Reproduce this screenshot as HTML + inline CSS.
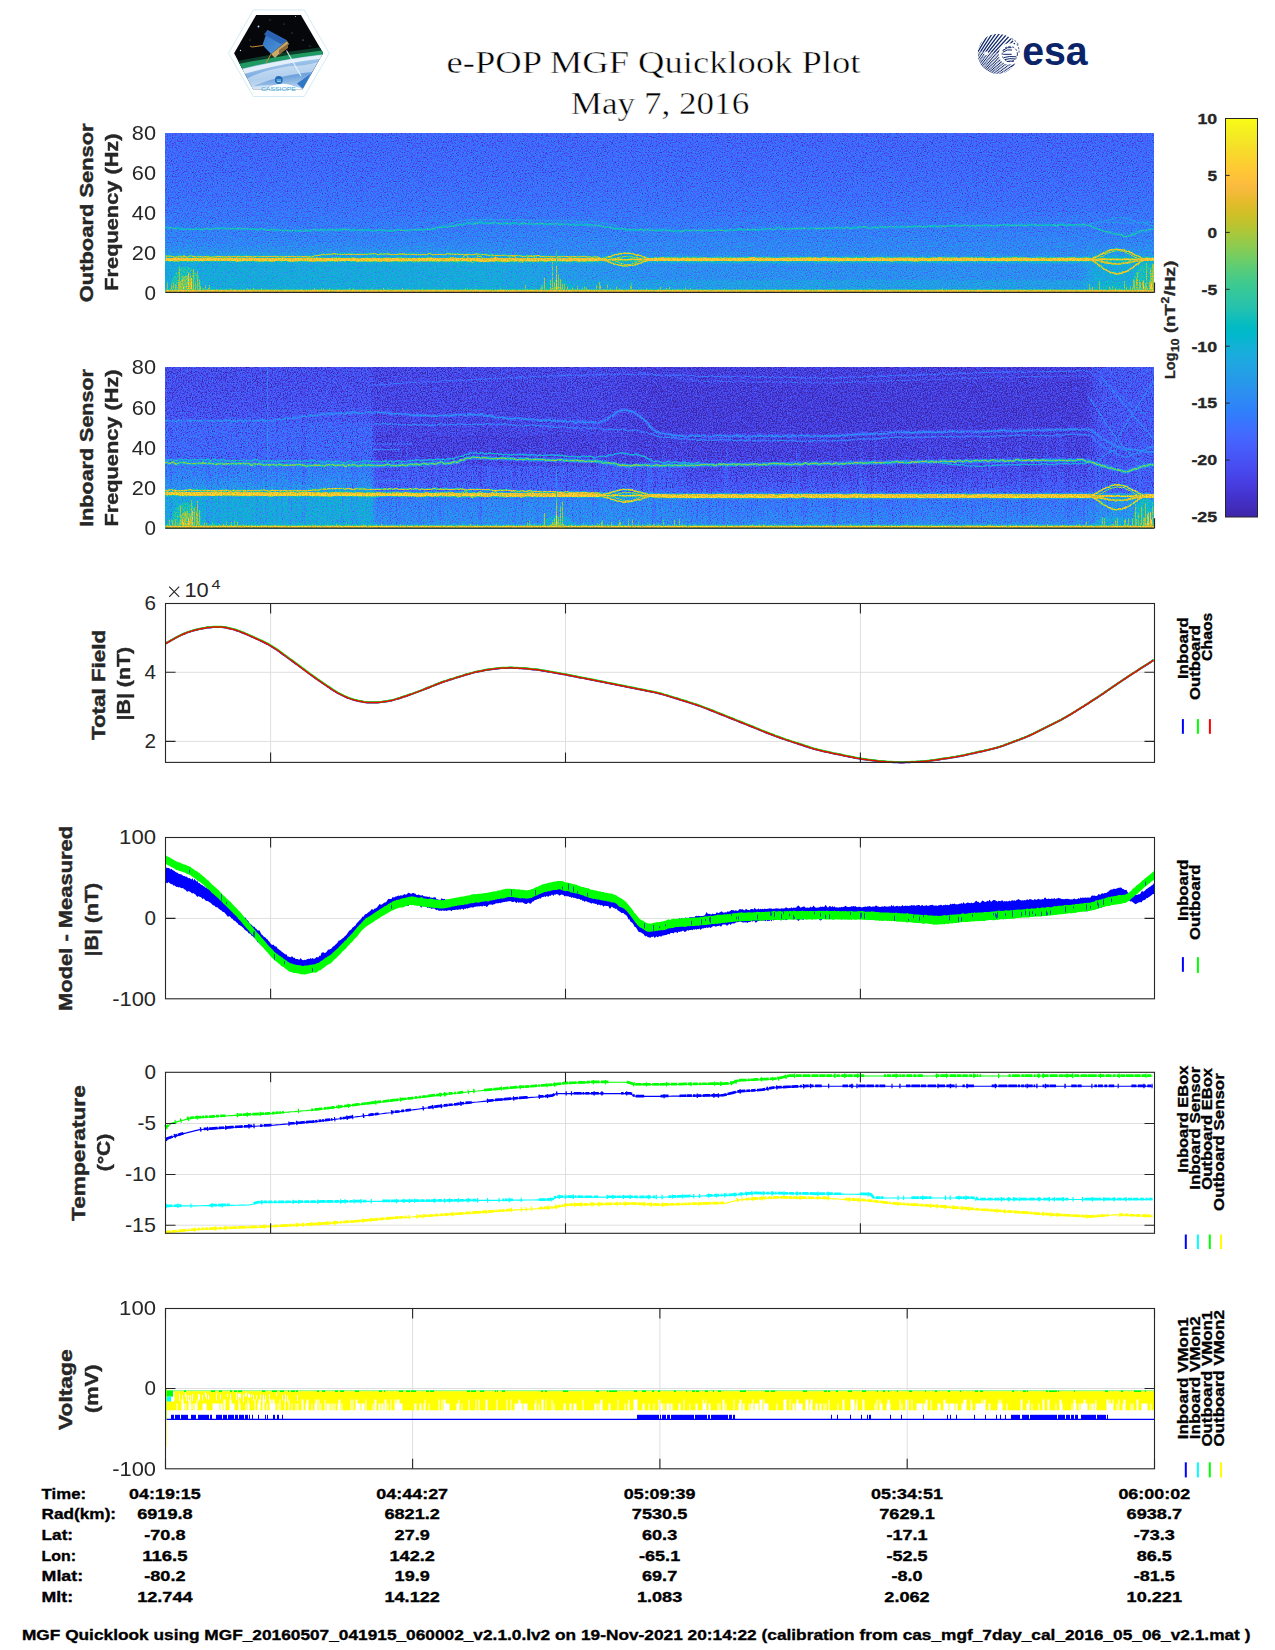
<!DOCTYPE html>
<html><head><meta charset="utf-8"><title>e-POP MGF Quicklook Plot</title>
<style>html,body{margin:0;padding:0;background:#fff;overflow:hidden}svg{display:block}text{font-family:"Liberation Sans",sans-serif}</style></head>
<body>
<svg width="1275" height="1650" viewBox="0 0 1275 1650" font-family="Liberation Sans, sans-serif">
<rect width="1275" height="1650" fill="#fff"/>
<defs>
<clipPath id="hexc"><polygon points="234.1,53.3 256.2,14.9 300.9,14.9 323.1,53 302.6,89.2 253,89.2"/></clipPath>
<linearGradient id="earthg" x1="0" y1="0" x2="0.25" y2="1"><stop offset="0" stop-color="#e2effb"/><stop offset="0.3" stop-color="#a4c8ec"/><stop offset="0.65" stop-color="#6fa3dc"/><stop offset="1" stop-color="#c4dcf3"/></linearGradient>
<linearGradient id="satg" x1="0" y1="0" x2="1" y2="1"><stop offset="0" stop-color="#2f6fc0"/><stop offset="1" stop-color="#4f97dc"/></linearGradient>
<clipPath id="esac"><circle cx="997.8" cy="53.7" r="20.0"/></clipPath>
<linearGradient id="cbg" x1="0" y1="0" x2="0" y2="1"><stop offset="0.0000" stop-color="#f9fb15"/><stop offset="0.0159" stop-color="#f7f51b"/><stop offset="0.0317" stop-color="#f6ef20"/><stop offset="0.0476" stop-color="#f5e924"/><stop offset="0.0635" stop-color="#f5e327"/><stop offset="0.0794" stop-color="#f7dc2a"/><stop offset="0.0952" stop-color="#fad62d"/><stop offset="0.1111" stop-color="#fccf30"/><stop offset="0.1270" stop-color="#fec934"/><stop offset="0.1429" stop-color="#fec338"/><stop offset="0.1587" stop-color="#febe3c"/><stop offset="0.1746" stop-color="#f8ba3d"/><stop offset="0.1905" stop-color="#f0ba36"/><stop offset="0.2063" stop-color="#e6bb2d"/><stop offset="0.2222" stop-color="#dcbd29"/><stop offset="0.2381" stop-color="#d1bf27"/><stop offset="0.2540" stop-color="#c5c22a"/><stop offset="0.2698" stop-color="#b9c431"/><stop offset="0.2857" stop-color="#abc739"/><stop offset="0.3016" stop-color="#9dc943"/><stop offset="0.3175" stop-color="#8fcb4e"/><stop offset="0.3333" stop-color="#81cc59"/><stop offset="0.3492" stop-color="#72cd64"/><stop offset="0.3651" stop-color="#64cd6f"/><stop offset="0.3810" stop-color="#57cc7a"/><stop offset="0.3968" stop-color="#4acb84"/><stop offset="0.4127" stop-color="#3fca8e"/><stop offset="0.4286" stop-color="#37c897"/><stop offset="0.4444" stop-color="#31c69f"/><stop offset="0.4603" stop-color="#2cc4a7"/><stop offset="0.4762" stop-color="#24c1ae"/><stop offset="0.4921" stop-color="#19bfb6"/><stop offset="0.5079" stop-color="#0bbdbd"/><stop offset="0.5238" stop-color="#02bac3"/><stop offset="0.5397" stop-color="#01b8ca"/><stop offset="0.5556" stop-color="#08b5d0"/><stop offset="0.5714" stop-color="#12b1d6"/><stop offset="0.5873" stop-color="#18addb"/><stop offset="0.6032" stop-color="#1ca9df"/><stop offset="0.6190" stop-color="#20a5e3"/><stop offset="0.6349" stop-color="#23a0e5"/><stop offset="0.6508" stop-color="#259be8"/><stop offset="0.6667" stop-color="#2797eb"/><stop offset="0.6825" stop-color="#2b91ef"/><stop offset="0.6984" stop-color="#2d8cf3"/><stop offset="0.7143" stop-color="#2e87f7"/><stop offset="0.7302" stop-color="#2f81fa"/><stop offset="0.7460" stop-color="#327cfc"/><stop offset="0.7619" stop-color="#3875fe"/><stop offset="0.7778" stop-color="#3e6fff"/><stop offset="0.7937" stop-color="#4269fe"/><stop offset="0.8095" stop-color="#4563fd"/><stop offset="0.8254" stop-color="#465efb"/><stop offset="0.8413" stop-color="#4758f8"/><stop offset="0.8571" stop-color="#4852f4"/><stop offset="0.8730" stop-color="#484df0"/><stop offset="0.8889" stop-color="#4747eb"/><stop offset="0.9048" stop-color="#4741e5"/><stop offset="0.9206" stop-color="#463cde"/><stop offset="0.9365" stop-color="#4537d5"/><stop offset="0.9524" stop-color="#4332cb"/><stop offset="0.9683" stop-color="#422ec0"/><stop offset="0.9841" stop-color="#402ab4"/><stop offset="1.0000" stop-color="#3e26a8"/></linearGradient>
<filter id="par1" filterUnits="userSpaceOnUse" x="165.0" y="133.0" width="988.8" height="159.4" color-interpolation-filters="sRGB">
<feTurbulence type="fractalNoise" baseFrequency="0.8" numOctaves="2" seed="7" result="n"/>
<feColorMatrix in="n" type="matrix" values="1 0 0 0 0  1 0 0 0 0  1 0 0 0 0  0 0 0 0 1" result="ng"/>
<feComponentTransfer in="ng" result="ns"><feFuncR type="table" tableValues="0 0.22 0.5 0.66 0.8"/><feFuncG type="table" tableValues="0 0.22 0.5 0.66 0.8"/><feFuncB type="table" tableValues="0 0.22 0.5 0.66 0.8"/></feComponentTransfer>
<feComposite in="SourceGraphic" in2="ns" operator="arithmetic" k1="0" k2="1" k3="0.56" k4="-0.2716" result="v"/>
<feComponentTransfer in="v"><feFuncR type="table" tableValues="0.242 0.250 0.258 0.265 0.271 0.275 0.278 0.280 0.281 0.281 0.280 0.276 0.270 0.260 0.244 0.221 0.196 0.183 0.179 0.176 0.169 0.154 0.146 0.138 0.125 0.111 0.095 0.069 0.030 0.004 0.007 0.043 0.096 0.141 0.172 0.194 0.216 0.247 0.291 0.341 0.391 0.446 0.504 0.562 0.617 0.672 0.724 0.774 0.820 0.863 0.903 0.939 0.973 0.996 0.997 0.995 0.989 0.979 0.968 0.961 0.960 0.963 0.969 0.977"/><feFuncG type="table" tableValues="0.150 0.165 0.182 0.198 0.215 0.234 0.256 0.278 0.301 0.323 0.345 0.367 0.389 0.412 0.436 0.460 0.485 0.507 0.529 0.550 0.570 0.590 0.609 0.628 0.646 0.663 0.680 0.695 0.708 0.720 0.731 0.741 0.750 0.758 0.767 0.776 0.784 0.792 0.797 0.801 0.803 0.802 0.799 0.794 0.788 0.779 0.770 0.760 0.750 0.741 0.733 0.729 0.730 0.743 0.766 0.789 0.814 0.839 0.864 0.889 0.913 0.937 0.961 0.984"/><feFuncB type="table" tableValues="0.660 0.708 0.751 0.795 0.836 0.871 0.899 0.922 0.941 0.958 0.972 0.983 0.991 0.995 0.999 0.997 0.989 0.980 0.968 0.952 0.936 0.922 0.908 0.897 0.888 0.876 0.860 0.839 0.816 0.792 0.766 0.739 0.712 0.684 0.655 0.625 0.592 0.557 0.519 0.479 0.435 0.391 0.348 0.304 0.261 0.223 0.191 0.165 0.153 0.160 0.177 0.210 0.239 0.237 0.220 0.203 0.189 0.177 0.164 0.154 0.142 0.127 0.106 0.081"/></feComponentTransfer>
</filter>
<linearGradient id="s1g" x1="0" y1="0" x2="0" y2="1"><stop offset="0.0000" stop-color="#323232"/><stop offset="0.2500" stop-color="#353535"/><stop offset="0.4375" stop-color="#3a3a3a"/><stop offset="0.5500" stop-color="#3f3f3f"/><stop offset="0.6250" stop-color="#444444"/><stop offset="0.6875" stop-color="#494949"/><stop offset="0.7375" stop-color="#525252"/><stop offset="0.7688" stop-color="#5d5d5d"/><stop offset="0.7875" stop-color="#636363"/><stop offset="0.8187" stop-color="#666666"/><stop offset="0.9500" stop-color="#676767"/><stop offset="0.9812" stop-color="#717171"/><stop offset="1.0000" stop-color="#7c7c7c"/></linearGradient>
<linearGradient id="s1h" gradientUnits="userSpaceOnUse" x1="165.5" y1="0" x2="1154.5" y2="0"><stop offset="0.0000" stop-color="#4c4c4c" stop-opacity="0"/><stop offset="0.3180" stop-color="#4c4c4c" stop-opacity="0.0"/><stop offset="0.3989" stop-color="#4c4c4c" stop-opacity="0.45"/><stop offset="0.4798" stop-color="#4c4c4c" stop-opacity="0.85"/><stop offset="0.9247" stop-color="#4c4c4c" stop-opacity="0.9"/><stop offset="0.9408" stop-color="#4c4c4c" stop-opacity="0"/><stop offset="1.0000" stop-color="#4c4c4c" stop-opacity="0"/></linearGradient>
<linearGradient id="s1h3" gradientUnits="userSpaceOnUse" x1="165.5" y1="0" x2="1154.5" y2="0"><stop offset="0.0000" stop-color="#595959" stop-opacity="0"/><stop offset="0.3180" stop-color="#595959" stop-opacity="0.0"/><stop offset="0.3989" stop-color="#595959" stop-opacity="0.4"/><stop offset="0.4798" stop-color="#595959" stop-opacity="0.8"/><stop offset="0.9247" stop-color="#595959" stop-opacity="0.85"/><stop offset="0.9408" stop-color="#595959" stop-opacity="0"/><stop offset="1.0000" stop-color="#595959" stop-opacity="0"/></linearGradient>
<linearGradient id="s1h2" gradientUnits="userSpaceOnUse" x1="165.5" y1="0" x2="1154.5" y2="0"><stop offset="0.0000" stop-color="#444444" stop-opacity="0"/><stop offset="0.2978" stop-color="#444444" stop-opacity="0.0"/><stop offset="0.3787" stop-color="#444444" stop-opacity="0.5"/><stop offset="0.9247" stop-color="#444444" stop-opacity="0.55"/><stop offset="0.9408" stop-color="#444444" stop-opacity="0"/><stop offset="1.0000" stop-color="#444444" stop-opacity="0"/></linearGradient>
<linearGradient id="s1h4" gradientUnits="userSpaceOnUse" x1="165.5" y1="0" x2="1154.5" y2="0"><stop offset="0.0000" stop-color="#2a2a2a" stop-opacity="0"/><stop offset="0.4393" stop-color="#2a2a2a" stop-opacity="0.0"/><stop offset="0.6416" stop-color="#2a2a2a" stop-opacity="0.08"/><stop offset="0.9449" stop-color="#2a2a2a" stop-opacity="0.1"/><stop offset="1.0000" stop-color="#2a2a2a" stop-opacity="0.0"/></linearGradient>
<filter id="par2" filterUnits="userSpaceOnUse" x="165.0" y="367.2" width="988.8" height="161.0" color-interpolation-filters="sRGB">
<feTurbulence type="fractalNoise" baseFrequency="0.8" numOctaves="2" seed="19" result="n"/>
<feColorMatrix in="n" type="matrix" values="1 0 0 0 0  1 0 0 0 0  1 0 0 0 0  0 0 0 0 1" result="ng"/>
<feComponentTransfer in="ng" result="ns"><feFuncR type="table" tableValues="0 0.22 0.5 0.66 0.8"/><feFuncG type="table" tableValues="0 0.22 0.5 0.66 0.8"/><feFuncB type="table" tableValues="0 0.22 0.5 0.66 0.8"/></feComponentTransfer>
<feComposite in="SourceGraphic" in2="ns" operator="arithmetic" k1="0" k2="1" k3="0.64" k4="-0.3104" result="v"/>
<feComponentTransfer in="v"><feFuncR type="table" tableValues="0.242 0.250 0.258 0.265 0.271 0.275 0.278 0.280 0.281 0.281 0.280 0.276 0.270 0.260 0.244 0.221 0.196 0.183 0.179 0.176 0.169 0.154 0.146 0.138 0.125 0.111 0.095 0.069 0.030 0.004 0.007 0.043 0.096 0.141 0.172 0.194 0.216 0.247 0.291 0.341 0.391 0.446 0.504 0.562 0.617 0.672 0.724 0.774 0.820 0.863 0.903 0.939 0.973 0.996 0.997 0.995 0.989 0.979 0.968 0.961 0.960 0.963 0.969 0.977"/><feFuncG type="table" tableValues="0.150 0.165 0.182 0.198 0.215 0.234 0.256 0.278 0.301 0.323 0.345 0.367 0.389 0.412 0.436 0.460 0.485 0.507 0.529 0.550 0.570 0.590 0.609 0.628 0.646 0.663 0.680 0.695 0.708 0.720 0.731 0.741 0.750 0.758 0.767 0.776 0.784 0.792 0.797 0.801 0.803 0.802 0.799 0.794 0.788 0.779 0.770 0.760 0.750 0.741 0.733 0.729 0.730 0.743 0.766 0.789 0.814 0.839 0.864 0.889 0.913 0.937 0.961 0.984"/><feFuncB type="table" tableValues="0.660 0.708 0.751 0.795 0.836 0.871 0.899 0.922 0.941 0.958 0.972 0.983 0.991 0.995 0.999 0.997 0.989 0.980 0.968 0.952 0.936 0.922 0.908 0.897 0.888 0.876 0.860 0.839 0.816 0.792 0.766 0.739 0.712 0.684 0.655 0.625 0.592 0.557 0.519 0.479 0.435 0.391 0.348 0.304 0.261 0.223 0.191 0.165 0.153 0.160 0.177 0.210 0.239 0.237 0.220 0.203 0.189 0.177 0.164 0.154 0.142 0.127 0.106 0.081"/></feComponentTransfer>
</filter>
<linearGradient id="s2r" x1="0" y1="0" x2="0" y2="1"><stop offset="0.0000" stop-color="#161616"/><stop offset="0.2500" stop-color="#131313"/><stop offset="0.4125" stop-color="#141414"/><stop offset="0.4500" stop-color="#171717"/><stop offset="0.5500" stop-color="#171717"/><stop offset="0.6000" stop-color="#1c1c1c"/><stop offset="0.6875" stop-color="#212121"/><stop offset="0.7500" stop-color="#292929"/><stop offset="0.7812" stop-color="#343434"/><stop offset="0.8125" stop-color="#393939"/><stop offset="0.9000" stop-color="#404040"/><stop offset="0.9625" stop-color="#4a4a4a"/><stop offset="0.9812" stop-color="#5f5f5f"/><stop offset="1.0000" stop-color="#757575"/></linearGradient>
<linearGradient id="s2l" x1="0" y1="0" x2="0" y2="1"><stop offset="0.0000" stop-color="#202020"/><stop offset="0.2250" stop-color="#232323"/><stop offset="0.3312" stop-color="#272727"/><stop offset="0.3500" stop-color="#313131"/><stop offset="0.5000" stop-color="#333333"/><stop offset="0.5750" stop-color="#323232"/><stop offset="0.6125" stop-color="#3f3f3f"/><stop offset="0.6875" stop-color="#494949"/><stop offset="0.7375" stop-color="#535353"/><stop offset="0.7750" stop-color="#5f5f5f"/><stop offset="0.8125" stop-color="#666666"/><stop offset="0.9500" stop-color="#676767"/><stop offset="0.9812" stop-color="#717171"/><stop offset="1.0000" stop-color="#7c7c7c"/></linearGradient>
<linearGradient id="s2m" x1="0" y1="0" x2="1" y2="0"><stop offset="0" stop-color="#fff"/><stop offset="0.975" stop-color="#fff"/><stop offset="1" stop-color="#000"/></linearGradient><mask id="s2mask"><rect x="163.5" y="365.2" width="213.0" height="165.0" fill="url(#s2m)"/></mask>
<linearGradient id="s2h1" gradientUnits="userSpaceOnUse" x1="165.5" y1="0" x2="1154.5" y2="0"><stop offset="0.0000" stop-color="#202020" stop-opacity="0"/><stop offset="0.2103" stop-color="#202020" stop-opacity="0"/><stop offset="0.2144" stop-color="#202020" stop-opacity="0.6"/><stop offset="0.4393" stop-color="#202020" stop-opacity="0.55"/><stop offset="0.4899" stop-color="#202020" stop-opacity="0"/><stop offset="1.0000" stop-color="#202020" stop-opacity="0"/></linearGradient>
<linearGradient id="s2h2" gradientUnits="userSpaceOnUse" x1="165.5" y1="0" x2="1154.5" y2="0"><stop offset="0.0000" stop-color="#2d2d2d" stop-opacity="0"/><stop offset="0.9297" stop-color="#2d2d2d" stop-opacity="0"/><stop offset="0.9449" stop-color="#2d2d2d" stop-opacity="0.7"/><stop offset="1.0000" stop-color="#2d2d2d" stop-opacity="0.85"/></linearGradient>
<linearGradient id="s2h3" gradientUnits="userSpaceOnUse" x1="165.5" y1="0" x2="1154.5" y2="0"><stop offset="0.0000" stop-color="#626262" stop-opacity="0"/><stop offset="0.9297" stop-color="#626262" stop-opacity="0"/><stop offset="0.9499" stop-color="#626262" stop-opacity="0.5"/><stop offset="1.0000" stop-color="#626262" stop-opacity="0.8"/></linearGradient>
<linearGradient id="s2h4" gradientUnits="userSpaceOnUse" x1="165.5" y1="0" x2="1154.5" y2="0"><stop offset="0.0000" stop-color="#575757" stop-opacity="0"/><stop offset="0.2103" stop-color="#575757" stop-opacity="0"/><stop offset="0.2133" stop-color="#575757" stop-opacity="0.3"/><stop offset="0.3079" stop-color="#575757" stop-opacity="0.4"/><stop offset="0.3787" stop-color="#575757" stop-opacity="0.6"/><stop offset="0.4899" stop-color="#575757" stop-opacity="0.5"/><stop offset="0.5607" stop-color="#575757" stop-opacity="0.1"/><stop offset="1.0000" stop-color="#575757" stop-opacity="0.05"/></linearGradient>
<linearGradient id="s2h5" gradientUnits="userSpaceOnUse" x1="165.5" y1="0" x2="1154.5" y2="0"><stop offset="0.0000" stop-color="#373737" stop-opacity="0"/><stop offset="0.2103" stop-color="#373737" stop-opacity="0"/><stop offset="0.2133" stop-color="#373737" stop-opacity="0.3"/><stop offset="0.3989" stop-color="#373737" stop-opacity="0.5"/><stop offset="0.4798" stop-color="#373737" stop-opacity="0.4"/><stop offset="0.5404" stop-color="#373737" stop-opacity="0.05"/><stop offset="1.0000" stop-color="#373737" stop-opacity="0.0"/></linearGradient>
<path id="q1" d="M165.5,1139.5l3-1.1 3-1.1 3-1 3-.9 3-.9 3-.9 3-.7 3-.8 3-.7 3-.8 3-.7 3-.4 3-.2 3-.2 3-.2 3-.2 3-.2 3-.2 3-.2 3-.2 3-.2 3-.2 3-.2 3-.2 3-.2 3-.2 3-.1 3-.2 3-.1 3-.1 3-.2 3-.1 3-.2 3-.1 3-.2 3-.2 3-.3 3-.2 3-.3 3-.3 3-.2 3-.3 3-.2 3-.3 3-.2 3-.3 3-.2 3-.3 3-.2 3-.3 3-.3 3-.4 3-.3 3-.4 3-.3 3-.4 3-.4 3-.3 3-.4 3-.3 3-.4 3-.4 3-.3 3-.4 3-.3 3-.4 3-.4 3-.3 3-.4 3-.3 3-.4 3-.3 3-.4 3-.4 3-.3 3-.4 3-.4 3-.3 3-.4 3-.4 3-.4 3-.4 3-.4 3-.4 3-.4 3-.4 3-.4 3-.3 3-.4 3-.4 3-.4 3-.3 3-.4 3-.4 3-.3 3-.4 3-.3 3-.4 3-.4 3-.3 3-.4 3-.3 3-.4 3-.2 3-.3 3-.3 3-.3 3-.2 3-.3 3-.3 3-.3 3-.2 3-.3 3-.3 3-.3 3-.2 3-.2 3-.3 3-.2 3-.2 3-.2 3-.2 3-.2 3-.2 3-.2 3-.2 3-.2 3-.2 3-.5 3-1.8 3-.3 3 0 3 0 3 0 3 0 3 0 3 0 3 0 3 0 3 0 3 0 3 0 3 0 3 0 3 0 3 0 3 0 3 0 3 0 3 0 3 0 3 0 3 0 3 0 3 0 3 2.1 3 .7 3 0 3 0 3 0 3 0 3 0 3 0 3 0 3 0 3 0 3-.1 3 0 3-.1 3 0 3 0 3-.1 3 0 3-.1 3 0 3 0 3-.1 3 0 3 0 3-.1 3 0 3-.1 3 0 3 0 3-.1 3-.2 3-.7 3-.8 3-.7 3-.8 3-.7 3-.2 3-.2 3-.2 3-.2 3-.2 3-.2 3-.2 3-.3 3-.6 3-.6 3-.6 3-.4 3-.2 3-.1 3-.1 3-.2 3-.1 3-.2 3-.1 3-.1 3-.2 3-.1 3-.1 3-.1 3 0 3 0 3 0 3 0 3 0 3 0 3 0 3 0 3 0 3 0 3 0 3 0 3 0 3 0 3 0 3 0 3 0 3 0 3 0 3 0 3 0 3 0 3 0 3 0 3 0 3 0 3 0 3 0 3 0 3 0 3 0 3 0 3 0 3 0 3 0 3 0 3 0 3 0 3 0 3 0 3 0 3 0 3 0 3 0 3 0 3 0 3 0 3 0 3 0 3 0 3 0 3 0 3 0 3 0 3 0 3 0 3 0 3 0 3 0 3 0 3 0 3 0 3 0 3 0 3 0 3 0 3 0 3 0 3 0 3 0 3 0 3 0 3 0 3 0 3 0 3 0 3 0 3 0 3 0 3 0 3 0 3 0 3 0 3 0 3 0 3 0 3 0 3 0 3 0 3 0 3 0 3 0 3 0 3 0 3 0 3 0 3 0 3 0 3 0 3 0 3 0 3 0 3 0 3 0 3 0 3 0 3 0 3 0 3 0 3 0 3 0 3 0 3 0 3 0"/>
<path id="q2" d="M165.5,1206.2l3 0 3-.1 3 0 3-.1 3 0 3-.1 3 0 3 0 3-.1 3 0 3-.1 3 0 3-.1 3 0 3 0 3-.1 3 0 3-.1 3 0 3-.1 3 0 3 0 3-.1 3 0 3-.1 3 0 3-.1 3 0 3-.8 3-1 3-.8 3 0 3-.1 3 0 3 0 3 0 3-.1 3 0 3 0 3 0 3-.1 3 0 3 0 3 0 3-.1 3 0 3 0 3-.1 3 0 3 0 3 0 3-.1 3 0 3 0 3 0 3-.1 3 0 3 0 3 0 3-.1 3 0 3 0 3-.1 3 0 3 0 3 0 3-.1 3 0 3 0 3 0 3-.1 3 0 3 0 3 0 3-.1 3 0 3 0 3-.1 3 0 3 0 3 0 3-.1 3 0 3 0 3 0 3-.1 3 0 3 0 3 0 3-.1 3 0 3 0 3 0 3-.1 3 0 3 0 3-.1 3 0 3 0 3 0 3-.1 3 0 3 0 3 0 3-.1 3 0 3 0 3 0 3-.1 3 0 3 0 3-.1 3 0 3 0 3 0 3-.1 3 0 3 0 3 0 3-.1 3 0 3 0 3 0 3-.1 3 0 3 0 3-.1 3 0 3-.4 3-2 3-.4 3 0 3 0 3 0 3 0 3 0 3 0 3 0 3 .1 3 0 3 0 3 0 3 0 3 0 3 0 3 0 3 0 3 0 3 0 3 0 3 0 3 0 3 0 3 0 3 0 3 0 3 .1 3 0 3 0 3 0 3 0 3 0 3 0 3 0 3 0 3-.1 3-.1 3-.1 3-.1 3 0 3-.1 3-.1 3-.1 3-.1 3-.1 3 0 3-.1 3-.1 3-.1 3-.1 3-.1 3-.1 3 0 3-.1 3-.1 3-.1 3-.1 3-.1 3-.2 3-.2 3-.2 3-.3 3-.2 3-.3 3-.2 3-.3 3 0 3 .1 3 0 3 0 3 0 3 .1 3 0 3 0 3 0 3 .1 3 0 3 0 3 .1 3 0 3 0 3 0 3 .1 3 0 3 0 3 .1 3 0 3 0 3 0 3 .1 3 0 3 0 3 .1 3 0 3 0 3 0 3 .1 3 0 3 0 3 0 3 .1 3 0 3 0 3 .1 3 0 3 3.2 3 .4 3 0 3 0 3 0 3 0 3 0 3 0 3 0 3 0 3 0 3 0 3 0 3 0 3 0 3 0 3 0 3 0 3 0 3 0 3 0 3 0 3 0 3 0 3 0 3 0 3 0 3 0 3 0 3 0 3 0 3 0 3 0 3 0 3 .7 3 .8 3 0 3 0 3 0 3 0 3 0 3 0 3 0 3 0 3 0 3 0 3 0 3 0 3 0 3 0 3 0 3 0 3 0 3 0 3 0 3 0 3 0 3 0 3 0 3 0 3 0 3 0 3 0 3 0 3 0 3 0 3 0 3 0 3 0 3 0 3 0 3 0 3 0 3 0 3 0 3 0 3 0 3 0 3 0 3 0 3 0 3 0 3 0 3 0 3 0 3 0 3 0 3 0 3 0 3 0 3 0 3 0 3 0 3 0"/>
<path id="q3" d="M165.5,1127.8l3-2.2 3-2.3 3-.9 3-.8 3-.8 3-.7 3-.8 3-.8 3-.6 3-.1 3-.2 3-.2 3-.2 3-.2 3-.1 3-.2 3-.2 3-.2 3-.2 3-.1 3-.2 3-.2 3-.2 3-.1 3-.2 3-.2 3-.1 3-.2 3-.1 3-.1 3-.2 3-.1 3-.2 3-.1 3-.2 3-.2 3-.3 3-.2 3-.3 3-.3 3-.2 3-.3 3-.2 3-.3 3-.2 3-.3 3-.2 3-.3 3-.2 3-.3 3-.3 3-.4 3-.3 3-.4 3-.3 3-.4 3-.4 3-.3 3-.4 3-.3 3-.4 3-.4 3-.3 3-.4 3-.3 3-.4 3-.4 3-.3 3-.4 3-.3 3-.4 3-.3 3-.4 3-.4 3-.3 3-.4 3-.3 3-.4 3-.4 3-.3 3-.4 3-.3 3-.4 3-.4 3-.3 3-.4 3-.3 3-.4 3-.4 3-.3 3-.3 3-.4 3-.3 3-.3 3-.4 3-.3 3-.3 3-.3 3-.4 3-.3 3-.3 3-.4 3-.3 3-.2 3-.3 3-.3 3-.2 3-.3 3-.3 3-.2 3-.3 3-.3 3-.2 3-.3 3-.3 3-.2 3-.3 3-.2 3-.2 3-.2 3-.2 3-.2 3-.2 3-.3 3-.2 3-.2 3-.2 3-.2 3-.3 3-.3 3-.4 3-.3 3-.4 3-.2 3-.1 3-.1 3-.2 3-.1 3-.1 3-.1 3-.2 3-.1 3 0 3 0 3 0 3 0 3 0 3 0 3 0 3 0 3 0 3 0 3 0 3 .2 3 .9 3 .9 3 .3 3 0 3 0 3 0 3 0 3 0 3 0 3 0 3 0 3 0 3-.1 3 0 3 0 3-.1 3 0 3 0 3-.1 3 0 3 0 3-.1 3 0 3 0 3-.1 3 0 3 0 3-.1 3 0 3-.1 3 0 3 0 3-.1 3 0 3-.8 3-1.1 3-1.2 3-.2 3-.1 3-.1 3-.2 3-.1 3-.2 3-.1 3-.2 3-.1 3-.2 3-.1 3-.1 3-.2 3-.7 3-.7 3-.7 3-.7 3 0 3 0 3 0 3 0 3 0 3 0 3 0 3 0 3 0 3 0 3 0 3 0 3 0 3 0 3 0 3 0 3 0 3 0 3 0 3 0 3 0 3 0 3 0 3 0 3 0 3 0 3 0 3 0 3 0 3 0 3 0 3 0 3 0 3 0 3 0 3 0 3 0 3 0 3 0 3 0 3 0 3 0 3 0 3 0 3 0 3 0 3 0 3 0 3 0 3 0 3 0 3 0 3 0 3 0 3 0 3 0 3 0 3 0 3 0 3 0 3 0 3 0 3 0 3 0 3 0 3 0 3 0 3 0 3 0 3 0 3 0 3 0 3 0 3 0 3 0 3 0 3 0 3 0 3 0 3 0 3 0 3 0 3 0 3 0 3 0 3 0 3 0 3 0 3 0 3 0 3 0 3 0 3 0 3 0 3 0 3 0 3 0 3 0 3 0 3 0 3 0 3 0 3 0 3 0 3 0 3 0 3 0 3 0 3 0 3 0 3 0 3 0 3 0 3 0 3 0 3 0 3 0 3 0 3 0 3 0 3 0"/>
<path id="q4" d="M165.5,1232.5l3-.3 3-.3 3-.3 3-.2 3-.3 3-.3 3-.3 3-.3 3-.3 3-.2 3-.3 3-.2 3-.1 3-.1 3-.1 3-.1 3-.2 3-.1 3-.1 3-.1 3-.1 3-.1 3-.1 3-.1 3-.2 3-.1 3-.1 3-.1 3-.1 3-.1 3-.1 3-.2 3-.1 3-.1 3-.1 3-.2 3-.1 3-.2 3-.1 3-.2 3-.1 3-.2 3-.1 3-.2 3-.1 3-.2 3-.2 3-.1 3-.2 3-.1 3-.2 3-.2 3-.2 3-.2 3-.2 3-.2 3-.3 3-.2 3-.2 3-.2 3-.2 3-.2 3-.2 3-.2 3-.3 3-.3 3-.2 3-.3 3-.3 3-.2 3-.3 3-.3 3-.2 3-.3 3-.3 3-.2 3-.3 3-.2 3-.1 3-.2 3-.2 3-.2 3-.2 3-.2 3-.1 3-.2 3-.2 3-.2 3-.2 3-.2 3-.2 3-.2 3-.2 3-.2 3-.2 3-.2 3-.2 3-.2 3-.2 3-.2 3-.2 3-.2 3-.3 3-.2 3-.2 3-.2 3-.2 3-.2 3-.2 3-.3 3-.2 3-.2 3-.2 3-.2 3-.2 3-.2 3-.2 3-.2 3-.2 3-.1 3-.2 3-.2 3-.2 3-.1 3-.2 3-.2 3-.2 3-.2 3-.2 3-.5 3-.6 3-.5 3-.5 3-.5 3-.2 3 0 3-.1 3 0 3-.1 3 0 3-.1 3-.1 3 0 3-.1 3 0 3-.1 3 0 3-.1 3-.1 3 0 3-.1 3 0 3-.1 3 0 3-.1 3 .1 3 .1 3 .2 3 .1 3 .1 3 .1 3 .2 3 .1 3 .1 3 .1 3-.1 3-.1 3-.1 3-.1 3 0 3-.1 3-.1 3-.1 3-.1 3-.1 3-.1 3 0 3-.1 3-.1 3-.1 3-.1 3-.1 3-.1 3 0 3-.1 3-.1 3-.1 3-.8 3-.8 3-.8 3-.8 3-.2 3-.2 3-.1 3-.2 3-.2 3-.2 3-.1 3-.2 3-.2 3-.2 3-.1 3-.2 3-.2 3 0 3 .1 3 0 3 .1 3 0 3 .1 3 0 3 .1 3 0 3 0 3 .1 3 0 3 .1 3 0 3 .1 3 0 3 .2 3 .2 3 .1 3 .2 3 .2 3 .1 3 .2 3 .2 3 .1 3 .2 3 .2 3 .1 3 .2 3 .2 3 .3 3 .3 3 .4 3 .3 3 .4 3 .3 3 .3 3 .4 3 .3 3 .2 3 .2 3 .2 3 .2 3 .2 3 .2 3 .1 3 .2 3 .2 3 .2 3 .2 3 .2 3 .1 3 .3 3 .2 3 .2 3 .3 3 .2 3 .2 3 .3 3 .2 3 .3 3 .2 3 .2 3 .3 3 .2 3 .2 3 .2 3 .3 3 .2 3 .2 3 .2 3 .2 3 .2 3 .2 3 .3 3 .2 3 .2 3 .2 3 .2 3 .2 3 .2 3 .2 3 .2 3 .2 3 .2 3 .3 3 .2 3 .2 3 .2 3 .2 3 .2 3 .2 3 .1 3 .2 3 .1 3 .2 3 .1 3 .2 3 .1 3 .2 3 .1 3 .2 3 .2 3 .1 3 0 3-.2 3-.3 3-.3 3-.2 3-.3 3-.2 3-.3 3 0 3 .1 3 .1 3 .1 3 .1 3 .2 3 .1 3 .1 3 .1 3 .2 3 .1 3 .1 3 .1"/>
</defs>
<text font-size="30.5" text-anchor="middle" fill="#000" style="font-family:'Liberation Serif',serif" textLength="414.0" lengthAdjust="spacingAndGlyphs" x="653.5" y="73.3" stroke="#fff" stroke-width="0.45">e-POP MGF Quicklook Plot</text>
<text font-size="30.5" text-anchor="middle" fill="#000" style="font-family:'Liberation Serif',serif" textLength="178.5" lengthAdjust="spacingAndGlyphs" x="660.0" y="113.6" stroke="#fff" stroke-width="0.45">May 7, 2016</text>
<polygon points="228.5,53.2 253.4,9.9 304.2,9.9 329.2,53.2 304.2,96.5 253.4,96.5" fill="#fff" stroke="#bfe3f2" stroke-width="0.7"/>
<g clip-path="url(#hexc)">
<rect x="230" y="10" width="100" height="85" fill="#05070b"/>
<path d="M230,62.5 Q278,52.5 326,46.5 L326,56 Q278,62 232,74 Z" fill="#0c3b2a"/>
<path d="M232,65.5 Q278,55.5 326,50 L326,56 Q278,61.5 234,72 Z" fill="#1f9a63"/>
<path d="M234,70.5 Q278,59.5 326,54 L326,95 L236,95 Z" fill="url(#earthg)"/>
<path d="M236,70.8 Q278,60 326,54.5 L326,58 Q278,63.5 239,75.5 Z" fill="#eaf4fc" opacity="0.9"/>
<path d="M244,80 Q262,70 290,66 Q305,66 318,62 L312,72 Q290,74 270,80 Q258,84 250,88 Z" fill="#e8f2fb" opacity="0.55"/>
<path d="M262,95 Q270,82.5 286,84 Q296,86 303,89.5 L303,95 Z" fill="#fff"/>
<path d="M247,88 Q260,84 282,86 L300,92 L247,92 Z" fill="#fff" opacity="0.55"/>
<circle cx="258.5" cy="26.5" r="0.9" fill="#cfd6ff"/>
<circle cx="240.5" cy="50.5" r="0.7" fill="#cfd6ff"/>
<circle cx="295.5" cy="16.5" r="0.5" fill="#cfd6ff"/>
<circle cx="303" cy="40" r="0.5" fill="#cfd6ff"/>
<circle cx="284" cy="24" r="0.4" fill="#cfd6ff"/>
<circle cx="270" cy="20" r="0.4" fill="#cfd6ff"/>
<circle cx="310" cy="46" r="0.4" fill="#cfd6ff"/>
<circle cx="250" cy="40" r="0.4" fill="#cfd6ff"/>
<circle cx="292" cy="33" r="0.4" fill="#cfd6ff"/>
<polygon points="267.5,30 287,40.5 271,54 262.5,45" fill="url(#satg)"/>
<polygon points="267.5,30 287,40.5 281,44 264,34.5" fill="#2a62b4"/>
<polygon points="287,41 289,44 275,58 271,54" fill="#c9a86a"/>
<polygon points="279,50 288,43.5 288,48 279,55" fill="#8c6a3a"/>
<path d="M263,45.5 L252,47 M271,54 L266,63 M252,47 l-2,-1" stroke="#c98b2e" stroke-width="1" fill="none"/>
<path d="M286.5,50.5 L301,76" stroke="#eef6ff" stroke-width="1.1" opacity="0.9"/>
<polygon points="297,83.5 310.5,74 303,89" fill="#2f77c6"/>
<circle cx="278.8" cy="80" r="3.9" fill="#1f6cb8"/><path d="M276.5,80 h4.5 M277,81.6 h4" stroke="#dff" stroke-width="0.7"/>
</g>
<text x="278.4" y="90.5" font-size="5.2" text-anchor="middle" fill="#3aa9d9" textLength="35" lengthAdjust="spacingAndGlyphs">CASSIOPE</text>
<g clip-path="url(#esac)">
<path d="M947.0,113.0Q997.0,87.4 1050.8,71.0M947.0,113.0Q996.2,85.8 1049.5,67.8M947.0,113.0Q995.4,84.3 1048.0,64.7M947.0,113.0Q994.4,82.8 1046.5,61.6M947.0,113.0Q993.5,81.4 1044.8,58.5M947.0,113.0Q992.5,80.0 1043.1,55.5M947.0,113.0Q991.4,78.6 1041.3,52.5M947.0,113.0Q990.3,77.2 1039.3,49.6M947.0,113.0Q989.2,75.9 1037.3,46.8M947.0,113.0Q988.0,74.6 1035.2,44.0M947.0,113.0Q986.8,73.3 1033.0,41.3M947.0,113.0Q985.6,72.1 1030.8,38.7M947.0,113.0Q984.3,70.9 1028.4,36.1M947.0,113.0Q983.0,69.8 1026.0,33.6M947.0,113.0Q981.6,68.7 1023.5,31.2M947.0,113.0Q980.2,67.6 1020.9,28.9M947.0,113.0Q978.8,66.6 1018.3,26.6M947.0,113.0Q977.3,65.7 1015.6,24.4M947.0,113.0Q975.8,64.7 1012.8,22.3M947.0,113.0Q974.3,63.9 1009.9,20.3M947.0,113.0Q972.8,63.0 1007.0,18.4M947.0,113.0Q971.2,62.3 1004.0,16.6M947.0,113.0Q969.6,61.5 1001.0,14.9M947.0,113.0Q968.0,60.9 998.0,13.3M947.0,113.0Q966.4,60.2 994.8,11.7M947.0,113.0Q964.7,59.7 991.7,10.3M947.0,113.0Q963.1,59.1 988.4,9.0" stroke="#0b2469" stroke-width="1.25" fill="none"/>
<path d="M968.0,50.0L994.0,80.0M970.3,50.2L996.3,80.2M972.6,50.5L998.6,80.5M974.9,50.7L1000.9,80.7M977.2,50.9L1003.2,80.9M979.5,51.1L1005.5,81.2M981.8,51.4L1007.8,81.4M984.1,51.6L1010.1,81.6M986.4,51.8L1012.4,81.8M988.7,52.1L1014.7,82.1M991.0,52.3L1017.0,82.3M993.3,52.5L1019.3,82.5M995.6,52.8L1021.6,82.8M997.9,53.0L1023.9,83.0" stroke="#fff" stroke-width="0.9" fill="none" opacity="0.7"/>
</g>
<circle cx="1009.4" cy="53.9" r="10.7" fill="#fff"/>
<circle cx="1009.8" cy="54.0" r="7.6" fill="none" stroke="#0b2469" stroke-width="0.9" stroke-dasharray="2.2 1.6"/>
<path d="M1003.5,50.2q3.5,-3.6 8,-2.6M1003,52.2q4,-3.4 9,-2.2M1003.2,54.3h8.5M1003.8,57.6q5,-1.8 12.5,-0.8M1004.8,59.6q5,-1.6 10.5,-0.6M1006.8,61.6q3.5,-1 7,-0.3" stroke="#0b2469" stroke-width="1.0" fill="none"/>
<path d="M1011.5,38.5q5,2.5 7.5,7M1017,44q2.5,4.5 2,10" stroke="#0b2469" stroke-width="0.8" fill="none" stroke-dasharray="2 1.5"/>
<circle cx="986.2" cy="53.3" r="1.9" fill="#fff"/>
<text x="1022.2" y="65.0" font-size="40" font-weight="bold" fill="#0b2469" textLength="65.5" lengthAdjust="spacingAndGlyphs">esa</text>
<rect x="1225.5" y="118.5" width="32.0" height="398.5" fill="url(#cbg)" stroke="#262626" stroke-width="1"/>
<text font-size="14.6" text-anchor="end" fill="#262626" font-weight="bold" stroke="#262626" stroke-width="0.32" textLength="19.7" lengthAdjust="spacingAndGlyphs" x="1217.2" y="123.8" >10</text>
<path d="M1225.5,175.4 h4.2" stroke="#262626" stroke-width="1"/>
<text font-size="14.6" text-anchor="end" fill="#262626" font-weight="bold" stroke="#262626" stroke-width="0.32" textLength="9.6" lengthAdjust="spacingAndGlyphs" x="1217.2" y="180.7" >5</text>
<path d="M1225.5,232.4 h4.2" stroke="#262626" stroke-width="1"/>
<text font-size="14.6" text-anchor="end" fill="#262626" font-weight="bold" stroke="#262626" stroke-width="0.32" textLength="9.6" lengthAdjust="spacingAndGlyphs" x="1217.2" y="237.6" >0</text>
<path d="M1225.5,289.3 h4.2" stroke="#262626" stroke-width="1"/>
<text font-size="14.6" text-anchor="end" fill="#262626" font-weight="bold" stroke="#262626" stroke-width="0.32" textLength="15.6" lengthAdjust="spacingAndGlyphs" x="1217.2" y="294.5" >-5</text>
<path d="M1225.5,346.2 h4.2" stroke="#262626" stroke-width="1"/>
<text font-size="14.6" text-anchor="end" fill="#262626" font-weight="bold" stroke="#262626" stroke-width="0.32" textLength="25.8" lengthAdjust="spacingAndGlyphs" x="1217.2" y="351.5" >-10</text>
<path d="M1225.5,403.1 h4.2" stroke="#262626" stroke-width="1"/>
<text font-size="14.6" text-anchor="end" fill="#262626" font-weight="bold" stroke="#262626" stroke-width="0.32" textLength="25.8" lengthAdjust="spacingAndGlyphs" x="1217.2" y="408.4" >-15</text>
<path d="M1225.5,460.1 h4.2" stroke="#262626" stroke-width="1"/>
<text font-size="14.6" text-anchor="end" fill="#262626" font-weight="bold" stroke="#262626" stroke-width="0.32" textLength="25.8" lengthAdjust="spacingAndGlyphs" x="1217.2" y="465.3" >-20</text>
<text font-size="14.6" text-anchor="end" fill="#262626" font-weight="bold" stroke="#262626" stroke-width="0.32" textLength="25.8" lengthAdjust="spacingAndGlyphs" x="1217.2" y="522.2" >-25</text>
<g transform="translate(1175.3,319.5) rotate(-90)" font-weight="bold" fill="#262626" stroke="#262626" stroke-width="0.3" font-size="14.6"><text x="-59.5" y="0" textLength="26.5" lengthAdjust="spacingAndGlyphs">Log</text><text x="-32.5" y="3.6" font-size="10.6" textLength="13.5" lengthAdjust="spacingAndGlyphs">10</text><text x="-13.5" y="0" textLength="29" lengthAdjust="spacingAndGlyphs">(nT</text><text x="16" y="-6.2" font-size="10.6" textLength="6.8" lengthAdjust="spacingAndGlyphs">2</text><text x="23.5" y="0" textLength="35.5" lengthAdjust="spacingAndGlyphs">/Hz)</text></g>
<g filter="url(#par1)">
<rect x="163.5" y="131.0" width="993.0" height="163.4" fill="url(#s1g)"/>
<rect x="165.5" y="263.3" width="989.0" height="17.1" fill="url(#s1h)"/>
<rect x="165.5" y="280.4" width="989.0" height="9.6" fill="url(#s1h3)"/>
<rect x="165.5" y="246.6" width="989.0" height="11.4" fill="url(#s1h2)"/>
<rect x="165.5" y="133.0" width="989.0" height="79.7" fill="url(#s1h4)"/>
<path d="M165,227.4l1 0 1 0 1 .3 1 .4 1 .2 1-.2 1 0 1 .3 1 .2 1-.3 1-.1 1 0 1 .5 1 .2 1-.3 1-.2 1 .3 1 .3 1 .1 1-.2 1 .7 1 0 1-.2 1-.5 1 .2 1 .2 1 0 1 .2 1-.3 1-.1 1-.6 1-.2 1-.1 1 .5 1 .1 1 .2 1-.3 1 .2 1-.4 1 .2 1-.4 1 .3 1-.2 1 .3 1 .2 1 .1 1 0 1 .1 1 .1 1 0 1-.2 1 .1 1 .2 1-.2 1-.4 1-.2 1 .2 1 .2 1 .1 1-.1 1 .1 1-.1 1 .2 1-.2 1-.1 1-.6 1 .1 1-.2 1 .1 1 .3 1 .3 1 .3 1 0 1-.2 1-.2 1-.3 1 0 1 .2 1 .2 1-.1 1 .2 1 .1 1 .3 1 .3 1-.3 1 .1 1-.3 1 .3 1-.1 1 .5 1-.2 1 .4 1-.4 1 .2 1-.3 1-.1 1 0 1 .1 1-.1 1-.2 1 0 1 .2 1 0 1 0 1 .4 1 .3 1-.1 1 .1 1-.2 1 .2 1 0 1-.2 1-.2 1-.2 1 .4 1 .1 1 .2 1-.2 1-.3 1-.3 1 .4 1 .5 1 .2 1-.1 1-.1 1 0 1 0 1 0 1-.1 1-.2 1 .2 1 .4 1 .4 1-.2 1 0 1-.1 1-.2 1-.1 1-.1 1 .3 1-.1 1 .1 1-.2 1-.2 1 .1 1-.1 1 .2 1 .1 1-.1 1 0 1-.2 1-.1 1-.1 1-.2 1 .2 1 .1 1 .4 1 .1 1-.3 1-.2 1-.3 1 .4 1-.1 1 .5 1-.4 1 .4 1 0 1 .2 1 .1 1-.4 1 0 1-.5 1-.1 1-.3 1 0 1 .1 1 .1 1 .1 1 0 1-.1 1-.1 1 .4 1 .3 1 .3 1-.4 1-.3 1-.3 1 .2 1 0 1-.1 1 .2 1 .2 1 .3 1 0 1-.2 1-.3 1 0 1 .3 1 .4 1-.3 1 0 1-.2 1-.1 1-.2 1-.3 1 .2 1 0 1 .4 1 .3 1 .2 1 0 1 0 1-.1 1 .3 1-.3 1 .1 1 0 1 .1 1-.1 1-.2 1-.1 1-.2 1 .1 1 .3 1 .5 1-.1 1-.2 1-.1 1-.2 1-.2 1-.2 1 .4 1 .2 1-.2 1-.4 1 .1 1 .3 1 .2 1-.4 1 0 1 .1 1 0 1 .1 1-.3 1 .1 1-.3 1 .2 1-.2 1 .3 1-.4 1 0 1-.5 1 .2 1-.2 1 0 1-.2 1-.1 1 .1 1-.1 1 .2 1-.1 1 .4 1-.4 1-.2 1-.5 1 .1 1 0 1 0 1-.2 1-.1 1-.6 1-.2 1 0 1 .2 1-.4 1-.2 1-.1 1 0 1 0 1-.2 1 0 1-.3 1 .1 1-.3 1-.4 1-.1 1-.1 1 .3 1-.4 1 0 1-.5 1-.1 1-.2 1-.1 1-.1 1 0 1-.3 1-.3 1-.1 1-.4 1-.4 1-.4 1 .2 1 0 1 .3 1-.5 1-.1 1-.3 1 .5 1 .4 1 0 1 0 1-.1 1-.1 1 0 1-.1 1 .5 1 .2 1 0 1-.2 1 .1 1 0 1-.2 1-.3 1 .3 1-.1 1-.1 1-.3 1 .3 1-.2 1-.1 1 .4 1 .2 1 .1 1-.3 1-.1 1 .2 1 .1 1 .3 1-.2 1-.3 1 .2 1 .1 1 .4 1-.1 1-.1 1-.2 1-.3 1 .1 1-.2 1 .4 1 .1 1 .5 1-.1 1-.1 1-.4 1-.2 1 .3 1 .2 1 .1 1 0 1-.2 1-.1 1 .1 1-.1 1-.1 1 0 1 .3 1-.3 1-.3 1 .3 1 .5 1 .2 1-.3 1-.2 1 0 1-.1 1 .5 1 .1 1 .2 1-.5 1-.3 1 .5 1 .2 1 .5 1-.7 1-.1 1-.2 1 .3 1 .9 1-.2 1 .2 1-.7 1 .1 1-.2 1 .3 1-.1 1 .3 1-.1 1 .1 1 .1 1-.2 1 .2 1 .1 1 .1 1-.2 1-.2 1-.1 1 .5 1 .3 1-.1 1-.7 1-.3 1 0 1 0 1 .3 1-.1 1 .2 1-.2 1 .2 1 .1 1 .2 1 .2 1 .2 1 .2 1 .1 1-.4 1-.5 1 0 1 .3 1 .3 1 .1 1 0 1-.1 1 .1 1 .3 1 .9 1 .5 1 0 1 .1 1-.2 1 .4 1-.2 1 0 1 .1 1 .5 1 .1 1 .2 1-.1 1 .5 1 .2 1 .2 1 .1 1 .1 1 0 1 .3 1-.3 1 0 1-.1 1 .1 1 .2 1-.1 1 .2 1 0 1 0 1 .2 1 .1 1 .2 1-.1 1-.1 1-.2 1 .1 1 0 1 .2 1-.2 1 .1 1-.3 1 .4 1 .3 1 .4 1-.2 1-.1 1-.1 1-.2 1-.3 1 0 1 .4 1 .1 1-.1 1 .1 1 0 1 .3 1 .1 1 .1 1 .2 1 0 1 .3 1-.1 1-.2 1-.3 1-.5 1 .3 1 .1 1 .1 1-.1 1 0 1 .5 1-.1 1-.1 1-.3 1 .3 1 .2 1-.1 1-.1 1 0 1 .3 1 0 1-.1 1-.4 1-.5 1 .1 1 .2 1 .7 1-.4 1 .1 1 .1 1 .3 1-.4 1-.2 1-.1 1 0 1 0 1 .1 1 .1 1 .1 1-.1 1-.2 1-.1 1-.2 1 0 1-.1 1 .1 1 .1 1 .1 1 .1 1 0 1 0 1-.2 1 .1 1-.2 1 0 1 .2 1-.1 1 .2 1-.4 1 .5 1-.3 1 .2 1-.3 1 .4 1 .2 1 0 1-.2 1 0 1-.3 1-.1 1-.4 1-.1 1 0 1 0 1 .1 1 0 1 .1 1 .1 1-.2 1-.1 1-.1 1 .1 1 0 1-.1 1 .1 1 .2 1-.1 1-.1 1-.3 1 0 1-.1 1 .1 1 .3 1 .2 1-.2 1-.5 1 0 1 .1 1 .2 1-.1 1 0 1-.2 1 .1 1-.1 1 0 1 0 1-.1 1 .3 1-.1 1 .1 1-.6 1 .1 1-.2 1 .1 1-.2 1 .4 1-.1 1-.1 1-.1 1 0 1 .1 1-.3 1 .1 1 .1 1 0 1 0 1 0 1 .3 1 .2 1 0 1-.4 1-.2 1 0 1 .2 1-.2 1 .2 1-.1 1 .3 1-.1 1 0 1-.2 1-.1 1-.1 1-.3 1 .1 1 0 1 0 1-.3 1 0 1 .4 1-.3 1 .3 1 0 1 0 1-.2 1 .1 1 .1 1 .3 1 0 1-.1 1-.3 1 0 1 .2 1-.1 1-.7 1 0 1 .3 1 .4 1 0 1-.2 1 .2 1-.3 1 .2 1-.2 1 .2 1-.6 1 .1 1 .1 1 .5 1-.1 1-.3 1-.4 1 .1 1 .2 1-.1 1 0 1-.2 1 0 1 .3 1 0 1 .2 1-.3 1 .1 1-.4 1 .2 1-.1 1 .2 1-.3 1-.2 1 0 1 .3 1 0 1 0 1 0 1 0 1 0 1-.1 1 .2 1 0 1-.1 1-.2 1 0 1 .1 1-.1 1 0 1-.2 1 .2 1 0 1 .1 1-.3 1-.2 1-.1 1 .1 1 .6 1-.3 1 .2 1-.4 1-.1 1 .1 1 0 1 .4 1-.4 1-.1 1 0 1 .1 1 0 1-.2 1-.2 1 .3 1-.1 1 .2 1-.5 1 .1 1-.1 1 .1 1 0 1 .4 1 .2 1-.4 1-.4 1-.2 1 .5 1-.1 1 .2 1-.3 1 .3 1 0 1-.1 1 .2 1-.3 1 .1 1-.4 1 0 1-.2 1 .1 1 0 1 .3 1-.1 1 0 1 .3 1-.1 1-.1 1-.8 1 0 1 .5 1 .6 1 .2 1-.5 1-.2 1 .2 1-.1 1 0 1-.2 1 .4 1-.2 1-.1 1 0 1-.1 1-.1 1-.5 1 .1 1 .1 1 .2 1-.1 1-.1 1 .3 1 0 1-.2 1-.2 1-.3 1 .1 1 0 1 .1 1 0 1 .1 1 .1 1 .3 1-.1 1-.3 1-.4 1 0 1 .4 1 .2 1 0 1-.1 1-.4 1 0 1-.1 1 .4 1-.1 1 .1 1-.1 1-.1 1-.1 1 0 1 .2 1 .4 1 0 1-.2 1-.4 1-.1 1 .1 1 0 1-.3 1-.3 1 .3 1 .4 1 .2 1-.1 1-.1 1 .1 1-.3 1 0 1 .2 1 .2 1 .2 1-.2 1-.3 1-.3 1 0 1 .4 1 .1 1 0 1-.3 1-.5 1-.3 1 .2 1 .5 1 .1 1-.2 1-.4 1 .1 1-.1 1 .4 1 .1 1-.1 1 0 1 .1 1-.1 1 .1 1 0 1 0 1-.3 1-.1 1 .3 1-.1 1 .2 1-.2 1 0 1-.1 1-.1 1 0 1-.2 1 .2 1 .5 1-.3 1 0 1-.2 1 .6 1 .2 1-.2 1-.2 1-.2 1-.2 1 .2 1 0 1 .4 1-.2 1-.1 1-.4 1-.3 1-.1 1 .1 1 .4 1 0 1 0 1-.3 1 .4 1 0 1 .1 1-.5 1 .2 1 .2 1 .4 1-.1 1-.1 1-.2 1 0 1 .1 1 .2 1 0 1-.3 1-.3 1-.1 1 .3 1 .2 1 .7 1 .3 1 .5 1 .1 1 .2 1 .2 1 .3 1 .2 1 .6 1 .4 1 .3 1 .2 1 .3 1 .4 1 .7 1 .4 1 .4 1 .1 1 .2 1 .2 1 .5 1 .3 1 .2 1 .1 1 .1 1 .4 1 .1 1 .6 1 .2 1 .6 1-.1 1 .3 1-.2 1 0 1 .1 1 .3 1 .4 1 .1 1 .2 1 .1 1-.2 1-.2 1-.5 1-.1 1-.3 1-.4 1-.6 1-.6 1-.4 1-.3 1-.1 1-.5 1-.8 1-.4 1-.2 1 .3 1 0 1-.3 1-.2 1 .1 1-.1 1 0 1-.7 1 0 1-.6 1 .1 1-.3" stroke="#545454" stroke-width="3.2" fill="none" opacity="0.5"/>
<path d="M165,227.4l1 0 1 .8 1-.4 1 .3 1-.5 1-.1 1 .2 1 .5 1 .1 1 .2 1-.5 1-.1 1-.1 1 .3 1 .7 1 0 1 .5 1 0 1 .4 1-.6 1 0 1 0 1 .2 1-.3 1 0 1 .3 1 .3 1-.2 1-.5 1 .1 1 .1 1 .1 1 .2 1-.5 1 .2 1 .2 1 .3 1-.3 1-.3 1 0 1-.4 1-.1 1 .3 1 .9 1-.2 1-.2 1-.8 1 .3 1-.4 1-.1 1-.2 1 0 1 .4 1 .2 1-.1 1-.4 1-.3 1 .4 1 .2 1 .4 1-.2 1 0 1-.3 1 .3 1-.1 1 .1 1-.1 1 0 1 .3 1 0 1-.1 1 0 1-.7 1 .4 1 0 1 .6 1-.3 1-.3 1-.1 1 .8 1-.1 1-.1 1-.3 1 .2 1 .2 1 .2 1 0 1 .1 1-.4 1 .1 1-.2 1 .7 1-.1 1-.2 1-.5 1 .1 1 0 1 .2 1 .2 1 .3 1 .5 1 .2 1 .3 1-.5 1-.5 1-.2 1 0 1 .2 1 .1 1 .5 1-.3 1-.1 1 0 1 .2 1 .2 1 .1 1 .5 1 .1 1-.1 1-.7 1 .1 1 .1 1 .6 1-.1 1 0 1-.2 1 .1 1-.3 1-.1 1 0 1 .7 1-.1 1 .1 1-.5 1 .3 1-.3 1 .4 1 .2 1 .1 1-.5 1-.5 1-.1 1 .4 1 .3 1 0 1-.4 1-.4 1-.2 1-.1 1-.1 1 .3 1 .2 1 .1 1 0 1-.4 1-.2 1-.1 1 .3 1 0 1 .1 1 .3 1-.1 1-.3 1-.2 1-.1 1 .3 1-.3 1 .6 1-.1 1 .2 1 0 1-.3 1 .3 1-.4 1 0 1-.1 1 .1 1-.5 1 .2 1 0 1 .4 1-.3 1-.3 1 .1 1 .1 1 .9 1-.1 1 0 1-.6 1 .1 1 .5 1 .4 1-.5 1-.2 1-.6 1 .6 1-.4 1 .5 1-.4 1 .2 1-.1 1 .6 1-.4 1 0 1 0 1 .8 1 .3 1-.2 1-.2 1 0 1-.1 1-.2 1-.2 1 0 1 0 1 0 1 .1 1 .1 1-.2 1-.2 1 .2 1 .2 1 .4 1-.1 1 .2 1 0 1 .2 1 .1 1-.7 1 0 1-.2 1-.2 1-.4 1-.1 1 .6 1 .2 1-.1 1 .1 1-.2 1 .5 1-.2 1-.1 1-.3 1 0 1 .2 1-.1 1-.2 1-.1 1-.2 1 0 1 .1 1-.2 1 0 1 0 1 .5 1-.2 1 .1 1-.2 1 .2 1-.3 1-.3 1 0 1-.4 1 .3 1-.2 1 .2 1-.4 1-.2 1 .1 1 0 1-.2 1-.6 1-.5 1-.4 1 .5 1 0 1-.1 1-.5 1 .3 1-.3 1-.2 1 .1 1 .1 1-.1 1-.5 1-.2 1-.3 1 .4 1-.1 1 0 1-.8 1-.2 1-.3 1-.4 1-.5 1 .5 1 .2 1 .2 1-.7 1-.1 1-.4 1-.5 1 0 1-.4 1 .3 1 0 1 1 1 .2 1-.1 1-1.2 1 .3 1 0 1 .2 1-1.2 1-.5 1-.2 1 1.3 1 .3 1 .1 1-.6 1 0 1 .5 1-.1 1 .5 1-.4 1 0 1-.4 1 .2 1-.4 1 0 1 .2 1 .2 1 .3 1-.1 1 .6 1 0 1 0 1-.2 1-.5 1 0 1 .1 1-.2 1 .7 1 0 1 .7 1-1 1-.1 1-.2 1 0 1-.2 1-.1 1 .5 1 .5 1 .4 1 .2 1-.6 1-.4 1-.7 1 .5 1 .4 1 0 1 .1 1-.1 1 .5 1-.3 1 .2 1-.3 1 .1 1-.1 1 .1 1-.2 1-.2 1 .3 1 .4 1 .1 1-.5 1-.1 1-.1 1 .7 1-.1 1 .5 1-.5 1 .1 1-.4 1-.2 1 .3 1 .2 1 .2 1-.3 1-.1 1-.2 1-.2 1 .3 1 .8 1 .2 1-.2 1-.8 1 .1 1 .3 1 .2 1-.4 1-.1 1 .3 1 .7 1 .1 1-.3 1-.6 1 0 1 .8 1 .5 1-.2 1-.4 1 .1 1 .2 1 0 1 0 1-.1 1-.1 1-.2 1 .6 1-.1 1 0 1-.8 1 .4 1-.1 1 .1 1 0 1 .3 1 .2 1 0 1 .1 1 .1 1-.3 1 .4 1 .3 1 .3 1 0 1 .2 1 .4 1 .2 1 0 1 .4 1 0 1 .1 1 .2 1 .3 1-.1 1 .4 1 .3 1 .4 1-.3 1 .2 1-.2 1 .2 1-.1 1 .2 1-.1 1-.3 1 .1 1 .4 1 .8 1 .1 1-.3 1-.4 1 .3 1 0 1 .5 1-.3 1 .3 1-.4 1 .4 1-.1 1 .2 1-.3 1-.4 1-.3 1 .2 1 .7 1 .4 1-.8 1-.3 1-.3 1 .8 1 0 1 .6 1-.6 1 .3 1 0 1 .4 1 .2 1 .3 1-.4 1-.5 1-.4 1 .2 1 .3 1-.3 1 .2 1-.4 1 0 1 .4 1 .5 1-.2 1-.2 1-.5 1 1 1 0 1 .7 1-.4 1 0 1-.5 1 .2 1 0 1 .4 1-.2 1 .3 1 .2 1-.4 1-.4 1-.6 1 .1 1 .1 1 .1 1 .1 1 .2 1-.2 1-.2 1-.3 1 .2 1 .5 1 0 1 0 1-.2 1-.1 1 .1 1-.1 1 .2 1-.3 1 .7 1-.7 1 .1 1-.9 1 .7 1 .4 1 .3 1-.2 1-.3 1 0 1 .3 1-.2 1-.2 1-.2 1 .1 1 0 1 0 1 .1 1-.2 1 .3 1 .2 1 .4 1-.2 1-.6 1-.2 1-.1 1-.2 1 .2 1 .4 1 .5 1-.4 1-.3 1 .1 1-.5 1-.6 1-.5 1 .7 1 .4 1 .2 1-.2 1 .2 1 .1 1-.3 1-.1 1-.2 1 .5 1 .3 1-.3 1-.3 1 0 1 .1 1 .1 1-.3 1 .3 1 0 1 .3 1-.3 1-.3 1-.5 1-.2 1 .1 1 .2 1-.1 1 .2 1-.5 1-.2 1-.3 1 .7 1 .6 1 .5 1-.3 1-.1 1-.6 1-1 1-.5 1 0 1 .7 1 .6 1-.1 1 .4 1-.4 1 .4 1 .2 1 .3 1-.1 1-.5 1-.6 1 .1 1 .2 1 .1 1-.2 1-.3 1 .6 1-.2 1-.3 1-.1 1 .1 1 .5 1-.6 1 .1 1-.3 1 .4 1 0 1 0 1 .3 1 .3 1-.1 1-.4 1-.7 1 .1 1 .1 1 .4 1 0 1 .2 1-.3 1 .1 1-.3 1 .3 1 .1 1 0 1-.4 1-.1 1 .1 1 .4 1 0 1-.3 1-.4 1-.1 1 .3 1-.1 1-.2 1-.6 1 .5 1-.1 1 .7 1-.3 1-.1 1-.1 1-.1 1 .6 1 .2 1-.6 1-.6 1-.3 1 1 1-.1 1 .6 1-.4 1 .2 1-.7 1 .3 1-.1 1 .3 1-.5 1-.2 1-.5 1 .1 1 .1 1 .1 1-.5 1 0 1 0 1 .5 1 .4 1 .7 1 .3 1-.5 1-.1 1-.5 1 .1 1-.4 1 .1 1 .3 1 .3 1-.4 1-.4 1-.4 1 0 1-.3 1 .6 1 .5 1-.1 1-.7 1-.1 1 .3 1 0 1-.3 1-.2 1 .1 1 .1 1 .5 1 .3 1-.4 1 0 1-.2 1 .1 1-.1 1-.3 1 .4 1-.3 1 .5 1 .1 1-.1 1-.1 1-.5 1 .3 1 .1 1-.1 1-.3 1-.3 1-.2 1 .2 1-.2 1 .8 1-.5 1 .1 1-.3 1 .7 1 .3 1-.5 1 .2 1 0 1 .5 1-.4 1-.6 1-.6 1 .1 1 .5 1 0 1-.4 1 .2 1 .1 1 .1 1-.2 1 .6 1-.5 1-.1 1 0 1 .3 1 0 1-.3 1 .2 1 0 1-.2 1-.2 1 .1 1-.2 1 .1 1 0 1-.1 1 .1 1-.3 1-.4 1-.1 1 .5 1 .8 1-.3 1 .2 1-.6 1 0 1-.7 1 .4 1 0 1 .1 1-.1 1 .4 1 .3 1 .1 1-.1 1-.5 1 .4 1 .3 1-.1 1-.5 1-.4 1 .4 1 .4 1-.3 1 .1 1-.2 1-.4 1-.2 1-.1 1 .7 1 .1 1-.5 1 .4 1-.3 1 .6 1-.2 1 .2 1-.4 1 0 1-.1 1 .4 1-.4 1-.3 1-.2 1-.1 1 .2 1-.5 1 .5 1-.3 1 .5 1-.6 1 .6 1 .1 1 .2 1-.3 1-.4 1 .1 1 0 1 .6 1-.1 1-.1 1 0 1-.2 1 .1 1-.1 1 .2 1 .3 1-.2 1 .2 1-.4 1 0 1-.4 1-.1 1 0 1 .1 1 .1 1-.4 1 0 1 .1 1 .7 1 0 1-.3 1-.3 1 .5 1 .3 1-.1 1-.3 1 0 1 .1 1-.2 1-.1 1-.1 1 0 1 .5 1-.1 1-.4 1-.4 1 .7 1 .6 1 .2 1-.8 1 .1 1-.8 1 .3 1-.6 1 .4 1 .2 1 .6 1 0 1-.2 1-.3 1 .1 1-.3 1 .3 1-.1 1 .4 1-.6 1 0 1 0 1 0 1 .3 1-.1 1 .1 1-.2 1-.4 1 .3 1-.2 1 .4 1 .2 1 .4 1-.1 1-.1 1 .3 1 .6 1 .9 1 .5 1 .3 1 0 1 .5 1 .4 1 .6 1 0 1 .4 1 0 1 .6 1 .4 1 .6 1 .3 1 .2 1 0 1-.2 1 .3 1 .3 1 .5 1 .3 1 .4 1 .2 1 .1 1 .1 1 .3 1 .2 1-.1 1 .2 1 .1 1 .5 1 .6 1 .6 1 .3 1 0 1-.5 1 .2 1 .1 1-.3 1-.6 1-1.3 1 .1 1-.5 1 .2 1-.7 1-.2 1-1.1 1-.2 1-.7 1-.3 1-.2 1-.1 1 .6 1-.1 1-.3 1-.5 1-.8 1-.1 1 0 1 .3 1-.2 1-.9 1-.5" stroke="#878787" stroke-width="1.25" fill="none" opacity="1.0"/>
<path d="M440,225.3l1-.1 1 .5 1-.3 1 .3 1-.6 1-.2 1-.7 1 .1 1-.7 1-.1 1-.5 1 .2 1 0 1-.5 1-.4 1-.5 1-.5 1 .1 1-.3 1 .6 1-.5 1-.2 1-.3 1-.1 1-.4 1-.5 1-.3 1 .4 1-.1 1-.1 1 .1 1 .1 1-.1 1-.6 1 0 1 0 1 0 1 .2 1 .4 1 .6 1-.3 1-.2 1-.1 1 0 1 .1 1 0 1 .1 1-.1 1-.2 1 .2 1-.4 1 .1 1-.2 1 .1 1 0 1 .2 1-.1 1-.2 1 0 1 .6 1 .1 1-.1 1-.2 1 .1 1 0 1 0 1 0 1-.2 1-.1 1 .1 1 .1 1 .2 1 .1 1 .3 1-.1 1-.1 1-.3 1 0 1 0 1 .3 1-.2 1-.1 1-.2 1 .4 1 .3 1 .2 1-.3 1 .1 1-.1 1 .4 1-.4 1-.3 1 .1 1 0 1 .1 1 0 1 .1 1 .1 1-.1 1 .3 1-.3 1 .1 1-.1 1 .2 1 0 1 0 1 .4 1 .1 1 0 1-.1 1-.6 1-.1 1-.2 1 .5 1 0 1 .3 1 0 1 0 1-.1 1 .3 1 .1 1 .2 1-.3 1-.3 1 .2 1-.1 1 0 1-.5 1 .4 1 .3 1 .3 1-.1 1-.3 1 0 1-.2 1 .5 1-.1 1 .4 1-.2 1 .2 1-.3 1 0 1 0 1-.1 1 .3 1 0 1 .2 1-.2 1 .1 1-.2 1 .1 1 0 1 .2 1-.2 1 .2 1 .5 1 0 1 0 1-.4 1 .4 1 .5 1 .1 1 .2 1 .1 1 .3 1 .4 1-.1 1 .5 1 .1 1 .2 1 .1 1-.1 1 .6 1 .1 1 .5 1 0 1 .2 1 0" stroke="#626262" stroke-width="1.0" fill="none" opacity="1.0"/>
<path d="M1087,224.4l1 0 1-.1 1-.1 1-.5 1-.1 1-.3 1 .2 1-.2 1 0 1-.6 1-.2 1-.4 1-.1 1-.2 1-.2 1-.2 1-.4 1-.2 1-.3 1-.4 1-.1 1-.3 1-.1 1-.3 1-.2 1 0 1-.2 1-.5 1-.4 1-.2 1-.1 1 0 1-.4 1 .3 1-.2 1 .5 1 0 1 .4 1 0 1 .3 1 .4 1 .7 1 .2 1 .1 1-.1 1 .5 1 .4 1 .7 1 .2 1 .1 1 .2 1 .2 1 .2 1 .2 1 .2 1 .3 1 .1 1 .3 1 .1 1 .4 1 .4 1 .6 1 .2 1 .4 1-.2 1 .3 1 .3" stroke="#5f5f5f" stroke-width="1.0" fill="none" opacity="1.0"/>
<path d="M1087,224.8l1-.1 1 0 1-.3 1-.2 1-.5 1-.3 1-.2 1 0 1 0 1-.4 1-.4 1-.3 1 .2 1 .1 1-.2 1-.2 1-.1 1 .2 1 .2 1 .1 1 .2 1-.1 1 0 1 0 1 0 1 .1 1-.1 1 0 1-.3 1 .3 1 .1 1 .6 1-.4 1 .2 1-.3 1 .4 1 0 1 .1 1-.3 1-.2 1-.2 1 .1 1 .2 1 .1 1 .1 1-.1 1-.2 1 .1 1-.1 1 .2 1-.5 1-.2 1 0 1 .1 1 0 1-.2 1 .1 1 0 1 .1 1 0 1 .1 1-.2 1 .2 1-.3 1-.2 1-.2 1 .1" stroke="#5b5b5b" stroke-width="1.0" fill="none" opacity="1.0"/>
<path d="M165.5,259.3l6 .3 6 0 6-.2 6 .1 6-.1 6 .2 6-.5 6 .3 6 0 6-.1 6 .2 6 .3 6-.5 6 0 6 .3 6 .2 6-.1 6 0 6-.1 6-.2 6 .6 6-.3 6-.3 6 .1 6 .1 6 0 6 0 6 0 6-.1 6 .1 6-.1 6 .4 6-.2 6 .1 6-.2 6 .3 6-.3 6 .1 6 0 6 0 6 .1 6 0 6-.2 6-.1 6 .3 6-.2 6 .2 6 0 6-.1 6 0 6-.1 6 .1 6 .4 6-.2 6-.1 6 0 6 .3 6-.4 6 0 6 0 6 .1 6-.2 6 .1 6-.1 6 .1 6 0 6 0 6-.3 6 .4 6-.1 6-.1 6-.1 6 0 6-.1 6 .1 6 0 6 .1 6-.3 6-.1 6 .1 6 0 6 .2 6-.5 6 .2 6 0 6 .2 6 0 6-.1 6 .1 6-.1 6 .2 6-.1 6 0 6 0 6-.1 6 .1 6-.2 6-.3 6 .5 6-.2 6 .2 6 .1 6-.3 6 .1 6 0 6-.1 6-.2 6 .2 6 .3 6-.4 6 .3 6 .1 6-.1 6-.1 6-.1 6 .1 6 .3 6-.4 6 .2 6-.2 6 .3 6-.2 6 0 6-.1 6 .3 6-.2 6 .2 6-.2 6-.1 6 0 6 0 6 .2 6-.3 6-.1 6 .4 6-.2 6 .3 6-.3 6 .4 6-.3 6-.2 6 .1 6 0 6 .3 6-.1 6 0 6 0 6-.1 6 .1 6 .1 6-.4 6 .3 6 0 6-.1 6 .2 6-.4 6 .1 6 0 6 .1 6-.2 6 .1 6 .3 6-.2 6-.1" stroke="#909090" stroke-width="5.7" fill="none" opacity="0.4"/>
<path d="M165.5,257.4l1 .1 1 .1 1 .1 1 0 1 0 1 .2 1 0 1 0 1-.2 1 .1 1-.1 1 0 1-.2 1 0 1-.1 1 0 1 0 1 .2 1 .2 1 .1 1-.1 1 0 1 0 1 0 1-.1 1 0 1 0 1 0 1 .1 1 0 1-.1 1 0 1-.1 1 .2 1 0 1 0 1 .1 1-.1 1-.1 1 0 1-.2 1 0 1-.1 1-.1 1-.1 1 .3 1 .1 1 .1 1-.2 1 .2 1-.1 1 0 1-.3 1 .3 1 0 1 .1 1-.1 1 .1 1 0 1 0 1 .1 1-.1 1-.1 1-.1 1 0 1 .2 1 .3 1-.1 1 .1 1-.2 1 0 1 0 1 .2 1-.1 1 0 1-.2 1 0 1-.2 1 .1 1 0 1 0 1 0 1 .2 1-.2 1-.1 1 0 1 0 1 .3 1 .1 1 0 1 .1 1 0 1-.1 1 .1 1 0 1 0 1 .1 1 0 1-.1 1-.1 1 0 1 0 1 0 1 .1 1 .1 1 0 1-.1 1-.1 1-.2 1 0 1 0 1 .1 1-.1 1 .2 1-.2 1 .1 1-.1 1 .1 1-.1 1 .1 1 0 1 .1 1 0 1 0 1 .2 1 .2 1-.2 1 0 1-.2 1 0 1-.1 1 .2 1 0 1 .1 1-.1 1-.1 1-.2 1 0 1 0 1-.1 1 0 1 0 1 0 1 0 1 .2 1 .1 1 0 1 0 1-.1 1 0 1-.2 1 .2 1-.1 1 .1 1-.1 1 .1 1 .2 1 .1 1 0 1-.2 1 0 1 .1 1 .1 1-.2 1 .1 1-.1 1-.2 1 0 1 0 1 .2 1-.1 1 .1 1-.1 1-.2 1 .1 1 .2 1 .1 1-.1 1 .1 1 0 1-.3 1 .1 1 .1 1 0 1-.1 1-.1 1-.1 1 0 1 .1 1 .2 1 .2 1 .2 1 0 1 0 1-.1 1-.2 1 0 1 0 1-.2 1-.2 1 .2 1 .1 1 0 1 .2 1 0 1-.1 1-.2 1 0 1-.2 1 .2 1 .1 1 .2 1 0 1 0 1 .1 1 .1 1-.2 1 0 1-.1 1-.2 1 0 1 0 1 0 1 .1 1 .2 1 0 1-.1 1-.1 1 0 1-.1 1-.1 1 .1 1-.1 1 0 1 .1 1 .2 1-.1 1 .1 1 0 1-.1 1-.1 1 .1 1-.1 1 .2 1 0 1 .2 1-.2 1 .1 1 0 1 .1 1-.1 1 .1 1-.2 1-.2 1 .1 1-.1 1 0 1 .1 1-.1 1 0 1-.1 1-.1 1-.1 1 .1 1-.1 1 .1 1 .2 1-.1 1 .2 1 0 1 .2 1 .1 1-.1 1 0 1-.1 1-.1 1 .1 1-.1 1 0 1 0 1 .1 1 .1 1 0 1-.1 1 0 1 .2 1-.1 1 .1 1-.3 1-.1 1 0 1 .1 1 0 1 .2 1 0 1 0 1 0 1-.1 1 0 1 0 1-.1 1-.1 1 .1 1 0 1 .1 1-.1 1 .1 1-.2 1-.1 1 0 1 .3 1 0 1 0 1 0 1 .2 1 .1 1 0 1-.1 1 0 1 0 1-.1 1 .1 1 0 1 0 1 0 1 0 1 .2 1-.1 1-.2 1 0 1-.1 1 0 1-.1 1 .1 1 0 1 0 1 .1 1 0 1 0 1 0 1 .1 1 .2 1-.3 1 0 1-.1 1 0 1 .1 1-.1 1-.2 1 0 1 .1 1 0 1 .1 1 0 1 0 1-.1 1 .2 1 .1 1-.1 1-.1 1 0 1-.1 1 0 1 .1 1 0 1 .1 1 0 1 .1 1-.1 1-.3 1 0 1 0 1 0 1-.1 1-.1 1 0 1 .1 1 .2 1 0 1 .1 1 0 1-.1 1-.1 1 .1 1-.1 1 0 1 .1 1 .2 1 0 1-.1 1 0 1-.3 1 0 1 0 1 .1 1 .2 1 .1 1 0 1 0 1-.1 1-.1 1 0 1-.1 1 0 1-.1 1 .1 1 .1 1-.1 1-.2 1 .2 1 0 1-.1 1 .1 1 0 1 .1 1 .1 1-.1 1 0 1 0 1 .1 1 0 1 .1 1-.1 1 0 1 0 1-.1 1 0 1 0 1-.1 1-.1 1 .2 1-.1 1-.2 1 .2 1 .2 1 .3 1 0 1 .2 1 .1 1 .2 1 .2 1-.1 1-.1 1 0 1 .1 1-.2 1 .1 1 .1 1 0 1-.1 1-.2 1 0 1-.1 1 0 1 0 1 .3 1 0 1 .2 1 .1 1 .1 1-.2 1-.1 1-.2 1-.1 1-.1 1-.1 1 .2 1 0 1 .2 1-.1 1 0 1-.1 1 0 1-.2 1 .2 1-.2 1 0 1 .3 1 .1 1 0 1-.2 1 .1 1-.3 1-.2 1-.2 1-.1 1 0 1-.2 1 0 1-.1 1 .1 1 0 1 0 1-.2 1 0 1-.2 1-.2 1 .1 1 .2 1 0 1 .2 1-.1 1 .1 1-.2 1 .1 1-.1 1 0 1 0 1 .2 1 0 1-.2 1 .1 1 .1 1 .1 1 0 1 0 1-.1 1-.1 1 .1 1-.1 1 .1 1 0 1 0 1-.1 1 .2 1-.2 1 .1 1 0 1 0 1-.1 1 .2 1 0 1-.1 1 0 1 .2 1-.3 1 .1 1-.1 1 0 1 0 1 .1 1 .1 1 .1 1 0 1-.1 1 .1 1-.1 1 0 1-.1 1 .1 1-.2 1 .3 1-.1 1 .1 1-.2 1 .3 1 0 1-.1 1-.2 1 .1 1-.2 1-.1 1 .1 1 0 1 0 1 .1 1 0 1 0 1 .1 1-.1 1 .1 1 0 1-.1 1 .1 1-.1 1 0 1-.1 1-.1 1 0 1 .1 1-.1 1 .1 1-.1 1-.2 1 .1 1-.1 1-.1 1-.1 1 .1 1 .2 1 .2 1 .1 1 .1 1-.1 1 0 1-.1 1 .1 1 .1 1 0 1-.1 1-.1 1 0 1 0 1-.1 1 .1 1 .2 1 .1 1-.1 1 .2 1 .1 1 .1 1-.2 1-.2 1 0 1 .1 1-.3 1-.1 1 0 1 .1 1-.1 1 0 1 .1 1-.1 1 .1 1 0 1 .1 1 0 1 0 1 0 1-.1 1 0 1 .1 1-.1 1 0 1-.1 1 .1 1 0 1 0 1-.1 1 0 1-.2 1 .1 1 0 1 0 1-.2 1 .2 1 .1 1 0 1-.1 1 .2 1 .2 1-.1 1 0 1 .1 1 0 1-.2 1-.2 1-.1 1 .1 1 .1 1 .2 1 0 1 .1 1-.2 1 .1 1 0 1-.1 1 0 1 .1 1-.1 1 0 1 .1 1 0 1 0 1 .2 1 .1 1-.2 1-.2 1 .2 1-.1 1 0 1 0 1 0 1 0 1 .1 1 .1 1-.1 1 0 1-.2 1-.1 1-.1 1 .1 1 .1 1-.1 1 .1 1 .1 1-.2 1 .1 1 0 1 .1 1 .1 1 .3 1-.1 1-.1 1-.1 1 0 1-.1 1 0 1 0 1-.1 1 0 1 0 1 0 1 0 1 .1 1 0 1 0 1 0 1-.1 1-.1 1 .1 1 .1 1 0 1 0 1 .1 1 0 1-.1 1 0 1 0 1 .1 1-.1 1 0 1-.1 1 .1 1-.1 1 .1 1 0 1 0 1 0 1 0 1 0 1 0 1-.2 1-.1 1 .2 1 .1 1 0 1 .1 1 0 1-.1 1 .1 1 .1 1-.1 1-.1 1 0 1-.1 1-.1 1 .1 1-.1 1 .2 1 .1 1 .1 1-.1 1 .2 1-.1 1-.1 1-.2 1 0 1 0 1 .2 1-.1 1-.1 1-.1 1-.1 1-.2 1 .2 1 .1 1 0 1-.1 1 .1 1 .1 1-.2 1 .1 1 .1 1 0 1 0 1-.1 1-.1 1 0 1 0 1 .1 1 .4 1 .2 1-.2 1-.2 1-.1 1 0 1-.3 1 .2 1 .1 1-.2 1 0 1 .1 1-.1 1 .1 1-.1 1 .2 1 .2 1 0 1-.1 1 .1 1 0 1 0 1-.1 1-.1 1 .1 1-.2 1 .1 1 0 1 .2 1 .1 1 .1 1 0 1 0 1-.1 1-.1 1-.1 1-.1 1 .1 1 .1 1 .1 1-.1 1 .1 1 0 1-.1 1-.1 1-.1 1 0 1-.1 1 .1 1 .1 1 .1 1-.2 1 .1 1 0 1-.2 1-.1 1 .1 1-.2 1 0 1 .1 1 .2 1-.1 1 .1 1 0 1 .1 1 0 1 0 1-.2 1 .1 1 0 1 .1 1 .1 1 .1 1 0 1 .1 1 0 1-.2 1 .1 1-.1 1-.1 1 .1 1 .1 1-.1 1 .1 1-.1 1 0 1-.1 1 .1 1-.3 1 .3 1 0 1 .2 1-.2 1-.1 1-.1 1 .1 1 0 1 .1 1-.1 1 .1 1 0 1-.1 1-.1 1 0 1-.1 1 0 1 .2 1 .1 1-.1 1-.1 1 0 1 0 1 0 1 0 1-.1 1-.2 1 0 1 .1 1 .3 1 .1 1 0 1 .1 1 0 1-.1 1 .1 1 0 1-.1 1-.1 1 0 1-.1 1 0 1 .1 1 .2 1 .2 1 0 1 .3 1 0 1 .1 1 .2 1 .3 1-.1 1-.2 1 0 1-.1 1-.3 1 .1 1-.1 1 .1 1 0 1 .3 1-.1 1 .2 1-.1 1 .1 1-.2 1 .1 1-.1 1 .1 1-.1 1 .2 1-.1 1 0 1 .1 1-.1 1 .1 1 0 1-.1 1-.2 1-.1 1 .3 1-.1 1 .1 1 .1 1 .1 1-.2 1 0 1 .1 1 .1 1-.1 1 0 1 0 1-.1 1-.1 1 0 1-.1 1-.1 1-.1 1-.3 1-.2 1-.2 1-.2 1 .2 1 .1 1 .1 1-.1 1 0 1-.1 1-.2 0 3.6-1 0-1 0-1 0-1-.1-1 0-1-.1-1 .1-1 .1-1-.2-1 0-1-.2-1 0-1 0-1-.2-1-.1-1 0-1 0-1-.2-1-.1-1 0-1 .1-1-.2-1 .1-1 .2-1-.1-1-.2-1 .1-1 0-1-.1-1 .2-1 .1-1 0-1-.2-1 .1-1 0-1 .1-1-.1-1 .1-1-.1-1 .1-1-.1-1 0-1 0-1 .1-1-.2-1 .1-1-.1-1 .1-1-.2-1 .1-1 0-1 .2-1-.2-1 .2-1 0-1 0-1 0-1 0-1 .3-1 .2-1 .1-1-.1-1 0-1 .1-1 .1-1 .2-1 .1-1 .2-1-.2-1 0-1 0-1 0-1 0-1-.1-1 .2-1 0-1 0-1-.1-1 0-1 0-1 .1-1-.2-1-.1-1 0-1 .1-1 .1-1 .3-1-.1-1 0-1-.2-1 0-1-.1-1 .1-1 .2-1 0-1-.1-1 0-1-.1-1 0-1 0-1 0-1 .1-1 0-1 .1-1-.2-1 .1-1-.2-1 .2-1-.1-1 .1-1-.2-1 .2-1-.1-1 .1-1-.1-1 .1-1-.1-1 .1-1 0-1-.1-1-.2-1 .2-1 .1-1 0-1-.1-1 .2-1-.2-1 0-1-.2-1 0-1 0-1 0-1-.1-1 .2-1 0-1-.1-1 0-1 .2-1 0-1 0-1 0-1-.2-1-.1-1 .1-1 .1-1 .2-1 .2-1-.1-1-.2-1-.1-1 0-1 0-1 .1-1 .2-1 .1-1-.1-1-.2-1-.1-1-.1-1-.1-1 .1-1 .2-1 0-1 0-1 0-1-.1-1 .1-1 0-1 0-1-.1-1-.2-1 .1-1-.1-1 0-1 0-1 .1-1 .1-1 .1-1 .1-1 0-1 0-1-.1-1-.1-1-.1-1-.3-1 .1-1-.1-1 .1-1 .2-1 .1-1 0-1 .2-1 0-1-.1-1 0-1 0-1-.1-1 0-1-.1-1 0-1-.1-1 .1-1 .1-1-.1-1 .1-1-.1-1 0-1 0-1 .2-1-.2-1 .1-1-.1-1-.1-1 .1-1 .1-1 0-1 .1-1 .1-1-.1-1 0-1 .1-1-.1-1-.1-1 .2-1 .1-1 0-1-.1-1 0-1-.2-1 0-1 0-1-.1-1 .1-1 .2-1 .1-1 0-1 .2-1 0-1-.1-1 .2-1-.2-1-.1-1-.1-1 0-1-.1-1 .1-1 0-1 0-1 0-1-.1-1-.2-1-.1-1 .1-1 .1-1 0-1 0-1 0-1 0-1 0-1 .2-1 .1-1 .1-1 0-1-.1-1-.2-1 0-1-.1-1 0-1 0-1 0-1 0-1 0-1 .1-1 .1-1 .1-1-.1-1 0-1-.2-1-.1-1 .1-1-.2-1 .1-1 .2-1 .2-1-.1-1 0-1-.1-1-.1-1 0-1 .1-1-.2-1 .1-1 .1-1 .1-1 0-1-.1-1 0-1-.1-1 .1-1 .1-1 .1-1-.1-1 0-1-.1-1-.1-1 .1-1 0-1 0-1 .1-1 .1-1-.1-1 0-1 0-1 .1-1 .1-1 0-1 0-1-.3-1-.1-1 .1-1-.1-1 0-1 .2-1 0-1 0-1-.1-1 0-1-.1-1-.1-1 0-1 0-1 .1-1 0-1 .1-1 .1-1 .1-1 0-1 0-1-.1-1-.1-1-.1-1 0-1-.2-1 .1-1 0-1 0-1-.1-1 .2-1 .1-1-.1-1-.1-1 0-1 0-1 0-1 .1-1 .1-1 0-1 0-1 0-1-.1-1 .1-1-.2-1 .2-1 .1-1-.1-1 .1-1 0-1-.1-1 0-1 0-1 0-1-.1-1 0-1 .1-1 0-1 0-1 0-1 .1-1 0-1 .1-1-.1-1-.1-1 0-1-.1-1 0-1 .1-1-.1-1-.1-1-.1-1 .1-1 0-1 .1-1 .2-1 0-1 0-1 0-1-.1-1-.1-1 0-1 0-1-.2-1-.1-1 0-1 .1-1 0-1 .1-1 0-1 0-1 .2-1 0-1-.1-1 .2-1 0-1 .1-1 0-1 0-1 0-1-.1-1-.2-1-.1-1 0-1 .1-1 .1-1 .1-1 0-1-.1-1-.3-1 .1-1 .1-1-.1-1 0-1-.1-1 .2-1-.1-1 .2-1-.1-1 .1-1 0-1 0-1 .1-1 0-1 .2-1-.1-1-.1-1-.2-1 .1-1-.2-1 .2-1 0-1 0-1-.2-1 .1-1 .1-1 .2-1-.2-1 .1-1-.1-1 .1-1-.3-1 .2-1 0-1-.2-1 0-1 .1-1 .2-1 0-1 0-1-.2-1-.1-1 0-1-.1-1 .2-1 .1-1 0-1-.1-1 .2-1-.1-1 0-1-.2-1 .1-1-.2-1 0-1 .1-1 0-1 .1-1-.1-1 .1-1-.1-1 0-1 0-1-.1-1-.2-1 .2-1 0-1 .1-1 .2-1 .2-1-.1-1-.1-1-.2-1-.1-1 0-1-.1-1 .1-1-.2-1 0-1-.2-1-.1-1-.4-1 .2-1 0-1 .2-1 0-1-.2-1-.2-1 .2-1 0-1 .1-1-.1-1 .1-1-.2-1-.1-1-.1-1 .2-1 .1-1 .1-1 .1-1 .1-1-.2-1 0-1-.1-1 .1-1 0-1 0-1-.1-1 .1-1-.1-1 0-1 .1-1 .1-1-.1-1 0-1-.1-1-.1-1 0-1 .1-1 .2-1 .2-1-.1-1 .1-1 0-1-.1-1 0-1 .4-1 .2-1 .2-1 .1-1-.1-1 0-1 .1-1 .2-1-.3-1 .1-1 .1-1 .1-1-.1-1 0-1 0-1 0-1 .1-1-.1-1 0-1 0-1 .1-1 .2-1 0-1-.2-1-.2-1 0-1-.2-1 0-1 .1-1 0-1 .3-1 .1-1-.1-1 0-1 0-1-.1-1 0-1 0-1 .1-1-.2-1-.1-1 .1-1 0-1 0-1 .1-1 .1-1-.1-1 0-1-.1-1-.1-1 .1-1 0-1 0-1 .2-1 .1-1 .1-1-.2-1 0-1-.2-1 0-1-.1-1-.1-1 0-1 .3-1 .1-1 .1-1 0-1-.1-1-.1-1 .1-1 0-1-.1-1 0-1 0-1 0-1 0-1-.1-1 .2-1 0-1 .1-1-.2-1 0-1-.2-1 .1-1 .2-1 .2-1-.3-1 0-1-.3-1 .2-1 .2-1 .1-1 0-1 .2-1 .1-1-.2-1-.1-1 0-1-.2-1 .1-1 0-1 .1-1-.2-1-.1-1 0-1 .2-1 0-1 .2-1-.1-1-.1-1 0-1 .1-1 0-1 .2-1 .1-1 .1-1 0-1 0-1-.2-1 .1-1 0-1 .1-1-.4-1-.1-1-.1-1-.1-1-.1-1 .1-1 0-1 0-1 0-1 .2-1-.1-1 0-1-.1-1 0-1 0-1 0-1 .1-1 0-1 0-1 0-1-.1-1 .1-1 .1-1 0-1-.1-1 0-1-.1-1 .1-1-.1-1 .2-1-.1-1 .1-1-.1-1 .1-1-.2-1-.1-1 0-1 .1-1 .2-1 .1-1 0-1 .1-1-.1-1 0-1-.2-1 .1-1-.1-1 .1-1 0-1-.1-1-.1-1-.1-1 .2-1-.1-1 .1-1-.1-1-.1-1 .1-1 .1-1 .1-1 0-1 0-1-.2-1 .1-1 0-1 0-1 0-1 0-1-.1-1-.1-1 .1-1 .2-1-.1-1 .1-1 0-1 .1-1-.2-1 .3-1-.1-1 .1-1-.2-1-.1-1-.2-1 0-1 .2-1 0-1 .1-1 0-1 .2-1-.1-1 0-1-.2-1 0-1-.1-1 .1-1-.1-1 .1-1 .2-1-.1-1 0-1 0-1 .1-1-.2-1 0-1 0-1 .2-1-.2-1 0-1 .2-1 0-1-.2-1 .1-1 0-1-.1-1-.1-1 .1-1 0-1 .1-1 .1-1 0-1 .1-1-.1-1 0-1-.3-1-.1-1 0-1 0-1 .1-1-.1-1 .1-1-.1-1-.1-1-.1-1 .2-1 .2-1-.3-1 .2-1 .1-1-.1-1 0-1 .1-1 0-1 0-1 0-1 .1-1-.1-1 0-1 .1-1-.2-1-.1-1 0-1 .1-1 .1-1 .1-1 .1-1-.2-1 0-1 0-1 0-1-.2-1 0-1 .1-1 .1-1 0-1 0-1 .2-1-.1-1 0-1-.1-1 0-1 0-1 0-1-.1-1-.1-1 0-1-.1-1 0-1 .1-1 .1-1 .1-1-.1-1 .2-1-.1-1 .1-1 0-1 .1-1 .1-1 0-1 0-1-.1-1-.1-1-.2-1-.2-1 0-1 0-1 .1-1 .2-1 0-1-.1-1 0-1-.2-1-.1-1 0-1 .3-1 .1-1 .2-1-.1-1 0-1 .2-1-.1-1-.1-1-.1-1 .1-1-.2-1 0-1 .1-1 .2-1 0-1 0-1-.1-1-.1-1 0-1-.1-1 .1-1-.3-1-.1-1-.2-1 .3-1-.2-1 .1-1 .2-1 .1-1 0-1-.1-1 0-1 0-1 .1-1-.1-1 .2-1 .1-1 .2-1 0-1 0-1-.1-1-.3-1-.2-1 0-1 .1-1 0-1 0-1-.1-1-.2-1-.1-1 0-1 .2-1 0-1 0-1-.1-1 .1-1 .1-1-.1-1 .1-1 .1-1-.1-1 0-1 0-1-.1-1-.2-1 .2-1-.1-1-.1-1 0-1 .2-1 .1-1 0-1 .2-1 .1-1 0-1-.1-1 0-1-.1-1 0-1-.1-1-.1-1 0-1 .1-1 .1-1 0-1 0-1 0-1 .1-1 0-1 0-1-.1-1-.1-1 .1-1 0-1-.1-1 .1-1 .1-1 .1-1 .1-1 0-1-.1-1 0-1-.1-1-.1-1 0-1 0-1 0-1-.3-1 0-1 .1-1 .2z" fill="#d2d2d2"/>
<path d="M165.5,260l1 0 1-.1 1 .1 1 .1 1 .1 1 .1 1-.1 1 .1 1 0 1 0 1 0 1 0 1 0 1-.1 1-.2 1 0 1 0 1 .1 1 0 1 .1 1 .1 1-.1 1 .1 1-.1 1-.1 1 .1 1 0 1-.1 1-.1 1 0 1 .1 1 0 1 0 1 .2 1-.1 1 .1 1 0 1-.1 1-.1 1 0 1-.1 1-.2 1 0 1 0 1 0 1 0 1 .2 1 .1 1-.1 1 .1 1 0 1 0 1-.2 1 .2 1-.1 1-.1 1 .1 1 0 1 0 1-.1 1 0 1 0 1 .1 1 .1 1 0 1 .1 1 0 1-.1 1 .2 1 .2 1 .1 1-.1 1 0 1-.1 1 0 1-.2 1 0 1-.2 1 .1 1 0 1 .1 1 0 1 0 1-.2 1-.1 1 .1 1-.2 1 .3 1 .1 1 .1 1 0 1 .1 1-.1 1 .2 1 0 1 0 1 .1 1-.2 1-.1 1 0 1 .1 1 0 1 0 1 .1 1 .1 1-.1 1-.1 1 .1 1-.2 1-.1 1-.2 1 0 1 .1 1 .2 1-.1 1 .1 1 0 1-.1 1-.1 1 0 1 0 1 .2 1 .1 1 .1 1 .2 1-.1 1 0 1-.1 1-.1 1 0 1 0 1 0 1-.1 1 .1 1-.1 1-.1 1-.1 1 0 1 0 1 0 1 .1 1 .1 1 0 1 0 1 0 1 .1 1 0 1 .1 1-.1 1-.1 1 0 1 0 1-.1 1 0 1 .1 1 0 1 0 1 .1 1 .1 1-.1 1 0 1-.1 1 0 1-.1 1 .1 1 .1 1-.1 1 0 1 0 1 .1 1-.1 1 0 1 0 1-.1 1 0 1 .1 1 0 1-.2 1 .3 1-.1 1-.3 1 .1 1 .1 1 .1 1-.1 1 0 1-.1 1 0 1 0 1 .2 1 .2 1 .1 1 .1 1-.1 1 0 1-.2 1 0 1-.1 1 0 1 0 1 .1 1 0 1 0 1 .1 1 0 1-.1 1-.1 1 .2 1-.2 1 0 1 0 1 .2 1 0 1 0 1 0 1 .1 1-.2 1-.1 1 .1 1-.2 1 .1 1 0 1 .2 1 0 1 .1 1-.2 1 0 1 0 1-.1 1-.1 1-.1 1 .2 1 .1 1 .1 1 0 1 .1 1-.2 1 .1 1-.1 1 0 1-.1 1 .1 1-.2 1 .1 1 0 1 .2 1-.1 1 0 1 0 1 0 1 0 1 .1 1 0 1-.1 1-.1 1 0 1-.1 1 .1 1 0 1-.1 1 .1 1-.2 1 .1 1 .1 1 0 1 0 1 0 1 .1 1 0 1 .1 1 .1 1 0 1-.1 1 0 1-.1 1-.1 1-.1 1 0 1 .1 1 .1 1 0 1 .1 1-.1 1 .1 1-.2 1 .1 1-.1 1 .2 1-.1 1 0 1 0 1 0 1-.1 1 .1 1 0 1 0 1 0 1 0 1-.1 1 0 1 0 1 0 1 .1 1 0 1-.1 1 0 1 0 1 0 1-.2 1 .1 1 .2 1 0 1 .1 1 .3 1 0 1 0 1-.1 1 .2 1 0 1 0 1-.1 1-.1 1-.1 1 0 1-.1 1 0 1 .1 1 .1 1-.2 1 0 1-.2 1 0 1 .1 1 .1 1 0 1 0 1-.1 1 .1 1 .1 1 0 1 .2 1-.1 1-.1 1-.1 1-.1 1-.1 1-.1 1 .2 1-.1 1 .2 1-.1 1-.1 1-.1 1 .2 1 0 1 .1 1 0 1 0 1-.2 1 .1 1 0 1 0 1-.1 1 .1 1 0 1 .1 1-.1 1 .1 1 .1 1-.2 1 0 1 0 1-.3 1 0 1 0 1 .1 1 0 1 .2 1 .1 1 .1 1-.1 1-.1 1-.1 1-.1 1 0 1 0 1 .1 1 .1 1 0 1 0 1 0 1-.1 1-.1 1 0 1 0 1 .1 1 .2 1-.1 1 0 1 0 1 .1 1-.1 1 0 1 0 1 0 1-.2 1 0 1-.1 1-.1 1 .2 1 .1 1 0 1 .2 1 .1 1-.2 1 0 1 0 1 0 1 0 1 0 1 0 1 0 1 0 1 0 1 0 1-.1 1-.1 1 .2 1-.2 1 0 1 0 1 0 1-.1 1-.1 1-.1 1-.1 1 0 1 .1 1 0 1 .1 1 0 1-.1 1-.2 1-.1 1 .1 1 0 1 .1 1 0 1 .1 1-.1 1-.1 1 0 1 0 1-.1 1 .1 1 .1 1 0 1 0 1 .1 1 0 1 .1 1-.1 1-.2 1-.1 1-.1 1-.1 1 .1 1 .1 1 .2 1-.1 1 0 1-.1 1 0 1-.1 1 .2 1 0 1 0 1 0 1 0 1-.2 1 .3 1 .1 1 .1 1-.1 1 .1 1-.2 1 .1 1 0 1 0 1 .1 1 .1 1 .1 1-.1 1-.2 1-.1 1-.1 1-.1 1 .1 1 .1 1 .1 1 0 1 .1 1-.1 1 0 1 0 1 0 1-.1 1 0 1 .2 1-.1 1 .1 1 0 1 .1 1-.1 1 .1 1-.1 1 0 1-.1 1 0 1 0 1 .1 1 .1 1 .1 1-.1 1-.1 1-.1 1 .1 1 0 1 .1 1-.2 1 .2 1 0 1 0 1 0 1 .1 1-.2 1-.1 1 0 1 .1 1 0 1 0 1 0 1 .1 1 0 1 .1 1 0 1 .1 1-.1 1-.1 1 0 1 0 1 0 1-.1 1 .1 1-.2 1 .2 1-.1 1 0 1-.1 1 .1 1-.1 1-.1 1 .2 1 .1 1 0 1 0 1-.1 1-.1 1 0 1 .1 1 .1 1 .1 1 0 1 0 1 0 1-.1 1 0 1-.1 1 0 1 0 1-.1 1 0 1 0 1-.2 1 0 1 0 1-.1 1 .1 1 .1 1 .1 1 .1 1 0 1 .2 1-.1 1 0 1 0 1-.1 1-.1 1 0 1 0 1 0 1 0 1 .1 1 0 1-.1 1 .2 1 0 1 0 1 .2 1-.1 1 .1 1-.1 1-.1 1 0 1 0 1-.2 1 0 1 .1 1 0 1 0 1 0 1 .1 1 0 1-.1 1 .1 1 0 1-.2 1 .2 1-.1 1 0 1 0 1 0 1 0 1-.1 1 0 1 0 1 0 1 0 1 0 1 .1 1-.2 1-.1 1 .1 1 0 1 0 1-.1 1 .2 1 0 1 0 1 .2 1 .1 1 0 1 0 1 0 1-.1 1-.2 1 0 1-.1 1 0 1 0 1 .2 1 .1 1 0 1 0 1 .1 1-.1 1-.1 1-.1 1 .1 1 0 1 0 1 .2 1 .1 1-.1 1 .1 1-.1 1 0 1-.1 1 .1 1-.1 1 0 1-.1 1 .1 1-.1 1 .1 1 .1 1-.1 1 .1 1-.1 1-.1 1-.1 1 .1 1 0 1 .1 1 0 1-.1 1-.1 1 0 1 .1 1 0 1 0 1 .2 1 0 1 0 1 0 1-.1 1-.2 1 0 1 .1 1-.1 1 .1 1 .1 1 0 1 0 1 0 1 0 1-.1 1 0 1 0 1-.1 1 .1 1 0 1 0 1 .1 1 .1 1 .1 1 0 1-.1 1-.1 1-.1 1-.1 1 0 1 0 1 .1 1 0 1-.1 1-.1 1 .1 1 .2 1 0 1 0 1 0 1-.1 1 0 1 .1 1 0 1 .1 1 .1 1 .1 1-.1 1 .1 1 0 1-.1 1-.1 1-.1 1-.1 1-.1 1 .1 1-.1 1 .1 1 .1 1 .1 1 0 1 .1 1-.2 1-.1 1 0 1 .1 1-.1 1 .1 1 0 1-.1 1-.1 1 0 1-.1 1-.1 1 .2 1 0 1-.1 1 .2 1-.1 1-.1 1 0 1 .1 1 0 1 .1 1-.2 1 0 1 0 1 0 1 .1 1 .1 1 .1 1 0 1-.1 1 .1 1 0 1-.2 1 0 1 0 1-.2 1-.1 1 .1 1-.1 1 .2 1 .1 1 .1 1 .1 1 0 1 0 1 0 1-.1 1 0 1-.1 1-.1 1 .1 1 0 1-.1 1 .2 1 .1 1 0 1 0 1 0 1 .1 1-.1 1 0 1-.1 1-.1 1-.1 1 .1 1 .2 1 0 1 .1 1 .1 1-.1 1-.2 1-.1 1 .1 1 0 1 0 1 .2 1 .1 1-.2 1-.1 1-.1 1-.1 1 0 1 .2 1 0 1-.1 1 .1 1-.1 1 0 1 0 1 .1 1-.2 1 .1 1 0 1 0 1 0 1 .1 1 0 1 .2 1-.1 1 .1 1 0 1-.1 1-.1 1 .1 1 0 1 0 1 0 1 0 1 0 1 .1 1-.1 1 0 1-.1 1 .1 1-.1 1 .2 1-.2 1 .2 1-.1 1 .1 1-.1 1 0 1-.1 1 .1 1-.1 1 .1 1 .1 1-.1 1 0 1 .1 1-.2 1-.1 1 .1 1 .1 1 .1 1 0 1 .1 1-.3 1 0 1-.1 1-.1 1 .1 1 .1 1 0 1 .1 1 0 1 0 1 .1 1 0 1-.2 1 .1 1 0 1 0 1 0 1 0 1 0 1-.1 1 0 1-.1 1 0 1-.1 1 .1 1 .1 1 0 1-.1 1-.1 1-.1 1 0 1 0 1-.1 1-.2 1 .1 1-.1 1 0 1-.1 1 .3 1-.1 1 .1 1-.1 1 .2 1-.2 1 .1 1-.1 1 .1 1 0 1 .1 1-.1 1 0 1 0 1 0 1-.1 1 .2 1-.1 1-.1 1-.1 1 .1 1 0 1-.1 1 .3 1 0 1-.2 1 0 1 .1 1 0 1 0 1 0 1 .2 1-.1 1 0 1 .1 1 .1 1-.1 1 0 1 0 1 0 1 0 1 0 1-.1 1 .1 1 .1 1 0 1 0 1 0 1-.1" stroke="#dddddd" stroke-width="1.4" fill="none" opacity="0.9"/>
<path d="M165,256.2l1-.1 1 .3 1-.5 1 .2 1-.2 1 .3 1 .1 1 .5 1-.1 1 .2 1-.1 1 .1 1-.2 1-.5 1 0 1 .2 1 .1 1-.2 1-.5 1 .3 1 .5 1 .6 1-.1 1-.6 1-.7 1 .1 1 .2 1 .3 1 .2 1 .3 1-.1 1-.1 1-.4 1 .1 1 0 1 .3 1 .2 1 0 1 0 1-.2 1 0 1-.3 1 .3 1 .2 1 .4 1-.2 1 0 1-.3 1 .1 1 0 1 0 1-.1 1-.3 1 .1 1-.1 1 .3 1 .1 1 0 1 0 1-.2 1 0 1-.1 1-.1 1 0 1 .1 1 .2 1-.2 1-.1 1-.2 1 .2 1 0 1 .2 1-.3 1 .3 1-.3 1 .2 1-.3 1 0 1 .1 1 0 1 0 1-.1 1-.2 1 .2 1 .1 1 .5 1-.1 1 .1 1-.2 1-.2 1 0 1 0 1 .1 1-.1 1 .2 1 0 1 .1 1-.4 1 .1 1 0 1 .1 1 .3 1-.3 1 0 1-.4 1 .5 1 0 1 0 1-.3 1 0 1 .1 1-.2 1 .2 1 .1 1 .1 1-.1 1 .2 1 0 1 0 1-.1 1-.1 1-.1 1 0 1 .2 1 .2 1-.6 1 0 1-.1 1 .5 1-.1 1 .1 1 0 1 0 1-.1 1 0 1 0 1-.1 1 .1 1 .1 1-.1 1-.1 1-.2 1 .3 1-.1 1 .3 1 0 1 .3 1-.4 1-.5 1-.3 1-.2 1 0 1-.3 1 0 1-.4 1-.1 1-.4 1 0 1-.2 1 .4 1 .1 1-.1 1-.5 1 0 1 .1 1 .1 1-.3 1-.3 1-.1 1 .1 1 .2 1 .1 1 0 1 0 1 0 1 .2 1 .3 1-.3 1-.1 1-.1 1 .5 1-.3 1 .1 1-.3 1 .2 1-.2 1 .2 1-.1 1 .2 1-.2 1 .1 1 .1 1 0 1 0 1-.2 1 .3 1 0 1-.1 1-.2 1 0 1 .1 1 0 1-.4 1 .3 1-.2 1 .2 1-.3 1-.1 1-.1 1 0 1 .3 1 .4 1 .3 1-.2 1-.3 1-.2 1 .1 1 .1 1-.1 1-.3 1 .1 1 .2 1 .1 1-.2 1 .3 1 .3 1 .2 1-.2 1 0 1 0 1 0 1 0 1-.3 1-.2 1-.2 1 .3 1-.2 1 0 1 0 1 .2 1 .4 1-.1 1-.1 1-.3 1 0 1 .2 1 0 1-.1 1 .1 1 0 1 .4 1 0 1 .1 1-.1 1 .2 1 0 1-.5 1-.1 1 .1 1 .3 1 .1 1-.2 1-.4 1-.5 1-.1 1 .5 1 .6 1 .2 1-.2 1-.1 1 0 1-.1 1-.2 1 0 1 0 1 .1 1 .2 1 .1 1 .1 1-.2 1-.1 1-.6 1-.3 1 .2 1 .2 1 .2 1 .1 1-.3 1 .3 1-.1 1 .2 1-.2 1-.2 1 .4 1 .1 1 .2 1 0 1-.1 1 .2 1-.1 1 .2 1-.4 1 0 1-.3 1 .4 1 0 1 .2 1-.2 1-.1 1-.2 1-.3 1-.1 1 .1 1 .3 1 .5 1 .1 1-.4 1-.2 1 .2 1 .3 1 0 1-.2 1 .5 1 .5 1-.1 1-.5 1-.3 1 .5 1 .2 1 .1 1-.2 1-.1 1 .1 1 .2 1 .1 1 .2 1-.3 1-.2 1-.2 1 .1 1 .2 1 .1 1 .5 1-.1 1-.1 1-.4 1 .2 1 .3 1-.1 1-.3 1-.1 1 .3 1 .2 1 0 1-.2 1 .3 1 .1 1 .4 1-.1 1 0 1-.2 1 0 1-.2 1 .2 1-.2 1 .5 1-.3 1 .1 1-.3 1 0 1 0 1-.4 1 .1 1-.1 1 .5 1 .2 1 .1 1 0 1-.1 1 .2 1-.1 1 .1 1 .2 1-.1 1-.1 1-.2 1 .5 1 .1 1-.3 1-.2 1 0 1 .2 1 .2 1-.2 1 .1 1-.4 1 0 1 .1 1 .1 1 .1 1 0 1-.1 1 .3 1-.2 1 .4 1-.1 1 .1 1-.5 1-.1 1 .2 1 0 1 .3 1-.3 1 .1 1-.3 1 .3 1-.1 1-.1 1-.4 1 .3 1 .3 1 .4 1-.3 1 0 1 .1 1 .5 1-.1 1-.2 1-.2 1 0 1-.1 1 .1 1 0 1 .4 1 0" stroke="#c8c8c8" stroke-width="1.3" fill="none" opacity="1.0"/>
<path d="M440,258.9l1 0 1 1.1 1-.3 1-.1 1-.5 1 .6 1-.9 1-.5 1 .1 1-1 1-.1 1-.3 1 .8 1 .3 1 2.4 1 .4 1 1.1 1-.3 1-.7 1-.6 1-.5 1-.9 1-2.1 1-.6 1-.9 1 .1 1 .1 1 2.6 1 0 1 2.9 1 1.3 1-.7 1 1 1-1.2 1-.9 1-1.5 1-1.2 1-2.5 1 1.2 1-.4 1 .3 1 .9 1 1.5 1 .5 1 .3 1 .9 1 .9 1-.9 1-.9 1-1.5 1 1.1 1-1 1 .4 1-.7 1-1.1 1 1.5 1-.4 1 .6 1 1.1 1-.8 1 .8 1 .1 1-.6 1-.4 1-.2 1 .4 1-.2 1-.3 1 .7 1-.2 1-.8 1 1.4 1-.2 1-.3 1-.8 1 .3 1 .1 1 .2 1-.2 1-.3 1 .7 1-.4 1-.5 1 .5 1-.7 1 1.6 1-.9 1 1 1-1.4 1 .8 1-.6 1-.2 1 1.4 1 .2 1-.8 1 .1 1-.3 1-.4 1 .7 1-.7 1-.3 1 .7 1 .4 1-.7 1 .8 1 .5 1-.2 1-.2 1-.2 1 .3 1-1.1 1-.2 1 1.2 1-1 1 .8 1-1.2 1 .8 1 .4 1-.7 1 .5 1-.3 1 .4 1 .2 1-.9 1 .6 1 0 1-.3 1 0 1 .4" stroke="#c8c8c8" stroke-width="1" fill="none"/>
<path d="M490,258.5l1-.1 1-1.8 1-.8 1-.4 1 .9 1 .2 1 1 1 .8 1 .4 1 1.7 1 .9 1 .4 1 0 1 .1 1 0 1-.4 1-1.8 1-.2 1-1.8 1-.5 1 0 1-.3 1-.9 1-.2 1 .3 1 2 1 .3 1 1.4 1 1.9 1 .2 1-.3 1 .8 1 0 1-1.4 1-1.7 1-.3 1-.3 1-1.6 1 .1 1-.4 1-.7 1-.2 1 1 1 .2 1 .7 1 1.2 1 .4 1 2.4 1-.1" stroke="#c5c5c5" stroke-width="1" fill="none" opacity="0.9"/>
<path d="M600,259.1l1-.2 1 0 1 .2 1-.9 1 .2 1-.5 1-.7 1-.4 1 .1 1-.2 1 0 1-1 1-.3 1 0 1-.8 1 0 1 0 1-.2 1-.6 1-.4 1 .7 1-.6 1 0 1-.2 1-.4 1 .4 1 .3 1-.5 1 .2 1-.2 1 .7 1-.1 1 0 1 .4 1 .6 1 .2 1 .4 1-.8 1 1 1 0 1 .2 1 .7 1 .4 1 0 1 .7 1 .7 1 0 1 .1 1 1 1 0 1-.2 1 .4" stroke="#d0d0d0" stroke-width="1.6" fill="none"/>
<path d="M600,258.4l1 .9 1 .5 1 .2 1 .2 1 0 1 .8 1-.1 1 .3 1 .8 1 .4 1 .6 1 .4 1 0 1 .7 1 0 1 .4 1 0 1 .3 1 .4 1 0 1-.2 1 .8 1-.2 1 .3 1-.2 1-.1 1 .6 1-.2 1-.4 1-.7 1 .3 1 0 1 .2 1-.4 1-.1 1-.8 1 .4 1-.9 1-.2 1-.2 1-.2 1-.8 1-.3 1-.6 1-.2 1-.1 1-.3 1-.5 1-.1 1-.7 1 .7 1-1.1" stroke="#d0d0d0" stroke-width="1.6" fill="none"/>
<path d="M610,259.1l1 .5 1-1.3 1 .6 1-.1 1-.4 1 .2 1-1 1 .1 1-.2 1-.6 1-.1 1 .4 1-.6 1-.4 1 .9 1-.8 1-.2 1 .8 1-1 1 .3 1 .6 1-.2 1 .9 1-.1 1-.4 1 .5 1 0 1 .5 1 .4 1-.2 1 .3 1 .9 1-.3 1 .5 1-.3" stroke="#c8c8c8" stroke-width="1.0" fill="none"/>
<path d="M610,259.2l1 .4 1 .3 1 .4 1 .1 1 .5 1 1 1-.5 1 .8 1 .4 1 .6 1 0 1 .5 1 .3 1 .1 1 .7 1 0 1-.7 1 .7 1-.4 1-.2 1 .3 1-1.2 1 .1 1-.1 1-.2 1-.9 1 .3 1-1 1 0 1-.5 1-.7 1-.4 1-.7 1 .3 1-.3" stroke="#c8c8c8" stroke-width="1.0" fill="none"/>
<path d="M1090,259.5l1-.1 1-.6 1 0 1-1.4 1-.1 1-.4 1-.7 1 .1 1-.9 1-.5 1-.8 1 .2 1-1 1-.5 1 .4 1-1.1 1-.1 1-1.2 1 .2 1-1.2 1 .1 1-.3 1 .3 1-.4 1 .1 1-.4 1 0 1 .2 1 .1 1 .3 1-.2 1 .7 1-.1 1-.5 1 1.1 1 .3 1 .2 1 0 1 0 1 1.1 1 .4 1-.3 1 1.5 1 .5 1 .6 1 .3 1 .4 1 .2 1 .6 1 .4 1 1.1 1 .4 1 .4 1 .3 1 .2" stroke="#d0d0d0" stroke-width="1.7" fill="none"/>
<path d="M1090,260l1-.3 1 .5 1 .6 1 .8 1 .5 1 1 1 .5 1 1.1 1 .3 1 1.1 1 .1 1 .8 1 1.2 1 1 1 .2 1 .2 1 .9 1 .6 1 .4 1 .8 1 .4 1 .1 1-.3 1 .9 1-.3 1 .8 1 .4 1-.5 1-.2 1-.5 1-.1 1 .3 1-1.4 1 .3 1-.3 1-.2 1-.9 1 .4 1-1.6 1-.3 1-.7 1-.5 1-.6 1-1 1-.8 1-1 1-.6 1 .3 1-1.7 1-1.1 1-.1 1-.7 1-.1 1-1 1 .1" stroke="#d0d0d0" stroke-width="1.7" fill="none"/>
<path d="M1090,259.4l1-.2 1 .7 1-.1 1 .8 1-.2 1 .4 1-.1 1-.2 1 .2 1 .2 1 .5 1 .9 1-.5 1 .1 1 1 1-.5 1 .5 1 .2 1 .1 1 .2 1-.2 1 .5 1 .5 1-.9 1 .1 1 .7 1-.3 1 .2 1-.4 1 .3 1-.4 1 .1 1-.8 1 .2 1 0 1-.1 1 .4 1-.7 1 0 1 .3 1-.8 1-.1 1-.3 1-.1 1-.4 1-.3 1 .1 1-.6 1-.2 1-.1 1 0 1-.2 1-.6 1 0 1 .6" stroke="#d0d0d0" stroke-width="1.7" fill="none"/>
<path d="M1096,259.7l1 0 1-1.3 1 .1 1-1 1-.9 1 .2 1-.4 1-.9 1-.8 1-.8 1 .3 1-.7 1-.8 1-.4 1-.1 1-.2 1-.8 1 .1 1 .1 1-.4 1 0 1-.5 1 .2 1 .6 1 0 1-.9 1 .8 1 .5 1 .5 1 .4 1 .3 1 .6 1 .6 1 0 1 .6 1 1.3 1 .2 1 .2 1 .7 1 .5 1 .7 1 .4 1 .7 1-.5" stroke="#c8c8c8" stroke-width="1.0" fill="none"/>
<path d="M1096,259l1 .5 1 .1 1 0 1 1.1 1-.3 1 .3 1 .5 1 .8 1-.4 1 .4 1 0 1 .1 1 .3 1 .7 1-.3 1 .2 1 .9 1 .3 1-.3 1-.5 1 .7 1-.4 1-.2 1 .1 1 .1 1-.5 1 .6 1-.4 1-.6 1-.5 1 .3 1-.4 1-.1 1-.3 1 0 1-.3 1-.2 1-.4 1-.5 1 .1 1-.3 1-.3 1 0 1-.7" stroke="#c8c8c8" stroke-width="1.0" fill="none"/>
<ellipse cx="186" cy="292.4" rx="16" ry="26" fill="#999999" opacity="0.55"/>
<ellipse cx="186" cy="292.4" rx="7" ry="17" fill="#cccccc" opacity="0.5"/>
<ellipse cx="558" cy="292.4" rx="17" ry="13" fill="#8a8a8a" opacity="0.4"/>
<ellipse cx="557" cy="292.4" rx="9" ry="6" fill="#c5c5c5" opacity="0.6"/>
<ellipse cx="1146" cy="292.4" rx="14" ry="30" fill="#929292" opacity="0.55"/>
<ellipse cx="1112" cy="292.4" rx="20" ry="12" fill="#838383" opacity="0.4"/>
<path d="M167.5,291.8v-9.4M168.5,291.8v-1.0M169.5,291.8v-1.0M171.5,291.8v-6.7M173.5,291.8v-9.2M174.5,291.8v-1.5M175.5,291.8v-7.7M176.5,291.8v-6.7M178.5,291.8v-11.7M179.5,291.8v-25.6M180.5,291.8v-10.8M182.5,291.8v-15.9M183.5,291.8v-4.6M184.5,291.8v-3.1M186.5,291.8v-10.6M187.5,291.8v-2.2M188.5,291.8v-1.0M189.5,291.8v-6.1M190.5,291.8v-17.3M191.5,291.8v-9.7M193.5,291.8v-22.8M195.5,291.8v-8.7M196.5,291.8v-1.0M197.5,291.8v-20.5M199.5,291.8v-12.1M200.5,291.8v-5.7M203.5,291.8v-3.6M204.5,291.8v-1.0M205.5,291.8v-6.5M206.5,291.8v-1.8M207.5,291.8v-1.6M208.5,291.8v-4.2M209.5,291.8v-6.9M212.5,291.8v-1.2M216.5,291.8v-2.7M222.5,291.8v-2.3M223.5,291.8v-2.0M225.5,291.8v-1.7M226.5,291.8v-2.2M229.5,291.8v-1.6M230.5,291.8v-3.5M236.5,291.8v-1.4M243.5,291.8v-1.4M247.5,291.8v-3.3M249.5,291.8v-2.2M250.5,291.8v-2.4M253.5,291.8v-3.8M261.5,291.8v-3.5M263.5,291.8v-2.2M266.5,291.8v-2.4M267.5,291.8v-2.0M276.5,291.8v-3.4M280.5,291.8v-1.0M287.5,291.8v-3.3M291.5,291.8v-2.2M293.5,291.8v-2.9M299.5,291.8v-2.4M305.5,291.8v-1.1M311.5,291.8v-1.0M313.5,291.8v-1.0M314.5,291.8v-3.7M321.5,291.8v-3.3M323.5,291.8v-3.5M328.5,291.8v-2.5M329.5,291.8v-3.6M330.5,291.8v-2.1M333.5,291.8v-2.2M334.5,291.8v-1.1M339.5,291.8v-1.8M349.5,291.8v-3.9M352.5,291.8v-1.8M353.5,291.8v-3.6M355.5,291.8v-1.2M357.5,291.8v-1.6M367.5,291.8v-1.0M368.5,291.8v-1.0M370.5,291.8v-1.3M371.5,291.8v-3.5M374.5,291.8v-2.5M380.5,291.8v-1.1M383.5,291.8v-3.9M384.5,291.8v-1.2M388.5,291.8v-3.1M394.5,291.8v-1.0M395.5,291.8v-1.0M402.5,291.8v-3.8M406.5,291.8v-2.5M409.5,291.8v-1.2M422.5,291.8v-3.7M426.5,291.8v-1.2M429.5,291.8v-1.8M432.5,291.8v-3.2M433.5,291.8v-2.4M436.5,291.8v-1.4M439.5,291.8v-1.2M444.5,291.8v-3.2M448.5,291.8v-1.9M450.5,291.8v-1.3M455.5,291.8v-1.0M461.5,291.8v-1.3M465.5,291.8v-3.5M467.5,291.8v-3.4M471.5,291.8v-2.9M472.5,291.8v-1.2M475.5,291.8v-1.0M476.5,291.8v-2.9M481.5,291.8v-1.8M493.5,291.8v-1.0M495.5,291.8v-1.0M500.5,291.8v-3.8M503.5,291.8v-3.1M505.5,291.8v-1.1M512.5,291.8v-1.5M521.5,291.8v-1.9M523.5,291.8v-1.6M525.5,291.8v-7.0M528.5,291.8v-1.1M530.5,291.8v-3.2M535.5,291.8v-2.3M540.5,291.8v-3.0M541.5,291.8v-6.3M542.5,291.8v-7.1M543.5,291.8v-1.0M550.5,291.8v-11.8M551.5,291.8v-1.1M552.5,291.8v-29.2M558.5,291.8v-17.3M559.5,291.8v-2.3M560.5,291.8v-1.0M562.5,291.8v-8.1M564.5,291.8v-7.7M567.5,291.8v-5.2M568.5,291.8v-1.3M570.5,291.8v-1.4M571.5,291.8v-2.1M572.5,291.8v-4.6M575.5,291.8v-1.2M577.5,291.8v-6.0M580.5,291.8v-1.1M582.5,291.8v-4.7M584.5,291.8v-5.9M586.5,291.8v-5.0M587.5,291.8v-2.0M588.5,291.8v-2.4M596.5,291.8v-6.7M599.5,291.8v-9.9M600.5,291.8v-6.5M601.5,291.8v-1.4M602.5,291.8v-2.4M603.5,291.8v-2.6M607.5,291.8v-8.0M610.5,291.8v-3.7M611.5,291.8v-1.3M616.5,291.8v-5.4M618.5,291.8v-2.1M619.5,291.8v-3.5M625.5,291.8v-1.0M630.5,291.8v-5.8M631.5,291.8v-9.7M632.5,291.8v-2.1M633.5,291.8v-1.1M635.5,291.8v-1.3M640.5,291.8v-2.3M642.5,291.8v-1.9M646.5,291.8v-3.5M651.5,291.8v-2.2M656.5,291.8v-1.2M660.5,291.8v-4.8M664.5,291.8v-1.0M665.5,291.8v-1.7M666.5,291.8v-4.4M667.5,291.8v-1.0M669.5,291.8v-4.9M672.5,291.8v-1.3M674.5,291.8v-1.5M676.5,291.8v-1.0M677.5,291.8v-3.1M678.5,291.8v-2.4M679.5,291.8v-2.0M681.5,291.8v-1.5M683.5,291.8v-3.2M685.5,291.8v-4.9M686.5,291.8v-1.1M690.5,291.8v-4.0M695.5,291.8v-1.3M698.5,291.8v-1.2M706.5,291.8v-2.1M709.5,291.8v-2.3M710.5,291.8v-1.4M718.5,291.8v-2.0M724.5,291.8v-3.4M731.5,291.8v-1.5M733.5,291.8v-1.0M736.5,291.8v-2.9M739.5,291.8v-1.4M741.5,291.8v-3.0M745.5,291.8v-2.7M746.5,291.8v-1.7M750.5,291.8v-1.0M757.5,291.8v-1.1M759.5,291.8v-1.1M763.5,291.8v-1.0M764.5,291.8v-2.1M768.5,291.8v-2.1M775.5,291.8v-2.9M779.5,291.8v-1.7M785.5,291.8v-2.5M788.5,291.8v-2.8M794.5,291.8v-1.8M795.5,291.8v-1.0M796.5,291.8v-1.9M802.5,291.8v-1.1M805.5,291.8v-1.1M808.5,291.8v-2.7M812.5,291.8v-1.7M813.5,291.8v-2.1M818.5,291.8v-2.6M820.5,291.8v-2.4M822.5,291.8v-1.0M832.5,291.8v-2.5M833.5,291.8v-1.3M837.5,291.8v-1.2M840.5,291.8v-1.4M843.5,291.8v-1.8M844.5,291.8v-1.2M850.5,291.8v-1.3M851.5,291.8v-1.2M852.5,291.8v-1.5M869.5,291.8v-3.3M874.5,291.8v-3.0M880.5,291.8v-1.3M892.5,291.8v-1.9M894.5,291.8v-1.2M897.5,291.8v-1.0M905.5,291.8v-2.0M908.5,291.8v-1.9M910.5,291.8v-1.1M915.5,291.8v-1.0M920.5,291.8v-1.0M921.5,291.8v-1.5M928.5,291.8v-1.0M935.5,291.8v-1.9M938.5,291.8v-3.0M939.5,291.8v-1.8M940.5,291.8v-2.3M942.5,291.8v-3.4M944.5,291.8v-1.2M946.5,291.8v-2.3M950.5,291.8v-1.0M955.5,291.8v-2.3M966.5,291.8v-1.1M971.5,291.8v-1.1M972.5,291.8v-1.0M973.5,291.8v-1.1M978.5,291.8v-1.1M979.5,291.8v-2.2M988.5,291.8v-1.4M998.5,291.8v-1.7M1000.5,291.8v-1.9M1001.5,291.8v-1.0M1014.5,291.8v-1.5M1015.5,291.8v-1.0M1018.5,291.8v-2.3M1023.5,291.8v-2.7M1024.5,291.8v-1.9M1025.5,291.8v-1.1M1034.5,291.8v-3.3M1035.5,291.8v-1.0M1037.5,291.8v-1.5M1040.5,291.8v-1.2M1043.5,291.8v-1.3M1048.5,291.8v-2.5M1050.5,291.8v-3.4M1051.5,291.8v-2.2M1062.5,291.8v-2.2M1070.5,291.8v-1.9M1074.5,291.8v-1.5M1077.5,291.8v-1.0M1078.5,291.8v-1.0M1079.5,291.8v-1.0M1087.5,291.8v-1.1M1088.5,291.8v-1.0M1089.5,291.8v-8.0M1090.5,291.8v-4.2M1092.5,291.8v-5.6M1094.5,291.8v-1.3M1099.5,291.8v-10.6M1108.5,291.8v-1.8M1109.5,291.8v-5.9M1110.5,291.8v-1.1M1112.5,291.8v-6.4M1115.5,291.8v-3.8M1119.5,291.8v-3.1M1122.5,291.8v-1.4M1124.5,291.8v-10.8M1126.5,291.8v-5.0M1128.5,291.8v-1.7M1129.5,291.8v-2.1M1130.5,291.8v-6.3M1132.5,291.8v-3.9M1133.5,291.8v-12.5M1134.5,291.8v-11.2M1136.5,291.8v-14.1M1137.5,291.8v-20.1M1139.5,291.8v-12.0M1140.5,291.8v-9.8M1141.5,291.8v-1.1M1142.5,291.8v-9.8M1144.5,291.8v-4.5M1145.5,291.8v-9.0M1146.5,291.8v-28.7M1147.5,291.8v-4.6M1149.5,291.8v-10.7M1150.5,291.8v-23.4M1151.5,291.8v-21.0M1152.5,291.8v-28.1M1153.5,291.8v-28.1" stroke="#bdbdbd" stroke-width="1.0" opacity="0.8" fill="none"/>
<path d="M180.5,291.8v-2.1M181.5,291.8v-2.0M183.5,291.8v-4.7M185.5,291.8v-1.0M188.5,291.8v-19.0M189.5,291.8v-1.4M190.5,291.8v-1.7M191.5,291.8v-13.9M1143.5,291.8v-11.1M1144.5,291.8v-1.5M1145.5,291.8v-3.4M1146.5,291.8v-1.0M1147.5,291.8v-1.0M1148.5,291.8v-1.1M1149.5,291.8v-1.0M1150.5,291.8v-6.9M1151.5,291.8v-8.6M1152.5,291.8v-4.7M1153.5,291.8v-1.3" stroke="#e2e2e2" stroke-width="1.0" opacity="0.9" fill="none"/>
<path d="M556.5,291.4v-12" stroke="#e9e9e9" stroke-width="1.2"/><path d="M556.5,279.4v-14" stroke="#bdbdbd" stroke-width="1.1"/><path d="M556.5,265.4v-15" stroke="#8a8a8a" stroke-width="1"/><path d="M554.5,291.4v-9M558.5,291.4v-10M560.5,291.4v-12M544.5,291.4v-14" stroke="#b6b6b6" stroke-width="1" fill="none"/>
<rect x="165.5" y="289.0" width="989.0" height="1.6" fill="#a0a0a0" opacity="0.7"/>
<rect x="165.5" y="290.1" width="989.0" height="2.4" fill="#d5d5d5"/>
</g>
<path d="M165.5,292.4 H1154.5 M1154.5,292.4 v-10" stroke="#262626" stroke-width="1.2" fill="none"/>
<g filter="url(#par2)">
<rect x="163.5" y="365.2" width="993.0" height="165.0" fill="url(#s2r)"/>
<rect x="163.5" y="365.2" width="213.0" height="165.0" fill="url(#s2l)" mask="url(#s2mask)"/>
<rect x="165.5" y="367.2" width="989.0" height="68.4" fill="url(#s2h1)"/>
<rect x="165.5" y="367.2" width="989.0" height="125.8" fill="url(#s2h2)"/>
<rect x="165.5" y="498.8" width="989.0" height="26.4" fill="url(#s2h3)"/>
<rect x="165.5" y="498.8" width="989.0" height="26.4" fill="url(#s2h4)"/>
<rect x="165.5" y="465.8" width="989.0" height="27.2" fill="url(#s2h5)"/>
<path d="M376.0,526.2 V490.1 M377.0,526.2 V477.6 M382.0,526.2 V496.1 M386.0,526.2 V515.1 M387.0,526.2 V507.3 M395.0,526.2 V470.7 M398.0,526.2 V436.7 M399.0,526.2 V512.4 M401.0,526.2 V436.9 M402.0,526.2 V487.9 M404.0,526.2 V472.1 M407.0,526.2 V436.5 M415.0,526.2 V515.0 M416.0,526.2 V443.4 M417.0,526.2 V454.1 M424.0,526.2 V505.7 M425.0,526.2 V459.5 M429.0,526.2 V515.3 M436.0,526.2 V449.9 M438.0,526.2 V511.7 M445.0,526.2 V470.0 M447.0,526.2 V457.9 M448.0,526.2 V515.4 M449.0,526.2 V482.0 M462.0,526.2 V483.7 M464.0,526.2 V462.6 M472.0,526.2 V472.8 M474.0,526.2 V515.7 M476.0,526.2 V497.4 M484.0,526.2 V504.4 M487.0,526.2 V469.8 M489.0,526.2 V512.9 M490.0,526.2 V448.4 M492.0,526.2 V501.8 M493.0,526.2 V492.1 M494.0,526.2 V513.0 M504.0,526.2 V515.4 M506.0,526.2 V456.8 M507.0,526.2 V481.0 M508.0,526.2 V503.8 M511.0,526.2 V458.6 M519.0,526.2 V466.9 M528.0,526.2 V512.4 M529.0,526.2 V499.0 M530.0,526.2 V443.2 M539.0,526.2 V462.6 M542.0,526.2 V514.7 M545.0,526.2 V442.8 M556.0,526.2 V470.4 M557.0,526.2 V483.9 M560.0,526.2 V514.4 M563.0,526.2 V464.8 M566.0,526.2 V485.4 M572.0,526.2 V513.7 M574.0,526.2 V473.0 M576.0,526.2 V491.7 M577.0,526.2 V505.2 M586.0,526.2 V516.0 M594.0,526.2 V515.6 M595.0,526.2 V515.0 M600.0,526.2 V489.8 M601.0,526.2 V443.3 M602.0,526.2 V486.9 M603.0,526.2 V465.5 M606.0,526.2 V435.2 M615.0,526.2 V457.6 M618.0,526.2 V513.2 M621.0,526.2 V506.3 M622.0,526.2 V432.0 M626.0,526.2 V436.4 M632.0,526.2 V465.6 M636.0,526.2 V487.0 M638.0,526.2 V454.9 M643.0,526.2 V501.8 M648.0,526.2 V463.7 M649.0,526.2 V452.3 M651.0,526.2 V451.7 M652.0,526.2 V469.4 M657.0,526.2 V479.1 M658.0,526.2 V494.5 M659.0,526.2 V465.4 M661.0,526.2 V460.5 M662.0,526.2 V510.0 M664.0,526.2 V445.4 M667.0,526.2 V503.2 M669.0,526.2 V459.0 M671.0,526.2 V513.6 M672.0,526.2 V458.4 M676.0,526.2 V447.6 M681.0,526.2 V507.2 M682.0,526.2 V433.1 M684.0,526.2 V515.4 M688.0,526.2 V507.8 M691.0,526.2 V501.5 M694.0,526.2 V478.7 M705.0,526.2 V481.8 M707.0,526.2 V508.1 M708.0,526.2 V515.3 M711.0,526.2 V496.7 M714.0,526.2 V508.8 M720.0,526.2 V516.1 M725.0,526.2 V467.5 M726.0,526.2 V459.2 M727.0,526.2 V449.5 M731.0,526.2 V514.4 M740.0,526.2 V497.8 M745.0,526.2 V495.1 M753.0,526.2 V476.5 M759.0,526.2 V514.5 M765.0,526.2 V474.2 M767.0,526.2 V498.8 M771.0,526.2 V474.6 M773.0,526.2 V482.8 M784.0,526.2 V500.1 M790.0,526.2 V499.7 M793.0,526.2 V458.4 M794.0,526.2 V483.4 M797.0,526.2 V450.9 M798.0,526.2 V500.2 M799.0,526.2 V448.5 M800.0,526.2 V515.9 M810.0,526.2 V488.3 M811.0,526.2 V477.4 M814.0,526.2 V473.0 M815.0,526.2 V493.2 M818.0,526.2 V508.5 M825.0,526.2 V505.7 M841.0,526.2 V443.6 M843.0,526.2 V483.8 M846.0,526.2 V481.5 M848.0,526.2 V481.7 M849.0,526.2 V492.3 M853.0,526.2 V516.1 M858.0,526.2 V500.1 M860.0,526.2 V469.6 M861.0,526.2 V440.3 M862.0,526.2 V452.4 M863.0,526.2 V514.4 M865.0,526.2 V470.4 M868.0,526.2 V515.2 M875.0,526.2 V434.7 M887.0,526.2 V513.5 M906.0,526.2 V456.1 M907.0,526.2 V513.0 M920.0,526.2 V491.2 M929.0,526.2 V440.1 M934.0,526.2 V504.6 M937.0,526.2 V476.6 M940.0,526.2 V488.8 M943.0,526.2 V448.7 M946.0,526.2 V471.9 M950.0,526.2 V478.7 M957.0,526.2 V480.4 M965.0,526.2 V478.1 M969.0,526.2 V482.9 M971.0,526.2 V459.5 M973.0,526.2 V492.7 M976.0,526.2 V516.1 M983.0,526.2 V468.0 M989.0,526.2 V437.5 M990.0,526.2 V516.1 M991.0,526.2 V511.6 M992.0,526.2 V470.4 M995.0,526.2 V478.1 M997.0,526.2 V513.8 M998.0,526.2 V442.7 M1003.0,526.2 V500.6 M1008.0,526.2 V452.1 M1013.0,526.2 V483.2 M1015.0,526.2 V514.5 M1019.0,526.2 V475.7 M1020.0,526.2 V435.9 M1027.0,526.2 V477.0 M1038.0,526.2 V478.6 M1044.0,526.2 V441.4 M1047.0,526.2 V433.6 M1050.0,526.2 V457.9 M1057.0,526.2 V434.7 M1060.0,526.2 V435.4 M1063.0,526.2 V438.1 M1071.0,526.2 V477.5 M1074.0,526.2 V440.5 M1082.0,526.2 V465.7 M1086.0,526.2 V481.9 M1089.0,526.2 V456.0 M1090.0,526.2 V489.8 M1096.0,526.2 V455.6 M1098.0,526.2 V488.5 M1100.0,526.2 V447.4 M1106.0,526.2 V464.1 M1109.0,526.2 V481.3 M1113.0,526.2 V494.7 M1119.0,526.2 V509.3 M1132.0,526.2 V515.5 M1136.0,526.2 V462.6 M1137.0,526.2 V514.6 M1139.0,526.2 V512.6 M1140.0,526.2 V453.5 M1150.0,526.2 V495.7 M1152.0,526.2 V485.5" stroke="#575757" stroke-width="1" opacity="0.3" fill="none"/>
<path d="M390.0,526.2 V500.3 M396.0,526.2 V394.5 M400.0,526.2 V371.4 M419.0,526.2 V503.2 M432.0,526.2 V424.3 M440.0,526.2 V450.3 M480.0,526.2 V449.6 M481.0,526.2 V423.0 M515.0,526.2 V379.7 M522.0,526.2 V464.2 M538.0,526.2 V433.8 M567.0,526.2 V439.1 M573.0,526.2 V460.2 M580.0,526.2 V477.4 M593.0,526.2 V447.9 M598.0,526.2 V447.3 M634.0,526.2 V411.7 M642.0,526.2 V443.3 M653.0,526.2 V484.5 M655.0,526.2 V416.6 M660.0,526.2 V425.0 M692.0,526.2 V417.9 M697.0,526.2 V464.0 M709.0,526.2 V500.0 M710.0,526.2 V434.1 M724.0,526.2 V500.1 M738.0,526.2 V460.4 M752.0,526.2 V399.8 M787.0,526.2 V505.3 M803.0,526.2 V379.3 M805.0,526.2 V443.6 M834.0,526.2 V478.4 M835.0,526.2 V496.6 M871.0,526.2 V376.5 M872.0,526.2 V445.9 M889.0,526.2 V440.4 M893.0,526.2 V474.7 M901.0,526.2 V450.8 M956.0,526.2 V438.2 M972.0,526.2 V431.3 M1005.0,526.2 V396.4 M1022.0,526.2 V484.2 M1026.0,526.2 V458.3 M1069.0,526.2 V432.9 M1072.0,526.2 V500.1 M1084.0,526.2 V446.4 M1094.0,526.2 V486.1 M1108.0,526.2 V405.0 M1124.0,526.2 V431.7 M1134.0,526.2 V427.0 M1151.0,526.2 V494.3" stroke="#000000" stroke-width="1" opacity="0.25" fill="none"/>
<path d="M267.5,367.2 V526.2 M291.5,488.0 V526.2 M556.5,467.8 V526.2" stroke="#575757" stroke-width="1" opacity="0.6"/>
<path d="M170.0,526.2 V453.6 M171.0,526.2 V415.4 M182.0,526.2 V476.5 M207.0,526.2 V427.0 M209.0,526.2 V463.9 M212.0,526.2 V470.4 M219.0,526.2 V400.6 M228.0,526.2 V452.1 M257.0,526.2 V374.7 M261.0,526.2 V433.1 M266.0,526.2 V375.9 M277.0,526.2 V394.8 M282.0,526.2 V482.6 M289.0,526.2 V379.2 M291.0,526.2 V450.8 M296.0,526.2 V464.6 M302.0,526.2 V380.9 M304.0,526.2 V393.1 M305.0,526.2 V402.0 M343.0,526.2 V396.0 M352.0,526.2 V415.6 M354.0,526.2 V450.1 M357.0,526.2 V375.8" stroke="#070707" stroke-width="1" opacity="0.22" fill="none"/>
<path d="M165,420.8l1-.1 1 .1 1-.3 1 .1 1 0 1 .1 1 .1 1 0 1 .2 1 0 1 .2 1-.4 1-.1 1-.7 1 .5 1-.2 1 .4 1-.3 1 .6 1-.1 1 0 1-.4 1-.3 1-.2 1 .4 1 .4 1 .3 1-.2 1-.3 1 .1 1-.1 1 .1 1-.3 1 .1 1 .3 1 .3 1-.1 1 0 1-.2 1 0 1 .4 1 0 1-.3 1-.1 1 .1 1 0 1-.4 1-.5 1 0 1-.3 1 .7 1 .4 1 .5 1-.4 1-.3 1-.2 1 0 1 .2 1 .4 1 .2 1-.1 1-.2 1 0 1 .3 1-.1 1 0 1-.3 1 .2 1-.4 1-.1 1-.2 1 0 1 .3 1 .2 1 .2 1 0 1-.1 1 .1 1 .2 1-.2 1-.1 1-.3 1-.2 1 .4 1 0 1 .2 1 0 1-.2 1 .2 1-.2 1 .2 1 .1 1 0 1-.2 1-.5 1-.2 1-.2 1 .2 1 .4 1 .1 1 0 1-.5 1 .3 1-.3 1 0 1 0 1 .2 1 0 1-.8 1-.2 1 .2 1 .1 1 .3 1-.4 1-.1 1-.6 1 0 1 .1 1 0 1-.2 1 0 1-.2 1 0 1-.3 1 .2 1-.3 1-.5 1-.3 1 .2 1 .2 1-.2 1-.2 1-.1 1-.2 1-.2 1 .1 1-.1 1-.4 1-.4 1-.1 1 .3 1-.1 1-.3 1 0 1 .1 1-.1 1-.7 1-.4 1 .2 1-.1 1 .1 1-.2 1 .5 1-.3 1-.3 1-.5 1 .5 1 0 1 0 1-.4 1 0 1 .2 1-.1 1 .2 1-.4 1-.4 1-.4 1-.2 1 .5 1 .1 1 .3 1-.2 1-.1 1 .2 1 0 1-.1 1-.3 1 0 1 .2 1-.2 1-.1 1-.3 1 .1 1 .2 1-.2 1 0 1-.3 1 0 1-.4 1 .3 1 0 1 .1 1-.4 1 .2 1 0 1 0 1-.1 1 .2 1 0 1-.1 1-.3 1 0 1-.1 1-.1 1 0 1 .2 1 .1 1 0 1-.3 1-.1 1-.2 1-.2 1-.1 1 .3 1 .1 1 .1 1 .3 1 .3 1 .1 1-.3 1 .2 1 0 1 .3 1-.1 1 .3 1 0 1 .3 1 .2 1-.1 1 .2 1 .1 1 .5 1-.2 1-.1 1 0 1 .2 1 .3 1-.3 1 .1 1 0 1 .2 1-.1 1-.2 1 0 1 .1 1 .2 1 0 1 .3 1 .1 1 0 1-.1 1-.1 1 .2 1-.2 1 .2 1 .1 1 .1 1-.2 1 .4 1 .1 1 .3 1 .1 1 .1 1 .2 1-.3 1-.2 1-.4 1 .1 1 0 1 .2 1 .1 1-.3 1-.3 1 .3 1 .1 1 .1 1-.5 1 .3 1 0 1 .1 1-.1 1-.2 1-.1 1-.1 1 .4 1-.1 1-.2 1-.5 1 .3 1 0 1 0 1-.1 1 0 1 .2 1 .1 1 0 1-.1 1-.3 1 .2 1 .1 1 .2 1 .2 1 0 1 .1 1-.2 1-.2 1-.1 1-.6 1 .1 1-.3 1 .4 1-.1 1 .2 1-.2 1-.4 1 .2 1 .3 1 .3 1 0 1 .2 1 .4 1 .2 1 .2 1 0 1-.2 1 .2 1 .1 1 .7 1-.1 1 .5 1 .1 1 .3 1 0 1 .2 1-.3 1 .1 1 0 1 .5 1-.1 1-.1 1 .1 1 .1 1 .2 1-.2 1 .1 1 0 1 .6 1 .2 1 .2 1-.5 1 0 1 0 1 .1 1-.3 1 0 1 .4 1 .1 1 0 1 0 1 .4 1 .1 1 .1 1-.2 1-.1 1 .1 1 0 1 .3 1-.1 1 .1 1-.6 1 .1 1 .1 1 .6 1 .3 1 0 1-.1 1-.1 1 .2 1 .2 1-.1 1-.2 1-.1 1 0 1 .4 1 0 1 .2 1-.1 1 .3 1 .3 1-.4 1-.1 1 0 1 .3 1 0 1-.2 1 0 1 0 1 .2 1 .1 1 .2 1 .2 1 .3 1 .1 1-.2 1-.3 1-.3 1 0 1-.1 1 .2 1 .4 1 .2 1-.1 1-.2 1 .2 1 0 1 .6 1 .1 1 .5 1-.4 1-.1 1-.1 1 .3 1 .3 1-.6 1-.1 1-.4 1 .4 1 .2 1 .6 1-.1 1-.1 1-.1 1-.1 1 .1 1-.4 1-.4 1-.5 1-.2 1-.5 1-.5 1-.6 1-.4 1-.5 1-.6 1-.7 1-.6 1-.6 1-.5 1-.8 1-.5 1-.8 1-.3 1-.9 1-.4 1-.5 1-.3 1-.6 1-.5 1-.2 1 .5 1 .2 1 .4 1 .2 1 .5 1 .4 1 .4 1 .1 1-.1 1 .2 1 .1 1 1.1 1 .1 1 .9 1 .5 1 .8 1 .7 1 .8 1 1 1 1.2 1 .8 1 1.1 1 1 1 1.4 1 1.3 1 1.3 1 1.2 1 .6 1 .8 1 .7 1 1 1 .6 1 .5 1 .3 1 .3 1 .3 1 .3 1 0 1 .4 1 .2 1 .4 1-.2 1 0 1 0 1 .4 1 .1 1 .2 1 .2 1 .4 1-.1 1 .2 1 .3 1 .2 1-.2 1-.1 1-.1 1 .1 1-.2 1 .3 1-.1 1 .4 1 .3 1-.1 1-.1 1-.2 1-.1 1 0 1-.2 1 .4 1-.5 1 0 1-.2 1 .3 1 .1 1 .1 1 .6 1 0 1 0 1-.5 1-.1 1-.2 1 .1 1 .2 1 .4 1 .1 1 .1 1-.4 1-.2 1-.1 1 .2 1 .1 1 0 1 0 1 0 1-.1 1 .2 1 .1 1-.1 1-.1 1 0 1-.1 1-.1 1-.2 1 .2 1 .1 1 .1 1-.4 1-.2 1 0 1 .1 1-.2 1 .3 1 0 1 0 1 .2 1 0 1 .1 1-.4 1 .2 1 .1 1 .2 1-.2 1 .2 1 .1 1 .2 1 0 1-.2 1 .1 1-.1 1 0 1 0 1 0 1-.1 1-.4 1-.4 1 0 1 0 1 .1 1 0 1 .5 1 .3 1 .1 1-.2 1-.2 1-.1 1-.1 1 0 1 .1 1-.1 1 .1 1 .1 1-.3 1 .1 1 0 1 .1 1-.1 1-.4 1 .1 1 0 1 .1 1 .2 1-.1 1 .1 1 0 1 .4 1 0 1 .2 1-.4 1-.1 1-.1 1-.2 1 .1 1 0 1 .2 1 0 1-.2 1-.1 1-.1 1 .6 1-.2 1 .2 1-.5 1 .5 1-.3 1 .1 1 .1 1 0 1 .5 1-.1 1 .2 1-.6 1 .1 1 .1 1 .1 1-.1 1-.1 1 .2 1 .1 1-.1 1 0 1 .1 1 .2 1-.2 1-.4 1-.3 1 .3 1 0 1-.1 1-.3 1 .2 1-.2 1 0 1-.1 1 .1 1 0 1 .1 1-.2 1 .1 1-.2 1 .2 1-.2 1-.3 1 .1 1-.3 1 .3 1 0 1 .3 1-.1 1-.3 1-.1 1 0 1 0 1 0 1-.3 1-.4 1-.5 1-.1 1 .1 1 .1 1 .2 1 0 1-.1 1 .1 1-.2 1 .2 1-.3 1 .3 1-.2 1 .3 1-.4 1 .1 1-.7 1 .3 1-.2 1 .5 1-.4 1-.2 1-.3 1 .3 1 .1 1-.1 1-.4 1 .1 1 0 1-.3 1-.1 1 0 1 .2 1 0 1 0 1 0 1-.3 1-.2 1-.2 1 .4 1 .4 1 .2 1-.2 1-.2 1-.2 1 .1 1 0 1 .1 1 0 1-.6 1-.2 1-.1 1 .6 1 .2 1 .1 1-.1 1-.3 1-.3 1-.1 1 .2 1 0 1 0 1-.3 1 .4 1 .1 1-.3 1-.3 1-.2 1 .6 1 .3 1 .4 1-.1 1-.3 1-.1 1-.2 1 .4 1 0 1 .2 1-.4 1-.1 1-.6 1 .2 1 0 1 .5 1-.1 1-.1 1-.3 1-.3 1-.2 1-.3 1 .2 1 .4 1 .4 1 0 1-.4 1 .2 1 0 1 .3 1-.1 1-.4 1-.2 1-.4 1 .4 1-.2 1 .4 1 .1 1 .3 1-.2 1-.1 1 .1 1-.2 1 .2 1-.1 1 .1 1 0 1-.1 1-.1 1-.2 1 .1 1-.1 1-.1 1-.1 1 .1 1 .5 1-.1 1-.1 1-.5 1-.4 1 .5 1-.3 1 .6 1-.1 1 .6 1-.4 1-.2 1-.3 1 .1 1 .2 1-.5 1 0 1-.3 1 .4 1-.1 1 .2 1-.3 1 .1 1-.2 1-.1 1 0 1 .1 1-.1 1 .2 1 .1 1 .3 1-.1 1-.1 1 0 1-.1 1 .2 1-.3 1-.2 1-.5 1 .1 1 .2 1 .6 1-.4 1-.1 1-.4 1 .3 1-.2 1 .3 1-.4 1 .3 1-.4 1 .3 1 0 1 .2 1 .1 1-.3 1-.4 1-.1 1 .3 1 .1 1-.2 1-.4 1 .3 1 .1 1 .2 1-.4 1-.1 1-.5 1 .3 1 .3 1 .6 1-.1 1 0 1 .1 1 .2 1-.6 1-.3 1-.3 1 .3 1-.2 1 0 1-.2 1 .4 1 .2 1 0 1-.4 1-.2 1 0 1-.1 1 .2 1 .1 1 .3 1-.1 1 0 1-.3 1-.2 1-.1 1-.1 1 .4 1 .1 1-.1 1-.3 1-.1 1-.1 1 0 1 .4 1-.1 1 .4 1 .3 1 .8 1 .7 1 .6 1 1 1 .3 1 .7 1 .9 1 .9 1 .8 1 .8 1 .9 1 .9 1 .3 1 .5 1 .1 1 .5 1 .8 1 .8 1 .5 1 .2 1 .6 1 .9 1 .3 1 .6 1 .6 1 .5 1 .2 1 0 1 .9 1 .4 1 .8 1 .1 1 .1 1-.2 1 .2 1 .2 1 .1 1-.1 1 0 1-.1 1 .5 1 .2 1 .2 1-.3 1 .2 1 .4 1 0 1-.2 1 0 1 .5 1 .2 1 .2 1 0 1 .4 1-.1 1 .3 1-.2 1 .1 1-.2 1 .1 1 .3 1 .3 1 .2" stroke="#343434" stroke-width="4" fill="none" opacity="0.5"/>
<path d="M165,420.7l1 .1 1 .2 1-.2 1 .1 1 .2 1 .4 1-.2 1-.1 1-.5 1 .4 1 .5 1-.2 1-.7 1-.6 1 0 1 .9 1 0 1 .6 1-.7 1-.1 1-.8 1 .2 1 .2 1 .4 1 .2 1-.4 1-.1 1 .2 1 .2 1 .1 1-.3 1 .2 1-.5 1 .5 1-.1 1 .3 1-.4 1-.4 1 .2 1 .4 1 .3 1-.1 1-.2 1 .1 1 0 1-.4 1 .6 1-.4 1 .3 1-.5 1-.2 1 .2 1-.4 1 .7 1 .2 1 .5 1-.4 1-.1 1-.4 1-.6 1-.1 1-.1 1 .8 1-.4 1 .7 1 .1 1 .6 1-.5 1-.5 1 .3 1 .1 1 .3 1-.7 1-.2 1-.5 1 .4 1 .1 1 .8 1-.3 1 .3 1-.3 1-.1 1-.4 1-.4 1-.1 1 .7 1 .2 1 .2 1-.4 1 .4 1-.2 1 .1 1-.4 1 .4 1-.6 1-.2 1-.4 1 .3 1 .5 1 .3 1 .4 1-.3 1-.2 1-.4 1 .2 1 .4 1 0 1-.2 1-.7 1-.3 1-.3 1 .3 1-.4 1-.1 1-.1 1 .7 1-.1 1-.2 1-.5 1-.7 1-.3 1 .2 1 .5 1-.4 1-.1 1-.2 1 .5 1-.5 1 .2 1-.5 1 .3 1-.1 1 0 1-.2 1-.3 1-.5 1-.6 1-.2 1 0 1 0 1 .2 1-.2 1-.1 1-.5 1-.3 1 0 1 .3 1 .1 1 .2 1-.3 1 .3 1-.5 1-.1 1-.5 1-.2 1-.2 1-.1 1-.1 1-.1 1-.2 1 .1 1-.3 1 .2 1-.4 1 .3 1-.3 1 .7 1-.1 1 .1 1-.7 1-.4 1 0 1 .4 1-.2 1-.3 1 0 1 .1 1 .5 1 .2 1 .6 1-.8 1-.2 1-.5 1 .5 1-.2 1 0 1-.4 1-.6 1-.3 1 .1 1 .5 1 .1 1 .5 1-.1 1 .3 1-.4 1 .2 1-.1 1-.3 1-.3 1-.6 1-.2 1 0 1 .1 1 .2 1 .4 1 .5 1 0 1-.4 1-.4 1 0 1 .2 1 .1 1 .3 1 0 1-.1 1 0 1 0 1 .6 1-.4 1 .1 1 0 1 .1 1 .4 1 .2 1 .7 1-.3 1 .1 1-.5 1 0 1-.3 1 .5 1 0 1 .2 1 .1 1 0 1 .1 1 0 1-.2 1-.2 1 .1 1 .4 1 .4 1 .2 1 .2 1 .3 1 0 1-.1 1 .2 1 0 1 .1 1-.4 1-.1 1 .5 1-.1 1-.2 1 0 1 .3 1 0 1-.3 1 .3 1 .2 1-.1 1-.2 1 .3 1 .6 1 0 1-.5 1-.3 1 .5 1 .2 1 .1 1-.7 1 .1 1 .1 1 .1 1-.2 1 .1 1-.3 1 0 1-.6 1 .6 1 .1 1-.1 1 .2 1-.2 1 .4 1-1.1 1 0 1-.2 1 .1 1 .1 1 .1 1 0 1-.2 1-.3 1-.2 1 .1 1 .6 1 .8 1 .1 1-.4 1-.5 1-.6 1 0 1-.3 1 .7 1 .2 1 .2 1-.5 1 .1 1 .2 1 0 1 0 1-.8 1-.1 1 .1 1 1.1 1 .9 1 .1 1-.4 1 .1 1-.1 1 0 1-.1 1-.4 1 .9 1-.6 1 1.3 1-.2 1 .7 1-.2 1 .2 1 .4 1-.4 1 0 1-.2 1 .5 1 .1 1 .2 1 .3 1 .4 1-.1 1-.1 1-.4 1 .6 1-.2 1 .2 1-.4 1 .1 1 .1 1-.2 1-.2 1 .1 1 .4 1 .3 1 .2 1 .1 1 0 1 .1 1-.5 1 .2 1-.1 1 .4 1 .1 1-.6 1 .1 1 0 1 1 1 .4 1-.2 1-.4 1 .2 1 .8 1 .3 1-.5 1-.2 1-.6 1 .5 1 0 1 .4 1-.3 1-.2 1-.5 1 .5 1 .4 1 .8 1-.4 1-.3 1-.3 1 .4 1 .3 1 .3 1-.1 1 .2 1 0 1-.1 1-.2 1-.2 1 .1 1 .5 1 .3 1 .4 1-.8 1-.1 1-.2 1 .1 1 .4 1 .5 1 .9 1 .2 1-.4 1-.8 1 0 1-.2 1-.1 1-.2 1 .4 1 .7 1-.2 1 .1 1-.1 1 0 1-.4 1-.3 1 .2 1 .2 1 0 1 .1 1 .2 1 .3 1 .4 1 0 1-.6 1-.6 1-.4 1 .1 1-.9 1 0 1-.5 1-.1 1-.9 1-.6 1-1 1-.6 1-.7 1-.3 1-.6 1-.7 1-1.4 1-1 1-.6 1-.2 1-.1 1-.6 1-.1 1-.5 1 .4 1-.2 1-.2 1-.3 1 .2 1 .4 1 .3 1 .4 1-.1 1 0 1 .5 1 1.1 1 .7 1 .2 1 .8 1 .7 1 .9 1 .2 1 1 1 .6 1 .9 1 .6 1 1.2 1 .8 1 1.2 1 1.2 1 1.4 1 1.5 1 .9 1 1.3 1 .4 1 1 1 1 1 .5 1 .1 1 0 1 .3 1 .7 1 .3 1 .2 1 .3 1 .1 1 .3 1 .1 1-.1 1 .3 1-.3 1 0 1 .6 1 .7 1 .7 1-.5 1-.2 1 .2 1 .3 1-.1 1-.3 1-.1 1 .3 1 .1 1 .7 1-.2 1 .4 1-.2 1 .3 1-.3 1-.2 1-.2 1-.2 1-.5 1 .1 1 .4 1 .6 1-.4 1 0 1-.1 1 .5 1-.4 1-.2 1-.4 1 0 1 .3 1 .3 1 .1 1-.1 1-.1 1 .6 1 .1 1 .2 1 0 1-.4 1-.4 1-.4 1-.4 1 .1 1-.1 1 .1 1 .2 1 0 1 .5 1-.3 1 .2 1-.3 1 .6 1 0 1 .5 1-.4 1 .2 1-.4 1 .5 1-.4 1-.3 1-.3 1-.3 1 .2 1-.4 1 .5 1 .4 1 .4 1-.5 1 0 1 .3 1 .5 1 .1 1-.3 1-.2 1-.4 1-.1 1 .4 1-.1 1-.2 1 0 1 .1 1 .3 1-.3 1 0 1-.5 1 .1 1 .1 1 .5 1 .2 1 0 1 .1 1 0 1 0 1-.6 1-.2 1-.2 1 .3 1-.3 1 .7 1 0 1 .2 1-.6 1-.3 1 .2 1 .4 1 .4 1 0 1 .2 1-.4 1-.2 1-.4 1-.3 1 .5 1 .3 1 .8 1-.5 1-.1 1-.4 1-.2 1-.2 1 .4 1 .2 1 .1 1-.4 1 0 1-.1 1-.1 1-.6 1 .4 1 .2 1 0 1-.1 1-.3 1 .4 1 0 1 .3 1 .2 1 .3 1-.1 1-.5 1-.2 1 .4 1 .3 1-.4 1-.1 1-.2 1 .6 1-.3 1 .2 1-.3 1-.2 1 .1 1 .1 1 .3 1-.4 1-.1 1-.1 1 .1 1 .3 1-.2 1 .1 1-.4 1 .7 1-.5 1 .3 1-.6 1 .4 1-.7 1 0 1-.5 1 1.1 1-.2 1 0 1-1 1 0 1 .1 1 0 1 0 1 0 1 .1 1 .1 1-.2 1-.3 1-.2 1-.2 1 .5 1-.3 1 .4 1-.9 1 .5 1-.2 1 .7 1-.2 1-.3 1 .3 1-.4 1 0 1-.2 1 0 1 .6 1-.3 1-.5 1-.4 1 .2 1 .8 1-.2 1-.4 1-.1 1-.1 1 .3 1-.4 1 .6 1-.3 1 .2 1-.9 1 .1 1-.4 1 .4 1-.3 1 0 1-.5 1-.3 1 0 1 0 1 .4 1-.1 1 0 1 0 1 .1 1 .2 1-.4 1 .2 1-.2 1 .4 1-.1 1 .4 1-.1 1 .1 1-.5 1 .2 1 0 1-.2 1-.2 1-.3 1 .2 1-.2 1 .4 1-.1 1 .3 1-.2 1 0 1-.3 1 .2 1 .1 1-.2 1-.5 1 .1 1 .3 1 .4 1 .1 1-.3 1 0 1-.2 1 .1 1-.2 1 .1 1 .1 1-.1 1 .1 1-.2 1-.1 1 .3 1 .4 1-.1 1-.7 1-.6 1 .1 1 .5 1 0 1-.3 1-.1 1 0 1 .4 1 .3 1 .2 1 0 1-.6 1 .4 1-.2 1 .1 1-.6 1 .2 1 .2 1-.1 1-.2 1 0 1 0 1 .2 1 .2 1-.1 1 .1 1-.1 1 .5 1-.4 1-.1 1 .1 1 .1 1-.3 1-.1 1 .1 1 .2 1-.1 1-.1 1-.4 1 0 1 .1 1 .2 1-.2 1 0 1 .1 1-.1 1 0 1-.2 1 0 1-.1 1-.4 1 .1 1-.3 1 .1 1-.4 1 .1 1 .4 1 .4 1 .3 1-.5 1 .2 1 .2 1 .3 1-.4 1-.3 1 .2 1 .4 1 .4 1-.1 1-.4 1-.3 1-.2 1 .1 1-.3 1-.1 1 0 1 .1 1-.4 1-.1 1 .2 1 .8 1-.2 1-.4 1-.5 1 0 1 .2 1-.2 1-.3 1-.2 1 .3 1 .5 1 .3 1 .2 1-.2 1-.5 1-.2 1-.1 1 .3 1 .3 1 0 1-.3 1-.1 1 .1 1 .3 1-.1 1-.5 1 0 1-.4 1 .4 1-.5 1 .5 1 0 1 .2 1-.1 1 0 1 .2 1-.3 1 0 1-.5 1-.2 1-.2 1 .6 1-.1 1-.1 1-.1 1 .2 1-.3 1-.1 1 .4 1 .5 1 0 1-.3 1-.4 1-.2 1 .2 1 .6 1 .2 1 .1 1-.6 1 0 1 .1 1 .7 1 .9 1 .3 1 .3 1 .6 1 1.3 1 .9 1 .4 1 .6 1 1 1 1.1 1 .8 1 .6 1 .1 1 .7 1 .3 1 1.1 1 .7 1 .5 1 .2 1 .5 1 .5 1 .4 1 .5 1 .8 1 .6 1 .4 1 .4 1 .2 1 .3 1 .3 1 .5 1 .2 1 0 1 .4 1 .4 1 .3 1 .2 1-.3 1 .3 1 .1 1 .2 1-.1 1 0 1 .1 1-.2 1 .1 1 .3 1 .6 1 .1 1 .1 1-.1 1 .3 1 0 1 .3 1 .1 1 .1 1 .4 1-.4 1 .3 1-.1 1-.1 1 .1 1-.2" stroke="#4f4f4f" stroke-width="1.4" fill="none" opacity="1.0"/>
<path d="M373,424l1 0 1-.2 1 .1 1-.2 1 .1 1 .4 1 .2 1-.2 1-.6 1-.2 1-.2 1 .3 1 .2 1 .5 1 .2 1 0 1-.8 1 0 1 .4 1 .4 1-.1 1-.4 1 .1 1 .3 1 .3 1 .2 1-.3 1 .3 1-.1 1 .3 1-.2 1 .1 1 .1 1-.4 1 0 1 .2 1 .4 1 .2 1-.6 1-.2 1-.4 1 .3 1 .1 1 .5 1-.1 1 0 1-.4 1 0 1 .1 1 .2 1 .5 1 0 1-.5 1-.4 1 .2 1 .5 1 .3 1-.3 1-.1 1-.3 1 0 1 .5 1-.3 1 0 1-.4 1-.2 1-.5 1-.6 1 .5 1 .5 1 .7 1-.4 1 .6 1-.2 1 .2 1-.6 1 0 1-.2 1-.2 1 .1 1 .4 1 .3 1-.4 1-.2 1-.9 1 .1 1 .1 1 .1 1 .5 1 .1 1 .6 1-.7 1 .2 1 0 1 .5 1-.5 1-.2 1 0 1 .2 1-.1 1-.1 1-.4 1 .2 1 .2 1 .5 1-.1 1 0 1-.5 1 .4 1-.1 1 .1 1-.6 1 0 1-.2 1-.2 1 0 1 .6 1 .3 1-.4 1-.3 1 .4 1 .8 1 0 1-.4 1-.5 1 0 1 .2 1 .2 1-.1 1 0 1-.8 1 .1 1-.2 1 .8 1 .8 1 .1 1-.2 1-.4 1 .1 1 .2 1 0 1 .8 1 .1 1 .3 1-.6 1-.4 1 0 1 .5 1 .9 1-.2 1-.3 1-.6 1-.1 1 .2 1 0 1 .1 1-.6 1 0 1 0 1 .1 1 .1 1 .4 1 .3 1 0 1-.4 1 .1 1 .1 1 .4 1 0 1-.3 1-.1 1 .2 1 .4 1-.3 1 .1 1 .5 1 .4 1-.6 1-.3 1 .2 1 1 1 .1 1 .2 1-.4 1 0 1-.2 1 .1 1 .1 1-.3 1-.1 1-.2 1 .4 1 .3 1 0 1 .2 1-.2 1 .4 1-.1 1 0 1 .2 1-.2 1 .5 1-.2 1 .5 1-.8 1 .4 1 .1 1 .6 1-.3 1-.6 1-.3 1-.1 1 .4 1 .1 1 .5 1-.1 1 .2 1-.5 1 .2 1-.2 1-.2 1 0 1 .2 1 .2 1-.4 1 0 1 .6 1 .1 1 .3 1 .1 1 .7 1 0 1 .1 1-.1 1 .3 1-.5 1-.3 1-.5 1 .5 1 .3 1 .3 1-.2 1-.1 1 .1 1 .5 1 .2 1-.3 1-.6 1 0 1 .1 1 0 1 .1 1 .7 1 .6 1 0 1 0 1 0 1-.2 1-.4 1-.3 1-.1 1 .5 1-.1 1 .2 1 0 1 .6 1 .3 1 .5 1 .1 1 .2 1-.5 1 .4 1 0 1 .6 1 .6 1 .5 1 .5 1-.6 1 .6 1 0 1 .9 1 .5 1 .2 1 0 1-.1 1 .8 1 .3 1 .2 1-.1 1 .5 1 .2 1-.1 1-.2 1 0 1 .2 1-.4 1 .2 1 .3 1 .5 1-.1 1 0 1-.2 1 .5 1 .3 1 .6 1 0 1-.2 1 0 1-.1 1 0 1 0 1 0 1-.3 1 .3 1 0 1 .6 1-.1 1 .1 1 .2 1-.3 1 .1 1-.2 1 .2 1 .7 1 .3 1 .2 1-.7 1-.1 1 0 1-.2 1-.2 1 .4 1 .4 1 .2 1-.3 1-.2 1-.2 1 .2 1 .3 1 .5 1-.4 1-.5 1 0 1-.1 1 .3 1-.1 1-.3 1-.1 1-.2 1 .1 1 .2 1 .2 1 .3 1-.1 1-.3 1-.1 1 .1 1 .1 1 .2 1 .3 1 .1 1 .2 1 0 1-.2 1 .1 1-.5 1 .3 1-.5 1 .1 1 0 1 .3 1 .5 1 .1 1-.8 1-.5 1-.4 1 .9 1 .3 1 .1 1 0 1 .1 1 .2 1 .3 1-.3 1 .3 1 .1 1-.1 1-.2 1-.9 1 0 1 .1 1 .7 1 .2 1-.5 1-.3 1 .4 1 .4 1 .3 1-.1 1-.3 1-.8 1 0 1 .4 1 .6 1-.2 1-.4 1 0 1 0 1-.1 1 .2 1 0 1 .2 1-.4 1 .4 1 .3 1-.4 1-.2 1-.3 1 0 1 .6 1-.2 1 .6 1-.1 1 .2 1 0 1-.1 1-.5 1 .5 1-.1 1 .4 1-.4 1-.1 1-.1 1 .3 1-.2 1 .7 1-.3 1 .2 1-.7 1-.1 1-.4 1 .2 1 .3 1 .1 1-.4 1 0 1 0 1 .1 1-.5 1 0 1 .1 1 .8 1-.2 1-.1 1-.2 1 .7 1 .4 1-.4 1-.4 1-.3 1-.1 1 .2 1 .3 1-.1 1-.5 1 .1 1 .3 1 0 1-.4 1-.4 1 .3 1-.3 1 .4 1-.1 1 .2 1-.4 1-.2 1-.3 1 0 1 0 1 .3 1 .2 1-.2 1-.5 1-.4 1-.1 1 .4 1-.2 1-.2 1-.1 1 .1 1 .4 1-.2 1-.3 1 0 1 .1 1 .3 1-.2 1 .2 1-.3 1 .3 1 0 1-.3 1-.2 1-.3 1 .5 1-.2 1 0 1-.5 1-.1 1-.6 1 .2 1 .2 1-.1 1 .1 1-.1 1 .2 1-.2 1-.6 1 0 1-.1 1 .4 1-.4 1 .2 1 .1 1-.1 1-.3 1-.1 1 .6 1 .1 1-.2 1-.2 1 .2 1 .1 1 0 1 .1 1-.5 1 .3 1 0 1 .3 1 .1 1-.4 1-.1 1-.5 1 .7 1 .2 1 0 1-.4 1-.4 1 .1 1 .2 1-.1 1-.2 1 0 1 .1 1 .3 1-.3 1-.1 1-.3 1 .2 1 .1 1 0 1 .2 1 .4 1 .1 1-.3 1-.5 1-.3 1-.2 1 .3 1 .2 1 .2 1 0 1 .3 1-.1 1-.5 1-.1 1-.6 1 .5 1 .1 1 .5 1-.3 1 0 1-.2 1 .1 1 .1 1 0 1-.2 1-.1 1-.2 1 .6 1-.2 1 .1 1-.5 1-.2 1 .2 1-.1 1-.1 1-.1 1 .4 1 .1 1 .1 1-.3 1-.3 1 0 1 0 1 .7 1-.1 1 0 1 .2 1 .5 1 .1 1-.8 1-.5 1 .3 1 .5 1-.2 1-.4 1 .3 1 0 1 0 1-.8 1 0 1-.3 1 .3 1 0 1 0 1 .1 1 .1 1-.3 1 .1 1 .5 1-.2 1 0 1-.5 1 .1 1 .1 1-.3 1 .2 1-.3 1 .1 1-.5 1 .1 1-.2 1 .2 1-.2 1 0 1 .3 1-.1 1 0 1-.3 1 .3 1-.2 1 .6 1 .3 1 .7 1-.1 1-.7 1-.4 1-.3 1 .4 1 .2 1 0 1 0 1-.1 1 .3 1-.2 1-.2 1 0 1 .1 1 0 1 .1 1-.1 1 .2 1 0 1-.1 1 .4 1-.4 1 .3 1 0 1 0 1-.7 1-.3 1-.7 1 .2 1 .4 1 .5 1-.1 1-.4 1 .5 1 0 1-.3 1-.4 1 .1 1-.2 1-.1 1 0 1-.3 1 0 1 .1 1-.1 1 .3 1-.1 1 .8 1-.2 1 0 1-.2 1-.1 1 .1 1 .3 1-.5 1 .2 1 0 1 .7 1-.1 1-.4 1 .1 1 .8 1 1.1 1 .6 1 1.4 1 .8 1 1.6 1 .7 1 1.4 1 .5 1 .3 1 .6 1 1 1 1.2 1 .3 1 .1 1 .5 1 .6 1 .7 1 .6 1 .7 1 .6 1 .1 1 .3 1 .3 1 1 1-.1 1 .8 1 .4 1 1 1 1 1 .1 1 .4 1 .1 1 .4 1 .2 1 0 1 .1 1-.3 1-.7 1-.8 1 0 1-.6 1-.2 1-.4 1-.4 1-.4 1-.6 1-.2 1-.4 1-.8 1-.9 1-.4 1 0 1-.3 1-.5 1-.6 1-.4 1-.5 1-.2 1 0 1 0 1-.3 1-.2 1-.3" stroke="#474747" stroke-width="1.2" fill="none" opacity="1.0"/>
<path d="M373,384.8l1-.2 1-.3 1 .6 1-.2 1 .5 1-.6 1 0 1-.6 1 .6 1 .1 1 .3 1-.6 1-.1 1-.3 1 .3 1-.4 1 0 1-.1 1 .2 1-.2 1-.1 1-.1 1-.2 1-.1 1 .2 1 .1 1 0 1 0 1 0 1-.2 1-.3 1-.2 1 .1 1 0 1-.3 1-.1 1-.4 1 .4 1-.4 1-.1 1-.2 1 .5 1 0 1 .3 1-.2 1 .3 1-.7 1 .1 1 .1 1-.1 1 .3 1-.4 1 .3 1-.8 1 .1 1-.1 1 .3 1 0 1-.2 1-.2 1-.3 1 .3 1 .3 1 .4 1-.2 1-.8 1-.4 1-.1 1-.1 1-.2 1-.1 1 .1 1-.1 1 0 1-.1 1 .6 1 0 1 .3 1-.2 1 .1 1-.5 1-.1 1-.2 1 .1 1-.1 1-.3 1 .3 1-.2 1 .2 1-.2 1 .3 1-.3 1-.1 1-.4 1 .2 1 0 1 0 1-.2 1-.4 1 .3 1 .1 1 .1 1-.2 1-.1 1-.1 1-.4 1-.2 1 .3 1 .3 1 .2 1-.1 1 0 1-.1 1-.4 1-.3 1-.4 1 0 1 .4 1 .1 1 0 1-.6 1 .3 1 .2 1 .3 1-.8 1 0 1-.1 1 .5 1 0 1-.3 1 0 1-.1 1-.1 1-.4 1-.4 1 .3 1 .1 1 .1 1 .2 1 .3 1-.2 1-.3 1 .1 1-.2 1 .1 1-.8 1 .7 1-.3 1 0 1-.5 1 .4 1 .6 1 .4 1 0 1-.2 1-.1 1-.2 1-.1 1-.5 1-.3 1-.3 1 .1 1 0 1 .3 1 0 1 .3 1 .1 1 0 1-.2 1-.8 1-.1 1-.3 1 .6 1 .5 1-.4 1-.5 1-.2 1 .2 1 .2 1-.1 1 0 1-.3 1-.1 1 .2 1 .4 1-.3 1-.4 1-.3 1 .1 1 0 1 .1 1-.2 1 0 1-.1 1 .1 1-.1 1-.1 1-.1 1 .2 1-.2 1 .2 1-.1 1 .4 1-.4 1 0 1-.1 1 .5 1 .2 1 .2 1-.5 1-.2 1-.3 1-.1 1 0 1 .1 1 .1 1-.1 1 0 1 .1 1 .1 1-.1 1 0 1-.2 1 .2 1-.2 1 .1 1-.2 1-.2 1-.1 1 0 1 0 1-.2 1 .1 1-.3 1 .1 1 0 1 0 1 .1 1 .2 1 .2 1-.1 1 0 1 0 1-.4 1 0 1 0 1-.2 1-.1 1-.1 1 .3 1 .1 1 .1 1 0 1 .1 1-.1 1 .3 1-.2 1 .1 1-.1 1 .3 1 .2 1 0 1 0 1-.5 1-.2 1-.2 1 .1 1 .2 1 .1 1 .5 1 0 1 .1 1-.3 1 .2 1-.3 1-.3 1-.3 1-.1 1 .1 1 .3 1 .4 1 .4 1 .3 1 .4 1-.4 1 0 1 .1 1 .5 1 0 1-.4 1-.2 1-.3 1 .2 1-.4 1 .6 1-.1 1-.2 1-.2 1-.2 1 .4 1-.3 1 0 1 .1 1 .4 1 .1 1-.4 1 .2 1 0 1 .1 1-.4 1 0 1 0 1-.1 1 .4 1 .6 1 .5 1-.2 1-.3 1-.1 1-.1 1 .3 1 .2 1 .2 1 .1 1-.2 1 .3 1-.3 1 .2 1-.2 1 .1 1 .1 1 0 1 .3 1-.4 1 .1 1-.3 1-.1 1-.3 1-.2 1 .3 1 .3 1 .1 1-.1 1 .2 1 .1 1-.1 1 .1 1 .3 1 .2 1-.2 1-.3 1-.2 1-.3 1 .4 1 .1 1 .5 1 .1 1 .1 1-.4 1-.1 1 .2 1 .1 1-.3 1-.6 1 0 1 .1 1 .7 1 .2 1 .2 1-.2 1-.3 1 .1 1-.3 1 .1 1-.3 1 .3 1 .2 1-.1 1 0 1 .1 1 .2 1-.1 1 0 1 .2 1 .2 1-.1 1-.2 1-.3 1-.3 1 .1 1 .2 1 .5 1 0 1-.1 1-.1 1 .1 1 .4 1-.2 1-.4 1-.3 1 .5 1 .5 1 0 1-.1 1-.2 1-.2 1 .2 1 .2 1 .4 1-.4 1-.8 1-.1 1 .3 1 .8 1-.1 1 .3 1-.2 1 0 1-.7 1 .2 1 .4 1 .4 1-.3 1-.8 1 0 1 .4 1 .6 1 .4 1-.2 1 .1 1-.2 1 .1 1-.2 1-.3 1 .1 1-.5 1 .2 1 .4 1 .3 1-.2 1-.5 1 0 1 .1 1 .2 1 .3 1 .2 1 .2 1-.2 1 .3 1-.1 1-.3 1-.6 1-.3 1 .3 1 .1 1 .4 1-.1 1 .5 1 0 1 .1 1-.3 1-.3 1 .1 1 0 1-.3 1-.2 1 0 1 .3 1-.5 1 .1 1-.2 1 .6 1-.3 1-.2 1-.2 1 .1 1 .2 1 .1 1 .2 1-.1 1-.3 1-.1 1 0 1 0 1 .1 1 0 1 0 1 .1 1-.1 1-.3 1-.6 1-.1 1-.1 1 .6 1 .2 1-.1 1-.5 1-.2 1 .1 1-.1 1 .1 1 .2 1 .4 1 .1 1-.5 1-.5 1-.2 1 .1 1 .4 1 0 1 .3 1-.1 1-.1 1-.2 1-.3 1-.1 1-.3 1 .2 1-.1 1 .3 1-.4 1 0 1 .1 1 .1 1-.5 1-.4 1-.1 1 .3 1 .3 1 .1 1 0 1-.2 1 .1 1 .2 1 .3 1-.2 1-.2 1-.2 1-.3 1 .4 1 .2 1 .4 1-.3 1-.5 1-.1 1-.4 1 0 1-.2 1-.1 1 .6 1-.2 1-.1 1-.6 1 .6 1 0 1 .2 1-.5 1 0 1-.4 1 .5 1 .2 1 .1 1 .1 1-.2 1-.3 1-.6 1-.1 1-.2 1-.1 1-.1 1 .3 1 .4 1 .5 1 .3 1 .1 1-.3 1 0 1-.4 1-.2 1-.3 1 .3 1 .1 1 .2 1-.5 1-.3 1-.3 1 0 1-.3 1 .1 1 .3 1 .1 1 .1 1 .1 1 .1 1 .1 1-.3 1 0 1-.3 1 0 1 0 1 0 1-.1 1-.1 1-.4 1 .3 1-.1 1-.2 1 .2 1-.2 1 .4 1-.7 1 .1 1 0 1 0 1 .1 1 .1 1 .2 1-.1 1-.4 1 .1 1-.2 1 .2 1-.2 1-.2 1-.2 1 .4 1 .1 1-.1 1-.1 1-.3 1 .4 1-.4 1 .2 1 0 1 .2 1 .3 1-.5 1-.3 1-.1 1 0 1 .3 1-.3 1 .3 1-.3 1 0 1-.1 1 .2 1 .2 1 .2 1 .1 1 .2 1-.2 1-.3 1 0 1 .1 1 0 1 0 1-.3 1 .4 1-.5 1 .2 1-.2 1 .4 1-.2 1-.2 1-.1 1 .5 1-.3 1-.2 1-.2 1 .2 1 .1 1-.1 1 .4 1-.2 1-.1 1-.4 1 .3 1 .4 1 .4 1-.2 1-.4 1-.4 1 0 1-.1 1 0 1-.1 1 .4 1-.1 1 .1 1-.1 1 .2 1 .1 1-.4 1 0 1 0 1 .1 1-.3 1 .3 1-.2 1 .6 1-.5 1 0 1-.8 1 .2 1 .2 1 .6 1-.4 1-.2 1-.6 1 .2 1 .4 1 .2 1 .4 1 0 1 .2 1-.2 1 .9 1 1.2 1 1.3 1 .5 1 .7 1 .5 1 1 1 .8 1 1.3 1 1.3 1 1.2 1 .7 1 .9 1 .7 1 .9 1 1 1 .7 1 .6 1 .5 1 1.4 1 1.2 1 1.1 1 .4 1 .8 1 .7 1 .6 1 .6 1 .4 1 .4 1 .6 1 .7 1 1.1 1 .5 1 .6 1 .4 1 .6 1 1 1 1.1 1 .7 1 1.1 1 .3 1 1 1-.2 1 .8 1 .4 1 1 1 .7 1 .8 1 .6 1 .7 1 .8 1 .6 1 .7 1 .7 1 .7 1 .5 1 .7 1 .6 1 .9 1 .8 1 1 1 .5 1 .6 1 .4" stroke="#373737" stroke-width="1.2" fill="none" opacity="1.0"/>
<path d="M640,372.2l1 .2 1 .2 1 .1 1 .3 1-.1 1 .3 1-.3 1 .2 1 0 1 .2 1 .4 1 .3 1 .4 1 0 1 0 1 0 1 .2 1 .1 1 .2 1 .1 1 .4 1 .2 1 .1 1-.3 1 .1 1 .3 1 .7 1-.1 1-.2 1 .4 1 .2 1 .1 1-.2 1 0 1 .2 1 .4 1 0 1 .3 1 .2 1 .4 1-.1 1 0 1 .5 1 .2 1 .2 1 .1 1 .4 1 .2 1-.3 1-.5 1 .2 1 .6 1 .5 1-.2 1 0 1 0 1 .2 1 .4 1 .6 1-.2 1-.1 1-.3 1 .3 1 .1 1 .1 1 .1 1 0 1 .2 1 .1 1-.1 1-.3 1-.2 1 0 1 .2 1-.1 1-.3 1-.1 1-.1 1 .4 1 .5 1 .1 1 .1 1-.3 1-.1 1 0 1-.3 1 .2 1 0 1 .2 1 .2 1 0 1 0 1-.1 1-.1 1 .4 1 .1 1 .2 1-.2 1-.3 1-.1 1-.1 1 0 1-.2 1 .1 1 .7 1 .4 1 .3 1-.2 1-.4 1-.1 1-.3 1 .6 1-.2 1 0 1-.6 1 .1 1 .2 1 .2 1 .4 1 0 1 .2 1-.2 1-.3 1-.4 1-.2 1-.2 1 .3 1 0 1 .4 1 .2 1 .3 1-.2 1 0 1-.2 1 .2 1 .1 1-.2 1-.1 1 .2 1-.1 1-.1 1 0 1 .4 1-.2 1 .2 1-.2 1 .4 1-.2 1 .3 1-.1 1-.4 1-.1 1 .1 1 .4 1 .1 1-.2 1 .3 1-.4 1 .3 1-.1 1 .2 1 0 1-.2 1 .1 1-.3 1 .2 1-.3 1 .2 1-.3 1 .2 1 .6 1 .3 1 .3 1-.9 1-.3 1-.2 1 .4 1 .1 1 .2 1-.1 1 .1 1-.5 1-.3 1-.3 1 .7 1 .3 1 .5 1-.3 1-.1 1-.3 1 .3 1 .2 1 .3 1-.2 1-.4 1-.4 1 .2 1 .2 1-.2 1-.1 1-.4 1 .6 1-.2 1 .4 1-.6 1 0 1 .1 1 0 1 .1 1-.2 1 .1 1-.3 1 .1 1-.1 1 0 1-.5 1 .1 1-.2 1 .1 1 .3 1 .3 1 .3 1-.4 1-.1 1 0 1 0 1 0 1-.6 1-.3 1-.2 1 .5 1-.2 1 .2 1-.1 1 0 1-.2 1 0 1 .3 1 0 1 .1 1-.6 1-.1 1-.2 1 .6 1-.1 1 0 1-.1 1 .2 1 .2 1-.1 1-.5 1-.5 1 .3 1 0 1 .4 1-.3 1 .1 1-.3 1-.3 1-.1 1 .2 1 .2 1 .1 1 .1 1-.4 1 .1 1 .1 1 0 1 .2 1-.5 1-.1 1-.7 1 0 1 .4 1 .1 1 .2 1 .4 1 .2 1 0 1-1 1 0 1-.2 1 .1 1 0 1 .1 1 .3 1 0 1-.1 1-.3 1-.1 1-.3 1 0 1 0 1 .1 1-.2 1 0 1 .2 1 0 1 .1 1-.3 1 .2 1-.2 1-.1 1-.2 1-.6 1-.2 1 .3 1 .3 1 0 1-.5 1 .4 1 .2 1-.1 1-.3 1 .3 1 .1 1-.6 1-.3 1 .2 1 .7 1-.2 1-.2 1 .2 1-.1 1-.3 1-.1 1 .1 1 .4 1-.2 1 0 1 0 1-.5 1-.1 1 .1 1 .2 1 .3 1-.5 1-.2 1 0 1 .4 1-.2 1-.1 1 0 1 0 1-.4 1-.2 1-.1 1 .4 1-.3 1 0 1-.2 1-.1 1 .2 1 .1 1 .1 1 0 1-.4 1-.1 1-.3 1 .5 1 .1 1 .5 1 0 1 .2 1-.4 1-.3 1-.2 1 .3 1 .4 1-.2 1-.4 1-.7 1 .2 1 .4 1 .2 1 .3 1-.4 1 .6 1-.4 1-.2 1-.3 1-.4 1-.2 1 0 1 .8 1 .3 1 0 1-.1 1-.1 1-.3 1-.3 1-.2 1 .2 1 0 1 .3 1 .3 1 0 1 .1 1-.4 1 .4 1-.3 1 0 1-.5 1 .3 1-.3 1-.1 1-.1 1 .2 1 0 1 0 1 .4 1 .6 1-.2 1-.2 1 0 1-.1 1 0 1-.4 1 0 1-.2 1 .1 1 .2 1 .4 1 .1 1-.2 1-.4 1-.1 1 0 1 .3 1-.3 1 .1 1-.2 1 .3 1 0 1-.1 1-.1 1 .1 1-.4 1-.4 1-.5 1 .6 1 .5 1 .1 1 0 1-.4 1-.1 1-.2 1 .3 1 .3 1 .2" stroke="#2f2f2f" stroke-width="1.1" fill="none" opacity="1.0"/>
<path d="M373,444 H412" stroke="#505050" stroke-width="1.2" opacity="0.8"/>
<path d="M373,449.5 H400" stroke="#505050" stroke-width="1.2" opacity="0.8"/>
<path d="M375,481 H405" stroke="#505050" stroke-width="1.2" opacity="0.8"/>
<path d="M375,513 H402" stroke="#505050" stroke-width="1.2" opacity="0.8"/>
<path d="M1088,469.8l1-.7 1-.6 1-.7 1-1 1-1 1-1 1-1 1-1 1-1.1 1-1 1-1 1-.6 1-.6 1-1 1-.9 1-1 1-.4 1-.8 1-.4 1-.7 1-.3 1-.6 1-.4 1-.7 1-.5 1-.4 1-.2 1-.8 1-.9 1-.8 1 0 1-.2 1 .4 1 .1 1 .8 1 .3 1 .9 1 .7 1 .5 1 .4 1 .2 1 .7 1 .5 1 .7 1 .3 1 .3 1-.3 1-.1 1-.4 1 .2 1-.3 1-.3 1-.8 1-.5 1-.9 1-.2 1-.6 1-.4 1-.7 1-1.1 1-.3 1-.7 1-.1 1-.2 1-.6 1-.6" stroke="#494949" stroke-width="1.1" fill="none" opacity="1.0"/>
<path d="M1088,396.5l1 .9 1 1.1 1 1.4 1 1.7 1 1.4 1 1.6 1 1.2 1 1.7 1 1.4 1 1.8 1 1.5 1 1.7 1 1.7 1 1.4 1 1.5 1 1.6 1 1.9 1 1.6 1 1.3 1 1.6 1 1.5 1 1.6 1 1.3 1 1.5 1 1.2 1 1.1 1 1.2 1 1.5 1 1.2 1 .9 1 1.4 1 1.7 1 1.7 1 .7 1 1 1 1.2 1 2 1 1 1 1 1 .6 1 1.2 1 1.2 1 .9 1 .5 1 .8 1 .8 1 1.3 1 .3 1 .7 1 .4 1 .6 1 .3 1 .4 1 1.1 1 .7 1 .9 1 .5 1 .5 1 .4 1 .5 1 .5 1 .8 1 .8 1 .9 1 0 1-.1" stroke="#494949" stroke-width="1.1" fill="none" opacity="1.0"/>
<path d="M1100,375.8l1 .6 1 .8 1 1.1 1 1.4 1 1.3 1 1.5 1 1.2 1 1.4 1 .7 1 1.3 1 1 1 1.4 1 .9 1 1.2 1 1.3 1 1.3 1 1.1 1 1.1 1 1.3 1 1.2 1 1.5 1 1.2 1 1.2 1 1.3 1 1 1 1.2 1 1 1 1.2 1 1.3 1 1.3 1 1.4 1 1.4 1 1.2 1 1.2 1 .8 1 1.5 1 1.1 1 1.4 1 1 1 1.4 1 1.1 1 1 1 1.2 1 1.2 1 1.1 1 .9 1 1.1 1 1.2 1 1.2 1 1.3 1 1.3 1 1.2 1 .9 1 .5" stroke="#494949" stroke-width="1.1" fill="none" opacity="1.0"/>
<path d="M1110,448.8l1-1 1-1 1-1.1 1-1.5 1-1.7 1-2 1-1.6 1-1.7 1-1.7 1-1.5 1-1.8 1-1.4 1-1.9 1-1.1 1-1.9 1-1.3 1-2.1 1-1.4 1-1.6 1-1.7 1-1.6 1-1.7 1-1.1 1-1.7 1-1.5 1-1.8 1-1.6 1-1.8 1-1.5 1-1.3 1-1.2 1-1.4 1-1.6 1-1.9 1-1.7 1-1.5 1-1.7 1-1.4 1-1.6 1-1.6 1-2.1 1-1.3 1-1.1 1-.8" stroke="#494949" stroke-width="1.1" fill="none" opacity="1.0"/>
<path d="M165,462.4l1 0 1 .1 1 .3 1 0 1 .1 1-.6 1 .1 1-.1 1 .7 1 .1 1 .5 1-.5 1-.1 1-.3 1 .2 1 .3 1 .2 1 0 1-.3 1-.4 1-.1 1 .1 1 .2 1 .4 1 .1 1-.2 1-.1 1-.1 1 .5 1-.1 1 0 1-.3 1 .1 1-.2 1 .2 1-.1 1 .3 1-.1 1 0 1-.3 1 .2 1-.3 1 .2 1-.1 1 .4 1 0 1 .2 1-.1 1-.3 1 .3 1 0 1 .1 1-.3 1 0 1-.1 1 .2 1 .2 1 .2 1-.4 1-.3 1 0 1 .6 1 .2 1-.2 1-.2 1 0 1 .3 1 .1 1 .1 1-.5 1 .1 1-.1 1 .5 1 0 1 .4 1-.3 1-.3 1-.2 1 0 1 .3 1 .1 1 .4 1 0 1 .1 1-.2 1 .3 1-.5 1 .1 1 0 1 .4 1-.3 1 0 1 .1 1 .1 1-.4 1-.1 1 .1 1 .3 1 .1 1-.2 1-.1 1 0 1 .3 1 .4 1-.2 1-.1 1-.2 1 .2 1 .3 1 .1 1 0 1-.1 1-.1 1-.2 1 .2 1 0 1 .2 1-.1 1 .2 1 .3 1-.2 1-.4 1-.1 1 0 1 .6 1-.2 1 .3 1-.3 1 0 1-.4 1-.1 1 .1 1 .1 1 0 1 .2 1 .3 1 0 1 .1 1-.3 1 .4 1-.1 1-.1 1-.6 1-.1 1 0 1 .3 1-.1 1 .6 1 .1 1 .1 1-.7 1 0 1 0 1 .4 1 0 1-.1 1-.3 1 0 1 .1 1 .1 1 .1 1 0 1-.1 1-.1 1 0 1 .2 1 .2 1 0 1 0 1-.2 1 .3 1-.1 1-.1 1-.2 1 .1 1-.1 1 .3 1-.1 1 .4 1-.2 1 .3 1 0 1-.1 1-.3 1-.3 1-.2 1 .3 1 .3 1 .1 1 0 1-.5 1 0 1-.1 1 .3 1-.1 1-.1 1-.3 1-.1 1 .1 1 .3 1 .4 1-.2 1 .1 1-.3 1-.1 1 .1 1 .1 1 .2 1-.4 1 .1 1-.1 1 .2 1 0 1 .2 1-.2 1 .1 1-.1 1 .2 1 0 1 .2 1 .2 1 0 1-.3 1 .1 1 .1 1 0 1-.4 1-.1 1-.2 1-.1 1 .1 1 .2 1 0 1 0 1-.5 1 .2 1-.5 1 .1 1 0 1 .4 1 .2 1 0 1-.1 1-.3 1-.2 1 .1 1 .1 1 .1 1-.3 1-.2 1-.1 1 .3 1 0 1 .2 1-.2 1-.3 1-.5 1-.1 1 .5 1 .6 1-.3 1-.4 1-.3 1 .2 1 .4 1 0 1-.3 1-.6 1-.3 1 .2 1 .3 1-.2 1 .2 1-.1 1 .2 1-.4 1-.1 1 0 1-.1 1 0 1-.1 1 .1 1 0 1 .2 1 .2 1-.3 1-.3 1-.3 1-.1 1-.2 1-.1 1 0 1-.1 1-.3 1-.5 1-.5 1-.3 1-.2 1-.7 1-.5 1-.5 1-.1 1-.4 1-.4 1 0 1 0 1 .2 1-.3 1 .1 1 .3 1 .3 1-.3 1-.1 1 0 1 0 1-.1 1-.1 1 .4 1 .3 1 .2 1-.3 1-.2 1-.1 1-.1 1 .1 1 0 1 .5 1 .2 1 .1 1-.4 1-.2 1 .2 1 .2 1 0 1 0 1-.1 1 .1 1-.4 1 .3 1 .4 1 .3 1-.2 1-.6 1 0 1 0 1 .2 1 0 1 .3 1 .1 1-.1 1 .3 1 .1 1 .2 1-.6 1 0 1 .2 1 .2 1 0 1-.1 1 .1 1 .1 1 0 1-.2 1 .1 1 .6 1 .1 1-.1 1-.4 1-.3 1 .2 1-.2 1 .6 1-.2 1 .1 1-.1 1 .1 1 .1 1-.4 1 0 1 .2 1 .5 1 .3 1-.3 1 0 1-.1 1 .4 1-.4 1 0 1-.1 1 .4 1 0 1 0 1-.2 1 .2 1 0 1 .1 1 .1 1 0 1 0 1-.6 1 .2 1-.3 1 .4 1-.3 1 .6 1 .1 1 .1 1-.1 1 0 1 .5 1-.2 1 .4 1-.5 1 .2 1-.2 1 .1 1 0 1-.1 1 0 1 .2 1-.1 1-.1 1 0 1 .4 1 0 1 0 1-.5 1-.1 1 .2 1 .5 1 0 1 .2 1 .2 1 .5 1-.1 1 0 1 .1 1-.1 1 .1 1-.1 1 .7 1 .1 1 .6 1 .1 1-.2 1 0 1-.3 1 .4 1 .3 1 .7 1 .4 1 .1 1 0 1 0 1-.1 1-.1 1 .3 1 .1 1 0 1 0 1 .4 1 .5 1 .1 1 0 1-.3 1-.2 1-.3 1 .1 1 .2 1 .3 1-.5 1-.3 1-.3 1 .2 1 .2 1 .2 1 .1 1-.3 1-.2 1-.2 1 .3 1 .2 1 0 1-.1 1-.3 1 .2 1 .2 1 .2 1-.1 1-.3 1 .2 1 .4 1 .2 1-.2 1-.2 1 .1 1 .1 1-.1 1-.3 1 0 1-.5 1 0 1 .1 1 .4 1 .1 1 .2 1-.2 1 .1 1 .1 1 .3 1-.2 1-.2 1-.2 1-.2 1 .3 1 0 1 .4 1-.5 1-.2 1-.4 1 .1 1 .2 1 .3 1 0 1-.2 1 0 1 .2 1 .2 1 0 1-.5 1-.2 1 0 1-.1 1-.1 1-.2 1 .2 1 0 1-.1 1 .4 1 0 1 0 1-.1 1 .1 1 .1 1 0 1 .1 1-.2 1 .1 1 0 1 .4 1-.1 1-.3 1-.3 1 0 1-.2 1-.4 1-.2 1 .3 1 .4 1 0 1 .2 1-.2 1 .3 1-.2 1-.1 1-.1 1 0 1-.1 1 .1 1-.1 1 .4 1-.1 1 0 1-.3 1-.2 1-.1 1 .3 1 .2 1 .2 1-.1 1 0 1-.1 1-.1 1-.3 1 0 1-.2 1 .4 1 .3 1 .4 1-.3 1-.1 1-.1 1-.1 1-.1 1-.3 1-.1 1-.2 1 0 1 .2 1-.1 1 .1 1 0 1 .5 1 .1 1 0 1-.4 1-.3 1 .2 1 .1 1 .1 1-.5 1-.1 1 0 1 .5 1 .1 1-.4 1-.3 1 .1 1 .4 1 .1 1-.5 1 .3 1 0 1 .3 1-.3 1-.3 1-.1 1-.4 1 .2 1-.2 1 .2 1-.1 1 .3 1 .3 1-.4 1 0 1 .1 1 .3 1-.2 1 0 1-.1 1-.1 1-.4 1 .1 1 .1 1 .2 1-.3 1 .2 1-.2 1 0 1 0 1 0 1 0 1 .6 1 .2 1 .2 1-.6 1 0 1-.1 1-.1 1-.1 1-.1 1 .1 1-.2 1 0 1 0 1 .1 1 .3 1-.1 1 .3 1-.2 1 .2 1-.1 1 .2 1-.3 1-.2 1 0 1 .1 1-.1 1-.1 1-.2 1-.2 1-.2 1 .1 1-.2 1-.2 1 .1 1 .4 1 .5 1 .1 1 0 1-.1 1-.4 1 .1 1 .1 1 0 1-.2 1-.4 1 0 1 0 1 .5 1 .2 1-.1 1-.1 1-.3 1 .2 1 0 1 0 1-.3 1-.1 1 .2 1 .1 1 .1 1-.5 1-.2 1 0 1 .1 1 .2 1-.2 1 .1 1 .2 1 0 1 0 1-.7 1 .2 1 .1 1 1 1-.2 1-.6 1-.5 1 .1 1 .1 1-.3 1 .1 1 .1 1 0 1 .1 1-.1 1-.3 1-.2 1 .1 1 .4 1 0 1 .1 1-.3 1-.2 1 .1 1 .3 1 .1 1-.1 1-.3 1 0 1-.2 1 0 1 .1 1 .2 1 .3 1 0 1 0 1-.3 1-.2 1 .1 1-.1 1 .1 1 .1 1 .8 1-.1 1-.5 1-.4 1 .1 1-.2 1 0 1-.2 1 .2 1-.2 1-.5 1-.1 1 .3 1 .1 1-.1 1 0 1 .4 1 .2 1-.2 1-.1 1-.3 1 .3 1 0 1-.2 1-.2 1 .1 1 .1 1 0 1-.2 1 0 1 0 1 .6 1 0 1 .2 1-.3 1-.1 1 0 1-.1 1 .1 1-.2 1 .2 1-.1 1-.2 1-.2 1 .1 1 .2 1 0 1 .1 1 0 1 .1 1-.4 1 .3 1-.1 1 .2 1-.1 1-.2 1 .1 1 0 1 .1 1-.2 1-.5 1 .2 1 .3 1 .2 1 0 1-.7 1-.1 1-.2 1 .3 1 .1 1 .1 1 0 1 0 1-.1 1-.5 1 .3 1 .1 1 .3 1-.6 1 .3 1 .1 1 .4 1-.4 1-.2 1-.1 1 .1 1 0 1-.2 1 0 1 .3 1 .1 1-.3 1-.3 1 0 1 .3 1-.1 1-.1 1 0 1 .4 1 .1 1 0 1-.2 1 .2 1-.3 1 0 1-.4 1 .3 1 0 1 .7 1-.1 1 0 1-.5 1-.4 1 .1 1 .2 1 .3 1-.1 1-.3 1-.4 1-.1 1 .5 1 .4 1 0 1-.2 1 0 1-.4 1 .3 1 .1 1 .5 1-.4 1-.3 1-.1 1 .6 1-.2 1 0 1-.3 1 0 1-.3 1-.3 1 0 1 0 1 .2 1 .3 1 .2 1 .1 1-.1 1 0 1 0 1 .1 1-.1 1 0 1 .1 1 .2 1 .1 1-.3 1-.2 1-.2 1 .6 1 .4 1 .4 1 .3 1 .3 1 .4 1 .5 1 .5 1 .1 1 .3 1 .3 1 .8 1 .6 1 .3 1-.1 1 0 1 .4 1 0 1 0 1 .5 1 .5 1 .5 1 0 1 .5 1 .4 1 .4 1-.1 1 .3 1 .1 1 .5 1 .1 1 .2 1 .1 1 .4 1 .3 1 .5 1 .1 1 .2 1 .4 1-.1 1 0 1-.8 1-.2 1-.7 1-.2 1-.6 1-.2 1-.7 1-.3 1-.6 1-.2 1-.3 1-.3 1-.2 1-.3 1 .1 1-.3 1 .3 1-.7 1-.1 1-.3 1 0 1-.3 1-.6 1 0 1-.1 1-.1" stroke="#5f5f5f" stroke-width="4.0" fill="none" opacity="0.5"/>
<path d="M165,462.7l1-.3 1-.1 1 .7 1 .4 1 .2 1-.9 1-.4 1-.3 1 .5 1 .8 1 .9 1-.4 1-.3 1-.8 1-.1 1-.3 1-.1 1 .5 1-.1 1 .2 1-.4 1 .9 1 0 1 .2 1-.2 1 .2 1 .1 1 .1 1 0 1 0 1-.2 1 0 1-.3 1 0 1 .2 1 .2 1-.5 1-.2 1 .2 1 .1 1 .3 1 .2 1 0 1-.4 1-.1 1 .2 1 .3 1-.1 1 .3 1 .1 1 .3 1-.2 1 .2 1-.6 1 .1 1-.5 1 .3 1 .4 1 .2 1 0 1-.5 1 .1 1 .1 1 0 1 .1 1 0 1-.5 1-.2 1 .3 1 .2 1 .2 1-.7 1 .2 1-.3 1 .6 1-.1 1-.2 1-.2 1 .1 1 .6 1-.1 1-.6 1-.2 1 .3 1 1.2 1 .6 1 0 1-.7 1-.7 1 0 1 .4 1 .1 1-.3 1-.1 1-.1 1 .6 1 0 1 .5 1 .2 1 0 1-.1 1-.5 1 .4 1-.1 1 .2 1-.3 1-.1 1 0 1 .2 1 .6 1-.4 1 0 1-.3 1-.4 1-.1 1 .1 1 .9 1 .3 1-.1 1-.3 1 .1 1-.1 1 0 1-.1 1 .1 1-.3 1 .3 1-.2 1 .2 1-.3 1-.2 1 0 1 0 1 0 1 .1 1-.2 1 .5 1 .1 1 .1 1 .5 1 .4 1 .2 1-.3 1-.3 1 0 1-.2 1 .2 1-.3 1-.1 1-.5 1 .5 1-.2 1 .2 1-.3 1 .6 1 0 1 .1 1 0 1 .1 1 .1 1-.9 1-.1 1-.3 1 .6 1-.3 1 .1 1-.4 1 .2 1 .3 1 .7 1-.3 1-.2 1-.4 1 .2 1 .1 1-.4 1-.1 1-.4 1 1.3 1 .6 1 .3 1-.9 1-.6 1 .2 1 .2 1 0 1-.5 1-.5 1 .2 1 .5 1 .7 1 .1 1 .2 1 .1 1-.4 1-.1 1-.5 1-.1 1-.1 1 .1 1 .2 1-.1 1 .1 1-.5 1 .6 1-.5 1 .7 1-.2 1 .3 1-.2 1-.1 1 .1 1 .1 1-.2 1 .4 1-.1 1-.2 1-.2 1-.2 1 .2 1-.7 1 0 1-.5 1 .3 1 .4 1 .7 1 0 1-.1 1 .3 1 .1 1 .1 1-.7 1-.1 1 .2 1 .2 1-.1 1-.6 1-.1 1 .4 1 .6 1 0 1-.1 1-.7 1-.3 1-.6 1 .2 1 0 1 .5 1-.6 1 .2 1-.4 1 .7 1-.5 1 .8 1-.3 1 .2 1-1.1 1-.1 1-.3 1 .5 1 .1 1 .4 1-.1 1-.4 1-.3 1-.2 1 .1 1 .3 1 .2 1 .4 1-.6 1-.2 1-.6 1-.3 1-.3 1-.4 1 .4 1 .5 1 .7 1 .3 1-.1 1-.1 1-.5 1 .6 1-.5 1 0 1-1 1 0 1-.8 1 .1 1 0 1 .8 1-.2 1-1 1-.8 1-.6 1 .4 1 0 1-.2 1-1.1 1-.5 1-.5 1 .3 1 0 1 .1 1-.7 1-.3 1-.4 1 .6 1-.3 1 .3 1 0 1 .1 1 .1 1 .5 1 .3 1-.3 1-.5 1-.2 1 .3 1 .1 1 .3 1-.1 1 .3 1 0 1 .4 1-.1 1 .3 1-.3 1-.3 1-.1 1 .3 1 .4 1-.7 1-.2 1 0 1 .6 1-.6 1 .2 1-.2 1 .8 1-.3 1-.1 1 .3 1 0 1 .4 1-.5 1 .1 1 .1 1 .5 1 .4 1 .1 1-.2 1-.3 1-.3 1 .2 1 .2 1 .3 1-.2 1-.4 1-.4 1-.1 1 .3 1 .4 1 .2 1 0 1 .2 1 0 1 0 1-.1 1-.5 1 .2 1 0 1 .3 1 0 1 .1 1 0 1-.4 1 .2 1 .5 1 .5 1-.5 1 0 1-.1 1 .4 1-.1 1 0 1-.2 1 .3 1 .1 1 .2 1-.7 1-.2 1 0 1 .3 1-.4 1 0 1 .3 1 .8 1 0 1-.4 1 .1 1 .6 1 .3 1-.2 1-.9 1 .3 1-.1 1 .7 1-.9 1 .3 1-.5 1 .8 1-.2 1 .7 1-.4 1-.1 1 0 1 .4 1 .7 1-.3 1-.1 1-.3 1-.1 1 .1 1 .2 1 .5 1-.8 1-.1 1-.3 1 .8 1-.3 1 .1 1 0 1 .2 1 .4 1 .3 1 1 1-.3 1 .2 1-.5 1 .3 1-.3 1 .3 1 .3 1 .5 1-.4 1 .1 1-.3 1 .5 1 0 1 .6 1 .4 1 .7 1-.2 1 .2 1-.2 1-.2 1 .2 1 0 1 .7 1-.5 1 .4 1-.3 1 .6 1-.2 1 0 1-.4 1-.4 1 .2 1-.5 1 .2 1-.1 1 .8 1-.3 1 0 1-.1 1-.1 1-.1 1-.2 1 .4 1 0 1 .1 1 .1 1 .1 1 .1 1 .2 1 .3 1-.4 1-.2 1-.5 1 0 1-.2 1 .9 1 .1 1 0 1-.4 1 .1 1 .4 1-.4 1 0 1-.2 1-.2 1-.1 1 0 1 .7 1 0 1 0 1-.6 1-.1 1-.1 1 .4 1 .4 1-.1 1 .1 1-.3 1 0 1-.2 1 0 1-.3 1 .3 1 .1 1 .6 1-.5 1 0 1-.6 1 .3 1 .4 1 .6 1-.6 1-.3 1 0 1 .1 1-.1 1-.4 1 .1 1-.2 1 0 1-.1 1 0 1-.1 1 .1 1 0 1 .2 1-.3 1 0 1-.2 1 .7 1 .2 1 .3 1-.3 1-.3 1-.5 1-.2 1-.2 1 .8 1-.5 1 0 1-.5 1 .6 1 .5 1 0 1-.1 1-.5 1 0 1 .1 1 .3 1-.8 1 0 1 .4 1 .6 1 .2 1-1.2 1 0 1 .1 1 .8 1 0 1-.3 1-.2 1 .2 1 .2 1 .2 1-.1 1-.3 1-.1 1-.3 1 .3 1-.2 1 .1 1-.6 1 .1 1 0 1 .7 1 .3 1 .3 1-.2 1-.1 1-.5 1-.1 1 0 1 .7 1-.3 1 0 1-.7 1-.2 1-.1 1 0 1-.3 1 .1 1 .2 1 .2 1-.4 1 .2 1 .1 1 .5 1-.5 1 .1 1-.5 1 .6 1-.1 1 .6 1-.2 1-.2 1 0 1 .6 1 .1 1 .1 1-.4 1-.3 1-.1 1-.4 1 .3 1-.2 1 .7 1 0 1 0 1-.1 1-.1 1-.6 1-.6 1-.1 1 .8 1 .2 1 .5 1-.3 1-.4 1-.1 1-.3 1 .3 1-.3 1-.1 1 .3 1 .4 1 .5 1-.2 1-.2 1-.3 1-.2 1 0 1-.4 1 .4 1-.3 1 0 1 .1 1 .5 1 .5 1-.1 1-.3 1-.2 1-.6 1-.3 1 .5 1 .6 1 .3 1-.2 1-.3 1 0 1 .2 1 .3 1-.3 1-.7 1-.1 1 .2 1 .2 1 .1 1-.3 1-.1 1 0 1-.2 1-.3 1-.3 1 .3 1 .4 1-.1 1-.4 1-.1 1 .4 1 .4 1 0 1-.2 1-.1 1-.1 1 0 1-.1 1-.2 1-.2 1-.1 1 0 1 .4 1 0 1 .4 1-.6 1 .1 1 .1 1 0 1 .1 1 0 1 .2 1-.2 1-.3 1 .2 1-.1 1 .3 1-.4 1 .2 1-.4 1-.3 1 0 1 .1 1-.1 1-.6 1 .3 1 .2 1 .5 1-.3 1 .1 1 0 1 0 1 .5 1 0 1 .2 1-.3 1 .1 1-.1 1 .2 1-.4 1-.4 1-.2 1 .3 1-.1 1 .1 1-.4 1 .3 1-.4 1 .2 1-.5 1 .1 1 .2 1 .2 1-.2 1-.6 1 .8 1 .2 1 .3 1-.7 1-.3 1 .1 1-.2 1 1 1-.2 1 .3 1-.7 1 .3 1 .1 1-.2 1-.6 1 .1 1 0 1-.1 1-.3 1 .5 1 .7 1 .1 1-.6 1-.4 1-.1 1-.1 1 .7 1 .5 1 .1 1-.9 1-.6 1 0 1 0 1-.1 1 .6 1 .2 1 .3 1-.5 1-.5 1-.2 1-.4 1 .5 1 .6 1 .5 1 .1 1-.7 1-.4 1 .1 1-.5 1 0 1-.3 1 .4 1 .3 1 .4 1-.6 1 .1 1-.4 1 .2 1-.2 1-.2 1 .9 1 .1 1 .5 1-.9 1-.5 1-.4 1 0 1 .3 1 .4 1 .1 1 .2 1 0 1 .4 1-.3 1-.8 1-.2 1 .3 1 .7 1 .4 1-.3 1 .2 1-.3 1-.1 1-.2 1 .1 1 .3 1 .1 1-.2 1-.5 1-.8 1 0 1-.3 1 .8 1 0 1 .5 1-.1 1-.2 1-.1 1 .2 1 .5 1-.4 1-.7 1-.2 1 .6 1 .3 1 .5 1-.9 1 .1 1-.8 1 .8 1 .2 1 0 1 0 1-.1 1-.3 1 0 1-.2 1 .5 1-.2 1 .3 1 0 1 .3 1-.2 1 .1 1-.3 1 .3 1-.3 1 .2 1-.1 1 .3 1 0 1-.6 1 0 1 0 1 .3 1-.3 1-.1 1 .4 1 .3 1-.2 1 .5 1-.4 1 .2 1-.6 1 .1 1 .2 1-.2 1 .5 1-.3 1-.3 1-.5 1-.3 1 .3 1-.1 1-.3 1 .2 1 0 1 1.1 1 0 1 1.1 1 .1 1 .4 1-.6 1 0 1 .2 1 .3 1 .7 1 0 1 .7 1 .5 1 .7 1 .1 1-.3 1 .3 1 .6 1 .6 1-.3 1 .2 1 .5 1 .7 1 .6 1 0 1 .4 1 0 1-.1 1 .2 1 .3 1 .6 1 .5 1 0 1 .5 1-.5 1 .4 1 0 1 .6 1 .1 1 .7 1 .3 1 .3 1-.6 1 .1 1-.2 1-.1 1-.8 1 0 1-.7 1-.1 1-.9 1 .1 1 .1 1 .2 1-.6 1-1 1-.7 1 0 1 .1 1-.6 1-.4 1 0 1 .1 1-.1 1-.8 1-.4 1-.4 1 .3 1 0 1 .3 1 .1" stroke="#a6a6a6" stroke-width="1.7" fill="none" opacity="1.0"/>
<path d="M165,459.3l1 .5 1 .2 1 .5 1-.8 1 .1 1-.6 1 .6 1 0 1 .2 1 .5 1-.4 1 .6 1-.7 1 .1 1-.7 1 .3 1-.4 1 .5 1 .2 1 0 1-.5 1 .2 1 .2 1 .3 1 .2 1-.2 1-.3 1-.6 1 .6 1 0 1 0 1 0 1 .3 1-.5 1-.5 1 0 1 .8 1 .3 1-.1 1-.6 1 .2 1-.9 1 .6 1-.1 1 1.5 1-.4 1-.3 1-.9 1 .3 1 .1 1 .2 1 .2 1 .6 1-.3 1 .2 1-.7 1 0 1-.4 1 .1 1 .7 1 .2 1 .3 1-.2 1-.3 1 .3 1-.2 1 .3 1-.1 1 .2 1-.3 1 0 1 0 1 .3 1-.2 1-.1 1 0 1 0 1-.6 1 0 1 .4 1 .4 1-.1 1-.3 1 .4 1 .4 1 0 1-.5 1-.6 1-.2 1 .2 1-.1 1-.2 1 .3 1 .7 1 .9 1-.2 1-.3 1-.4 1 .1 1 .4 1-.1 1 .2 1-.1 1-.1 1-.3 1-.1 1-.1 1 .1 1 .3 1 .3 1 0 1-.1 1 .3 1-.4 1 .2 1-.8 1 .6 1-.3 1 .2 1-.2 1-.1 1 .3 1 0 1-.2 1-.4 1 .1 1 .5 1 0 1 .1 1-.3 1 .2 1-.1 1 0 1 .2 1 .3 1 .4 1-.3 1-.4 1-.4 1-.2 1 .5 1 .5 1 0 1-.7 1-.6 1-.1 1 .1 1-.2 1 .1 1 .7 1 .4 1 .5 1-.3 1-.5 1 .2 1 .6 1 .8 1-.5 1-.2 1-.1 1 .3 1-.8 1-.4 1-.2 1 1.2 1 .3 1 0 1-.5 1 .2 1 0 1-.4 1-.2 1 0 1 .2 1-.2 1 .5 1 .5 1 .3 1 0 1 .1 1 .1 1-.3 1-.8 1-.7 1-.1 1 0 1 .8 1 .6 1 .5 1-.5 1-.1 1-.2 1-.1 1-.3 1-.3 1 .2 1 0 1-.2 1-.2 1-.2 1 .3 1 .1 1-.1 1-.1 1 .3 1 0 1 .3 1-.4 1 .4 1-.3 1 .3 1-.3 1 .1 1 .3 1 .1 1-.1 1-.1 1 0 1-.3 1-.1 1 .1 1 .7 1 .4 1-.7 1-.6 1-.1 1 .8 1 .4 1-.2 1-.4 1-.3 1-.3 1-.3 1 0 1 .6 1 .6 1 0 1-.5 1-.1 1 .5 1-.1 1-.5 1-.3 1-.2 1 .2 1-.5 1-.2 1 .1 1 .3 1-.2 1-.3 1-.3 1-.2 1 .4 1 .3 1 .5 1-.7 1-.2 1 0 1 .3 1 0 1-.3 1 0 1-.1 1 0 1-.2 1 .3 1-.2 1 .1 1-.4 1 .1 1-.3 1-.3 1 .3 1 .4 1 .3 1-.6 1-.2 1 .3 1 .6 1-.5 1-.5 1-.6 1 .7 1-.5 1 0 1-.2 1 .6 1-.1 1-.8 1-.5 1-.7 1 .1 1-.5 1 0 1-.2 1 .3 1-.6 1-.6 1-.8 1-.2 1 .1 1-.3 1-.3 1-1 1 .1 1-.1 1 .3 1-.2 1-.3 1-.3 1 .4 1 .7 1 .2 1-.2 1-.9 1 .2 1 .3 1 .7 1 .5 1-.5 1-.3 1 .1 1-.5 1 .2 1-.2 1 .4 1 .2 1-.1 1 0 1 0 1-.1 1 .4 1-.1 1 .4 1-.1 1 .3 1 .1 1 .4 1-.6 1-.2 1 .2 1 .8 1-.3 1-.2 1-.1 1 .3 1-.4 1 0 1 .3 1 .3 1-.1 1-.6 1-.3 1 .1 1-.1 1 .7 1-.2 1 .5 1-.8 1 .5 1 .1 1 .3 1 0 1-.2 1-.1 1-.2 1 .2 1 .1 1 .1 1 0 1 .5 1-.2 1 0 1-.6 1 .6 1 .2 1-.1 1-.1 1 .2 1 0 1-.3 1-.1 1 .2 1-.2 1-.1 1-.1 1-.1 1 .3 1 .2 1 .1 1-.2 1-.1 1 .1 1 .4 1 .1 1-.5 1 .5 1 0 1 .8 1-.4 1 .2 1 .1 1 .1 1-.2 1 .3 1-.3 1 .1 1 .2 1 .1 1 .4 1-.5 1 .4 1-.5 1 .5 1-.4 1-.1 1-.3 1-.1 1 .4 1 .4 1 0 1-.4 1-.3 1 .1 1 .1 1 0 1 1 1 .4 1 .1 1-.6 1-.3 1-.5 1-.2 1 .3 1-.2 1 .1 1-.2 1 .2 1-.1 1-.1 1-.3 1-.3 1-1 1 .2 1 0 1 .5 1-.2 1-.8 1-.6 1-.2 1 .1 1-.1 1-.3 1-.4 1-.4 1 .4 1 .3 1 .4 1-.1 1 .1 1-.1 1 .3 1 .6 1 .2 1 0 1 .1 1 .2 1 0 1-.6 1-.2 1 0 1 .3 1 .6 1 .4 1 .2 1 .7 1-.2 1 .5 1-.1 1 1 1 .8 1 .7 1 .3 1 .6 1-.1 1 .8 1 .8 1 .1 1 .3 1-.6 1-.1 1-.1 1 .3 1 .8 1 .2 1 .5 1 .2 1 .1 1-.6 1-.4 1-.5 1-.4 1 .3 1 .3 1 .8 1 .1 1 0 1-.6 1-.4 1-.1 1 .5 1 .4 1 .7 1-.2 1 .1 1-.1 1-.3 1-.5 1-.1 1 .4 1 .6 1 0 1-.1 1 .3 1 0 1-.2 1 .3 1 .3 1-.3 1-.7 1-.6 1 .3 1-.1 1 0" stroke="#787878" stroke-width="1.2" fill="none" opacity="1.0"/>
<path d="M940,463l1 .1 1-.3 1 .4 1 .1 1 .3 1-.3 1 .1 1 .6 1 .1 1 0 1 0 1 .4 1 .1 1 0 1-.1 1-.1 1 0 1 .3 1 .4 1 0 1-.4 1-.2 1 .1 1 .6 1 .2 1 .3 1 .3 1 .2 1-.4 1-.1 1 .2 1 0 1-.1 1 0 1 .5 1 .1 1 0 1-.2 1 .2 1 0 1 .2 1 .1 1-.2 1-.4 1-.6 1-.2 1 0 1 .5 1 .1 1 .3 1-.5 1 0 1-.6 1 .3 1-.2 1 .2 1-.4 1 .1 1 .1 1 0 1-.4 1 0 1 .2 1 .1 1 0 1-.1 1 0 1-.5 1-.2 1 .3 1 .2 1 .1 1-.2 1 .2 1 .1 1-.1 1-.1 1 .1 1 0 1-.1 1-.4 1 0 1-.2 1 .1 1 .1 1-.1 1 .3 1 .1 1-.1 1-.1 1 0 1 .1 1-.1 1-.1 1 .1 1 0 1 0 1 .2 1 .1 1-.2 1-.3 1-.6 1 0 1 0 1 .2 1 0 1 .5 1 .2 1 .2 1-.4 1-.1 1 .2 1-.2 1 .1 1-.1 1 0 1-.4 1-.2 1 0 1 0 1 0 1 0 1 .1 1-.2 1 .2 1-.2 1 0 1 0 1 .3 1 .3 1-.2 1-.4 1 0 1-.2 1 .1 1 0 1 .3 1 .3 1-.4 1-.2 1-.4 1 .5 1-.1 1 .3 1-.4 1 0 1-.1" stroke="#757575" stroke-width="1.1" fill="none" opacity="1.0"/>
<path d="M165.5,493.6l6-.2 6 .2 6 .2 6 .1 6 0 6 0 6-.2 6 .1 6-.1 6 0 6 .1 6 0 6 .1 6 .3 6-.4 6 .2 6 .2 6-.1 6 .1 6-.3 6 0 6 .4 6-.3 6-.1 6 .3 6 .1 6 .2 6-.4 6-.1 6 .1 6 .1 6 0 6 .1 6 .1 6 0 6-.1 6-.1 6 .1 6 .1 6-.2 6 .3 6 .2 6-.1 6-.2 6 .2 6-.1 6-.1 6 .2 6-.1 6 .1 6-.1 6 .2 6 0 6 .1 6-.2 6 0 6 .3 6 0 6-.2 6 0 6 .1 6 .1 6 .1 6 0 6-.1 6 0 6 .2 6-.1 6 .2 6-.1 6-.1 6 .4 6-.3 6 .3 6-.2 6 .3 6 .2 6-.3 6-.1 6 .3 6 0 6 .1 6 .1 6 .4 6-.2 6 .1 6-.2 6 .2 6 0 6-.2 6 .2 6-.2 6 .1 6 .1 6 0 6 .1 6-.2 6-.1 6 .1 6 .1 6-.1 6 .3 6-.3 6-.2 6 .4 6-.3 6-.1 6 .2 6 0 6 0 6 0 6-.2 6 .4 6 0 6-.5 6 .2 6 .2 6 0 6-.2 6 .3 6 0 6-.1 6-.2 6-.1 6 .1 6 .2 6-.2 6 0 6 .2 6 0 6 .1 6-.1 6-.1 6 .2 6-.2 6-.2 6 0 6 .4 6-.2 6 0 6 .1 6 .3 6-.4 6 0 6-.1 6 .1 6-.2 6 .2 6 0 6 0 6-.1 6 0 6 .1 6 0 6-.1 6-.1 6-.1 6 .5 6-.3 6 .3 6-.2 6-.2 6 .3 6-.1" stroke="#949494" stroke-width="6.1" fill="none" opacity="0.4"/>
<path d="M165.5,491.7l1 0 1 .1 1-.1 1 .1 1-.2 1-.1 1 0 1 .2 1-.1 1-.1 1 .2 1 0 1 .1 1 .1 1 .1 1 0 1 0 1-.2 1-.2 1 .1 1 0 1 .2 1 0 1 .2 1-.3 1 0 1 0 1 .1 1-.1 1 0 1-.1 1 .1 1 .1 1 0 1 0 1 0 1 0 1 0 1 0 1-.2 1 0 1 0 1 .1 1 .1 1 .1 1-.2 1 0 1-.2 1 0 1 0 1 .1 1 .1 1 0 1-.1 1-.2 1 .1 1 .1 1 .2 1 0 1 0 1-.1 1-.2 1 0 1 .1 1 .1 1 .1 1 0 1-.1 1 0 1-.2 1 .1 1 .1 1 .2 1 .1 1 .3 1-.1 1-.1 1-.2 1-.2 1 .1 1 .1 1 0 1 .1 1 0 1 .1 1-.2 1-.1 1 0 1 0 1 0 1 .1 1-.1 1 .1 1 .1 1 .1 1-.1 1 .1 1 0 1 .1 1 .1 1 0 1-.1 1 0 1-.1 1-.1 1 0 1 .1 1-.1 1 0 1-.2 1 .1 1 0 1 .2 1 .2 1-.1 1 0 1-.1 1-.1 1 0 1-.1 1 .1 1-.1 1 0 1 0 1 0 1-.2 1 .1 1 .2 1 .2 1 0 1 .1 1 0 1 0 1-.3 1-.1 1 0 1 0 1 0 1 .1 1 0 1-.1 1 0 1 .1 1-.1 1 .1 1 0 1 .1 1 .1 1 0 1-.1 1 0 1 .1 1 0 1-.2 1 .1 1 .2 1 .1 1-.2 1 0 1-.1 1 .1 1 .2 1 .1 1 0 1 0 1-.2 1-.2 1-.2 1-.1 1-.1 1 .1 1 0 1 0 1 .1 1 .2 1 0 1 0 1 .1 1-.1 1 0 1-.1 1 .1 1 0 1 .1 1 .1 1 0 1 0 1-.1 1-.1 1 0 1 .1 1 0 1 .1 1-.1 1 .1 1 0 1 .1 1-.1 1 0 1 .2 1-.1 1 0 1-.1 1 0 1-.1 1 0 1 .3 1 .1 1-.1 1-.2 1 .1 1-.3 1-.1 1 .2 1 0 1 .2 1 0 1 .2 1-.1 1 0 1 .1 1-.2 1-.1 1 0 1 0 1 0 1 0 1 0 1-.1 1-.1 1 0 1 0 1 0 1 .2 1 0 1 0 1 .1 1-.1 1-.2 1-.1 1 .1 1 0 1 .3 1 0 1 .2 1-.1 1 0 1 0 1 .1 1 0 1 0 1 0 1-.1 1 0 1 .1 1 0 1 0 1 0 1-.2 1-.2 1-.1 1 .1 1 .1 1 .1 1 .1 1 .1 1 .1 1 0 1-.1 1-.1 1 0 1-.1 1 .1 1 .1 1-.1 1-.1 1-.1 1 0 1 .1 1-.1 1 0 1 0 1-.1 1 .1 1 .1 1-.1 1 .1 1 .1 1 .1 1 0 1 0 1 0 1-.2 1-.1 1 0 1 .2 1-.2 1 .2 1 .1 1-.1 1 0 1 .2 1-.1 1 0 1-.1 1 0 1-.2 1 .1 1 .1 1 .1 1 .1 1 .1 1-.1 1-.1 1 0 1 0 1-.1 1 .1 1 0 1 0 1 .3 1 .1 1 0 1-.2 1-.3 1 0 1 0 1 .1 1-.1 1 .3 1-.2 1 0 1 0 1 0 1-.1 1 0 1 0 1 .1 1 0 1 .2 1 0 1 .1 1 0 1-.1 1 .1 1 0 1-.1 1-.1 1 .1 1-.2 1 0 1 .1 1 .1 1-.1 1 .1 1 0 1 .1 1-.2 1 0 1 0 1 0 1 0 1-.1 1-.1 1 0 1 0 1 0 1 .2 1 .1 1 .1 1 0 1 0 1 0 1 .1 1 0 1 .1 1-.1 1 0 1-.2 1 0 1 .1 1 0 1 .1 1 .1 1-.1 1 0 1 0 1-.2 1 0 1 0 1 0 1-.1 1 0 1 .1 1 0 1 0 1 0 1 .2 1 .1 1 .1 1-.1 1 0 1-.3 1-.1 1 .1 1 0 1 .1 1 0 1 .1 1 0 1 0 1 .2 1-.1 1 0 1-.1 1 0 1-.1 1 0 1 .2 1 0 1 .1 1-.1 1-.1 1-.1 1-.1 1 0 1 .2 1 .2 1 0 1 .2 1 .1 1-.2 1-.1 1 .3 1 0 1 .1 1 0 1 .2 1 .3 1 .3 1 .2 1 0 1 0 1 0 1 .1 1 0 1 0 1-.1 1 0 1-.1 1 .1 1 0 1 0 1 0 1 .1 1 .1 1-.1 1 .1 1 .1 1-.1 1 .1 1 .1 1-.2 1-.2 1 .1 1 .1 1-.2 1-.1 1 0 1 .1 1-.1 1 .2 1-.1 1-.1 1 .1 1 0 1 .1 1 .1 1 0 1-.2 1-.1 1 0 1-.1 1-.1 1-.3 1-.1 1-.2 1 0 1 0 1 .1 1 0 1-.2 1 .1 1 0 1 .2 1 0 1 0 1-.1 1-.1 1 .2 1-.2 1 .1 1 .3 1 .1 1 0 1-.1 1 0 1-.3 1 .3 1 0 1 .2 1-.2 1 .2 1-.1 1-.1 1 0 1 0 1-.2 1 0 1 .1 1-.2 1 0 1 .3 1 .1 1 0 1-.1 1-.1 1-.2 1 .2 1 .1 1 0 1-.1 1 0 1-.2 1 .1 1 .1 1 0 1-.2 1 .1 1 0 1 .1 1 .1 1 0 1 .1 1 0 1-.1 1 .1 1 0 1-.1 1-.1 1 .1 1-.2 1-.2 1 0 1 0 1 .1 1-.1 1 .3 1 0 1 .2 1-.2 1 .1 1-.1 1 .1 1 0 1-.2 1-.1 1 0 1 .1 1-.1 1 .1 1 .1 1 .1 1-.1 1 .1 1 .1 1 .1 1 0 1-.2 1-.1 1 0 1-.2 1 .1 1 .1 1-.1 1-.1 1 0 1 0 1 .1 1 .1 1-.1 1 .2 1 0 1-.1 1 .1 1 .1 1-.2 1-.1 1 .2 1 .1 1 0 1-.1 1-.1 1 0 1-.1 1 0 1 0 1 .1 1 .2 1 .1 1 0 1 0 1-.1 1-.1 1-.1 1 0 1-.2 1 .2 1-.2 1 0 1-.1 1 .3 1 0 1-.1 1 0 1 .1 1 0 1 .1 1 .1 1 0 1-.1 1-.1 1 0 1 .1 1 .1 1-.2 1 0 1-.2 1-.1 1 0 1 0 1 0 1 .1 1-.1 1 .1 1 .1 1-.1 1 .1 1 0 1 0 1-.1 1 .1 1-.1 1 .2 1 0 1 .2 1-.1 1-.1 1-.1 1 0 1-.2 1 0 1 .1 1 .1 1-.1 1 0 1 .1 1 .1 1-.1 1-.2 1 0 1 .1 1-.1 1 .2 1 0 1 .1 1 .1 1 .1 1 0 1 .1 1-.2 1 .1 1 0 1 .1 1-.3 1-.1 1-.1 1-.2 1-.1 1 .1 1-.1 1 .3 1-.1 1 .2 1 .1 1-.1 1-.1 1 .1 1 0 1 0 1 .2 1 0 1 0 1-.1 1 .1 1-.1 1 0 1 0 1 0 1 0 1-.2 1 0 1 0 1 0 1-.1 1 0 1 .2 1 0 1 .2 1 0 1 0 1-.1 1 0 1 0 1-.2 1 .1 1 .1 1 .1 1 0 1 0 1-.2 1 .1 1-.1 1-.1 1 0 1 .2 1-.2 1 .1 1 0 1 .1 1 0 1 .2 1-.2 1-.2 1 .1 1 0 1-.1 1-.1 1 0 1 .1 1 .1 1 .3 1 0 1 0 1 0 1-.1 1 0 1 .1 1-.1 1-.3 1 .1 1 0 1 0 1-.1 1 0 1 .1 1 0 1-.1 1 .1 1 0 1 .1 1-.2 1 .1 1 .2 1-.1 1 .1 1 0 1 0 1-.2 1 .1 1-.1 1 .1 1-.1 1-.1 1 .1 1 .1 1 .1 1-.1 1-.1 1 .2 1 0 1-.1 1 0 1 .1 1 0 1 0 1-.1 1 0 1 .2 1 0 1 0 1 .1 1-.1 1 0 1 .1 1 0 1-.2 1 0 1 .1 1 0 1 0 1-.2 1-.2 1 0 1 .1 1-.1 1 .2 1-.1 1 0 1-.2 1 .2 1 0 1-.1 1 .1 1 .3 1-.1 1 0 1 .1 1 0 1-.2 1 .2 1 0 1-.1 1-.2 1 0 1-.1 1 0 1-.1 1 .1 1 .1 1 .1 1 0 1-.1 1 .1 1 0 1 0 1-.1 1 .3 1-.1 1 0 1 0 1 .1 1-.1 1-.1 1 .1 1 0 1-.3 1 .1 1 .1 1 .1 1-.1 1-.1 1 .3 1-.2 1 0 1 .1 1 0 1-.1 1 0 1-.1 1-.1 1-.1 1 .2 1 0 1 0 1 0 1 .1 1-.2 1 0 1-.1 1 0 1 .1 1 .2 1 .1 1-.3 1 .2 1 0 1-.1 1-.1 1 0 1-.1 1 .1 1 .1 1 .2 1-.1 1 .2 1-.1 1-.1 1-.2 1 .2 1-.1 1 0 1-.2 1 .2 1 0 1 0 1 0 1 .1 1-.2 1 .1 1 0 1 0 1 0 1 .1 1-.2 1 .1 1 0 1 .1 1-.2 1 .2 1-.1 1 .1 1 0 1 .2 1 0 1 0 1 .1 1 .2 1 .1 1 .3 1 .2 1-.1 1 0 1 .1 1-.1 1 0 1 0 1 .2 1-.2 1 .1 1-.1 1 0 1-.1 1 .2 1 .2 1-.1 1 .2 1-.1 1 .1 1-.2 1 0 1-.2 1 0 1 .2 1 .2 1 .1 1 0 1-.2 1 .1 1 0 1-.1 1-.2 1 .1 1 .1 1-.1 1 .1 1-.1 1 0 1-.1 1-.1 1 0 1 0 1 .1 1-.2 1-.1 1-.1 1 .1 1-.4 1-.2 1-.1 1-.2 1-.1 1 0 1 .1 1 .1 1 0 1 0 1 0 1-.1 0 4-1 0-1 0-1 .1-1-.1-1 0-1 .1-1 0-1 .2-1-.2-1-.3-1-.2-1-.2-1-.3-1-.2-1 0-1-.2-1-.2-1 0-1 .1-1-.1-1 .1-1 .1-1 0-1-.1-1 0-1 .2-1 0-1 0-1 .1-1 0-1 .1-1-.1-1-.1-1-.2-1-.1-1 0-1 0-1 .2-1-.1-1 .3-1 0-1 0-1-.2-1 0-1-.2-1-.1-1 0-1 .1-1-.1-1 .1-1 0-1 0-1-.1-1 0-1 .1-1 .1-1 .1-1 .1-1 .1-1 .1-1 .2-1-.1-1 .2-1 .1-1 .4-1 .1-1 .3-1 0-1-.1-1-.1-1 0-1 .1-1 0-1-.1-1 0-1-.1-1-.1-1 .2-1-.1-1 .1-1 .1-1-.2-1 0-1 0-1 .1-1-.1-1 .1-1-.1-1 0-1 0-1 0-1 .1-1-.1-1 0-1 0-1-.1-1 0-1 .1-1 .2-1-.1-1 0-1 .1-1 .1-1-.1-1-.1-1-.2-1-.1-1 .1-1 .1-1 .1-1 .1-1 0-1-.2-1 0-1 .1-1-.2-1 0-1 0-1 .1-1-.1-1-.1-1 .2-1 .1-1-.2-1 .1-1 0-1 0-1-.1-1 .2-1 0-1 0-1-.1-1 0-1 .1-1 0-1 .2-1 .3-1-.2-1-.1-1-.1-1 .2-1-.2-1 0-1-.1-1 .2-1-.1-1 0-1 0-1 0-1-.2-1-.2-1 .1-1 .1-1 .2-1-.1-1 .1-1-.1-1 .1-1-.1-1 .2-1-.1-1 0-1-.2-1 .2-1-.2-1-.1-1-.1-1-.1-1 .2-1 0-1 .1-1-.2-1 .1-1 .1-1 0-1 0-1 0-1 0-1-.1-1 .2-1 0-1-.1-1 .2-1 0-1 0-1-.1-1-.1-1-.1-1-.1-1 .1-1 .1-1 .3-1 0-1-.1-1 0-1 .1-1-.2-1 0-1 0-1 0-1 0-1 .1-1 .1-1 0-1-.1-1-.2-1 0-1-.2-1 .3-1 0-1 .1-1-.2-1-.1-1 0-1 .2-1-.1-1 .1-1-.1-1 0-1 0-1-.1-1 0-1-.1-1 .1-1 0-1 0-1 0-1 0-1-.1-1 .1-1 .1-1 0-1 .1-1 .2-1-.2-1 0-1-.1-1 0-1 0-1 0-1-.1-1-.1-1 .2-1 0-1-.1-1 0-1-.1-1 0-1 0-1 .2-1 0-1-.1-1 0-1-.1-1 .2-1 .1-1 0-1 0-1 .1-1-.1-1-.1-1 .1-1 .3-1-.2-1 .1-1-.1-1 .1-1-.1-1 0-1-.1-1 0-1 .1-1-.1-1 0-1-.1-1 0-1-.2-1 .2-1 .1-1 .1-1 .1-1-.1-1-.1-1-.3-1-.1-1 .2-1 .1-1 0-1 .2-1-.1-1 0-1-.3-1 .1-1-.1-1-.1-1 .2-1 .1-1 0-1-.2-1 0-1-.2-1 .2-1 .2-1 0-1 .2-1 .1-1 0-1-.1-1 0-1 0-1 .1-1-.1-1 0-1-.1-1-.1-1-.2-1 .1-1-.1-1 .1-1-.2-1 .2-1 .1-1 .2-1 0-1-.1-1-.3-1 .2-1 0-1 .2-1 0-1 .2-1 0-1-.2-1-.1-1-.1-1-.1-1 0-1 0-1 0-1 .2-1 .1-1-.1-1 0-1-.1-1-.1-1 .1-1-.1-1 .1-1-.2-1-.1-1-.2-1 .2-1 0-1 .2-1 .1-1 .2-1 .2-1-.1-1-.1-1 0-1 0-1-.2-1-.1-1 0-1-.2-1 .1-1 .1-1 .2-1 0-1 .2-1-.2-1 .1-1 .1-1 0-1 0-1 .1-1-.1-1-.2-1 0-1-.1-1 0-1 0-1 0-1 0-1 0-1 0-1 0-1 0-1 0-1 .2-1-.1-1-.1-1 .1-1 0-1-.1-1 .3-1 0-1 0-1 0-1-.1-1-.1-1 0-1-.1-1 .1-1 .1-1 0-1 0-1 .1-1-.1-1-.1-1 .1-1 0-1 0-1 .1-1-.1-1 0-1 .1-1-.1-1 .1-1 0-1 0-1-.1-1-.1-1 0-1-.1-1 0-1 .1-1 .1-1-.2-1 .1-1 0-1 0-1 0-1-.2-1 0-1 .1-1 0-1 .1-1-.1-1 .1-1 .2-1-.1-1 0-1 0-1-.2-1-.1-1 0-1-.1-1 0-1 .2-1 .1-1 .1-1 0-1 0-1 .1-1-.1-1-.1-1 .1-1 .1-1 0-1 .1-1-.1-1-.3-1-.2-1 .3-1 .1-1-.1-1 .1-1 .1-1-.1-1-.2-1 .2-1-.2-1 .1-1 0-1 .2-1-.4-1-.1-1 0-1 .1-1 .3-1 .1-1 0-1-.2-1 0-1 0-1-.1-1 .1-1-.1-1 0-1-.2-1 0-1-.2-1 .1-1 .1-1 0-1 0-1 0-1 0-1-.1-1 0-1-.1-1-.3-1-.4-1-.1-1-.1-1 0-1 0-1-.2-1-.1-1-.2-1-.1-1 .1-1 0-1-.1-1 0-1 .1-1-.1-1 .2-1 0-1-.1-1-.2-1 .2-1 .2-1 0-1 0-1 0-1-.1-1 0-1 .1-1 0-1 0-1-.2-1-.1-1-.2-1-.1-1 0-1 0-1 .2-1 .2-1 .2-1-.1-1-.1-1 0-1 0-1 .1-1 0-1-.1-1-.1-1 .1-1 .2-1 .1-1 0-1 .4-1 .3-1 .2-1 .1-1 0-1 0-1-.4-1 .1-1 0-1-.1-1 0-1-.2-1 .1-1 0-1 0-1 .1-1 .2-1 0-1-.1-1 .1-1-.1-1 0-1 .1-1 0-1 .1-1-.3-1 0-1-.1-1 0-1 .1-1 0-1 .1-1 0-1-.1-1-.2-1-.1-1 .2-1 0-1 0-1 .1-1 0-1-.1-1-.1-1-.1-1 0-1 .2-1 0-1 .2-1 0-1 .1-1-.1-1-.2-1-.1-1 0-1 0-1 .1-1 0-1 0-1-.1-1 0-1 .1-1 0-1 .1-1-.1-1-.1-1-.2-1 .1-1 .1-1 .1-1 0-1-.1-1-.2-1 0-1-.1-1 .1-1 0-1 .2-1-.1-1 0-1 0-1 .1-1-.1-1 0-1 0-1 .1-1 .1-1 .1-1 0-1-.1-1 0-1-.1-1 0-1 .1-1 0-1-.2-1 0-1-.3-1 0-1 .1-1 .1-1-.1-1 .2-1-.2-1 0-1-.2-1 .1-1 0-1-.1-1-.1-1 .2-1 .2-1 .1-1 .1-1 .1-1 0-1-.1-1-.1-1 0-1-.1-1 0-1 .1-1-.1-1-.1-1 .1-1 .1-1-.1-1 .1-1-.1-1 .1-1-.2-1 .1-1-.3-1 .2-1 0-1 0-1 0-1 0-1-.1-1-.1-1 .2-1 .1-1 0-1 .1-1 0-1-.1-1 0-1-.1-1 0-1-.1-1 0-1 0-1 0-1 .1-1 0-1-.1-1-.1-1 .2-1-.1-1 .1-1-.1-1-.1-1 0-1 0-1 .1-1 .2-1 0-1 0-1 0-1 0-1-.1-1-.1-1-.1-1 0-1-.1-1 .1-1 .1-1 .1-1 0-1 .1-1 .2-1 .2-1-.2-1 .1-1-.1-1-.1-1-.2-1-.1-1 0-1 0-1 0-1-.1-1 .1-1 .1-1 0-1 0-1-.2-1-.1-1 0-1 0-1 0-1 .1-1 .1-1-.2-1-.1-1 .1-1 0-1 0-1 .1-1 0-1 0-1-.1-1-.1-1-.2-1 .1-1-.1-1 .2-1 .1-1 .1-1 0-1-.1-1 0-1 0-1 0-1 .1-1 .1-1 0-1-.1-1 .1-1 0-1 0-1 0-1-.1-1 0-1 .1-1 0-1 0-1-.1-1-.1-1 .1-1 .1-1 .2-1 0-1-.2-1-.3-1 .2-1-.2-1 .2-1-.2-1 .1-1-.2-1 .1-1 .1-1 .1-1 0-1-.1-1-.1-1-.1-1 .1-1 0-1 .1-1-.1-1-.1-1-.3-1 0-1 0-1 .2-1 .1-1 .1-1 .2-1 .1-1 0-1 0-1 0-1 0-1-.1-1 .1-1 0-1-.1-1-.1-1 .1-1 0-1-.1-1 0-1-.1-1 0-1 .1-1 0-1 0-1 0-1 .1-1-.3-1-.2-1-.2-1 .1-1 0-1 .2-1 .1-1 0-1 0-1 .1-1-.1-1 0-1 .1-1 .1-1 .1-1-.1-1 0-1-.1-1 0-1 0-1 .1-1-.2-1-.2-1 .1-1 0-1 0-1 0-1 .1-1 0-1-.1-1 .1-1 0-1 .1-1-.1-1-.1-1 0-1 0-1 .2-1 .1-1 .2-1 0-1-.1-1-.1-1-.2-1-.1-1 0-1-.2-1 .2-1-.1-1 0-1 0-1 .2-1-.1-1 0-1-.1-1-.1-1-.1-1 .1-1 0-1 .3-1 0-1 .2-1-.2-1 0-1-.4-1 .1-1 .1-1 .1-1 0-1 0-1 .1-1-.1-1 0-1-.1-1 0-1-.2-1 .2-1-.2-1 0-1 0-1 .1-1 0-1-.1-1 0-1 .1-1-.1-1 0-1 .1-1 0-1 0-1 0-1 0-1 0-1 0-1 0-1 0-1 .2-1 0-1 .1-1-.1-1 0-1-.2-1 0-1 0-1 0-1 0-1-.1-1 .1-1 .1-1 .1-1-.1-1-.1-1 .1-1 0-1 .3-1 0-1-.3-1 0-1-.1-1 0-1 0-1 .1-1-.1-1 0-1 .1-1 0-1 0-1 .1-1 0-1 0-1-.1-1-.1-1-.1-1-.1-1-.2-1 0-1 0-1 0-1 0-1 0-1 .2-1-.1-1-.1-1 .1-1 .1-1 0z" fill="#d5d5d5"/>
<path d="M165.5,494.4l1 0 1-.1 1-.1 1 .1 1 0 1-.2 1 0 1 .1 1 0 1-.1 1 .2 1 0 1 .1 1 .2 1 .1 1 0 1 0 1 0 1-.2 1 .1 1 0 1-.1 1 0 1 .2 1-.2 1 0 1 .1 1 0 1 0 1 .2 1 0 1-.2 1 0 1 0 1 0 1 .1 1 0 1-.2 1 0 1 0 1 0 1 0 1 .1 1 0 1 .1 1 0 1 0 1-.1 1 0 1-.1 1 0 1 0 1 0 1 0 1-.1 1 .1 1 0 1 .1 1-.1 1 0 1 0 1-.1 1 0 1 .1 1 0 1 0 1 0 1 0 1 .1 1-.2 1 .2 1 0 1 .1 1 .1 1 .1 1-.1 1 0 1-.1 1-.1 1 0 1-.1 1 .3 1 0 1 .2 1-.2 1 0 1-.2 1 0 1-.1 1 .1 1 .1 1 0 1 0 1 .1 1-.1 1 0 1 0 1 .1 1-.1 1 .1 1 .1 1 0 1 .1 1 0 1 .1 1 0 1-.1 1-.1 1-.1 1-.1 1 0 1 .1 1 .1 1 0 1 0 1-.1 1 .1 1-.1 1-.1 1 0 1 .1 1-.1 1 0 1 .1 1 .1 1-.1 1 0 1 .1 1 .1 1 0 1 .1 1 0 1-.1 1-.2 1 0 1 .1 1-.1 1 0 1 0 1 0 1-.2 1 0 1 0 1 0 1 .2 1 .2 1 0 1 0 1 .1 1-.1 1-.1 1 .1 1 0 1 0 1 0 1 .1 1-.1 1 .1 1 .1 1-.1 1 0 1 .2 1 0 1 0 1-.1 1 0 1-.2 1-.1 1-.1 1-.1 1-.2 1 .1 1 0 1 .2 1 .2 1 0 1 0 1 0 1-.1 1 0 1 .1 1 .1 1 0 1-.1 1 0 1-.1 1 .1 1 0 1 0 1-.1 1 .2 1-.1 1 .2 1 .1 1 0 1-.1 1-.1 1 0 1 0 1 .2 1-.1 1 0 1-.1 1 .1 1 0 1 0 1 0 1 .1 1-.1 1 0 1 0 1-.1 1-.1 1 .1 1-.1 1 .1 1 .1 1 0 1-.1 1-.1 1-.1 1 0 1 0 1 .1 1 .1 1 0 1 0 1 0 1-.1 1 0 1 0 1 0 1 0 1 .2 1-.1 1-.1 1 .1 1 0 1-.1 1 .1 1 .1 1 0 1 .1 1 0 1-.1 1 0 1 0 1 0 1 .1 1 .1 1 .1 1 .1 1 0 1 0 1 .1 1-.1 1-.1 1-.1 1-.1 1-.1 1-.2 1 0 1 .1 1 .1 1 .1 1 .1 1 .1 1-.1 1 .1 1-.1 1 0 1-.1 1-.1 1 0 1 0 1 .1 1 0 1-.1 1 .1 1-.1 1 0 1 .1 1-.1 1 0 1 0 1 0 1 0 1 .1 1 .1 1 0 1 0 1 .1 1-.1 1-.1 1 0 1 .1 1-.2 1 .1 1 0 1 .1 1-.1 1 .1 1-.1 1 0 1 .1 1-.1 1 .1 1 0 1 .1 1-.1 1 .1 1 0 1-.1 1 0 1 .1 1-.1 1 0 1 .1 1 0 1 .1 1 .1 1 0 1 0 1-.1 1-.2 1-.2 1-.1 1 .1 1 .1 1 0 1-.1 1 .1 1 .1 1 .1 1-.1 1 0 1-.1 1 0 1 0 1 .2 1 .1 1 .1 1 0 1 0 1 0 1 0 1 0 1 .1 1 0 1-.1 1-.1 1-.1 1 0 1 0 1 .1 1 0 1 0 1 0 1 0 1-.1 1-.1 1 0 1 0 1 0 1 .2 1 0 1 0 1 0 1 0 1-.1 1 .1 1 .1 1 .1 1 0 1-.1 1 0 1 0 1 0 1 0 1 0 1-.1 1 0 1 .1 1 .1 1 .1 1 .1 1-.1 1-.1 1-.1 1 0 1-.1 1-.1 1 .1 1 .1 1 .1 1-.1 1 0 1 0 1 .1 1-.1 1 0 1 .2 1 0 1-.1 1 0 1 0 1-.1 1 0 1 .2 1 0 1 .1 1 0 1 0 1-.1 1 0 1 .1 1-.1 1 0 1 .1 1-.1 1-.1 1 0 1 0 1-.1 1 .1 1 0 1 .1 1 .1 1-.1 1 .3 1 0 1 0 1-.1 1-.1 1-.2 1-.2 1 0 1 0 1-.1 1 0 1 .2 1 0 1 .1 1-.1 1 0 1 0 1 .1 1 0 1-.1 1-.2 1-.1 1 0 1 0 1 .1 1 .1 1 .1 1 .1 1 .1 1 0 1-.1 1 0 1 .1 1 0 1-.1 1 0 1-.1 1-.2 1 .2 1 0 1 0 1-.1 1 .1 1-.1 1 0 1 .1 1 0 1 0 1 .1 1 .1 1 0 1 .1 1 0 1 0 1 0 1 0 1 .2 1 .2 1 0 1 .1 1 0 1 .1 1-.1 1 0 1 0 1 0 1-.1 1 .2 1 0 1 .1 1 0 1 .1 1-.1 1 .1 1 .1 1 0 1 .1 1 0 1-.1 1-.2 1 0 1 0 1 0 1 .3 1-.1 1 0 1-.1 1 .2 1-.3 1 .2 1 .1 1-.1 1-.1 1 .1 1 0 1-.2 1 .1 1 .2 1 0 1 0 1 0 1 0 1-.1 1 0 1 0 1 0 1 0 1 0 1-.1 1-.1 1-.1 1 0 1 .1 1 0 1 .1 1 .2 1-.1 1 .1 1 0 1-.1 1-.1 1 .1 1-.2 1-.1 1 0 1 0 1 .1 1 .1 1 0 1 0 1 0 1 .1 1-.1 1 0 1 0 1 .1 1-.1 1 0 1 .1 1 0 1 0 1 0 1 .1 1 0 1-.1 1 .1 1 0 1 0 1 0 1-.2 1 .1 1 .1 1-.1 1 0 1 0 1-.1 1-.1 1 .1 1 0 1 .1 1 0 1 0 1 .1 1 0 1-.2 1 0 1 .1 1-.2 1 .1 1 .1 1-.1 1 0 1 0 1 0 1 0 1-.1 1 0 1 0 1 .1 1 0 1 .1 1 0 1 .1 1 .1 1-.1 1 0 1-.1 1-.1 1 0 1 .1 1-.1 1-.1 1 0 1 0 1-.1 1 0 1 .1 1 0 1 .2 1 .1 1-.1 1 .1 1 0 1-.1 1-.1 1-.1 1-.1 1-.1 1-.2 1 .1 1 .1 1 .1 1 0 1 .1 1-.1 1 .1 1 .1 1 0 1 .1 1-.1 1-.1 1-.1 1 0 1 .1 1 .1 1 0 1 .2 1 .1 1 0 1-.2 1-.1 1-.1 1-.1 1 0 1 .2 1 .1 1 0 1-.2 1 0 1-.2 1 .1 1 0 1 0 1-.1 1 .2 1 .1 1 .1 1 0 1 .1 1-.1 1 .1 1-.1 1 .1 1 0 1 0 1-.2 1-.1 1-.2 1-.1 1 0 1 .1 1 .1 1 .1 1-.1 1-.1 1 .1 1 0 1 0 1 .2 1 0 1 0 1 0 1 0 1-.1 1-.1 1 0 1 .2 1 .1 1 0 1 0 1-.1 1-.1 1-.1 1 .1 1 0 1 0 1 0 1 .1 1 0 1 .1 1 .1 1-.1 1 .1 1-.1 1 0 1-.1 1 .2 1-.2 1 0 1 0 1 .2 1-.2 1 0 1 0 1-.1 1-.1 1 .1 1 0 1 0 1 0 1-.1 1 0 1 .1 1-.1 1 0 1 .1 1 0 1-.1 1 0 1 .1 1 0 1 0 1 .1 1 .1 1 0 1 .1 1-.1 1-.1 1 0 1-.1 1-.1 1 .1 1-.1 1 0 1 0 1 .1 1-.1 1 0 1 .1 1 0 1 0 1 .1 1-.1 1 0 1 .1 1-.1 1 0 1 .1 1 .1 1-.1 1 0 1-.2 1 .1 1 0 1 .2 1 0 1 .1 1-.1 1 0 1-.1 1 .1 1-.1 1 0 1 .2 1-.1 1 0 1 .1 1-.1 1-.1 1-.1 1 0 1 0 1 .2 1 0 1 0 1 .1 1 0 1-.2 1 .1 1 0 1-.2 1 .1 1-.1 1 0 1 0 1 0 1-.1 1 0 1 .2 1-.1 1-.1 1 0 1 0 1 0 1 .1 1 .2 1-.1 1 .1 1 .1 1 0 1-.2 1 .2 1-.1 1 0 1-.1 1 0 1-.1 1-.1 1-.1 1 .2 1 .1 1 .1 1 0 1-.1 1 .2 1-.2 1 .1 1 0 1 .2 1-.1 1 0 1 .1 1 .1 1-.2 1-.1 1-.1 1 0 1-.1 1 .1 1 0 1 0 1-.1 1 0 1 .1 1 0 1-.1 1 .2 1-.1 1-.2 1 .1 1 0 1-.1 1 0 1 .1 1 .1 1-.1 1 0 1 .2 1 0 1-.2 1 0 1-.1 1 0 1 .1 1 .1 1 .1 1 .1 1-.1 1-.1 1-.1 1 .1 1-.1 1-.1 1 .1 1 .1 1 0 1 0 1 .1 1-.1 1-.1 1 .1 1-.1 1 .1 1-.1 1 .1 1 0 1-.1 1 0 1 .2 1-.1 1 0 1 0 1-.1 1 0 1 .1 1 0 1 .1 1 0 1-.1 1 0 1 .1 1 0 1 .1 1-.2 1 0 1-.3 1-.1 1-.1 1 .1 1-.1 1 0 1 0 1-.1 1-.1 1 0 1-.1 1 0 1 .1 1 .1 1-.1 1-.1 1 .1 1-.1 1 0 1 .1 1 .2 1 0 1 .2 1 0 1-.1 1-.1 1-.1 1-.1 1 0 1 .1 1 .1 1 .1 1 .1 1 .1 1-.1 1 0 1-.1 1-.1 1 0 1-.1 1 0 1 .1 1 0 1-.1 1-.1 1 0 1 0 1 0 1 .1 1 .1 1 0 1 .1 1 .3 1 0 1 .1 1 .1 1 .1 1-.2 1 0 1 0 1 0 1 .1 1-.1 1 0 1 0" stroke="#e1e1e1" stroke-width="1.4" fill="none" opacity="0.9"/>
<path d="M165,490l1 .6 1 .2 1-.3 1-.5 1-.5 1 .4 1 0 1 .3 1 .1 1 0 1 .4 1-.3 1 .4 1 0 1 .1 1-.2 1 0 1-.1 1-.1 1-.3 1 .3 1-.3 1 0 1-.5 1 .1 1 0 1 .5 1 0 1 .3 1-.3 1 .1 1-.2 1 0 1 .3 1-.2 1 .3 1-.3 1 .3 1-.3 1 .2 1-.1 1 .1 1-.3 1 .3 1 .1 1 .2 1 0 1-.1 1 0 1 0 1 .2 1-.1 1-.1 1-.1 1 0 1-.1 1 0 1 0 1 .2 1-.2 1-.2 1-.2 1 .3 1 .5 1 .1 1 .1 1-.5 1-.5 1 .1 1 .4 1 .3 1-.4 1 .2 1 .1 1-.1 1-.3 1 0 1 .1 1 .2 1 0 1 .1 1-.3 1 0 1-.1 1 .3 1 0 1 .2 1-.1 1 .1 1-.3 1 .2 1-.2 1 .3 1-.2 1-.2 1 0 1-.4 1-.1 1-.3 1 .6 1 .3 1 .4 1-.2 1 .3 1-.1 1-.3 1-.3 1-.2 1 .4 1 .1 1-.1 1-.2 1 0 1 .2 1 .3 1-.1 1-.2 1 0 1 .2 1 0 1-.2 1 .3 1 .1 1 0 1-.2 1 0 1 .1 1-.4 1 .1 1-.1 1 .3 1 0 1-.1 1 0 1 .3 1-.2 1 .2 1-.2 1 0 1 .1 1-.2 1 .2 1-.4 1-.1 1 0 1-.2 1-.1 1-.1 1-.1 1 .1 1 0 1 .1 1 .1 1-.2 1-.4 1-.4 1-.1 1 0 1-.3 1 .2 1 .3 1-.2 1-.5 1 .1 1 .1 1 .3 1-.4 1 .1 1 0 1 0 1-.3 1 .1 1 0 1 .3 1-.3 1-.1 1 0 1 0 1 .5 1-.1 1 .3 1-.6 1 0 1 0 1 .2 1 .2 1 .4 1 .2 1-.1 1-.5 1-.2 1 .1 1 0 1 .2 1-.3 1 .2 1-.1 1 .2 1-.2 1 .1 1 .1 1 .3 1 0 1 .1 1-.2 1 0 1 .3 1-.1 1-.1 1-.1 1 .1 1-.1 1 0 1 0 1 .1 1-.2 1-.1 1 0 1 0 1-.3 1 .2 1 .1 1 .3 1-.6 1-.1 1 .3 1 .1 1 .1 1-.2 1-.2 1-.3 1 0 1 .7 1 .4 1-.2 1-.2 1-.2 1 .3 1-.2 1 .1 1-.1 1 .3 1-.2 1-.2 1-.5 1 .4 1 .2 1 .2 1-.4 1-.2 1 .1 1-.1 1 .5 1 .2 1 .4 1-.7 1-.2 1 .1 1 .6 1-.1 1-.1 1-.2 1 .2 1-.2 1 .1 1 .1 1-.1 1-.6 1-.2 1-.2 1 .7 1-.1 1 .4 1-.1 1 0 1-.4 1 .4 1 0 1 .3 1-.6 1 .1 1 .2 1 .2 1 .1 1-.1 1 .2 1-.3 1 0 1-.1 1 0 1-.3 1 .1 1 .2 1 .1 1-.3 1-.2 1 .4 1 .1 1 .3 1 0 1 .4 1-.1 1-.2 1-.2 1 0 1 0 1-.1 1-.1 1 .3 1-.1 1 0 1-.2 1 0 1 .1 1-.1 1 .3 1 0 1-.1 1 .1 1 .2 1 0 1 .1 1-.4 1 .2 1 0 1 .3 1 .3 1 .2 1 0 1-.1 1 0 1 .3 1-.2 1-.2 1-.4 1 .3 1 0 1 .3 1-.5 1 .1 1-.1 1 .2 1 .1 1 .1 1 .1 1 0 1 .1 1 0 1 .1 1-.1 1 .3 1 .4 1 .1 1-.1 1-.2 1-.4 1 0 1 .1 1 .4 1 .2 1-.1 1 0 1-.4 1-.3 1-.1 1 .3 1 .4 1 .3 1 0 1-.2 1 0 1 .1 1 .3 1-.2 1 .2 1 .2 1 0 1 0 1-.3 1 .3 1-.1 1 .2 1-.3 1 0 1-.3 1 0 1 .2 1 .2 1 .2 1-.3 1 0 1 .1 1 .4 1 0 1 0 1-.2 1 .5 1 .1 1-.3 1-.4 1 0 1 0 1-.1 1 .3 1 .2 1 .1 1-.2 1 .1 1 .1 1 .1 1-.3 1 .1 1-.1 1 .4 1-.2 1 .1 1-.2 1-.1 1 .2 1-.1 1 .3 1-.3 1 .4 1 .2 1 .3 1-.2 1-.3 1 .1 1 .2 1 .1 1-.4 1 .4 1-.1 1 .2 1-.1" stroke="#cbcbcb" stroke-width="1.4" fill="none" opacity="1.0"/>
<path d="M440,495.2l1 .3 1-.3 1-.1 1-.5 1 .6 1-.7 1 .7 1-.5 1-1 1-1 1 .3 1-.6 1 .4 1 1.2 1 .8 1 1.6 1 .1 1 .8 1-.1 1-1.4 1 0 1-1.9 1-1.4 1-1 1-.8 1-.2 1 1.7 1 1.4 1 1.2 1 1.4 1 1.4 1 0 1-.2 1 .1 1-1 1-1.6 1-1.5 1-1.3 1 .2 1-.9 1 .5 1 .5 1 2.2 1 1.4 1 .7 1-1.7 1 2 1-1.7 1-.3 1 0 1-.6 1-.3 1-1.7 1 1.7 1-1.4 1 1.8 1 0 1-.1 1 .3 1 .7 1-.3 1-.3 1-.1 1 .1 1 .1 1-1.1 1 .4 1 .5 1-.7 1 .1 1 1.1 1 .2 1-.1 1-1.2 1 .4 1-.4 1 .6 1-.8 1 .6 1 .8 1 0 1-1.5 1-.2 1 1.1 1-.3 1 0 1 .3 1 .4 1-1 1 .1 1 .2 1 .5 1 .1 1-.7 1-.6 1 1.4 1-1.1 1 .6 1 .4 1-.1 1-1.5 1 1.1 1 .3 1-.5 1 1.4 1-1.5 1 .2 1 .9 1-.6 1-.1 1-.8 1 .2 1 .7 1-1 1 1 1-.7 1 .3 1-.1 1-.8 1 .8 1 .3 1 .5 1-.7 1-.6 1 1.5 1-1.4 1 .7 1-.4 1-.4" stroke="#c8c8c8" stroke-width="1" fill="none"/>
<path d="M490,494.1l1-1.3 1 .1 1-.7 1-1.5 1 1.1 1-.8 1 2.2 1 .2 1 1 1 .1 1 1.6 1 .5 1 0 1 .2 1 .4 1-.1 1-.6 1-1.6 1-.2 1-1.7 1-.9 1-.6 1-.4 1-.1 1 1.4 1 .7 1 1 1 1.3 1 .8 1 .4 1 1.3 1-.8 1 .1 1-.9 1-1.5 1 .2 1-2.1 1 .2 1-.5 1-.4 1-.5 1 .3 1 .3 1 1.2 1-.1 1 .9 1 2 1 .1 1 .2" stroke="#c5c5c5" stroke-width="1" fill="none" opacity="0.9"/>
<path d="M600,495.6l1-.4 1-.1 1-.5 1-.7 1 .7 1-.9 1-.2 1-.3 1 .4 1-1.2 1 .5 1-1.1 1-.3 1 .1 1 0 1-.9 1 0 1 .1 1-.5 1-.4 1-.1 1 0 1-.7 1 .4 1 0 1 0 1 .3 1-.2 1-.1 1 .4 1 0 1-.2 1 .7 1 .4 1 .5 1-.2 1 .4 1 .2 1 .3 1 0 1 .6 1-.1 1 .4 1 .3 1 .7 1 0 1 .3 1 .6 1 .1 1-.5 1 .5 1 .6" stroke="#d2d2d2" stroke-width="1.6" fill="none"/>
<path d="M600,495.4l1 .4 1 .3 1 .1 1 .8 1 .3 1 .1 1 .5 1-.1 1 .3 1 .1 1 1.2 1 .1 1-.2 1 .6 1 .1 1 .5 1 .5 1-.1 1 0 1 .4 1 0 1 .6 1 .3 1 .2 1-.6 1 .6 1-.5 1 .2 1-.4 1-.1 1 .1 1-.4 1 0 1-.5 1 0 1-.5 1-.3 1-.2 1-.1 1 .2 1-.2 1-1.3 1-.6 1 .4 1-1 1 .7 1-1.1 1 0 1-.1 1-.6 1-.6 1 .4" stroke="#d2d2d2" stroke-width="1.6" fill="none"/>
<path d="M610,496l1-.1 1-.6 1-.5 1-.3 1-.2 1 0 1 .1 1-.3 1-.8 1 0 1-.3 1 0 1-.4 1-.1 1-.1 1 .5 1-.2 1-.4 1 .3 1 .2 1 0 1 .4 1-.4 1 0 1 .9 1-.4 1 .8 1 .1 1 .3 1 .1 1-.4 1 1.1 1 .3 1-.1 1 .1" stroke="#c9c9c9" stroke-width="1.0" fill="none"/>
<path d="M610,495.4l1 .2 1 1.2 1-.3 1 0 1 .7 1 .7 1 .6 1-.3 1 .7 1 0 1 .8 1-.2 1 1.3 1-1.2 1 .7 1 .5 1-.2 1 .1 1-.3 1-.3 1 .6 1-.4 1-.1 1-1 1 .4 1-.7 1-.3 1-.3 1-.4 1-.8 1 .1 1-.8 1-.5 1-.3 1 .4" stroke="#c9c9c9" stroke-width="1.0" fill="none"/>
<path d="M1090,496l1-.3 1-.4 1-.4 1 .1 1-1.4 1-.5 1-.2 1-.4 1-1.1 1-.3 1-.7 1-.2 1-1 1-.4 1-.3 1-.7 1-.4 1-.1 1-.2 1-.3 1-1.1 1-.1 1-.4 1 0 1-.6 1 .2 1 .2 1-.4 1 .3 1 .3 1 .2 1 0 1 .2 1 .1 1 .7 1-.1 1 .5 1 .7 1 1 1 .1 1 .6 1 .5 1 .6 1 .3 1 .1 1 .8 1 .3 1 .8 1 .9 1 .3 1 .4 1 .6 1 .2 1 .6 1 .7" stroke="#d2d2d2" stroke-width="1.7" fill="none"/>
<path d="M1090,496.6l1-.2 1 .7 1 .3 1 .5 1 1.1 1 .1 1 1 1 .7 1 .2 1 1 1 .7 1 1 1 .6 1 .7 1 .2 1 .6 1 .4 1 1 1 .4 1 .1 1 .7 1 .6 1 .1 1 .5 1-.2 1 .4 1-.3 1-.2 1-.5 1 0 1 .8 1-.7 1-.4 1-.6 1 .2 1-1 1-.1 1-.2 1-.6 1-.4 1-1.2 1-.5 1-.6 1-.7 1-1 1-.4 1-.3 1-1.5 1-.5 1-.3 1-.3 1-1.3 1-.9 1 .3 1-.5" stroke="#d2d2d2" stroke-width="1.7" fill="none"/>
<path d="M1090,496.1l1-.1 1 .5 1-.3 1 .3 1 .2 1 .7 1 .4 1 0 1 .1 1 0 1 .6 1 .2 1-.2 1 .2 1 .1 1 .5 1-.1 1-.1 1 1.2 1-.5 1 .2 1 0 1 .2 1 0 1-.1 1 1 1-1 1 .1 1 0 1 .2 1 .1 1-.1 1 .1 1-.5 1-.3 1 .3 1 .3 1-1.3 1 .1 1 .4 1-.8 1 .1 1-.6 1 .1 1-.1 1-.4 1 .1 1-.7 1-.1 1 .1 1-.5 1-.4 1 .3 1-.2 1-.6" stroke="#d2d2d2" stroke-width="1.7" fill="none"/>
<path d="M1096,496.3l1-.8 1-.5 1 .1 1-.7 1-.9 1-.1 1-.9 1-.7 1-.7 1 .3 1-1.3 1-.4 1-.6 1-.3 1-.2 1-.4 1-.6 1 .4 1-.9 1 .7 1-1.4 1 .7 1 .4 1-.3 1 .4 1 .4 1-.4 1-.1 1 .5 1 1.5 1-.4 1 1 1 .5 1-.1 1 .8 1 .6 1 .1 1 .9 1 1.2 1 .4 1 .4 1 .2 1 .6 1 .1" stroke="#c9c9c9" stroke-width="1.0" fill="none"/>
<path d="M1096,495.4l1 1.3 1-.3 1 .5 1 .1 1-.1 1 .6 1 .1 1 .7 1-.2 1 .8 1-.2 1 .5 1-.5 1 .3 1 .4 1 .3 1 .4 1-.5 1 .7 1 .8 1-1 1 .6 1-.7 1 0 1 .1 1 .2 1-.2 1 .3 1-.8 1-.1 1-.3 1 0 1-1 1 .1 1-.5 1 .3 1-.3 1-.2 1-.4 1-.2 1 0 1-.6 1-.2 1-.1" stroke="#c9c9c9" stroke-width="1.0" fill="none"/>
<ellipse cx="186" cy="528.2" rx="16" ry="26" fill="#999999" opacity="0.55"/>
<ellipse cx="186" cy="528.2" rx="7" ry="17" fill="#cccccc" opacity="0.5"/>
<ellipse cx="558" cy="528.2" rx="17" ry="13" fill="#8a8a8a" opacity="0.4"/>
<ellipse cx="557" cy="528.2" rx="9" ry="6" fill="#c5c5c5" opacity="0.6"/>
<ellipse cx="1146" cy="528.2" rx="14" ry="30" fill="#929292" opacity="0.55"/>
<ellipse cx="1112" cy="528.2" rx="20" ry="12" fill="#7c7c7c" opacity="0.4"/>
<path d="M169.5,527.6v-8.1M170.5,527.6v-2.1M172.5,527.6v-7.5M173.5,527.6v-2.3M175.5,527.6v-8.4M177.5,527.6v-4.4M178.5,527.6v-1.5M179.5,527.6v-3.9M180.5,527.6v-22.4M181.5,527.6v-1.2M182.5,527.6v-9.7M184.5,527.6v-7.3M185.5,527.6v-15.2M186.5,527.6v-3.9M187.5,527.6v-4.5M188.5,527.6v-4.1M189.5,527.6v-2.7M190.5,527.6v-10.3M191.5,527.6v-27.7M192.5,527.6v-11.6M194.5,527.6v-19.6M196.5,527.6v-16.2M197.5,527.6v-27.0M198.5,527.6v-5.8M199.5,527.6v-17.8M200.5,527.6v-1.0M204.5,527.6v-5.8M206.5,527.6v-5.3M212.5,527.6v-6.1M213.5,527.6v-1.0M214.5,527.6v-3.2M218.5,527.6v-1.2M219.5,527.6v-3.2M220.5,527.6v-2.6M223.5,527.6v-3.5M224.5,527.6v-1.9M226.5,527.6v-6.1M227.5,527.6v-1.7M228.5,527.6v-1.2M230.5,527.6v-1.3M231.5,527.6v-5.8M234.5,527.6v-6.8M237.5,527.6v-5.6M240.5,527.6v-2.5M243.5,527.6v-3.1M245.5,527.6v-1.1M246.5,527.6v-2.5M247.5,527.6v-1.4M248.5,527.6v-1.0M253.5,527.6v-1.7M256.5,527.6v-1.9M260.5,527.6v-1.2M261.5,527.6v-2.8M264.5,527.6v-2.0M267.5,527.6v-1.4M269.5,527.6v-1.0M270.5,527.6v-1.7M272.5,527.6v-1.5M274.5,527.6v-3.0M275.5,527.6v-2.4M283.5,527.6v-1.8M284.5,527.6v-1.0M286.5,527.6v-1.5M287.5,527.6v-1.1M288.5,527.6v-1.1M292.5,527.6v-1.1M302.5,527.6v-1.1M303.5,527.6v-1.4M310.5,527.6v-2.2M312.5,527.6v-3.3M315.5,527.6v-2.7M316.5,527.6v-1.1M321.5,527.6v-1.1M331.5,527.6v-1.5M333.5,527.6v-1.0M336.5,527.6v-3.5M339.5,527.6v-2.9M342.5,527.6v-1.2M343.5,527.6v-1.1M344.5,527.6v-1.1M346.5,527.6v-3.9M359.5,527.6v-2.1M363.5,527.6v-3.1M364.5,527.6v-2.3M368.5,527.6v-1.0M376.5,527.6v-3.2M381.5,527.6v-3.6M393.5,527.6v-2.1M395.5,527.6v-1.6M400.5,527.6v-3.5M403.5,527.6v-1.0M408.5,527.6v-1.3M413.5,527.6v-1.0M415.5,527.6v-1.3M416.5,527.6v-1.1M417.5,527.6v-3.2M421.5,527.6v-1.8M431.5,527.6v-1.6M433.5,527.6v-1.1M435.5,527.6v-1.1M436.5,527.6v-1.0M440.5,527.6v-1.9M443.5,527.6v-1.1M444.5,527.6v-1.5M453.5,527.6v-3.3M457.5,527.6v-1.3M458.5,527.6v-2.3M459.5,527.6v-2.1M462.5,527.6v-3.3M466.5,527.6v-1.0M467.5,527.6v-1.9M470.5,527.6v-3.7M474.5,527.6v-2.4M477.5,527.6v-3.5M478.5,527.6v-1.1M485.5,527.6v-1.3M486.5,527.6v-1.0M488.5,527.6v-1.0M491.5,527.6v-2.5M496.5,527.6v-4.0M499.5,527.6v-1.4M501.5,527.6v-1.1M506.5,527.6v-2.6M508.5,527.6v-3.0M509.5,527.6v-1.0M513.5,527.6v-2.9M515.5,527.6v-1.0M516.5,527.6v-1.2M518.5,527.6v-3.0M520.5,527.6v-1.6M526.5,527.6v-1.8M527.5,527.6v-5.4M529.5,527.6v-7.1M530.5,527.6v-2.9M531.5,527.6v-1.5M532.5,527.6v-2.8M534.5,527.6v-3.4M536.5,527.6v-2.3M538.5,527.6v-2.4M540.5,527.6v-3.7M541.5,527.6v-1.4M543.5,527.6v-2.2M548.5,527.6v-1.1M552.5,527.6v-7.4M553.5,527.6v-4.3M554.5,527.6v-1.1M555.5,527.6v-1.0M556.5,527.6v-24.0M557.5,527.6v-1.0M560.5,527.6v-22.0M562.5,527.6v-26.1M563.5,527.6v-3.5M568.5,527.6v-1.0M570.5,527.6v-1.3M571.5,527.6v-2.4M575.5,527.6v-2.7M578.5,527.6v-1.5M579.5,527.6v-2.5M583.5,527.6v-5.1M586.5,527.6v-1.6M592.5,527.6v-3.4M597.5,527.6v-4.4M598.5,527.6v-2.5M599.5,527.6v-3.8M600.5,527.6v-1.3M601.5,527.6v-5.8M602.5,527.6v-7.2M607.5,527.6v-3.3M611.5,527.6v-5.5M612.5,527.6v-2.6M617.5,527.6v-1.2M618.5,527.6v-3.4M619.5,527.6v-7.4M620.5,527.6v-5.9M621.5,527.6v-1.4M625.5,527.6v-1.3M628.5,527.6v-8.7M632.5,527.6v-8.6M633.5,527.6v-1.4M638.5,527.6v-5.3M642.5,527.6v-3.4M646.5,527.6v-1.0M649.5,527.6v-4.0M650.5,527.6v-2.1M651.5,527.6v-1.4M653.5,527.6v-3.7M654.5,527.6v-3.5M655.5,527.6v-1.3M658.5,527.6v-4.2M659.5,527.6v-2.3M661.5,527.6v-1.5M663.5,527.6v-8.2M666.5,527.6v-1.0M670.5,527.6v-1.3M672.5,527.6v-2.0M673.5,527.6v-1.3M674.5,527.6v-7.7M679.5,527.6v-8.5M680.5,527.6v-2.7M682.5,527.6v-3.8M683.5,527.6v-1.6M692.5,527.6v-1.2M694.5,527.6v-3.1M698.5,527.6v-1.9M701.5,527.6v-1.5M703.5,527.6v-2.5M711.5,527.6v-1.2M712.5,527.6v-1.1M726.5,527.6v-1.4M727.5,527.6v-1.0M730.5,527.6v-1.3M742.5,527.6v-1.3M745.5,527.6v-1.0M747.5,527.6v-1.3M750.5,527.6v-2.7M752.5,527.6v-3.9M754.5,527.6v-1.1M756.5,527.6v-1.1M759.5,527.6v-3.4M760.5,527.6v-1.2M763.5,527.6v-3.5M764.5,527.6v-2.5M765.5,527.6v-1.8M767.5,527.6v-1.2M774.5,527.6v-3.8M776.5,527.6v-1.8M777.5,527.6v-1.2M779.5,527.6v-1.0M784.5,527.6v-1.0M791.5,527.6v-2.5M794.5,527.6v-2.2M795.5,527.6v-3.5M798.5,527.6v-1.5M802.5,527.6v-1.2M809.5,527.6v-3.1M812.5,527.6v-2.4M814.5,527.6v-1.0M816.5,527.6v-3.3M818.5,527.6v-1.6M821.5,527.6v-1.1M824.5,527.6v-1.0M826.5,527.6v-3.2M830.5,527.6v-1.0M832.5,527.6v-1.0M834.5,527.6v-2.2M838.5,527.6v-3.6M841.5,527.6v-1.1M848.5,527.6v-1.6M850.5,527.6v-3.7M854.5,527.6v-2.7M855.5,527.6v-1.0M857.5,527.6v-1.5M861.5,527.6v-1.6M865.5,527.6v-2.4M873.5,527.6v-2.6M875.5,527.6v-1.0M876.5,527.6v-3.3M879.5,527.6v-3.1M885.5,527.6v-2.3M887.5,527.6v-1.0M891.5,527.6v-1.2M905.5,527.6v-1.0M907.5,527.6v-3.3M908.5,527.6v-1.4M921.5,527.6v-1.0M926.5,527.6v-1.2M931.5,527.6v-3.2M938.5,527.6v-1.4M943.5,527.6v-1.1M944.5,527.6v-1.0M951.5,527.6v-2.4M963.5,527.6v-1.8M964.5,527.6v-1.6M965.5,527.6v-3.1M966.5,527.6v-1.1M968.5,527.6v-2.5M970.5,527.6v-2.1M973.5,527.6v-1.0M975.5,527.6v-2.2M978.5,527.6v-1.9M987.5,527.6v-1.0M989.5,527.6v-3.0M990.5,527.6v-3.4M992.5,527.6v-1.8M1000.5,527.6v-1.0M1006.5,527.6v-2.0M1010.5,527.6v-3.0M1016.5,527.6v-2.7M1020.5,527.6v-2.0M1022.5,527.6v-1.3M1031.5,527.6v-3.3M1036.5,527.6v-1.0M1037.5,527.6v-3.4M1038.5,527.6v-2.1M1042.5,527.6v-1.8M1045.5,527.6v-1.2M1047.5,527.6v-3.7M1049.5,527.6v-1.1M1054.5,527.6v-1.0M1055.5,527.6v-1.2M1059.5,527.6v-2.1M1062.5,527.6v-2.9M1068.5,527.6v-1.0M1070.5,527.6v-1.1M1076.5,527.6v-3.2M1079.5,527.6v-3.7M1082.5,527.6v-1.5M1083.5,527.6v-1.4M1085.5,527.6v-3.2M1086.5,527.6v-5.6M1089.5,527.6v-1.0M1093.5,527.6v-3.2M1095.5,527.6v-1.0M1102.5,527.6v-10.6M1104.5,527.6v-9.2M1105.5,527.6v-2.0M1108.5,527.6v-1.3M1110.5,527.6v-1.8M1112.5,527.6v-3.5M1113.5,527.6v-4.0M1115.5,527.6v-7.2M1116.5,527.6v-4.2M1117.5,527.6v-9.2M1120.5,527.6v-3.1M1124.5,527.6v-7.4M1125.5,527.6v-8.3M1127.5,527.6v-3.2M1128.5,527.6v-9.3M1129.5,527.6v-2.4M1132.5,527.6v-9.5M1133.5,527.6v-2.5M1135.5,527.6v-23.9M1136.5,527.6v-8.3M1137.5,527.6v-1.6M1138.5,527.6v-14.7M1139.5,527.6v-1.1M1140.5,527.6v-4.4M1141.5,527.6v-20.3M1142.5,527.6v-1.7M1143.5,527.6v-10.1M1144.5,527.6v-10.6M1145.5,527.6v-24.3M1146.5,527.6v-4.9M1147.5,527.6v-2.1M1148.5,527.6v-10.0M1149.5,527.6v-5.2M1150.5,527.6v-1.4M1151.5,527.6v-8.8M1152.5,527.6v-20.3M1153.5,527.6v-1.0" stroke="#bdbdbd" stroke-width="1.0" opacity="0.8" fill="none"/>
<path d="M182.5,527.6v-6.5M183.5,527.6v-5.1M184.5,527.6v-1.8M185.5,527.6v-4.6M188.5,527.6v-10.0M189.5,527.6v-5.8M191.5,527.6v-1.0M192.5,527.6v-16.9M1144.5,527.6v-1.1M1145.5,527.6v-4.1M1146.5,527.6v-1.4M1147.5,527.6v-13.2M1148.5,527.6v-15.5M1149.5,527.6v-2.6M1150.5,527.6v-15.5M1151.5,527.6v-7.7M1153.5,527.6v-2.4" stroke="#e2e2e2" stroke-width="1.0" opacity="0.9" fill="none"/>
<path d="M556.5,527.2v-12" stroke="#e9e9e9" stroke-width="1.2"/><path d="M556.5,515.2v-12" stroke="#bdbdbd" stroke-width="1.1"/><path d="M556.5,503.20000000000005v-12" stroke="#8a8a8a" stroke-width="1"/><path d="M554.5,527.2v-9M558.5,527.2v-10M560.5,527.2v-12M544.5,527.2v-14" stroke="#b6b6b6" stroke-width="1" fill="none"/>
<rect x="165.5" y="524.8" width="989.0" height="1.6" fill="#a0a0a0" opacity="0.7"/>
<rect x="165.5" y="525.9" width="989.0" height="2.4" fill="#d9d9d9"/>
</g>
<path d="M165.5,528.2 H1154.5 M1154.5,528.2 v-10" stroke="#262626" stroke-width="1.2" fill="none"/>
<path d="M270.6,603.5 V762.4 M565.5,603.5 V762.4 M860.4,603.5 V762.4 M165.5,672.3 H1154.5 M165.5,741.4 H1154.5" stroke="#dfdfdf" stroke-width="1" fill="none"/>
<path d="M165.5,643.6l2-1.1 2-1.2 2-1.1 2-1.1 2-1.2 2-1 2-1 2-1 2-.9 2-.8 2-.8 2-.7 2-.6 2-.6 2-.5 2-.5 2-.4 2-.4 2-.4 2-.4 2-.3 2-.2 2-.2 2-.1 2-.1 2 0 2 0 2 .1 2 .2 2 .3 2 .4 2 .4 2 .5 2 .5 2 .6 2 .7 2 .7 2 .8 2 .8 2 .8 2 .9 2 .9 2 .9 2 .9 2 .9 2 .9 2 .9 2 .9 2 1 2 1 2 1 2 1.2 2 1.1 2 1.3 2 1.3 2 1.3 2 1.5 2 1.4 2 1.5 2 1.4 2 1.5 2 1.5 2 1.4 2 1.5 2 1.5 2 1.4 2 1.5 2 1.5 2 1.5 2 1.5 2 1.5 2 1.5 2 1.4 2 1.5 2 1.4 2 1.4 2 1.4 2 1.4 2 1.4 2 1.3 2 1.4 2 1.3 2 1.4 2 1.3 2 1.2 2 1.2 2 1.1 2 1 2 1 2 .9 2 .9 2 .7 2 .7 2 .6 2 .5 2 .6 2 .4 2 .4 2 .4 2 .2 2 .2 2 .1 2 .1 2 0 2 0 2-.1 2-.2 2-.2 2-.3 2-.3 2-.3 2-.4 2-.4 2-.5 2-.5 2-.6 2-.6 2-.7 2-.7 2-.6 2-.7 2-.7 2-.7 2-.7 2-.8 2-.7 2-.8 2-.7 2-.8 2-.8 2-.8 2-.8 2-.8 2-.8 2-.8 2-.8 2-.7 2-.8 2-.7 2-.7 2-.6 2-.7 2-.6 2-.6 2-.7 2-.6 2-.6 2-.6 2-.6 2-.7 2-.6 2-.5 2-.6 2-.5 2-.5 2-.4 2-.4 2-.4 2-.4 2-.4 2-.3 2-.3 2-.3 2-.3 2-.2 2-.2 2-.2 2-.2 2-.1 2-.1 2 0 2-.1 2 0 2 .1 2 0 2 .1 2 .2 2 .1 2 .2 2 .1 2 .2 2 .2 2 .2 2 .2 2 .2 2 .2 2 .3 2 .3 2 .3 2 .4 2 .3 2 .4 2 .3 2 .4 2 .3 2 .4 2 .3 2 .4 2 .4 2 .3 2 .4 2 .4 2 .4 2 .4 2 .4 2 .4 2 .4 2 .4 2 .3 2 .4 2 .4 2 .4 2 .4 2 .4 2 .4 2 .4 2 .4 2 .4 2 .4 2 .4 2 .4 2 .4 2 .4 2 .4 2 .4 2 .4 2 .4 2 .4 2 .4 2 .4 2 .4 2 .4 2 .4 2 .4 2 .4 2 .4 2 .4 2 .4 2 .4 2 .4 2 .4 2 .4 2 .4 2 .4 2 .5 2 .4 2 .5 2 .5 2 .6 2 .5 2 .6 2 .7 2 .6 2 .6 2 .6 2 .6 2 .7 2 .6 2 .6 2 .6 2 .7 2 .6 2 .6 2 .7 2 .6 2 .7 2 .7 2 .7 2 .8 2 .7 2 .8 2 .8 2 .8 2 .8 2 .8 2 .8 2 .8 2 .8 2 .8 2 .8 2 .8 2 .8 2 .8 2 .8 2 .8 2 .8 2 .8 2 .8 2 .8 2 .8 2 .8 2 .8 2 .8 2 .8 2 .8 2 .8 2 .9 2 .8 2 .8 2 .8 2 .8 2 .8 2 .7 2 .8 2 .8 2 .7 2 .7 2 .7 2 .7 2 .7 2 .6 2 .7 2 .7 2 .6 2 .7 2 .6 2 .7 2 .6 2 .7 2 .7 2 .6 2 .7 2 .6 2 .6 2 .5 2 .6 2 .5 2 .5 2 .5 2 .4 2 .4 2 .4 2 .4 2 .5 2 .4 2 .4 2 .4 2 .4 2 .5 2 .4 2 .4 2 .4 2 .4 2 .4 2 .4 2 .4 2 .3 2 .3 2 .3 2 .3 2 .3 2 .2 2 .3 2 .2 2 .2 2 .3 2 .2 2 .2 2 .1 2 .2 2 .2 2 .1 2 .1 2 .1 2 .1 2 0 2 .1 2 0 2 0 2-.1 2 0 2-.1 2-.1 2-.1 2-.1 2-.1 2-.1 2-.2 2-.1 2-.2 2-.2 2-.2 2-.3 2-.2 2-.3 2-.3 2-.3 2-.3 2-.3 2-.3 2-.3 2-.3 2-.3 2-.4 2-.3 2-.4 2-.3 2-.4 2-.4 2-.5 2-.4 2-.4 2-.5 2-.4 2-.5 2-.4 2-.5 2-.4 2-.4 2-.5 2-.4 2-.5 2-.5 2-.5 2-.5 2-.6 2-.6 2-.7 2-.6 2-.8 2-.7 2-.8 2-.7 2-.8 2-.7 2-.8 2-.7 2-.8 2-.7 2-.9 2-.8 2-.9 2-.9 2-.9 2-1 2-1 2-1 2-1 2-1 2-1 2-1 2-1 2-1 2-1 2-1 2-1 2-1.1 2-1 2-1.2 2-1.1 2-1.1 2-1.2 2-1.2 2-1.3 2-1.2 2-1.3 2-1.2 2-1.3 2-1.2 2-1.3 2-1.2 2-1.3 2-1.3 2-1.3 2-1.3 2-1.3 2-1.3 2-1.4 2-1.3 2-1.4 2-1.4 2-1.3 2-1.4 2-1.4 2-1.3 2-1.4 2-1.4 2-1.3 2-1.4 2-1.3 2-1.3 2-1.3 2-1.4 2-1.3 2-1.2 2-1.3 2-1.3 2-1.3 2-1.3 2-1.3 2-1.2 2-1.3 2-1.3 2-1.3" stroke="#0000ff" stroke-width="2" fill="none"/>
<path d="M165.5,643.6l2-1.1 2-1.2 2-1.1 2-1.1 2-1.2 2-1 2-1 2-1 2-.9 2-.8 2-.8 2-.7 2-.6 2-.6 2-.5 2-.5 2-.4 2-.4 2-.4 2-.4 2-.3 2-.2 2-.2 2-.1 2-.1 2 0 2 0 2 .1 2 .2 2 .3 2 .4 2 .4 2 .5 2 .5 2 .6 2 .7 2 .7 2 .8 2 .8 2 .8 2 .9 2 .9 2 .9 2 .9 2 .9 2 .9 2 .9 2 .9 2 1 2 1 2 1 2 1.2 2 1.1 2 1.3 2 1.3 2 1.3 2 1.5 2 1.4 2 1.5 2 1.4 2 1.5 2 1.5 2 1.4 2 1.5 2 1.5 2 1.4 2 1.5 2 1.5 2 1.5 2 1.5 2 1.5 2 1.5 2 1.4 2 1.5 2 1.4 2 1.4 2 1.4 2 1.4 2 1.4 2 1.3 2 1.4 2 1.3 2 1.4 2 1.3 2 1.2 2 1.2 2 1.1 2 1 2 1 2 .9 2 .9 2 .7 2 .7 2 .6 2 .5 2 .6 2 .4 2 .4 2 .4 2 .2 2 .2 2 .1 2 .1 2 0 2 0 2-.1 2-.2 2-.2 2-.3 2-.3 2-.3 2-.4 2-.4 2-.5 2-.5 2-.6 2-.6 2-.7 2-.7 2-.6 2-.7 2-.7 2-.7 2-.7 2-.8 2-.7 2-.8 2-.7 2-.8 2-.8 2-.8 2-.8 2-.8 2-.8 2-.8 2-.8 2-.7 2-.8 2-.7 2-.7 2-.6 2-.7 2-.6 2-.6 2-.7 2-.6 2-.6 2-.6 2-.6 2-.7 2-.6 2-.5 2-.6 2-.5 2-.5 2-.4 2-.4 2-.4 2-.4 2-.4 2-.3 2-.3 2-.3 2-.3 2-.2 2-.2 2-.2 2-.2 2-.1 2-.1 2 0 2-.1 2 0 2 .1 2 0 2 .1 2 .2 2 .1 2 .2 2 .1 2 .2 2 .2 2 .2 2 .2 2 .2 2 .2 2 .3 2 .3 2 .3 2 .4 2 .3 2 .4 2 .3 2 .4 2 .3 2 .4 2 .3 2 .4 2 .4 2 .3 2 .4 2 .4 2 .4 2 .4 2 .4 2 .4 2 .4 2 .4 2 .3 2 .4 2 .4 2 .4 2 .4 2 .4 2 .4 2 .4 2 .4 2 .4 2 .4 2 .4 2 .4 2 .4 2 .4 2 .4 2 .4 2 .4 2 .4 2 .4 2 .4 2 .4 2 .4 2 .4 2 .4 2 .4 2 .4 2 .4 2 .4 2 .4 2 .4 2 .4 2 .4 2 .4 2 .4 2 .4 2 .5 2 .4 2 .5 2 .5 2 .6 2 .5 2 .6 2 .7 2 .6 2 .6 2 .6 2 .6 2 .7 2 .6 2 .6 2 .6 2 .7 2 .6 2 .6 2 .7 2 .6 2 .7 2 .7 2 .7 2 .8 2 .7 2 .8 2 .8 2 .8 2 .8 2 .8 2 .8 2 .8 2 .8 2 .8 2 .8 2 .8 2 .8 2 .8 2 .8 2 .8 2 .8 2 .8 2 .8 2 .8 2 .8 2 .8 2 .8 2 .8 2 .8 2 .8 2 .8 2 .9 2 .8 2 .8 2 .8 2 .8 2 .8 2 .7 2 .8 2 .8 2 .7 2 .7 2 .7 2 .7 2 .7 2 .6 2 .7 2 .7 2 .6 2 .7 2 .6 2 .7 2 .6 2 .7 2 .7 2 .6 2 .7 2 .6 2 .6 2 .5 2 .6 2 .5 2 .5 2 .5 2 .4 2 .4 2 .4 2 .4 2 .5 2 .4 2 .4 2 .4 2 .4 2 .5 2 .4 2 .4 2 .4 2 .4 2 .4 2 .4 2 .4 2 .3 2 .3 2 .3 2 .3 2 .3 2 .2 2 .3 2 .2 2 .2 2 .3 2 .2 2 .2 2 .1 2 .2 2 .2 2 .1 2 .1 2 .1 2 .1 2 0 2 .1 2 0 2 0 2-.1 2 0 2-.1 2-.1 2-.1 2-.1 2-.1 2-.1 2-.2 2-.1 2-.2 2-.2 2-.2 2-.3 2-.2 2-.3 2-.3 2-.3 2-.3 2-.3 2-.3 2-.3 2-.3 2-.3 2-.4 2-.3 2-.4 2-.3 2-.4 2-.4 2-.5 2-.4 2-.4 2-.5 2-.4 2-.5 2-.4 2-.5 2-.4 2-.4 2-.5 2-.4 2-.5 2-.5 2-.5 2-.5 2-.6 2-.6 2-.7 2-.6 2-.8 2-.7 2-.8 2-.7 2-.8 2-.7 2-.8 2-.7 2-.8 2-.7 2-.9 2-.8 2-.9 2-.9 2-.9 2-1 2-1 2-1 2-1 2-1 2-1 2-1 2-1 2-1 2-1 2-1 2-1 2-1.1 2-1 2-1.2 2-1.1 2-1.1 2-1.2 2-1.2 2-1.3 2-1.2 2-1.3 2-1.2 2-1.3 2-1.2 2-1.3 2-1.2 2-1.3 2-1.3 2-1.3 2-1.3 2-1.3 2-1.3 2-1.4 2-1.3 2-1.4 2-1.4 2-1.3 2-1.4 2-1.4 2-1.3 2-1.4 2-1.4 2-1.3 2-1.4 2-1.3 2-1.3 2-1.3 2-1.4 2-1.3 2-1.2 2-1.3 2-1.3 2-1.3 2-1.3 2-1.3 2-1.2 2-1.3 2-1.3 2-1.3" stroke="#00ff00" stroke-width="1.9" fill="none" transform="translate(0.3,-0.3)"/>
<path d="M165.5,643.6l2-1.1 2-1.2 2-1.1 2-1.1 2-1.2 2-1 2-1 2-1 2-.9 2-.8 2-.8 2-.7 2-.6 2-.6 2-.5 2-.5 2-.4 2-.4 2-.4 2-.4 2-.3 2-.2 2-.2 2-.1 2-.1 2 0 2 0 2 .1 2 .2 2 .3 2 .4 2 .4 2 .5 2 .5 2 .6 2 .7 2 .7 2 .8 2 .8 2 .8 2 .9 2 .9 2 .9 2 .9 2 .9 2 .9 2 .9 2 .9 2 1 2 1 2 1 2 1.2 2 1.1 2 1.3 2 1.3 2 1.3 2 1.5 2 1.4 2 1.5 2 1.4 2 1.5 2 1.5 2 1.4 2 1.5 2 1.5 2 1.4 2 1.5 2 1.5 2 1.5 2 1.5 2 1.5 2 1.5 2 1.4 2 1.5 2 1.4 2 1.4 2 1.4 2 1.4 2 1.4 2 1.3 2 1.4 2 1.3 2 1.4 2 1.3 2 1.2 2 1.2 2 1.1 2 1 2 1 2 .9 2 .9 2 .7 2 .7 2 .6 2 .5 2 .6 2 .4 2 .4 2 .4 2 .2 2 .2 2 .1 2 .1 2 0 2 0 2-.1 2-.2 2-.2 2-.3 2-.3 2-.3 2-.4 2-.4 2-.5 2-.5 2-.6 2-.6 2-.7 2-.7 2-.6 2-.7 2-.7 2-.7 2-.7 2-.8 2-.7 2-.8 2-.7 2-.8 2-.8 2-.8 2-.8 2-.8 2-.8 2-.8 2-.8 2-.7 2-.8 2-.7 2-.7 2-.6 2-.7 2-.6 2-.6 2-.7 2-.6 2-.6 2-.6 2-.6 2-.7 2-.6 2-.5 2-.6 2-.5 2-.5 2-.4 2-.4 2-.4 2-.4 2-.4 2-.3 2-.3 2-.3 2-.3 2-.2 2-.2 2-.2 2-.2 2-.1 2-.1 2 0 2-.1 2 0 2 .1 2 0 2 .1 2 .2 2 .1 2 .2 2 .1 2 .2 2 .2 2 .2 2 .2 2 .2 2 .2 2 .3 2 .3 2 .3 2 .4 2 .3 2 .4 2 .3 2 .4 2 .3 2 .4 2 .3 2 .4 2 .4 2 .3 2 .4 2 .4 2 .4 2 .4 2 .4 2 .4 2 .4 2 .4 2 .3 2 .4 2 .4 2 .4 2 .4 2 .4 2 .4 2 .4 2 .4 2 .4 2 .4 2 .4 2 .4 2 .4 2 .4 2 .4 2 .4 2 .4 2 .4 2 .4 2 .4 2 .4 2 .4 2 .4 2 .4 2 .4 2 .4 2 .4 2 .4 2 .4 2 .4 2 .4 2 .4 2 .4 2 .4 2 .4 2 .5 2 .4 2 .5 2 .5 2 .6 2 .5 2 .6 2 .7 2 .6 2 .6 2 .6 2 .6 2 .7 2 .6 2 .6 2 .6 2 .7 2 .6 2 .6 2 .7 2 .6 2 .7 2 .7 2 .7 2 .8 2 .7 2 .8 2 .8 2 .8 2 .8 2 .8 2 .8 2 .8 2 .8 2 .8 2 .8 2 .8 2 .8 2 .8 2 .8 2 .8 2 .8 2 .8 2 .8 2 .8 2 .8 2 .8 2 .8 2 .8 2 .8 2 .8 2 .8 2 .9 2 .8 2 .8 2 .8 2 .8 2 .8 2 .7 2 .8 2 .8 2 .7 2 .7 2 .7 2 .7 2 .7 2 .6 2 .7 2 .7 2 .6 2 .7 2 .6 2 .7 2 .6 2 .7 2 .7 2 .6 2 .7 2 .6 2 .6 2 .5 2 .6 2 .5 2 .5 2 .5 2 .4 2 .4 2 .4 2 .4 2 .5 2 .4 2 .4 2 .4 2 .4 2 .5 2 .4 2 .4 2 .4 2 .4 2 .4 2 .4 2 .4 2 .3 2 .3 2 .3 2 .3 2 .3 2 .2 2 .3 2 .2 2 .2 2 .3 2 .2 2 .2 2 .1 2 .2 2 .2 2 .1 2 .1 2 .1 2 .1 2 0 2 .1 2 0 2 0 2-.1 2 0 2-.1 2-.1 2-.1 2-.1 2-.1 2-.1 2-.2 2-.1 2-.2 2-.2 2-.2 2-.3 2-.2 2-.3 2-.3 2-.3 2-.3 2-.3 2-.3 2-.3 2-.3 2-.3 2-.4 2-.3 2-.4 2-.3 2-.4 2-.4 2-.5 2-.4 2-.4 2-.5 2-.4 2-.5 2-.4 2-.5 2-.4 2-.4 2-.5 2-.4 2-.5 2-.5 2-.5 2-.5 2-.6 2-.6 2-.7 2-.6 2-.8 2-.7 2-.8 2-.7 2-.8 2-.7 2-.8 2-.7 2-.8 2-.7 2-.9 2-.8 2-.9 2-.9 2-.9 2-1 2-1 2-1 2-1 2-1 2-1 2-1 2-1 2-1 2-1 2-1 2-1 2-1.1 2-1 2-1.2 2-1.1 2-1.1 2-1.2 2-1.2 2-1.3 2-1.2 2-1.3 2-1.2 2-1.3 2-1.2 2-1.3 2-1.2 2-1.3 2-1.3 2-1.3 2-1.3 2-1.3 2-1.3 2-1.4 2-1.3 2-1.4 2-1.4 2-1.3 2-1.4 2-1.4 2-1.3 2-1.4 2-1.4 2-1.3 2-1.4 2-1.3 2-1.3 2-1.3 2-1.4 2-1.3 2-1.2 2-1.3 2-1.3 2-1.3 2-1.3 2-1.3 2-1.2 2-1.3 2-1.3 2-1.3" stroke="#ee0a00" stroke-width="1.5" fill="none"/>
<path d="M270.6,603.5 v10 M270.6,762.4 v-10 M565.5,603.5 v10 M565.5,762.4 v-10 M860.4,603.5 v10 M860.4,762.4 v-10 M165.5,672.3 h10 M1154.5,672.3 h-10 M165.5,741.4 h10 M1154.5,741.4 h-10" stroke="#262626" stroke-width="1.1" fill="none"/>
<rect x="165.5" y="603.5" width="989.0" height="158.9" fill="none" stroke="#262626" stroke-width="1.1"/>
<text font-size="21" text-anchor="end" fill="#262626" textLength="11.5" lengthAdjust="spacingAndGlyphs" x="156.0" y="610.4" >6</text>
<text font-size="21" text-anchor="end" fill="#262626" textLength="11.5" lengthAdjust="spacingAndGlyphs" x="156.0" y="678.5" >4</text>
<text font-size="21" text-anchor="end" fill="#262626" textLength="11.5" lengthAdjust="spacingAndGlyphs" x="156.0" y="747.9" >2</text>
<path d="M169.2,586.6 L179.2,596.8 M179.2,586.6 L169.2,596.8" stroke="#262626" stroke-width="1.15" fill="none"/>
<text font-size="20.3" text-anchor="start" fill="#262626" textLength="24.3" lengthAdjust="spacingAndGlyphs" x="184.4" y="597.0" >10</text>
<text font-size="13.6" text-anchor="start" fill="#262626" textLength="9.0" lengthAdjust="spacingAndGlyphs" x="211.6" y="588.9" >4</text>
<path d="M270.6,837.5 V998.8 M565.5,837.5 V998.8 M860.4,837.5 V998.8 M165.5,918.4 H1154.5" stroke="#dfdfdf" stroke-width="1" fill="none"/>
<path d="M165.5,867l1 .8 1 .1 1 .2 1 .2 1 1.2 1-.7 1 1.1 1 .5 1 .7 1 .9 1 .6 1 .2 1 .9 1 .3 1 .3 1 .1 1 .8 1 .7 1 0 1 .8 1-.3 1 1 1 .9 1-.4 1 .9 1 .7 1-1.4 1 2.6 1-2 1 1.6 1 1.2 1-.4 1 2.1 1-.2 1 1.3 1 .4 1 .5 1 1.1 1 .1 1 1.3 1-.4 1 1.4 1-.8 1 1.9 1 .6 1 .5 1 1.4 1 .9 1 .7 1-.3 1 1 1-.9 1 2 1 1.5 1 .5 1 .7 1 1.4 1 .8 1 .1 1 1 1 1 1 .6 1 1.5 1 .9 1-.1 1 .5 1 2 1 .8 1-.7 1 1.1 1 2 1 1 1 .4 1 .9 1 .6 1 1 1 1.4 1 .4 1 .7 1-.1 1 1.9 1 .7 1 1 1 2 1 .8 1 .8 1 1.1 1 .8 1 .1 1 1.7 1 .5 1 1.4 1 0 1 .1 1 1.9 1 2.1 1 .4 1 1.6 1 .4 1 .6 1 1.6 1 .2 1 1.6 1 .8 1 1.7 1 1 1 .5 1-.4 1 1.4 1 .6 1-.1 1 2.2 1 .5 1 1 1 .3 1 1.2 1 .6 1 .7 1 .9 1 .8 1-.3 1 2.1 1 .1 1 .5 1 .3 1-.9 1 .1 1 1.6 1-.5 1 1.3 1 0 1 .1 1 .6 1 .1 1-1.7 1 1.2 1 .8 1 .3 1-.6 1 .4 1-.5 1-.6 1-.3 1 .4 1-1.1 1 1 1-1 1 .8 1 0 1-.8 1-1 1 .2 1 .1 1-1.8 1 .6 1-3.3 1-.4 1-.2 1 .8 1-.3 1-.7 1-1.4 1-1.1 1 .1 1-.5 1-.7 1-1.3 1-.8 1-.5 1-1.2 1-.8 1-1 1-2.1 1-.3 1-.4 1-.7 1-1 1-.5 1-1.4 1-.7 1-.9 1-1.6 1-1.5 1-1.2 1-.6 1-.6 1-1.7 1-.7 1-.8 1-.7 1-1.8 1-1.2 1-.9 1-1.2 1-.9 1-1.2 1-1.6 1 .1 1-1.8 1-.8 1-.1 1-.9 1-.9 1-.8 1-.7 1-1.5 1 0 1 .8 1-1.4 1 0 1-.5 1-1.3 1-1.4 1-1.3 1 .3 1 .3 1-.6 1-.8 1-.9 1 0 1-.6 1-1.8 1-1.2 1 .3 1 0 1 0 1-2.2 1 .5 1-.1 1-.9 1 0 1-.3 1-.5 1 .4 1-.8 1 .3 1-.1 1-.7 1-.7 1 .7 1-.2 1-.9 1-.9 1 .2 1 .9 1 0 1-.9 1 .2 1 .5 1 .1 1 1.2 1 .2 1-.6 1 .6 1 .4 1 0 1-.6 1 1.3 1 .1 1 .1 1 .1 1 .3 1 .3 1-.5 1 1.1 1-.1 1 .3 1-.4 1-.2 1 0 1 2 1-.1 1 .5 1 .1 1 .1 1-1.7 1 .6 1 .5 1-.5 1 1.2 1 0 1-.1 1-.2 1 .4 1-.9 1 .8 1-.2 1-.2 1-.9 1 0 1-.2 1 .6 1-1 1 .6 1-1 1 1.2 1-.5 1-.1 1-.1 1-1 1 .4 1 .1 1-.9 1 0 1-.5 1 .4 1-.9 1-.2 1 .9 1-1.4 1 .8 1 .3 1-.5 1-.3 1-.8 1 .3 1 .5 1-1.3 1 .2 1-.5 1 .2 1-.1 1 .1 1 .2 1-.2 1 .3 1-.9 1-.5 1 .6 1-.5 1 0 1-.4 1-.6 1-.9 1 .2 1 .5 1-.6 1-.4 1 .2 1-.9 1 .9 1-1.7 1 .3 1 1.3 1-.2 1-.4 1-.3 1 .2 1-.3 1 .7 1 .4 1-.6 1 1 1-1.4 1 .9 1-.5 1-.2 1 1.6 1 0 1 .5 1 .1 1-.9 1 .3 1 .1 1-.6 1-.4 1-1.7 1-.1 1 1 1-.7 1-1 1 .1 1-.3 1-.3 1-1 1-.3 1 0 1-.9 1-.4 1-.7 1 .1 1-.2 1-.3 1 .7 1-1.6 1 .1 1 .5 1-.7 1-1.5 1 1.2 1 .4 1 .3 1-1 1-.6 1 .3 1 1.6 1 .3 1 .3 1-.2 1-.5 1 1 1 .4 1 .3 1-.1 1 .1 1 .8 1 0 1 .3 1 0 1 0 1-.1 1 1.3 1 .1 1 .6 1-.1 1 .2 1 .6 1-.3 1 1 1 .4 1-.1 1-.8 1-.8 1 .8 1 .9 1 1.7 1 .3 1 .1 1 .4 1 .2 1-.5 1-.2 1-.2 1 .1 1 1 1-.2 1-1 1 .5 1 1.5 1-.3 1 .4 1 .6 1 .9 1-.4 1 .3 1-.4 1-.2 1 .7 1 1.3 1 .2 1 .1 1 1.2 1 .8 1 .5 1 .2 1 1 1-.3 1 1.8 1 .6 1 1 1 .9 1 0 1 1.4 1 1.4 1 1.2 1 1.4 1 .3 1 2.2 1 2.3 1 .7 1 1.8 1 .7 1 .6 1 1.6 1 .5 1 .9 1 .2 1-.5 1 1 1 1.7 1 .7 1 .2 1-.2 1 .8 1-1.1 1 .9 1-1.2 1 .9 1-.6 1-.4 1 .3 1 0 1-.7 1-.1 1-1 1 .6 1 .2 1-1 1-.8 1-.2 1 .5 1 .4 1-.4 1-.9 1-.1 1-.8 1-.1 1-.6 1 .2 1 0 1 .2 1-.1 1-.3 1-1.6 1 1 1-.8 1 .3 1 .5 1-1 1-.6 1 .5 1-.1 1 .3 1-.8 1 0 1 0 1 0 1 0 1-.1 1-1.3 1-.1 1 .5 1-.5 1 .1 1 .3 1-.2 1-.1 1-.1 1-.3 1-1.3 1-2.1 1 1.5 1 .5 1-.4 1 .6 1 .1 1-.9 1 .5 1-.1 1 0 1-1.3 1-.1 1 .7 1-.7 1-.5 1-.8 1 .7 1 .8 1-.2 1-.3 1 .2 1-1.1 1 .4 1-.1 1-.8 1-.9 1 .4 1-.4 1 1.1 1-.8 1 .2 1 .5 1-.6 1-1.2 1 .1 1 .4 1-.7 1 1.1 1 .4 1-1.2 1-.1 1 .8 1 0 1 .3 1-.9 1-.4 1 .2 1 .7 1-2.1 1 1 1 .9 1-.3 1-.8 1 1.1 1-.8 1 .5 1-.5 1 .5 1-.7 1 .4 1 0 1-.2 1 0 1-.5 1 .1 1 .2 1 .4 1-.2 1-.1 1-.1 1-.3 1 .2 1 0 1 .2 1 0 1-.5 1 .4 1-.2 1 0 1-.9 1 .1 1 .3 1 .6 1-.6 1 .3 1-.9 1 1 1-.9 1 .4 1-.1 1-.4 1-1.4 1-.5 1 1.1 1 1.2 1-.4 1-.4 1-.5 1 .1 1 1.3 1-.1 1-.1 1 .2 1-.1 1-1.3 1 1.2 1-.6 1-1.5 1 1.2 1 .7 1 .3 1-.3 1 .2 1-.3 1-.9 1 .6 1-.4 1 .4 1-.3 1-1.9 1 1.3 1 1.3 1-.2 1-1.1 1 .1 1 1.1 1-1.3 1 1.2 1-1 1 1.2 1-.1 1 .1 1 .1 1-.2 1 .2 1-.7 1 .5 1-.4 1-.4 1-.8 1 .7 1 .5 1 .2 1-.2 1-.2 1-.4 1 .3 1-.5 1 .4 1-.4 1 .9 1 .3 1-.5 1-.1 1 .4 1 .3 1-.2 1-.1 1-.3 1-.3 1 .6 1-.9 1 .4 1-.7 1 .6 1 .5 1-.4 1 0 1 .1 1-.9 1-.2 1 .9 1 0 1 .5 1-.1 1-.4 1 .1 1 .2 1-.7 1 .4 1 .1 1 .1 1-.2 1-.3 1 .5 1-1.9 1 1.6 1-1.1 1 1.4 1-.4 1-.4 1-.1 1 .6 1-.4 1 .5 1-.5 1-1.1 1 1.3 1-.3 1-.3 1 .3 1-.1 1 .3 1-.4 1 .1 1-.8 1 .6 1-.4 1 0 1 .7 1-.6 1-.1 1-.1 1-.1 1 1.2 1-.9 1-.4 1 1 1-.1 1 0 1-.7 1 1 1-.4 1-.2 1-.5 1-.1 1-.1 1 .6 1 .4 1-.2 1-.2 1 .5 1-.7 1 .1 1-.5 1 .1 1 .8 1-.8 1 .4 1-.7 1 .7 1-.6 1 .5 1-.3 1-1.4 1 1 1-.7 1 .3 1-.5 1 .6 1 .1 1 .2 1-.6 1-.2 1 0 1-.6 1 .8 1-2 1 1.6 1 .3 1-.8 1-.4 1 .2 1 .3 1 .2 1-.7 1 .6 1-.3 1-.4 1-1.3 1-.4 1 1.1 1-.2 1 1.2 1-.2 1-1.2 1-.9 1 .5 1 .6 1 .2 1-.3 1-.9 1 .7 1-2 1 1.8 1 .5 1-.9 1-.8 1 0 1 .5 1 .5 1 .8 1-1 1 .3 1 .2 1-.9 1-.2 1 1.5 1-.6 1 .3 1-.3 1 .3 1-.2 1-.6 1 .8 1-.8 1-.4 1 .5 1-.4 1 .8 1-1.1 1-.2 1-.9 1 .8 1 .5 1 .4 1-.4 1 .3 1-.6 1 .5 1-.6 1-.5 1 1 1-1.3 1 .3 1 .2 1 .4 1 .3 1-1.1 1 .5 1 .4 1-.8 1-.5 1 .8 1-.1 1 .2 1-.7 1 .6 1-1.7 1-.2 1 1.4 1-.1 1-.3 1 .3 1 0 1-.4 1 .2 1 0 1-.6 1 1.1 1-.7 1-.1 1-.6 1 .4 1 .3 1 .6 1-.2 1 .4 1-.1 1-.4 1 .3 1-.4 1 .4 1 .1 1 .3 1-.3 1 .3 1-.7 1-.2 1 .7 1 0 1-.2 1-1.2 1 1.1 1-1.7 1 .9 1-.8 1 .4 1 0 1-.4 1 .3 1-.3 1 .2 1 .2 1-.3 1-1.8 1-.2 1 .2 1-.3 1 .7 1-.1 1-.5 1-1.4 1 .4 1 .2 1-1.2 1-.2 1 .4 1-.6 1 0 1-.2 1-.9 1-.6 1-1 1-.7 1-.1 1-.2 1-.7 1 .1 1 .1 1-.4 1-.2 1-.6 1 .1 1-.4 1 .3 1 1.3 1-.1 1 1.1 1-.1 1-.1 1 2.3 1 .8 1 .8 1 .8 1-.7 1 1 1 .4 1-.6 1-.2 1 .6 1-.2 1-.6 1 0 1-.8 1-1.9 1-.2 1 .4 1-.8 1-1 1-1 1-.4 1-.7 1-.7 1-.6 1-1 1-.6 1-.8 1-2.6 0 12.2-1 .3-1 .2-1 1-1 .8-1 .7-1 .5-1 1.1-1-.2-1 1.4-1 .6-1 .1-1 .5-1 1.8-1-.4-1 .1-1 .3-1 .4-1 .8-1 .5-1-.8-1-.7-1-.7-1-.7-1 .2-1-.8-1 0-1-.3-1-1.1-1-.4-1-.1-1-.3-1-.4-1 .6-1-.4-1-.8-1 .4-1 .4-1 .2-1 .3-1 1-1 .5-1 .8-1 0-1 1-1 .7-1 .4-1 .3-1 .6-1 .7-1 1.4-1-.2-1 .8-1 1-1-.7-1 .8-1 .4-1 .3-1 .3-1 0-1 .5-1-.5-1 .3-1 .4-1 .1-1-.3-1 .9-1 1.2-1-.2-1 0-1-1-1 .4-1-.4-1 .4-1-.5-1 .6-1 .1-1 .5-1-.5-1-.4-1 .6-1 .2-1-.9-1 1.3-1-.6-1-.9-1 .1-1 .5-1-.2-1 1-1-.3-1 0-1-.2-1-1-1 .5-1 .8-1-.5-1-.3-1-.7-1 .6-1 0-1 .6-1-.7-1 .3-1 .5-1-.1-1-.3-1 .1-1-.4-1 .2-1-.4-1 0-1 1.3-1-.3-1-.4-1-.5-1 .8-1-.2-1-.2-1 .9-1-.5-1 .1-1-.3-1 .2-1 .4-1 1.8-1 .1-1-1.9-1 1.2-1-.1-1-1.2-1 .4-1-.1-1 .3-1 .2-1-.8-1 .7-1-.1-1 .8-1-.7-1 1.2-1 .3-1-1.7-1 .8-1-.1-1-.3-1-.3-1 .2-1 .2-1 .2-1-.4-1 .4-1 .1-1-.3-1 .9-1-.7-1-.1-1 .9-1-.4-1 .6-1-.2-1-.6-1 1-1-.5-1 .8-1-1.3-1 1.6-1-1.2-1 1.5-1-.4-1-1-1 1.6-1-.3-1-.8-1 0-1 0-1-.4-1 .4-1-.2-1 .6-1 .5-1 .8-1-1.5-1 .4-1-.3-1 .3-1 0-1-.1-1 .1-1 .1-1 .1-1-.2-1 1.7-1-.9-1 .6-1 0-1-.8-1 .1-1 .7-1 0-1 .3-1-.3-1-.5-1 .6-1-.2-1 .6-1-.1-1-.6-1 .4-1 .2-1 0-1-.1-1 .2-1 .5-1-.5-1-.1-1 .1-1 .7-1-.2-1-.4-1 1.1-1 .1-1-.7-1 .2-1-.3-1 0-1 0-1 .5-1-.5-1 1.3-1-.3-1-.9-1 .7-1-.3-1-.3-1-.4-1 .2-1 .6-1 .6-1-.8-1-.3-1 .2-1-.2-1 .8-1-.6-1-.2-1-.1-1 1.1-1-.4-1-.7-1 1.3-1-.4-1-.2-1 .1-1-.4-1 .1-1-.4-1 .1-1 1.5-1-.7-1-.9-1 .1-1 .1-1 .1-1 .6-1-.8-1 .8-1-.3-1-.4-1 .3-1-.1-1-.1-1 .6-1-.4-1 1.3-1-1.2-1 .9-1-.9-1 .2-1-.4-1 0-1 1.5-1-1.4-1 .8-1-.8-1 .7-1-.7-1 1.2-1-.9-1 0-1 .9-1-.7-1 1.3-1-1.4-1 .4-1-.4-1 .3-1 .2-1-.4-1 .3-1-.1-1 .2-1-.5-1-.2-1 .1-1 .1-1 .1-1 0-1-.1-1-.2-1 0-1 1-1 .1-1-.9-1-.1-1 0-1 .6-1-.5-1 .4-1-.5-1 .3-1 .5-1-.2-1-.1-1-.1-1 .8-1-1.1-1 .5-1-.4-1 1-1-.4-1-.4-1 .6-1 1.3-1 .4-1-.5-1-1.2-1-.5-1 .6-1-.6-1 .1-1 .7-1-.3-1-.5-1 .3-1-.2-1-.1-1 .2-1-.2-1 .9-1-.7-1 1.6-1-.7-1-.1-1-.4-1 1.2-1 1-1-.9-1-.9-1-.2-1-.2-1 .2-1 .1-1 0-1-.3-1-.1-1 .2-1 .3-1 .7-1 .3-1-1.2-1 .8-1-.3-1 .6-1 .1-1-1-1 .4-1-.2-1 .1-1 .1-1 .3-1 .6-1-1.1-1 1.9-1-1.7-1 1.2-1-.1-1 .5-1-1.3-1 1.2-1-.7-1 .2-1-.3-1 .4-1-.3-1 .4-1-.1-1 .4-1 1.1-1 .4-1-1.7-1 .1-1 .7-1-.7-1 .6-1 .2-1 0-1 1.2-1-.8-1 .1-1-.2-1 .3-1 .1-1-.9-1 .1-1 0-1 .1-1 .4-1-.1-1 .5-1 .8-1 0-1-.2-1 .8-1 1-1-1.3-1 .8-1 .9-1 0-1-.9-1 0-1-.2-1 .2-1 1.6-1 .2-1-.9-1 .5-1 .1-1 .4-1 .2-1-.6-1 0-1 .4-1 .7-1 .7-1-.7-1 .3-1 .4-1-.6-1 .9-1-.5-1 .7-1-.1-1 .7-1 1.1-1-1.6-1 .7-1-.2-1 .8-1-.8-1 .7-1-.4-1 .9-1-.4-1 .3-1-.1-1 .7-1-.6-1 .9-1 .8-1 .3-1-1.4-1 .1-1 .7-1 0-1 .5-1-.6-1 1.9-1-1.1-1 0-1 0-1 1.4-1-.7-1 .1-1 .1-1 1.5-1-.5-1 .1-1 .7-1 .1-1 .3-1 .2-1 .1-1 .8-1 0-1-.5-1 .8-1 .6-1-1-1 1-1 .7-1-1.7-1 .7-1-.3-1 1-1-.3-1-.2-1-.3-1-1.1-1 .6-1-.8-1-1.5-1-.7-1-.7-1-.5-1-.1-1-.3-1-1.9-1-1.7-1-1.1-1-.4-1-2.3-1-1.4-1-.7-1-.5-1-2.6-1 .3-1-2.4-1-1.5-1-.9-1-.4-1-1.2-1-.1-1 0-1-1.1-1-.5-1-.6-1-.6-1-1.6-1 .3-1-.7-1-.2-1-1.1-1-.2-1 1.8-1 .1-1-2.3-1-.4-1 0-1-.1-1-.1-1 1.1-1-1.3-1-.5-1 .6-1-.8-1-.3-1 .7-1-1.4-1 .2-1-.6-1 .1-1-.7-1 1-1-.8-1-.5-1-.2-1-.2-1-.9-1-.1-1 .8-1-1.3-1 .4-1-1.4-1 .4-1-1-1-.2-1 .3-1-.6-1-.5-1-.3-1 .3-1-1-1 .9-1-1.2-1 .4-1-.8-1 0-1 0-1-.6-1 .9-1-1.5-1-.4-1-.1-1 .3-1 .8-1-1-1-.4-1-.2-1 .6-1-.4-1 1.8-1-1.4-1 .1-1 1.1-1-.3-1 1.2-1-.2-1-.8-1 1.5-1-1-1 .7-1-.1-1 .7-1 1.2-1-.5-1 .6-1 .1-1 .7-1 .4-1 .2-1 1.3-1-.1-1 1.4-1 .8-1-.1-1-1-1 .7-1 .8-1-.2-1-.4-1-.6-1-.7-1 .2-1 .1-1-.2-1 .8-1-1.5-1 1.6-1-.9-1-1-1 .6-1 .1-1-.2-1-.8-1 .3-1-.1-1 .3-1 .3-1 0-1 .2-1 0-1 .4-1 .1-1 .7-1-.5-1 .5-1 0-1 .1-1 .3-1 .6-1 0-1 .8-1-.6-1 .1-1 .1-1 .3-1 1.7-1 .3-1-1.1-1 .4-1-.7-1 .9-1-.1-1-.2-1 .3-1-.1-1 .1-1 0-1 .4-1-.1-1 .9-1 0-1-.4-1 .2-1 .3-1 .2-1 .8-1-.6-1 1-1-.6-1 1.5-1-1.3-1 0-1 1-1-.5-1 .4-1 .4-1-.4-1 .2-1 .2-1 0-1-.1-1 1.3-1-.9-1-.1-1 .1-1 .2-1 .4-1-.5-1 .4-1-.1-1-.4-1 .7-1-.5-1 .2-1 .1-1-1.2-1 .6-1-.8-1-.9-1-.1-1 .1-1 .5-1-1-1 .1-1-.7-1 .7-1-1.2-1 .2-1-.8-1 .3-1-.5-1 1.6-1-.7-1-1.4-1-.6-1 0-1-.3-1-.4-1 .1-1-.4-1 .8-1-1.3-1 .5-1 0-1 1.9-1 0-1-1.3-1 .8-1 1.4-1-1.2-1 0-1 .9-1-.2-1-.7-1 1-1 .2-1-.4-1 1.4-1-.2-1 .3-1-.2-1 1.5-1-.3-1 1.6-1 .7-1-.7-1 .8-1 .5-1 .9-1 .3-1 1.4-1-.3-1 .9-1 2.4-1-.7-1 0-1 .5-1 .9-1 .3-1 1.1-1 1.2-1-.2-1 .6-1 1.2-1-.1-1 .9-1 .2-1 .6-1 1.1-1 1.9-1 .2-1 .9-1 1.7-1 0-1 1.5-1 1.3-1 1.7-1 2.7-1-.4-1-.1-1 2-1 1.1-1 .7-1 1.6-1 .9-1 1.5-1-.1-1 1.2-1 1-1 1-1 .5-1 1.4-1 .8-1 2-1-.2-1 .9-1 .9-1 1.4-1 .3-1 1.8-1 1.2-1 1.1-1-.9-1 1.8-1 .1-1 .4-1 .8-1 .8-1 .4-1 .8-1 1-1 .9-1 0-1 1.8-1 .7-1-.6-1 .5-1 .7-1 0-1 .2-1-.1-1 .3-1 .5-1 .6-1-.6-1 0-1 .1-1 .3-1 .4-1 .4-1-.6-1 1-1-.3-1-1-1 .6-1-.9-1 .5-1-1.3-1 .3-1 1.6-1-2.7-1 1.4-1-1.4-1-.1-1-1.2-1-.2-1-.6-1-1-1-.3-1-.1-1-1.6-1 0-1-1.1-1-1.2-1-.4-1 .6-1-.1-1-1.8-1-1.5-1-.5-1-.1-1-1.5-1-1.5-1-.6-1-1.3-1-1.1-1-1.1-1 .1-1-2.1-1-1-1-.7-1-1.4-1-1-1-.3-1-.9-1-.1-1-1.9-1-1.4-1-.9-1-.7-1-1.4-1-.2-1-1.6-1-.5-1-.4-1-1.7-1-.6-1-.7-1-.6-1-1.7-1-.7-1-1-1-.4-1-.7-1-.3-1-1.9-1-.5-1-1.2-1-.5-1-.5-1-1.4-1-.2-1-1.5-1-.8-1 .1-1 0-1-1.3-1-1.3-1-1.2-1-.6-1-.2-1-1.2-1-.5-1-.8-1-.8-1-1.2-1-.1-1-.2-1-1.4-1-.2-1-.7-1-.9-1-1.1-1-.5-1-.7-1-.5-1-.1-1-.5-1-1.2-1-.9-1 .9-1-1.7-1-.6-1-.1-1-.8-1 1-1-1.1-1-1.5-1-.5-1-.8-1 .4-1-.5-1-1.1-1-.5-1-.5-1 .9-1-.6-1-1.5-1-.2-1-1-1-.4-1 .2-1-.6-1-.6-1 .4-1-.7-1 .2-1-.8-1-1-1 .6-1-1.6-1 0-1-.5-1-.7-1-1-1 1.2-1-.3-1-1.1z" fill="#0000ff"/>
<path d="M165.5,855.5l1 .3 1 .6 1 .5 1 .4 1 .7 1 .8 1 .2 1 .9 1 .3 1 .8 1 .4 1 .4 1 .5 1 .3 1 .2 1 .6 1 .3 1 .5 1 .2 1 .3 1 .5 1 .5 1 .4 1 .3 1 .3 1 1.2 1 .6 1 .5 1 1 1 .7 1 .4 1 .7 1 .8 1 .5 1 .8 1 .8 1 1.1 1 .6 1 .8 1 1.1 1 .9 1 .7 1 .7 1 1.2 1 1.1 1 1 1 .8 1 1.1 1 .8 1 .9 1 .8 1 1 1 .7 1 1.2 1 1 1 1.1 1 1.1 1 1 1 .8 1 1.1 1 1 1 1 1 1 1 .8 1 .6 1 1.2 1 1.2 1 1.1 1 1.1 1 .9 1 .7 1 1.4 1 1.2 1 .8 1 1.1 1 1.1 1 1.5 1 1.3 1 1.3 1 1.1 1 1.1 1 1.3 1 1.1 1 1.3 1 .7 1 1.7 1 1.2 1 1.1 1 1.2 1 1 1 1.4 1 1.3 1 .8 1 1 1 1.3 1 1.3 1 1.1 1 1.1 1 1 1 1.3 1 1.3 1 1.1 1 1.1 1 1.2 1 1 1 .9 1 .9 1 1.3 1 1.1 1 .8 1 .8 1 .5 1 1.1 1 .7 1 .5 1 .9 1 .4 1 1.2 1 .5 1 .8 1 .5 1 .9 1 .6 1 .7 1 .5 1 .2 1 .2 1 .5 1 .2 1 .1 1 .4 1 0 1 .3 1 .1 1 0 1 .5 1 .1 1 0 1-.3 1-.1 1-.1 1 .2 1-.4 1-.3 1-.1 1-.1 1-.3 1 .2 1-.4 1-.2 1-.5 1-.4 1-.2 1-.7 1-1 1-.3 1-.9 1-.6 1-1 1-.6 1-.4 1-.8 1-.6 1-.6 1-.7 1-.8 1-.8 1-1.1 1-.8 1-.9 1-1.1 1-.8 1-.9 1-1.2 1-.9 1-1.1 1-1.1 1-.8 1-1.3 1-.7 1-.9 1-1.4 1-1.1 1-.8 1-1.1 1-1.1 1-1 1-1.3 1-1.1 1-1.2 1-1.2 1-1.3 1-.9 1-1.3 1-.8 1-1.1 1-1.1 1-1.1 1-.9 1-1.2 1-.7 1-.4 1-.6 1-.5 1-.9 1-.4 1-.7 1-.7 1-.8 1-.5 1-.8 1-.6 1-.7 1-.6 1-.6 1-.8 1-.5 1-.7 1-.7 1-.4 1-.4 1-.8 1-1 1-.3 1-.7 1-.3 1-1 1-.5 1-.2 1-.3 1-.4 1-.1 1-.3 1-.2 1-.3 1-.6 1-.3 1 0 1-.3 1-.2 1-.2 1-.2 1-.2 1-.3 1 0 1-.5 1 .1 1 .2 1 .5 1-.3 1 .4 1 .2 1 .3 1 .1 1-.3 1-.4 1 .4 1 .9 1 .1 1 .1 1 .1 1 .2 1 .2 1-.5 1 .1 1 0 1 .4 1 .1 1 0 1 .3 1 .1 1 .4 1-.1 1 0 1 0 1 .3 1-.1 1 .1 1-.3 1-.3 1-.3 1 0 1 0 1-.3 1-.3 1-.2 1 0 1-.4 1 0 1-.3 1-.2 1-.1 1-.3 1-.1 1-.3 1-.1 1-.2 1-.1 1-.2 1-.2 1-.2 1-.3 1 0 1-.3 1-.1 1-.5 1-.2 1-.3 1 .1 1-.1 1 .2 1-.2 1-.3 1-.1 1 0 1-.3 1 0 1-.2 1-.2 1-.1 1 0 1-.2 1-.1 1 0 1-.5 1 0 1-.3 1-.6 1 .2 1-.2 1 0 1-.7 1 .1 1-.1 1-.2 1-.3 1-.4 1-.3 1-.1 1-.4 1 0 1 0 1 0 1 0 1 0 1 .1 1 0 1-.1 1 .3 1 .1 1 .2 1 0 1-.2 1 .1 1 .6 1-.1 1 0 1 .1 1 .1 1 .3 1 .2 1-.2 1-.3 1 .1 1-.4 1-.7 1 0 1-.6 1-.3 1-.6 1-.5 1-.1 1-.7 1-.4 1-.4 1-.6 1-.5 1-.1 1-.1 1-.4 1-.3 1-.5 1 0 1-.3 1-.2 1-.2 1-.1 1-.3 1-.3 1-.1 1-.1 1-.2 1-.1 1 .1 1-.1 1 0 1 0 1 .6 1 .4 1 .5 1-.1 1 .1 1 .4 1 .2 1 .2 1 .2 1 .5 1 .2 1 .1 1 .1 1 0 1 .9 1 .7 1-.3 1 .7 1 .5 1 .2 1 0 1 .4 1 .3 1 .1 1 .3 1 .4 1 .4 1 .4 1 .3 1 .1 1 .2 1 .4 1-.2 1 .6 1 .3 1 .2 1 0 1 .1 1 .5 1 .1 1 .2 1 .2 1 .3 1 .1 1 .1 1 .4 1 .2 1-.1 1 .2 1 .2 1 .5 1 .4 1 .2 1 .5 1 .8 1 .7 1 .7 1 .5 1 .5 1 .6 1 .8 1 .8 1 .7 1 .9 1 1.4 1 1 1 1.4 1 1.1 1 1.1 1 1.4 1 1.4 1 1.7 1 .9 1 1.1 1 1.4 1 1.3 1 1.1 1 .7 1 .5 1 .7 1 .5 1 .7 1 .4 1 .7 1 .4 1 .1 1 0 1 0 1 0 1-.2 1-.5 1 0 1-.3 1-.1 1-.2 1 .1 1-.3 1 .1 1-.4 1 0 1-.4 1-.4 1 .1 1-.8 1-.3 1-.4 1 .1 1 .4 1-.8 1-.2 1-.3 1 .3 1 0 1-.2 1 0 1-.1 1 0 1-.2 1 .1 1-.2 1 0 1-.3 1 0 1 .2 1-.2 1-.1 1-.2 1 0 1 .2 1-.2 1 0 1-.2 1-.1 1 0 1 .1 1-.1 1-.1 1-.1 1-.3 1-.1 1-.1 1-.2 1-.2 1-.1 1 .2 1-.5 1 .1 1-.2 1 .2 1-.1 1-.1 1-.4 1-.1 1-.1 1-.4 1 0 1 0 1 0 1-.1 1 .1 1-.3 1-.3 1 .1 1 .1 1-.4 1 .2 1-.1 1-.2 1-.2 1-.1 1-.4 1 0 1 0 1 0 1-.2 1-.2 1 0 1-.4 1-.1 1 .2 1 .2 1 .1 1-.1 1-.1 1-.2 1-.2 1 .1 1 .2 1 0 1-.1 1-.2 1 .1 1-.1 1-.1 1-.4 1 .2 1 .2 1 .1 1-.1 1-.2 1 .2 1-.2 1-.1 1-.1 1 0 1-.3 1 .3 1 0 1-.1 1-.3 1-.3 1 0 1 .3 1 .1 1 .1 1-.4 1 .1 1-.1 1 .3 1 0 1 0 1-.3 1 .2 1-.1 1-.3 1 .5 1-.3 1-.4 1 .5 1 0 1-.6 1 .2 1 .1 1 .3 1-.1 1 .1 1-.1 1-.1 1-.1 1-.3 1 .5 1-.2 1 .3 1-.1 1-.2 1 .3 1-.3 1 .1 1-.1 1 .1 1 0 1 0 1 0 1-.1 1 .1 1-.2 1 .2 1 .1 1-.3 1 .1 1-.1 1 .1 1 .2 1-.4 1 0 1 .3 1 .2 1-.1 1 0 1 0 1-.1 1-.3 1 .3 1 .3 1-.3 1 .1 1 .2 1-.1 1 .1 1-.2 1 .1 1 .1 1-.2 1 .2 1 .1 1-.1 1-.1 1 .1 1-.3 1 .2 1 .2 1 0 1 .1 1-.1 1-.1 1-.2 1 .1 1 .1 1-.2 1 0 1 .1 1 .2 1 .3 1 .1 1-.1 1-.1 1 .2 1-.1 1-.4 1 .1 1 0 1 .4 1 .1 1 0 1 .1 1 0 1 .3 1 .1 1 0 1 0 1 .1 1-.1 1 .2 1 0 1 0 1-.1 1 .3 1 0 1 0 1 .1 1-.2 1 .4 1-.4 1-.1 1 .6 1-.2 1 .1 1 .3 1-.2 1 .1 1 .2 1 .1 1 0 1-.3 1-.2 1 .3 1 .6 1-.3 1 .4 1 0 1 .3 1 0 1 .1 1 .1 1-.2 1 .2 1 .1 1 .1 1 .1 1 .1 1 .1 1-.3 1 .1 1-.1 1 .5 1 .2 1-.1 1-.2 1 .2 1 .2 1 .2 1-.1 1 .1 1-.2 1 .3 1 0 1-.2 1 .3 1-.3 1-.3 1-.1 1-.2 1 .2 1 .1 1 0 1-.3 1 0 1-.6 1 .4 1-.3 1 .1 1-.2 1 0 1 0 1-.2 1 0 1-.1 1 0 1-.5 1-.4 1 0 1 .6 1-.1 1-.1 1-.1 1-.3 1-.2 1 .2 1-.5 1 0 1 .1 1-.6 1 .4 1 0 1-.1 1 0 1 0 1-.1 1-.1 1 0 1-.1 1-.4 1 .1 1-.1 1 .1 1 0 1-.1 1-.3 1 .2 1-.4 1-.2 1 .4 1-.3 1-.4 1-.2 1 .1 1-.2 1 .5 1 0 1-.3 1 .2 1-.5 1-.3 1 0 1 .4 1 0 1-.2 1-.2 1 0 1 .1 1-.2 1-.2 1-.1 1 0 1-.3 1 .1 1 0 1 .1 1-.3 1 .1 1-.3 1 .1 1 0 1-.6 1-.2 1 .4 1 0 1-.2 1-.4 1 .1 1 .1 1 0 1 0 1-.3 1-.6 1 .5 1 .1 1-.1 1-.5 1 0 1 0 1 .2 1-.1 1-.6 1-.2 1 0 1 .3 1 0 1 0 1-.2 1-.6 1-.3 1 .2 1 0 1-.2 1-.4 1 .1 1 0 1 0 1-.2 1-.1 1-.5 1 0 1-.1 1 .3 1-.2 1 0 1-.1 1-.2 1-.2 1 0 1-.1 1-.3 1-.1 1 0 1-.1 1-.2 1-.2 1 0 1-.1 1-.1 1-.3 1 0 1 0 1-.2 1 0 1-.1 1-.2 1-.3 1-.2 1-.3 1-.3 1-.8 1-.4 1 .1 1-.1 1-.6 1 .1 1-.5 1-.4 1-.1 1-.3 1-.3 1-.5 1-.1 1-.7 1 .1 1-.1 1-.3 1-.1 1-.2 1-.1 1-.2 1-.1 1-.2 1-.7 1 0 1 0 1 .3 1-.2 1-.2 1-.1 1-.3 1-.4 1-.6 1-.5 1-.8 1-.8 1-.9 1-1.3 1-.9 1-.8 1-.6 1-1.3 1-.8 1-.5 1-.9 1-.9 1-.8 1-1.4 1-.3 1-1.2 1-.7 1-.7 1-.9 1-.7 1-.8 1-.8 1-.8 1-1 1-.8 1-.5 0 9.3-1-.1-1 .6-1 .7-1 .8-1 .9-1 .9-1 .7-1 .9-1 .7-1 .9-1 .8-1 1.1-1 .8-1 .9-1 .8-1 .7-1 1.4-1 .5-1 .8-1 1-1 .8-1 .8-1 .8-1 .9-1 1.3-1 .3-1 .7-1 .6-1 .6-1 .1-1 0-1 .3-1 .6-1-.1-1 .1-1 .2-1 .5-1-.1-1 .1-1 .1-1 .4-1-.1-1-.2-1 .6-1 .7-1 .1-1-.5-1 .3-1 .3-1 .6-1 .2-1 .2-1 .2-1 .5-1 .2-1 .2-1 .4-1 .4-1 .3-1 .5-1 0-1 .2-1 .5-1-.1-1 .3-1 0-1 .1-1 .1-1 .6-1-.2-1 .3-1-.2-1 .3-1-.1-1 .2-1 0-1 .2-1 .4-1 .3-1 .1-1-.3-1 .6-1 .1-1-.1-1-.2-1 .2-1 .3-1 0-1 .4-1-.2-1 .2-1 .3-1-.1-1 .1-1 0-1 .2-1 .1-1 .4-1 0-1 .1-1-.1-1 .4-1-.1-1 .1-1 .4-1-.2-1 .2-1 .2-1-.1-1 .2-1-.1-1 .1-1 .1-1 .5-1-.1-1 0-1-.1-1 0-1 .1-1 .1-1 0-1 .3-1-.1-1 0-1 .3-1 .3-1 .1-1 0-1 0-1 0-1-.1-1 .1-1 .2-1 .1-1-.1-1 .3-1 0-1 0-1 .1-1 .3-1 .4-1-.2-1 0-1 0-1 .4-1-.3-1 .2-1-.1-1 .3-1-.2-1 .4-1-.1-1-.1-1 0-1 .3-1 .3-1 .2-1-.4-1 .4-1 .1-1 .5-1-.5-1-.1-1 0-1 0-1 .1-1 .4-1-.2-1 .4-1 .2-1 .1-1-.1-1-.2-1 .4-1 0-1 .1-1-.3-1 .3-1-.2-1 .5-1-.1-1-.2-1 .2-1 .3-1 0-1 0-1 .4-1-.2-1 .2-1-.1-1 0-1 .1-1 .1-1 .1-1 .1-1 .3-1 .1-1 .1-1 .1-1 0-1-.1-1 .7-1-.1-1-.2-1 .2-1 .4-1 .1-1-.4-1 .3-1 .3-1 0-1 .1-1 .1-1-.1-1-.1-1 .2-1 0-1 .4-1-.3-1 .2-1-.3-1 0-1-.4-1 .1-1-.1-1-.2-1-.2-1-.2-1-.1-1 .4-1 .2-1-.3-1-.3-1-.2-1-.1-1 .1-1-.2-1 .2-1-.2-1-.2-1 .1-1-.4-1 0-1-.2-1 .1-1-.1-1 .2-1 0-1-.4-1-.2-1 .1-1-.1-1 0-1-.1-1 .1-1 0-1-.1-1-.2-1-.2-1-.1-1-.1-1 0-1 .1-1-.1-1-.2-1-.1-1 .1-1-.1-1-.1-1-.1-1 .3-1 0-1-.2-1 .1-1 .1-1-.4-1 0-1-.1-1 0-1-.2-1-.1-1 0-1-.1-1 .1-1 0-1-.2-1 .3-1-.4-1 0-1 .2-1-.2-1 0-1-.2-1 .1-1-.2-1 .1-1 0-1 .1-1 0-1 0-1-.1-1-.1-1 .4-1-.5-1 .4-1-.1-1 0-1-.3-1 .4-1-.2-1-.1-1-.1-1 .5-1-.3-1-.1-1 0-1-.1-1-.1-1 0-1 .3-1 .5-1-.4-1-.4-1 .3-1-.2-1 .1-1 .1-1-.2-1 .1-1-.3-1 0-1 .1-1 0-1 .1-1 0-1-.3-1 .1-1 .2-1 .2-1-.1-1-.2-1 .5-1 0-1-.6-1 0-1 .3-1-.1-1 .5-1-.6-1 0-1 .3-1-.3-1 .1-1 0-1 .2-1-.1-1 0-1 .1-1 0-1 .2-1 .1-1-.3-1-.2-1 0-1 .1-1 .1-1 .1-1-.2-1 .2-1 0-1 0-1 .2-1 .3-1 .1-1-.4-1 0-1 0-1 .2-1-.4-1 .2-1-.1-1 .1-1 0-1 .2-1-.1-1 .1-1 0-1 0-1-.1-1 .5-1 .3-1-.2-1 0-1 .3-1-.1-1-.5-1 .3-1 0-1 .2-1-.3-1 0-1 .1-1 .3-1-.2-1 .3-1 0-1 .1-1-.2-1 .1-1 0-1 .2-1-.2-1 0-1 .4-1 0-1-.2-1 .2-1 .4-1-.2-1 .2-1-.1-1 .2-1 .1-1 .2-1 0-1 .1-1 .1-1 .3-1-.2-1 .5-1-.2-1 .1-1 .2-1 .3-1 .2-1 0-1 .3-1-.1-1-.1-1 .2-1 0-1 .2-1 0-1 .5-1-.1-1 .2-1-.1-1 .5-1 0-1 .2-1-.2-1 .2-1 0-1 0-1 .3-1 .3-1-.3-1 .1-1 .1-1 .1-1 .1-1 0-1 .1-1 0-1 .2-1-.2-1 .1-1 .3-1 .3-1 .1-1-.2-1-.1-1 .1-1 .1-1 0-1 .3-1 0-1-.1-1 .1-1 .2-1 .6-1 0-1 0-1 .3-1 0-1 .3-1 .3-1 .4-1 .5-1 .2-1 .2-1 .3-1-.3-1 .2-1 .3-1-.1-1 .4-1-.2-1 .2-1 .4-1-.1-1 .3-1 .1-1 .1-1 .3-1-.3-1 0-1-.5-1-.4-1-.9-1-.6-1-.5-1-.7-1-.3-1-.9-1-.9-1-.8-1-1.4-1-1.1-1-1.5-1-1.5-1-1.3-1-1.2-1-1.5-1-1.2-1-1.3-1-1.1-1-1.3-1-.9-1-.8-1-.6-1-.8-1-.3-1-.4-1-.3-1-.8-1-1.1-1-1-1-.5-1-.5-1-.4-1 .2-1-.2-1-.4-1-.3-1-.3-1 .1-1-.5-1-.2-1 .1-1-.5-1 .2-1-.4-1-.1-1-.4-1-.2-1 .1-1-.1-1-.4-1-.3-1 .1-1-.2-1-.4-1-.4-1 0-1-.3-1-.5-1-.3-1-.4-1-.1-1-.7-1-.3-1-.2-1-.4-1-.4-1-.2-1-.4-1-.1-1 0-1-.5-1-.4-1 .1-1-.4-1 0-1-.8-1-.3-1-.3-1 0-1 .2-1-.1-1-.3-1-.6-1-.3-1-.4-1-.2-1-.1-1 .6-1 .3-1-.1-1 0-1 0-1 .3-1 .1-1 .6-1 .2-1 .1-1 .3-1 .1-1 .3-1 .1-1 .4-1 .4-1 .3-1 .6-1 .3-1 .5-1 .6-1 .4-1 .3-1 .3-1 .6-1 .4-1 .7-1 .1-1 .3-1 .2-1 0-1 .3-1-.2-1-.3-1 .1-1-.3-1 .1-1 .2-1-.2-1-.3-1-.1-1 0-1-.3-1 0-1-.2-1-.2-1-.1-1 0-1 0-1 0-1 .1-1 .4-1 .3-1 .4-1 0-1 .5-1-.3-1 .2-1 .3-1 0-1 .2-1 .4-1 0-1 .4-1 .1-1 .2-1 .4-1-.1-1 .6-1 .4-1 .1-1-.4-1 .1-1 0-1 .4-1 .1-1-.1-1 .4-1 .4-1 .1-1 .2-1-.5-1 .2-1 .2-1 .2-1 .3-1-.2-1 .5-1-.1-1 .4-1 .6-1-.1-1 .1-1 .1-1 .4-1 0-1 0-1 .3-1 0-1 .2-1 .2-1 .4-1 0-1 .3-1 .2-1 .1-1 .2-1 .4-1 .3-1 .1-1 .1-1 .3-1 0-1 .2-1 .3-1-.1-1 0-1 0-1 0-1 .1-1-.4-1-.1-1 .1-1-.1-1-.3-1 0-1 .1-1-.2-1-.3-1 .1-1-.3-1-.2-1 0-1-.3-1 .1-1-.4-1 .2-1 0-1-.5-1-.2-1 .1-1-.2-1-.1-1-.1-1-.5-1 .1-1 .2-1-.2-1-.1-1 .3-1 .5-1 .3-1-.1-1 .7-1 .5-1 .3-1-.1-1 .1-1 .2-1 .1-1 .7-1-.1-1 .5-1 .8-1 .4-1 .3-1 .4-1 .6-1 .6-1 .5-1 .7-1 .5-1 .5-1 .8-1 .6-1 .3-1 .7-1 .6-1 .7-1 .5-1 .8-1 .8-1 .3-1 1-1 .8-1 .3-1 .8-1 .6-1 .7-1 .5-1 .8-1 .8-1 .5-1 .8-1 1.1-1 .8-1 1.1-1 1.2-1 1.2-1 1.4-1 1.2-1 1.3-1 .9-1 .9-1 1.2-1 1.3-1 1.1-1 .6-1 1.2-1 1.1-1 1.1-1 1.2-1 1.3-1 .6-1 1-1 .9-1 1.1-1 1-1 1-1 1.1-1 .9-1 1-1 1-1 .8-1 1.1-1 .9-1 1.3-1 .6-1 .3-1 .7-1 .6-1 .6-1 .9-1 .7-1 .8-1 .5-1 .9-1 .8-1 .1-1 .6-1 .8-1 .7-1 .3-1-.3-1 .2-1 .2-1 .2-1 .2-1 .1-1 .4-1 0-1 .4-1 .4-1-.1-1-.2-1 .2-1-.2-1 0-1-.5-1-.3-1 .2-1-.3-1-.4-1 .1-1-.3-1 0-1-.7-1 0-1-.5-1-.6-1-1-1-.4-1-.8-1-1-1-.8-1-.4-1-.3-1-1.3-1-.9-1-.4-1-1.2-1-.6-1-.8-1-.8-1-1-1-1-1-1-1-1.1-1-1-1-1.3-1-1.2-1-1-1-1.1-1-1.2-1-1.3-1-1-1-.9-1-1.2-1-1-1-1.4-1-1.2-1-.8-1-1.3-1-1.6-1-1.2-1-1.2-1-.9-1-1.2-1-1.4-1-1.2-1-1.3-1-1-1-1.3-1-1-1-1.2-1-1.2-1-1.5-1-1-1-1-1-1.1-1-1.3-1-1.1-1-.9-1-1-1-.8-1-1.3-1-.9-1-1-1-1-1-1.1-1-1-1-1-1-1.1-1-.8-1-.9-1-1.1-1-1.2-1-.8-1-.9-1-1.2-1-.8-1-1-1-.7-1-.9-1-1.2-1-.4-1-.9-1-1.4-1-1.1-1-.7-1-.7-1-.9-1-1.1-1-.8-1-1.1-1-.9-1-.7-1-.6-1-1-1-.4-1-.4-1-1.1-1-.7-1-.9-1-.6-1-.7-1-.5-1-1-1-.5-1-.6-1-.3-1-.2-1-.7-1-.4-1-.3-1-.3-1-.4-1-.4-1-.2-1-.5-1-.4-1 .2-1-.7-1-.8-1-.7-1-.5-1-.4-1-.6-1-.8-1-.4-1-.4-1-.7-1-.3z" fill="#00ff00"/>
<path d="M189.5,869.8v3.1M221.5,894.0v6.5M226.5,901.9v2.3M253.5,931.7v4.7M254.5,931.0v5.7M274.5,954.1v5.5M284.5,961.0v3.4M312.5,968.1v3.7M391.5,904.8v4.0M511.5,889.7v6.1M535.5,889.8v5.6M562.5,886.6v2.8M568.5,883.6v6.2M573.5,886.5v5.5M577.5,891.2v2.5M587.5,892.9v3.7M644.5,923.2v5.1M653.5,925.1v6.0M659.5,926.2v2.0M665.5,924.2v2.0M691.5,920.8v4.3M701.5,919.1v5.5M705.5,918.8v2.3M709.5,917.4v4.3M710.5,917.0v6.3M731.5,914.0v2.0M736.5,916.6v2.7M738.5,916.2v3.5M757.5,914.7v4.6M770.5,912.1v3.7M771.5,912.5v3.3M774.5,911.9v5.0M781.5,913.8v5.2M783.5,911.8v2.3M789.5,913.5v2.7M793.5,915.0v4.0M794.5,916.8v2.1M814.5,911.6v2.6M820.5,912.8v3.8M825.5,914.9v3.8M829.5,914.2v4.8M850.5,912.1v3.0M860.5,912.6v6.4M861.5,912.7v4.8M864.5,913.1v5.6M894.5,915.7v5.3M908.5,918.8v2.1M913.5,915.5v2.4M919.5,916.6v4.2M923.5,915.1v2.1M949.5,915.7v4.6M958.5,916.9v5.0M961.5,917.2v4.1M972.5,914.1v2.8M993.5,913.0v2.4M995.5,913.0v4.0M996.5,914.2v4.7M997.5,911.6v6.1M1005.5,913.1v2.9M1012.5,910.7v6.5M1021.5,911.8v4.6M1025.5,910.5v4.6M1029.5,911.3v4.8M1032.5,911.1v3.0M1035.5,913.8v2.2M1041.5,911.7v4.3M1046.5,910.6v4.7M1047.5,912.5v2.7M1050.5,910.4v4.0M1065.5,906.2v6.1M1073.5,906.4v2.0M1086.5,904.3v5.4M1090.5,905.9v2.8M1097.5,901.5v4.0M1098.5,903.3v4.6M1103.5,899.3v5.6M1111.5,898.3v3.7M1145.5,881.5v4.0" stroke="#0000ff" stroke-width="0.8" fill="none" opacity="0.8"/>
<path d="M270.6,837.5 v10 M270.6,998.8 v-10 M565.5,837.5 v10 M565.5,998.8 v-10 M860.4,837.5 v10 M860.4,998.8 v-10 M165.5,918.4 h10 M1154.5,918.4 h-10" stroke="#262626" stroke-width="1.1" fill="none"/>
<rect x="165.5" y="837.5" width="989.0" height="161.3" fill="none" stroke="#262626" stroke-width="1.1"/>
<text font-size="21" text-anchor="end" fill="#262626" textLength="36.9" lengthAdjust="spacingAndGlyphs" x="156.0" y="844.4" >100</text>
<text font-size="21" text-anchor="end" fill="#262626" textLength="11.5" lengthAdjust="spacingAndGlyphs" x="156.0" y="925.3" >0</text>
<text font-size="21" text-anchor="end" fill="#262626" textLength="43.8" lengthAdjust="spacingAndGlyphs" x="156.0" y="1005.7" >-100</text>
<path d="M270.6,1072.3 V1233.3 M565.5,1072.3 V1233.3 M860.4,1072.3 V1233.3 M165.5,1123.5 H1154.5 M165.5,1174.5 H1154.5 M165.5,1225.2 H1154.5" stroke="#dfdfdf" stroke-width="1" fill="none"/>
<use href="#q1" stroke="#0000ff" stroke-width="1.15" fill="none"/>
<use href="#q1" stroke="#0000ff" stroke-width="2.7" fill="none" stroke-dasharray="7.6 1.4 3.3 0.8 5.8 20.7 4.5 0.9 8.7 0.8 5.4 1.3 8.6 1.3 7.6 1.3 8.2 7.9 2.4 1.4 7.7 17.7 5.5 1.2 9.0 0.9 8.7 0.8 2.4 1.0 2.8 0.7 1.9 0.9 5.3 0.9 1.5 7.4 1.9 1.0 3.4 0.6 6.6 15.2 5.5 0.8 4.1 12.7 2.6 1.0 4.9 1.5 2.9 1.5 5.5 17.1 5.1 1.3 8.0 1.5 4.1 0.8 4.1 1.5 5.6 0.9 3.6 1.2 6.5 15.2 6.7 1.3 7.9 0.7 8.0 1.2 5.5 0.8 8.8 10.8 5.2 1.2 2.6 0.6 7.0 19.2 8.0 0.9 1.7 1.0 4.2 1.4 8.0 1.5 3.1 17.6 2.6 1.3 7.2 1.3 1.8 1.3 8.3 16.4 8.0 11.0 6.6 0.6 5.2 1.1 2.7 0.7 5.0 1.3 7.7 0.9 8.4 0.6 6.5 0.9 8.6 1.5 8.1 1.0 3.6 1.0 4.6 1.3 8.3 0.9 2.5 0.7 5.5 1.2 6.1 0.8 8.1 0.7 6.9 1.4 2.1 1.3 5.6 0.8 4.0 1.5 6.7 20.7 5.6 1.1 4.1 4.9 7.4 0.8" transform="translate(0,-0.35)"/>
<use href="#q1" stroke="#0000ff" stroke-width="4.4" fill="none" stroke-dasharray="1.2 8.1 1.1 25.5 1.4 5.7 1.2 16.9 1.2 22.0 1.4 3.7 1.3 33.8 1.1 6.7 1.3 36.9 1.1 11.2 1.4 4.4 1.0 9.8 1.4 27.0 1.3 30.5 1.3 8.4 1.3 7.2 1.3 18.3 1.4 25.6 1.1 25.2 1.1 24.6 1.2 7.0 1.1 8.7 1.3 8.1 1.2 4.1 1.2 21.4 1.3 6.5 1.3 23.6 1.1 37.0 1.1 32.0 1.2 15.4 1.4 3.1 1.3 20.9 1.4 26.4" transform="translate(0,-0.2)"/>
<use href="#q2" stroke="#00ffff" stroke-width="1.15" fill="none"/>
<use href="#q2" stroke="#00ffff" stroke-width="2.7" fill="none" stroke-dasharray="7.0 1.5 4.0 0.9 2.8 27.8 7.6 0.9 7.9 0.7 3.2 24.0 6.3 0.7 2.4 0.7 3.8 1.0 4.1 1.5 2.8 1.4 6.0 1.1 5.6 1.4 5.2 1.3 4.3 1.3 4.7 1.4 5.4 1.5 8.2 0.9 6.8 1.3 4.8 1.5 7.4 1.3 3.3 0.8 8.2 0.9 3.8 15.7 8.1 0.6 8.3 1.4 8.1 0.6 4.3 1.4 4.8 0.8 4.0 1.3 4.3 0.7 5.7 1.0 4.5 1.2 2.2 1.1 6.3 0.9 4.7 0.9 5.1 0.8 6.1 0.9 4.1 26.1 1.8 0.6 2.7 0.7 4.7 25.8 7.0 1.0 6.7 1.0 2.3 1.1 6.0 1.6 1.8 0.7 6.4 1.0 1.7 1.0 5.8 1.4 7.8 1.5 4.3 9.5 8.3 0.7 4.6 0.9 7.3 1.4 2.2 0.9 3.9 1.5 5.3 0.7 5.7 1.6 2.6 13.1 3.1 0.8 3.7 0.9 5.2 1.1 7.5 15.7 6.3 1.2 5.4 1.4 1.8 1.0 3.9 1.2 8.3 1.5 5.1 1.0 8.5 0.8 8.7 0.6 2.0 1.3 3.1 1.2 3.5 0.6 2.0 0.9 5.7 1.3 3.4 1.0 5.0 1.3 3.1 0.7 2.0 1.2 6.3 1.3 7.9 1.0 6.2 1.2 6.6 1.4 6.9 18.9 7.7 1.1" transform="translate(0,-0.35)"/>
<use href="#q2" stroke="#00ffff" stroke-width="4.4" fill="none" stroke-dasharray="1.3 10.5 1.4 11.7 1.1 19.8 1.3 9.0 1.1 38.9 1.3 30.1 1.1 4.5 1.0 18.0 1.1 21.6 1.3 3.4 1.2 7.7 1.0 5.9 1.2 9.1 1.2 24.0 1.3 6.1 1.3 4.0 1.1 4.2 1.0 18.8 1.3 9.0 1.3 3.8 1.0 7.6 1.3 8.7 1.2 8.1 1.4 8.6 1.2 10.4 1.1 9.1 1.1 10.8 1.1 28.7 1.0 7.9 1.0 5.1 1.3 6.6 1.3 32.6 1.3 4.3 1.3 9.3 1.3 5.4 1.4 17.4 1.2 6.1 1.3 4.5 1.3 9.2 1.0 9.2 1.0 10.0 1.2 4.6 1.3 7.9 1.2 6.4 1.1 7.4 1.1 9.0 1.1 5.3 1.0 4.2 1.0 4.4 1.4 10.2 1.1 7.6" transform="translate(0,-0.2)"/>
<use href="#q3" stroke="#00ff00" stroke-width="1.15" fill="none"/>
<use href="#q3" stroke="#00ff00" stroke-width="2.7" fill="none" stroke-dasharray="3.7 19.7 2.2 0.8 4.1 0.9 6.6 0.7 2.1 0.8 2.8 1.4 5.9 1.1 3.0 1.2 5.3 12.7 3.8 1.0 8.0 1.3 6.6 0.8 4.3 1.0 5.4 1.5 2.9 0.9 2.9 0.7 1.6 1.2 1.8 27.4 2.1 1.4 7.7 1.5 2.6 0.6 7.8 1.5 1.7 1.1 3.8 1.4 6.7 1.2 7.8 1.6 4.5 0.6 8.7 1.5 4.7 1.5 6.5 0.6 9.0 1.5 6.2 1.2 5.8 1.6 2.5 1.3 2.4 1.2 4.6 0.8 7.7 1.0 6.1 1.0 4.4 1.1 4.1 1.5 1.7 1.5 5.8 20.9 8.4 1.0 8.2 1.3 6.0 0.9 7.7 1.3 5.7 0.8 4.2 1.0 6.9 1.1 1.6 1.1 6.1 1.1 4.0 0.7 8.2 1.3 5.9 0.9 7.5 1.3 7.7 1.0 3.5 0.7 8.8 1.4 7.5 18.3 7.7 1.1 6.5 0.7 8.3 1.5 7.0 0.7 5.8 1.4 2.5 1.1 6.2 1.6 8.4 0.9 3.8 1.4 4.8 1.3 2.1 0.9 4.6 1.0 6.9 0.6 4.3 0.9 8.3 1.4 8.4 0.8 7.9 1.0 2.0 0.8 8.0 1.4 8.9 1.2 6.7 1.2 8.4 0.7 8.0 1.3 5.6 1.3 7.4 1.3 6.8 1.0 6.1 0.9 5.8 1.2 1.8 1.4 3.3 1.4 6.3 0.6 4.6 1.0 5.6 1.2" transform="translate(0,-0.35)"/>
<use href="#q3" stroke="#00ff00" stroke-width="4.4" fill="none" stroke-dasharray="1.2 9.9 1.1 4.4 1.2 6.4 1.4 7.8 1.0 39.1 1.3 8.6 1.3 11.7 1.2 37.3 1.1 39.3 1.1 8.7 1.0 26.4 1.3 23.5 1.3 38.8 1.3 3.2 1.4 22.5 1.0 4.5 1.4 26.5 1.0 17.7 1.1 25.9 1.0 6.3 1.4 37.7 1.3 10.9 1.0 27.7 1.1 11.3 1.0 19.2 1.1 23.2 1.2 22.7 1.0 4.8 1.4 9.3 1.2 3.3 1.2 25.2" transform="translate(0,-0.2)"/>
<use href="#q4" stroke="#ffff00" stroke-width="1.15" fill="none"/>
<use href="#q4" stroke="#ffff00" stroke-width="2.7" fill="none" stroke-dasharray="5.4 1.2 5.2 1.3 7.7 1.3 1.7 1.6 5.3 1.3 2.5 1.4 2.7 1.1 2.8 1.2 8.4 1.3 3.1 1.4 4.8 0.8 8.3 1.0 8.0 1.2 2.1 0.7 7.3 1.6 7.9 1.6 4.0 1.4 4.0 1.5 8.4 0.9 3.2 0.7 2.2 1.2 4.0 1.2 3.3 1.3 5.3 1.1 7.0 0.6 8.3 0.8 2.3 0.9 6.5 1.5 1.7 1.4 6.0 1.5 2.6 0.6 7.0 0.7 8.3 1.3 7.5 1.0 5.1 1.4 8.1 0.9 3.4 0.7 4.7 1.4 1.9 11.7 3.5 1.4 3.8 1.0 5.0 1.4 3.9 1.6 3.4 0.9 4.4 0.7 3.9 1.3 8.8 1.6 5.9 1.3 8.7 0.7 5.2 1.2 6.7 1.0 1.6 1.2 2.3 0.6 3.3 1.4 5.1 27.6 4.4 0.9 5.7 1.1 2.2 1.3 2.7 0.6 3.0 0.9 1.8 0.9 4.6 0.7 4.2 1.5 8.2 0.8 4.3 1.2 5.6 1.5 6.9 1.6 7.7 1.3 4.2 0.7 2.4 1.4 7.1 1.0 6.2 0.6 7.8 1.3 4.8 1.5 6.6 1.3 8.3 1.0 4.2 1.1 4.8 1.4 1.7 1.0 2.5 0.6 3.6 1.3 4.6 1.5 3.2 0.7 8.8 1.2 6.5 1.4 3.7 21.9 3.7 1.4 7.1 1.4 7.5 1.4 4.1 1.1 5.7 1.3 8.0 0.8 3.2 1.0 4.6 0.9 8.1 1.4 5.8 1.5 5.3 1.1 6.9 16.2 5.9 1.2 7.4 1.5 4.9 1.4" transform="translate(0,-0.35)"/>
<use href="#q4" stroke="#ffff00" stroke-width="4.4" fill="none" stroke-dasharray="1.2 27.3 1.2 19.9 1.3 8.1 1.2 38.1 1.2 31.1 1.3 5.5 1.2 7.1 1.3 6.4 1.2 7.6 1.2 5.6 1.4 27.0 1.2 6.5 1.1 37.5 1.2 6.6 1.4 4.9 1.1 28.4 1.3 32.0 1.4 24.3 1.1 8.8 1.3 3.2 1.2 4.4 1.2 15.5 1.4 6.5 1.2 7.7 1.2 8.7 1.1 5.6 1.2 9.4 1.2 5.6 1.3 17.4 1.1 6.9 1.1 17.7 1.3 5.8 1.2 10.0 1.1 34.7 1.0 38.4 1.4 3.6 1.1 9.2 1.3 8.0 1.2 37.1" transform="translate(0,-0.2)"/>
<path d="M270.6,1072.3 v10 M270.6,1233.3 v-10 M565.5,1072.3 v10 M565.5,1233.3 v-10 M860.4,1072.3 v10 M860.4,1233.3 v-10 M165.5,1123.5 h10 M1154.5,1123.5 h-10 M165.5,1174.5 h10 M1154.5,1174.5 h-10 M165.5,1225.2 h10 M1154.5,1225.2 h-10" stroke="#262626" stroke-width="1.1" fill="none"/>
<rect x="165.5" y="1072.3" width="989.0" height="161.0" fill="none" stroke="#262626" stroke-width="1.1"/>
<text font-size="21" text-anchor="end" fill="#262626" textLength="11.5" lengthAdjust="spacingAndGlyphs" x="156.0" y="1079.4" >0</text>
<text font-size="21" text-anchor="end" fill="#262626" textLength="18.4" lengthAdjust="spacingAndGlyphs" x="156.0" y="1130.4" >-5</text>
<text font-size="21" text-anchor="end" fill="#262626" textLength="31.1" lengthAdjust="spacingAndGlyphs" x="156.0" y="1181.4" >-10</text>
<text font-size="21" text-anchor="end" fill="#262626" textLength="31.1" lengthAdjust="spacingAndGlyphs" x="156.0" y="1232.1" >-15</text>
<path d="M412.6,1308.5 V1468.8 M659.9,1308.5 V1468.8 M907.2,1308.5 V1468.8 M165.5,1388.5 H1154.5" stroke="#dfdfdf" stroke-width="1" fill="none"/>
<path d="M165.5,1419.4 H1154.5" stroke="#0000ff" stroke-width="1.2"/>
<path d="M171.5,1419.4 V1414.8 M172.5,1419.4 V1414.8 M173.5,1419.4 V1414.8 M175.5,1419.4 V1414.8 M176.5,1419.4 V1414.8 M177.5,1419.4 V1414.8 M178.5,1419.4 V1414.8 M179.5,1419.4 V1414.8 M181.5,1419.4 V1414.8 M182.5,1419.4 V1414.8 M183.5,1419.4 V1414.8 M184.5,1419.4 V1414.8 M185.5,1419.4 V1414.8 M186.5,1419.4 V1414.8 M187.5,1419.4 V1414.8 M191.5,1419.4 V1414.8 M192.5,1419.4 V1414.8 M193.5,1419.4 V1414.8 M194.5,1419.4 V1414.8 M195.5,1419.4 V1414.8 M198.5,1419.4 V1414.8 M199.5,1419.4 V1414.8 M200.5,1419.4 V1414.8 M201.5,1419.4 V1414.8 M202.5,1419.4 V1414.8 M203.5,1419.4 V1414.8 M204.5,1419.4 V1414.8 M205.5,1419.4 V1414.8 M206.5,1419.4 V1414.8 M207.5,1419.4 V1414.8 M208.5,1419.4 V1414.8 M210.5,1419.4 V1414.8 M211.5,1419.4 V1414.8 M216.5,1419.4 V1414.8 M217.5,1419.4 V1414.8 M218.5,1419.4 V1414.8 M219.5,1419.4 V1414.8 M220.5,1419.4 V1414.8 M221.5,1419.4 V1414.8 M223.5,1419.4 V1414.8 M224.5,1419.4 V1414.8 M225.5,1419.4 V1414.8 M226.5,1419.4 V1414.8 M228.5,1419.4 V1414.8 M229.5,1419.4 V1414.8 M230.5,1419.4 V1414.8 M231.5,1419.4 V1414.8 M232.5,1419.4 V1414.8 M233.5,1419.4 V1414.8 M235.5,1419.4 V1414.8 M236.5,1419.4 V1414.8 M237.5,1419.4 V1414.8 M239.5,1419.4 V1414.8 M240.5,1419.4 V1414.8 M241.5,1419.4 V1414.8 M242.5,1419.4 V1414.8 M243.5,1419.4 V1414.8 M245.5,1419.4 V1414.8 M246.5,1419.4 V1414.8 M247.5,1419.4 V1414.8 M249.5,1419.4 V1414.8 M252.5,1419.4 V1414.8 M258.5,1419.4 V1414.8 M265.5,1419.4 V1414.8 M267.5,1419.4 V1414.8 M273.5,1419.4 V1414.8 M274.5,1419.4 V1414.8 M277.5,1419.4 V1414.8 M278.5,1419.4 V1414.8 M282.5,1419.4 V1414.8 M637.5,1419.4 V1414.8 M638.5,1419.4 V1414.8 M639.5,1419.4 V1414.8 M640.5,1419.4 V1414.8 M641.5,1419.4 V1414.8 M642.5,1419.4 V1414.8 M643.5,1419.4 V1414.8 M644.5,1419.4 V1414.8 M645.5,1419.4 V1414.8 M646.5,1419.4 V1414.8 M647.5,1419.4 V1414.8 M648.5,1419.4 V1414.8 M649.5,1419.4 V1414.8 M650.5,1419.4 V1414.8 M651.5,1419.4 V1414.8 M652.5,1419.4 V1414.8 M653.5,1419.4 V1414.8 M654.5,1419.4 V1414.8 M655.5,1419.4 V1414.8 M656.5,1419.4 V1414.8 M657.5,1419.4 V1414.8 M658.5,1419.4 V1414.8 M660.5,1419.4 V1414.8 M662.5,1419.4 V1414.8 M663.5,1419.4 V1414.8 M664.5,1419.4 V1414.8 M665.5,1419.4 V1414.8 M667.5,1419.4 V1414.8 M668.5,1419.4 V1414.8 M669.5,1419.4 V1414.8 M671.5,1419.4 V1414.8 M672.5,1419.4 V1414.8 M673.5,1419.4 V1414.8 M674.5,1419.4 V1414.8 M675.5,1419.4 V1414.8 M676.5,1419.4 V1414.8 M677.5,1419.4 V1414.8 M678.5,1419.4 V1414.8 M679.5,1419.4 V1414.8 M680.5,1419.4 V1414.8 M681.5,1419.4 V1414.8 M682.5,1419.4 V1414.8 M683.5,1419.4 V1414.8 M684.5,1419.4 V1414.8 M685.5,1419.4 V1414.8 M686.5,1419.4 V1414.8 M687.5,1419.4 V1414.8 M688.5,1419.4 V1414.8 M689.5,1419.4 V1414.8 M690.5,1419.4 V1414.8 M691.5,1419.4 V1414.8 M692.5,1419.4 V1414.8 M693.5,1419.4 V1414.8 M695.5,1419.4 V1414.8 M696.5,1419.4 V1414.8 M697.5,1419.4 V1414.8 M698.5,1419.4 V1414.8 M699.5,1419.4 V1414.8 M700.5,1419.4 V1414.8 M701.5,1419.4 V1414.8 M702.5,1419.4 V1414.8 M703.5,1419.4 V1414.8 M704.5,1419.4 V1414.8 M705.5,1419.4 V1414.8 M706.5,1419.4 V1414.8 M708.5,1419.4 V1414.8 M709.5,1419.4 V1414.8 M711.5,1419.4 V1414.8 M712.5,1419.4 V1414.8 M713.5,1419.4 V1414.8 M714.5,1419.4 V1414.8 M715.5,1419.4 V1414.8 M716.5,1419.4 V1414.8 M717.5,1419.4 V1414.8 M718.5,1419.4 V1414.8 M719.5,1419.4 V1414.8 M720.5,1419.4 V1414.8 M721.5,1419.4 V1414.8 M722.5,1419.4 V1414.8 M723.5,1419.4 V1414.8 M724.5,1419.4 V1414.8 M725.5,1419.4 V1414.8 M726.5,1419.4 V1414.8 M727.5,1419.4 V1414.8 M729.5,1419.4 V1414.8 M730.5,1419.4 V1414.8 M731.5,1419.4 V1414.8 M733.5,1419.4 V1414.8 M734.5,1419.4 V1414.8 M831.5,1419.4 V1414.8 M837.5,1419.4 V1414.8 M850.5,1419.4 V1414.8 M861.5,1419.4 V1414.8 M867.5,1419.4 V1414.8 M869.5,1419.4 V1414.8 M870.5,1419.4 V1414.8 M890.5,1419.4 V1414.8 M901.5,1419.4 V1414.8 M923.5,1419.4 V1414.8 M947.5,1419.4 V1414.8 M950.5,1419.4 V1414.8 M956.5,1419.4 V1414.8 M974.5,1419.4 V1414.8 M985.5,1419.4 V1414.8 M996.5,1419.4 V1414.8 M1000.5,1419.4 V1414.8 M1005.5,1419.4 V1414.8 M1011.5,1419.4 V1414.8 M1012.5,1419.4 V1414.8 M1013.5,1419.4 V1414.8 M1014.5,1419.4 V1414.8 M1015.5,1419.4 V1414.8 M1016.5,1419.4 V1414.8 M1017.5,1419.4 V1414.8 M1018.5,1419.4 V1414.8 M1019.5,1419.4 V1414.8 M1022.5,1419.4 V1414.8 M1023.5,1419.4 V1414.8 M1024.5,1419.4 V1414.8 M1025.5,1419.4 V1414.8 M1026.5,1419.4 V1414.8 M1027.5,1419.4 V1414.8 M1028.5,1419.4 V1414.8 M1030.5,1419.4 V1414.8 M1031.5,1419.4 V1414.8 M1032.5,1419.4 V1414.8 M1033.5,1419.4 V1414.8 M1034.5,1419.4 V1414.8 M1035.5,1419.4 V1414.8 M1036.5,1419.4 V1414.8 M1037.5,1419.4 V1414.8 M1038.5,1419.4 V1414.8 M1039.5,1419.4 V1414.8 M1040.5,1419.4 V1414.8 M1041.5,1419.4 V1414.8 M1042.5,1419.4 V1414.8 M1043.5,1419.4 V1414.8 M1044.5,1419.4 V1414.8 M1045.5,1419.4 V1414.8 M1046.5,1419.4 V1414.8 M1047.5,1419.4 V1414.8 M1048.5,1419.4 V1414.8 M1049.5,1419.4 V1414.8 M1050.5,1419.4 V1414.8 M1051.5,1419.4 V1414.8 M1052.5,1419.4 V1414.8 M1053.5,1419.4 V1414.8 M1054.5,1419.4 V1414.8 M1055.5,1419.4 V1414.8 M1056.5,1419.4 V1414.8 M1058.5,1419.4 V1414.8 M1059.5,1419.4 V1414.8 M1060.5,1419.4 V1414.8 M1061.5,1419.4 V1414.8 M1062.5,1419.4 V1414.8 M1063.5,1419.4 V1414.8 M1064.5,1419.4 V1414.8 M1066.5,1419.4 V1414.8 M1067.5,1419.4 V1414.8 M1068.5,1419.4 V1414.8 M1069.5,1419.4 V1414.8 M1071.5,1419.4 V1414.8 M1072.5,1419.4 V1414.8 M1073.5,1419.4 V1414.8 M1075.5,1419.4 V1414.8 M1076.5,1419.4 V1414.8 M1077.5,1419.4 V1414.8 M1081.5,1419.4 V1414.8 M1082.5,1419.4 V1414.8 M1083.5,1419.4 V1414.8 M1084.5,1419.4 V1414.8 M1085.5,1419.4 V1414.8 M1086.5,1419.4 V1414.8 M1087.5,1419.4 V1414.8 M1088.5,1419.4 V1414.8 M1089.5,1419.4 V1414.8 M1090.5,1419.4 V1414.8 M1091.5,1419.4 V1414.8 M1092.5,1419.4 V1414.8 M1093.5,1419.4 V1414.8 M1094.5,1419.4 V1414.8 M1095.5,1419.4 V1414.8 M1097.5,1419.4 V1414.8 M1098.5,1419.4 V1414.8 M1099.5,1419.4 V1414.8 M1100.5,1419.4 V1414.8 M1101.5,1419.4 V1414.8 M1102.5,1419.4 V1414.8 M1103.5,1419.4 V1414.8 M1104.5,1419.4 V1414.8 M1105.5,1419.4 V1414.8 M1107.5,1419.4 V1414.8" stroke="#0000ff" stroke-width="1" fill="none"/>
<path d="M165.5,1390.9 H1154.5" stroke="#00ff00" stroke-width="0.9" opacity="0.8"/>
<rect x="166" y="1390.6" width="7" height="6" fill="#00ff00"/>
<rect x="166.5" y="1396.5" width="4.5" height="5.5" fill="#00ffff"/>
<path d="M166.5,1401.5l0 8.7 8 0 0 0 2 0 0-6.8 1 0 0 6.8 2 0 0 0 1 0 0 0 1 0 0-10.7 2 0 0 3.9 1 0 0 6.8 1 0 0-6.8 1 0 0 6.8 2 0 0-10.7 1 0 0 3.9 2 0 0 6.8 1 0 0-6.8 1 0 0 6.8 1 0 0-6.8 2 0 0-3.9 1 0 0 10.7 1 0 0 0 1 0 0 0 1 0 0 0 1 0 0 0 1 0 0-6.8 1 0 0 0 1 0 0 0 2 0 0 6.8 1 0 0 0 2 0 0 0 1 0 0 0 2 0 0-6.8 2 0 0 0 1 0 0 0 1 0 0 0 2 0 0 0 1 0 0 6.8 1 0 0-6.8 1 0 0 0 1 0 0 6.8 1 0 0-10.7 2 0 0 10.7 1 0 0 0 1 0 0 0 1 0 0 0 1 0 0-10.7 2 0 0 3.9 1 0 0 0 2 0 0 6.8 2 0 0 0 2 0 0-10.7 1 0 0 3.9 1 0 0 6.8 1 0 0 0 2 0 0 0 2 0 0-6.8 1 0 0 6.8 1 0 0-10.7 1 0 0 3.9 1 0 0 6.8 2 0 0 0 1 0 0 0 2 0 0-10.7 1 0 0 10.7 2 0 0-6.8 1 0 0-3.9 2 0 0 10.7 1 0 0 0 1 0 0-10.7 2 0 0 10.7 1 0 0 0 1 0 0-6.8 1 0 0 6.8 2 0 0-10.7 2 0 0 3.9 1 0 0-3.9 1 0 0 0 1 0 0 3.9 1 0 0 6.8 1 0 0 0 1 0 0-6.8 1 0 0 6.8 1 0 0-10.7 1 0 0 10.7 1 0 0 0 1 0 0 0 1 0 0 0 1 0 0-10.7 1 0 0 10.7 1 0 0 0 2 0 0-10.7 1 0 0 10.7 2 0 0-6.8 1 0 0 6.8 1 0 0 0 2 0 0-6.8 1 0 0 6.8 1 0 0-6.8 1 0 0 6.8 1 0 0 0 1 0 0 0 1 0 0-10.7 2 0 0 10.7 2 0 0-6.8 1 0 0-3.9 2 0 0 10.7 2 0 0 0 1 0 0-6.8 1 0 0 6.8 1 0 0 0 1 0 0-6.8 1 0 0-3.9 2 0 0 10.7 1 0 0-10.7 1 0 0 10.7 1 0 0-6.8 1 0 0 6.8 1 0 0 0 2 0 0-10.7 1 0 0 10.7 1 0 0-6.8 2 0 0 0 1 0 0 6.8 1 0 0-6.8 1 0 0 6.8 1 0 0-6.8 1 0 0 6.8 1 0 0-6.8 1 0 0 6.8 1 0 0 0 1 0 0-6.8 1 0 0-3.9 2 0 0 10.7 1 0 0-6.8 1 0 0 6.8 1 0 0 0 2 0 0 0 1 0 0 0 1 0 0 0 2 0 0 0 1 0 0-10.7 1 0 0 10.7 1 0 0-10.7 1 0 0 10.7 2 0 0-10.7 1 0 0 0 1 0 0 3.9 1 0 0 0 2 0 0 6.8 1 0 0-6.8 1 0 0 0 1 0 0 0 1 0 0 6.8 1 0 0-10.7 1 0 0 10.7 2 0 0 0 2 0 0 0 2 0 0-6.8 1 0 0 6.8 1 0 0-10.7 2 0 0 10.7 1 0 0 0 1 0 0-6.8 2 0 0 6.8 1 0 0-6.8 1 0 0 0 1 0 0 6.8 1 0 0-10.7 2 0 0 10.7 1 0 0-6.8 1 0 0 6.8 1 0 0 0 1 0 0-10.7 1 0 0 10.7 2 0 0 0 1 0 0-10.7 1 0 0 3.9 1 0 0-3.9 1 0 0 0 1 0 0 0 1 0 0 3.9 1 0 0 0 1 0 0 0 1 0 0 6.8 2 0 0 0 1 0 0 0 2 0 0 0 2 0 0 0 2 0 0 0 1 0 0 0 1 0 0 0 1 0 0-6.8 1 0 0 0 1 0 0 6.8 1 0 0 0 2 0 0-6.8 2 0 0 6.8 1 0 0 0 1 0 0-6.8 1 0 0-3.9 1 0 0 10.7 2 0 0 0 1 0 0-6.8 1 0 0 6.8 2 0 0 0 1 0 0 0 2 0 0 0 1 0 0 0 1 0 0 0 2 0 0-10.7 1 0 0 10.7 2 0 0-10.7 1 0 0 10.7 1 0 0-10.7 2 0 0 3.9 2 0 0 0 2 0 0 6.8 1 0 0 0 1 0 0 0 1 0 0 0 2 0 0 0 1 0 0 0 1 0 0-6.8 2 0 0-3.9 1 0 0 10.7 2 0 0-6.8 1 0 0 6.8 2 0 0 0 2 0 0 0 1 0 0 0 1 0 0-10.7 1 0 0 10.7 2 0 0 0 1 0 0 0 1 0 0 0 2 0 0-10.7 1 0 0 10.7 2 0 0-10.7 1 0 0 10.7 1 0 0 0 1 0 0 0 2 0 0 0 2 0 0-10.7 2 0 0 10.7 1 0 0 0 1 0 0 0 2 0 0 0 1 0 0 0 1 0 0 0 1 0 0 0 2 0 0-10.7 1 0 0 10.7 2 0 0 0 1 0 0 0 1 0 0 0 1 0 0 0 1 0 0 0 1 0 0 0 2 0 0-10.7 1 0 0 10.7 1 0 0 0 1 0 0 0 1 0 0-10.7 1 0 0 10.7 1 0 0 0 2 0 0-6.8 1 0 0 0 2 0 0 0 1 0 0-3.9 2 0 0 3.9 2 0 0 6.8 1 0 0-6.8 1 0 0 0 1 0 0 0 2 0 0 6.8 1 0 0 0 2 0 0 0 2 0 0 0 2 0 0-6.8 1 0 0-3.9 1 0 0 10.7 1 0 0 0 1 0 0-6.8 1 0 0 6.8 2 0 0-10.7 2 0 0 10.7 1 0 0 0 1 0 0-10.7 1 0 0 10.7 1 0 0 0 2 0 0 0 1 0 0 0 1 0 0-10.7 1 0 0 10.7 1 0 0-6.8 1 0 0 6.8 1 0 0 0 2 0 0 0 2 0 0 0 2 0 0 0 2 0 0-6.8 1 0 0 0 1 0 0 6.8 1 0 0 0 1 0 0 0 1 0 0 0 1 0 0-6.8 2 0 0 6.8 2 0 0-6.8 2 0 0 0 1 0 0 6.8 2 0 0 0 1 0 0 0 1 0 0 0 1 0 0 0 1 0 0-10.7 1 0 0 10.7 2 0 0 0 1 0 0 0 1 0 0 0 1 0 0 0 1 0 0 0 1 0 0 0 2 0 0 0 1 0 0 0 1 0 0-6.8 1 0 0 0 1 0 0 6.8 1 0 0-6.8 1 0 0 6.8 1 0 0-6.8 1 0 0-3.9 2 0 0 10.7 2 0 0 0 1 0 0 0 1 0 0 0 1 0 0 0 1 0 0-6.8 1 0 0 0 1 0 0 6.8 1 0 0 0 1 0 0 0 2 0 0 0 2 0 0 0 1 0 0-10.7 1 0 0 10.7 1 0 0 0 1 0 0 0 2 0 0 0 2 0 0-6.8 1 0 0 6.8 2 0 0-6.8 1 0 0-3.9 1 0 0 10.7 2 0 0 0 1 0 0 0 1 0 0-10.7 2 0 0 0 2 0 0 10.7 1 0 0 0 1 0 0 0 1 0 0 0 2 0 0-6.8 2 0 0 6.8 1 0 0 0 2 0 0 0 1 0 0-6.8 1 0 0 6.8 1 0 0 0 2 0 0 0 1 0 0-6.8 1 0 0 6.8 2 0 0 0 2 0 0-10.7 2 0 0 3.9 2 0 0 6.8 1 0 0-6.8 1 0 0 6.8 1 0 0 0 1 0 0-6.8 1 0 0 0 1 0 0 0 1 0 0 6.8 1 0 0-6.8 2 0 0 6.8 2 0 0 0 1 0 0 0 1 0 0 0 2 0 0-6.8 1 0 0 0 1 0 0 6.8 1 0 0 0 1 0 0 0 1 0 0-10.7 1 0 0 10.7 1 0 0 0 2 0 0 0 1 0 0 0 1 0 0-6.8 1 0 0 6.8 1 0 0 0 1 0 0 0 1 0 0 0 1 0 0 0 1 0 0-6.8 1 0 0 0 1 0 0 6.8 2 0 0 0 1 0 0 0 2 0 0-10.7 1 0 0 3.9 2 0 0-3.9 1 0 0 10.7 1 0 0 0 1 0 0-6.8 2 0 0 6.8 2 0 0 0 1 0 0 0 1 0 0 0 1 0 0 0 2 0 0-6.8 1 0 0 6.8 1 0 0-6.8 1 0 0 6.8 1 0 0 0 1 0 0-10.7 2 0 0 10.7 1 0 0-6.8 1 0 0 6.8 1 0 0 0 2 0 0 0 1 0 0 0 1 0 0 0 1 0 0 0 1 0 0-10.7 1 0 0 10.7 2 0 0 0 1 0 0 0 1 0 0-6.8 1 0 0-3.9 2 0 0 10.7 1 0 0-6.8 2 0 0 6.8 2 0 0 0 2 0 0-6.8 1 0 0 6.8 1 0 0-6.8 2 0 0-3.9 1 0 0 10.7 1 0 0-6.8 2 0 0 0 2 0 0 6.8 1 0 0-10.7 2 0 0 0 1 0 0 10.7 1 0 0-10.7 1 0 0 3.9 2 0 0 0 2 0 0 6.8 1 0 0 0 2 0 0 0 1 0 0 0 2 0 0 0 2 0 0-6.8 1 0 0 6.8 2 0 0 0 2 0 0 0 1 0 0 0 1 0 0-10.7 1 0 0 0 2 0 0 10.7 1 0 0 0 1 0 0 0 1 0 0-10.7 1 0 0 10.7 2 0 0-6.8 2 0 0 6.8 1 0 0-6.8 1 0 0-3.9 2 0 0 3.9 1 0 0 0 2 0 0 0 1 0 0 6.8 1 0 0 0 1 0 0 0 1 0 0-10.7 2 0 0 0 1 0 0 10.7 1 0 0-6.8 1 0 0-3.9 2 0 0 10.7 1 0 0 0 1 0 0 0 1 0 0-6.8 2 0 0 6.8 1 0 0 0 1 0 0-6.8 2 0 0 6.8 1 0 0 0 1 0 0-6.8 1 0 0 6.8 1 0 0-6.8 1 0 0 6.8 1 0 0 0 1 0 0-10.7 1 0 0 10.7 2 0 0 0 1 0 0 0 2 0 0 0 1 0 0 0 2 0 0-6.8 1 0 0 6.8 2 0 0 0 1 0 0 0 1 0 0-10.7 2 0 0 10.7 2 0 0 0 1 0 0 0 1 0 0 0 1 0 0 0 1 0 0-10.7 2 0 0 0 2 0 0 10.7 1 0 0-6.8 1 0 0-3.9 1 0 0 10.7 2 0 0 0 1 0 0 0 2 0 0-10.7 2 0 0 10.7 2 0 0 0 1 0 0 0 2 0 0 0 2 0 0 0 1 0 0 0 2 0 0-6.8 1 0 0 6.8 1 0 0-10.7 1 0 0 10.7 2 0 0-10.7 1 0 0 3.9 2 0 0 6.8 2 0 0 0 2 0 0-6.8 1 0 0-3.9 2 0 0 3.9 1 0 0 6.8 1 0 0 0 2 0 0 0 1 0 0 0 1 0 0 0 1 0 0 0 2 0 0 0 1 0 0-10.7 1 0 0 10.7 1 0 0-6.8 1 0 0 6.8 1 0 0 0 2 0 0-10.7 2 0 0 0 1 0 0 10.7 1 0 0 0 1 0 0 0 1 0 0-10.7 1 0 0 10.7 1 0 0 0 1 0 0 0 1 0 0 0 1 0 0-6.8 1 0 0 0 2 0 0 0 1 0 0 0 1 0 0 0 1 0 0 6.8 1 0 0-6.8 1 0 0 0 1 0 0-3.9 2 0 0 10.7 1 0 0 0 2 0 0-10.7 1 0 0 10.7 1 0 0 0 1 0 0 0 1 0 0 0 2 0 0 0 1 0 0-6.8 2 0 0 0 1 0 0 6.8 1 0 0 0 2 0 0-10.7 2 0 0 3.9 1 0 0 0 2 0 0 6.8 1 0 0-6.8 2 0 0 0 2 0 0 0 1 0 0 6.8 1 0 0-6.8 1 0 0 0 1 0 0 6.8 2 0 0 0 2 0 0-6.8 2 0 0-3.9 2 0 0 0 1 0 0 10.7 1 0 0 0 1 0 0 0 1 0 0 0 1 0 0-10.7 1 0 0 3.9 1 0 0 6.8 2 0 0 0 1 0 0-6.8 2 0 0 0 1 0 0 0 1 0 0 0 2 0 0-3.9 1 0 0 3.9 1 0 0-3.9 1 0 0 0 1 0 0 10.7 2 0 0 0 1 0 0-6.8 2 0 0 6.8 1 0 0 0 1 0 0 0 2 0 0 0 2 0 0 0 1 0 0-6.8 1 0 0-3.9 1 0 0 3.9 1 0 0-3.9 1 0 0 3.9 1 0 0 6.8 2 0 0 0 2 0 0-6.8 1 0 0 6.8 2 0 0 0 1 0 0 0 1 0 0 0 2 0 0 0 1 0 0 0 1 0 0 0 2 0 0 0 1 0 0 0 1 0 0 0 1 0 0-10.7 2 0 0 10.7 1 0 0 0 2 0 0 0 1 0 0-6.8 2 0 0-3.9 1 0 0 10.7 2 0 0-6.8 1 0 0 6.8 1 0 0 0 1 0 0 0 2 0 0 0 2 0 0-6.8 1 0 0 6.8 2 0 0 0 1 0 0-10.7 2 0 0 10.7 1 0 0 0 2 0 0-10.7 2 0 0 10.7 2 0 0 0 2 0 0 0 1 0 0 0 1 0 0-6.8 1 0 0 6.8 2 0 0 0 1 0 0-10.7 1 0 0 0 1 0 0 3.9 1 0 0 6.8 1 0 0 0 1 0 0 0 2 0 0 0 2 0 0 0 1 0 0 0 2 0 0-6.8 1 0 0 6.8 1 0 0-10.7 2 0 0 3.9 1 0 0 6.8 1 0 0 0 1 0 0-6.8 1 0 0 6.8 1 0 0-6.8 1 0 0 0 2 0 0-3.9 2 0 0 3.9 1 0 0 0 1 0 0 6.8 1 0 0 0 1 0 0-6.8 1 0 0 6.8 1 0 0-6.8 1 0 0 0 1 0 0 6.8 1 0 0-6.8 1 0 0-3.9 1 0 0 10.7 2 0 0 0 1 0 0 0 1 0 0 0 2 0 0 0 1 0 0 0 2 0 0 0 1 0 0-10.7 2 0 0 3.9 1 0 0-3.9 1 0 0 3.9 1 0 0 0 1 0 0-3.9 1 0 0 10.7 1 0 0 0 1 0 0 0 1 0 0-6.8 1 0 0 6.8 1 0 0-10.7 1 0 0 10.7 1 0 0 0 1 0 0 0 1 0 0-6.8 1 0 0-3.9 2 0 0 10.7 1 0 0 0 1 0 0 0 2 0 0 0 1 0 0-6.8 1 0 0 6.8 1 0 0-6.8 1 0 0 6.8 1 0 0 0 1 0 0 0 1 0 0-10.7 2 0 0 10.7 1 0 0 0 2 0 0-6.8 2 0 0 0 2 0 0 0 2 0 0 6.8 2 0 0 0 1 0 0-6.8 1 0 0 6.8 1 0 0 0 1 0 0 0 .5 0 0-19-979.5 0 0 10.3z" fill="#ffff00"/>
<path d="M179.5,1393.7v7.1M182.5,1395.0v5.5M185.5,1392.5v4.7M186.5,1394.8v6.4M188.5,1395.2v6.2M190.5,1395.4v7.7M192.5,1393.9v7.0M198.5,1393.9v7.5M199.5,1394.5v4.9M202.5,1395.1v5.3M205.5,1392.6v4.3M206.5,1393.9v5.4M208.5,1394.8v4.8M216.5,1393.2v7.3M220.5,1394.4v5.1M227.5,1393.9v3.1M230.5,1394.0v5.5M236.5,1392.5v7.6M238.5,1393.8v5.6M239.5,1393.9v3.2M240.5,1393.8v4.6M243.5,1394.7v7.6M245.5,1393.0v3.5M246.5,1392.5v4.0M248.5,1393.6v3.8M249.5,1394.4v3.7M251.5,1394.1v3.1M253.5,1394.5v5.9M256.5,1395.2v4.2M260.5,1394.6v7.6M263.5,1394.6v7.6M265.5,1395.2v6.8M269.5,1394.1v6.5M276.5,1392.5v3.6M282.5,1394.9v5.4M285.5,1394.4v6.8M287.5,1395.4v6.5M297.5,1394.7v6.4" stroke="#fff" stroke-width="1" fill="none"/>
<path d="M184.0,1391.3 h2 M211.0,1391.3 h4 M219.0,1391.3 h3 M230.0,1391.3 h2 M234.0,1391.3 h3 M238.0,1391.3 h2 M239.0,1391.3 h3 M262.0,1391.3 h3 M272.0,1391.3 h3 M275.0,1391.3 h2 M280.0,1391.3 h4 M288.0,1391.3 h1 M291.0,1391.3 h4 M296.0,1391.3 h2 M317.0,1391.3 h2 M322.0,1391.3 h3 M335.0,1391.3 h3 M340.0,1391.3 h4 M355.0,1391.3 h4 M379.0,1391.3 h3 M384.0,1391.3 h1 M399.0,1391.3 h2 M401.0,1391.3 h2 M406.0,1391.3 h4 M408.0,1391.3 h1 M411.0,1391.3 h3 M414.0,1391.3 h1 M415.0,1391.3 h1 M426.0,1391.3 h3 M430.0,1391.3 h4 M467.0,1391.3 h3 M471.0,1391.3 h4 M475.0,1391.3 h1 M480.0,1391.3 h3 M482.0,1391.3 h2 M495.0,1391.3 h1 M497.0,1391.3 h1 M502.0,1391.3 h3 M541.0,1391.3 h2 M545.0,1391.3 h2 M563.0,1391.3 h3 M565.0,1391.3 h3 M596.0,1391.3 h3 M607.0,1391.3 h1 M609.0,1391.3 h1 M610.0,1391.3 h4 M613.0,1391.3 h4 M634.0,1391.3 h3 M642.0,1391.3 h4 M652.0,1391.3 h2 M658.0,1391.3 h2 M674.0,1391.3 h2 M686.0,1391.3 h1 M692.0,1391.3 h3 M696.0,1391.3 h3 M705.0,1391.3 h3 M713.0,1391.3 h1 M718.0,1391.3 h3 M740.0,1391.3 h3 M743.0,1391.3 h3 M745.0,1391.3 h1 M765.0,1391.3 h4 M771.0,1391.3 h4 M803.0,1391.3 h4 M824.0,1391.3 h3 M825.0,1391.3 h2 M828.0,1391.3 h2 M836.0,1391.3 h2 M848.0,1391.3 h4 M862.0,1391.3 h4 M877.0,1391.3 h1 M883.0,1391.3 h2 M888.0,1391.3 h1 M897.0,1391.3 h1 M909.0,1391.3 h3 M925.0,1391.3 h1 M935.0,1391.3 h2 M948.0,1391.3 h2 M960.0,1391.3 h1 M975.0,1391.3 h1 M976.0,1391.3 h2 M980.0,1391.3 h3 M1012.0,1391.3 h2 M1023.0,1391.3 h3 M1027.0,1391.3 h1 M1046.0,1391.3 h2 M1049.0,1391.3 h4 M1053.0,1391.3 h4 M1058.0,1391.3 h1 M1074.0,1391.3 h1 M1105.0,1391.3 h3 M1121.0,1391.3 h2 M1134.0,1391.3 h4 M1138.0,1391.3 h3 M1145.0,1391.3 h1" stroke="#00ff00" stroke-width="1.4" fill="none"/>
<path d="M165.8,1388 V1446" stroke="#ffff00" stroke-width="1.3"/><path d="M165.8,1388 V1420" stroke="#7fff00" stroke-width="1.3"/>
<path d="M165.5,1308.5 v10 M165.5,1468.8 v-10 M412.6,1308.5 v10 M412.6,1468.8 v-10 M659.9,1308.5 v10 M659.9,1468.8 v-10 M907.2,1308.5 v10 M907.2,1468.8 v-10 M1154.5,1308.5 v10 M1154.5,1468.8 v-10 M165.5,1388.5 h10 M1154.5,1388.5 h-10" stroke="#262626" stroke-width="1.1" fill="none"/>
<rect x="165.5" y="1308.5" width="989.0" height="160.3" fill="none" stroke="#262626" stroke-width="1.1"/>
<text font-size="21" text-anchor="end" fill="#262626" textLength="36.9" lengthAdjust="spacingAndGlyphs" x="156.0" y="1315.4" >100</text>
<text font-size="21" text-anchor="end" fill="#262626" textLength="11.5" lengthAdjust="spacingAndGlyphs" x="156.0" y="1395.4" >0</text>
<text font-size="21" text-anchor="end" fill="#262626" textLength="43.8" lengthAdjust="spacingAndGlyphs" x="156.0" y="1475.7" >-100</text>
<text font-size="21" text-anchor="end" fill="#262626" textLength="24.2" lengthAdjust="spacingAndGlyphs" x="156.0" y="140.2" >80</text>
<text font-size="21" text-anchor="end" fill="#262626" textLength="24.2" lengthAdjust="spacingAndGlyphs" x="156.0" y="180.1" >60</text>
<text font-size="21" text-anchor="end" fill="#262626" textLength="24.2" lengthAdjust="spacingAndGlyphs" x="156.0" y="219.9" >40</text>
<text font-size="21" text-anchor="end" fill="#262626" textLength="24.2" lengthAdjust="spacingAndGlyphs" x="156.0" y="259.8" >20</text>
<text font-size="21" text-anchor="end" fill="#262626" textLength="11.5" lengthAdjust="spacingAndGlyphs" x="156.0" y="299.6" >0</text>
<text font-size="21" text-anchor="end" fill="#262626" textLength="24.2" lengthAdjust="spacingAndGlyphs" x="156.0" y="374.4" >80</text>
<text font-size="21" text-anchor="end" fill="#262626" textLength="24.2" lengthAdjust="spacingAndGlyphs" x="156.0" y="414.6" >60</text>
<text font-size="21" text-anchor="end" fill="#262626" textLength="24.2" lengthAdjust="spacingAndGlyphs" x="156.0" y="454.9" >40</text>
<text font-size="21" text-anchor="end" fill="#262626" textLength="24.2" lengthAdjust="spacingAndGlyphs" x="156.0" y="495.2" >20</text>
<text font-size="21" text-anchor="end" fill="#262626" textLength="11.5" lengthAdjust="spacingAndGlyphs" x="156.0" y="535.4" >0</text>
<text font-size="19.0" text-anchor="middle" fill="#262626" font-weight="bold" stroke="#262626" stroke-width="0.42" textLength="178.8" lengthAdjust="spacingAndGlyphs" transform="translate(92.5,212.8) rotate(-90)" >Outboard Sensor</text>
<text font-size="19.0" text-anchor="middle" fill="#262626" font-weight="bold" stroke="#262626" stroke-width="0.42" textLength="157.2" lengthAdjust="spacingAndGlyphs" transform="translate(117.8,212.1) rotate(-90)" >Frequency (Hz)</text>
<text font-size="19.0" text-anchor="middle" fill="#262626" font-weight="bold" stroke="#262626" stroke-width="0.42" textLength="157.7" lengthAdjust="spacingAndGlyphs" transform="translate(92.5,447.9) rotate(-90)" >Inboard Sensor</text>
<text font-size="19.0" text-anchor="middle" fill="#262626" font-weight="bold" stroke="#262626" stroke-width="0.42" textLength="157.2" lengthAdjust="spacingAndGlyphs" transform="translate(117.8,448.0) rotate(-90)" >Frequency (Hz)</text>
<text font-size="19.0" text-anchor="middle" fill="#262626" font-weight="bold" stroke="#262626" stroke-width="0.42" textLength="110.2" lengthAdjust="spacingAndGlyphs" transform="translate(105.1,685.0) rotate(-90)" >Total Field</text>
<text font-size="19.0" text-anchor="middle" fill="#262626" font-weight="bold" stroke="#262626" stroke-width="0.42" textLength="73.6" lengthAdjust="spacingAndGlyphs" transform="translate(129.5,683.7) rotate(-90)" >|B| (nT)</text>
<text font-size="19.0" text-anchor="middle" fill="#262626" font-weight="bold" stroke="#262626" stroke-width="0.42" textLength="185.0" lengthAdjust="spacingAndGlyphs" transform="translate(72.1,918.4) rotate(-90)" >Model - Measured</text>
<text font-size="19.0" text-anchor="middle" fill="#262626" font-weight="bold" stroke="#262626" stroke-width="0.42" textLength="73.6" lengthAdjust="spacingAndGlyphs" transform="translate(98.0,919.6) rotate(-90)" >|B| (nT)</text>
<text font-size="19.0" text-anchor="middle" fill="#262626" font-weight="bold" stroke="#262626" stroke-width="0.42" textLength="135.8" lengthAdjust="spacingAndGlyphs" transform="translate(85.1,1153.1) rotate(-90)" >Temperature</text>
<text font-size="19.0" text-anchor="middle" fill="#262626" font-weight="bold" stroke="#262626" stroke-width="0.42" textLength="37.6" lengthAdjust="spacingAndGlyphs" transform="translate(110.3,1152.5) rotate(-90)" >(°C)</text>
<text font-size="19.0" text-anchor="middle" fill="#262626" font-weight="bold" stroke="#262626" stroke-width="0.42" textLength="80.7" lengthAdjust="spacingAndGlyphs" transform="translate(72.1,1389.7) rotate(-90)" >Voltage</text>
<text font-size="19.0" text-anchor="middle" fill="#262626" font-weight="bold" stroke="#262626" stroke-width="0.42" textLength="48.5" lengthAdjust="spacingAndGlyphs" transform="translate(98.0,1388.8) rotate(-90)" >(mV)</text>
<text font-size="14.6" text-anchor="middle" fill="#000" font-weight="bold" stroke="#000" stroke-width="0.32" textLength="61.8" lengthAdjust="spacingAndGlyphs" transform="translate(1187.7,648.2) rotate(-90)" >Inboard</text>
<text font-size="14.6" text-anchor="middle" fill="#000" font-weight="bold" stroke="#000" stroke-width="0.32" textLength="75.0" lengthAdjust="spacingAndGlyphs" transform="translate(1200.0,662.5) rotate(-90)" >Outboard</text>
<text font-size="14.6" text-anchor="middle" fill="#000" font-weight="bold" stroke="#000" stroke-width="0.32" textLength="48.2" lengthAdjust="spacingAndGlyphs" transform="translate(1212.3,636.8) rotate(-90)" >Chaos</text>
<path d="M1182.9,719.1 V733.8" stroke="#0000ff" stroke-width="2"/>
<path d="M1197.9,719.1 V733.8" stroke="#00ff00" stroke-width="2"/>
<path d="M1209.9,719.1 V733.8" stroke="#ff0000" stroke-width="2"/>
<text font-size="14.6" text-anchor="middle" fill="#000" font-weight="bold" stroke="#000" stroke-width="0.32" textLength="61.4" lengthAdjust="spacingAndGlyphs" transform="translate(1187.7,890.2) rotate(-90)" >Inboard</text>
<text font-size="14.6" text-anchor="middle" fill="#000" font-weight="bold" stroke="#000" stroke-width="0.32" textLength="75.5" lengthAdjust="spacingAndGlyphs" transform="translate(1200.0,902.2) rotate(-90)" >Outboard</text>
<path d="M1182.9,957.1 V971.8" stroke="#0000ff" stroke-width="2"/>
<path d="M1197.9,957.1 V972.9" stroke="#00ff00" stroke-width="2"/>
<text font-size="14.6" text-anchor="middle" fill="#000" font-weight="bold" stroke="#000" stroke-width="0.32" textLength="107.2" lengthAdjust="spacingAndGlyphs" transform="translate(1188.1,1119.1) rotate(-90)" >Inboard EBox</text>
<text font-size="14.6" text-anchor="middle" fill="#000" font-weight="bold" stroke="#000" stroke-width="0.32" textLength="123.0" lengthAdjust="spacingAndGlyphs" transform="translate(1200.0,1128.2) rotate(-90)" >Inboard Sensor</text>
<text font-size="14.6" text-anchor="middle" fill="#000" font-weight="bold" stroke="#000" stroke-width="0.32" textLength="121.8" lengthAdjust="spacingAndGlyphs" transform="translate(1212.1,1128.8) rotate(-90)" >Outboard EBox</text>
<text font-size="14.6" text-anchor="middle" fill="#000" font-weight="bold" stroke="#000" stroke-width="0.32" textLength="137.6" lengthAdjust="spacingAndGlyphs" transform="translate(1224.0,1142.1) rotate(-90)" >Outboard Sensor</text>
<path d="M1185.8,1234.5 V1249" stroke="#0000ff" stroke-width="2"/>
<path d="M1185.8,1462.3 V1477.4" stroke="#0000ff" stroke-width="2"/>
<path d="M1197.9,1234.5 V1249" stroke="#00ffff" stroke-width="2"/>
<path d="M1197.9,1462.3 V1477.4" stroke="#00ffff" stroke-width="2"/>
<path d="M1209.8,1234.5 V1249" stroke="#00ff00" stroke-width="2"/>
<path d="M1209.8,1462.3 V1477.4" stroke="#00ff00" stroke-width="2"/>
<path d="M1221,1234.5 V1249" stroke="#ffff00" stroke-width="2"/>
<path d="M1221,1462.3 V1477.4" stroke="#ffff00" stroke-width="2"/>
<text font-size="14.6" text-anchor="middle" fill="#000" font-weight="bold" stroke="#000" stroke-width="0.32" textLength="121.8" lengthAdjust="spacingAndGlyphs" transform="translate(1188.0,1378.3) rotate(-90)" >Inboard VMon1</text>
<text font-size="14.6" text-anchor="middle" fill="#000" font-weight="bold" stroke="#000" stroke-width="0.32" textLength="123.0" lengthAdjust="spacingAndGlyphs" transform="translate(1200.0,1377.7) rotate(-90)" >Inboard VMon2</text>
<text font-size="14.6" text-anchor="middle" fill="#000" font-weight="bold" stroke="#000" stroke-width="0.32" textLength="135.7" lengthAdjust="spacingAndGlyphs" transform="translate(1212.0,1378.7) rotate(-90)" >Outboard VMon1</text>
<text font-size="14.6" text-anchor="middle" fill="#000" font-weight="bold" stroke="#000" stroke-width="0.32" textLength="136.3" lengthAdjust="spacingAndGlyphs" transform="translate(1224.0,1378.3) rotate(-90)" >Outboard VMon2</text>
<text font-size="14.6" text-anchor="start" fill="#000" font-weight="bold" stroke="#000" stroke-width="0.32" textLength="44.5" lengthAdjust="spacingAndGlyphs" x="41.6" y="1498.7" >Time:</text>
<text font-size="14.6" text-anchor="middle" fill="#000" font-weight="bold" stroke="#000" stroke-width="0.32" textLength="71.8" lengthAdjust="spacingAndGlyphs" x="164.9" y="1498.7" >04:19:15</text>
<text font-size="14.6" text-anchor="middle" fill="#000" font-weight="bold" stroke="#000" stroke-width="0.32" textLength="71.8" lengthAdjust="spacingAndGlyphs" x="412.2" y="1498.7" >04:44:27</text>
<text font-size="14.6" text-anchor="middle" fill="#000" font-weight="bold" stroke="#000" stroke-width="0.32" textLength="71.8" lengthAdjust="spacingAndGlyphs" x="659.6" y="1498.7" >05:09:39</text>
<text font-size="14.6" text-anchor="middle" fill="#000" font-weight="bold" stroke="#000" stroke-width="0.32" textLength="71.8" lengthAdjust="spacingAndGlyphs" x="907.0" y="1498.7" >05:34:51</text>
<text font-size="14.6" text-anchor="middle" fill="#000" font-weight="bold" stroke="#000" stroke-width="0.32" textLength="71.8" lengthAdjust="spacingAndGlyphs" x="1154.3" y="1498.7" >06:00:02</text>
<text font-size="14.6" text-anchor="start" fill="#000" font-weight="bold" stroke="#000" stroke-width="0.32" textLength="74.5" lengthAdjust="spacingAndGlyphs" x="41.6" y="1519.2" >Rad(km):</text>
<text font-size="14.6" text-anchor="middle" fill="#000" font-weight="bold" stroke="#000" stroke-width="0.32" textLength="55.5" lengthAdjust="spacingAndGlyphs" x="164.9" y="1519.2" >6919.8</text>
<text font-size="14.6" text-anchor="middle" fill="#000" font-weight="bold" stroke="#000" stroke-width="0.32" textLength="55.5" lengthAdjust="spacingAndGlyphs" x="412.2" y="1519.2" >6821.2</text>
<text font-size="14.6" text-anchor="middle" fill="#000" font-weight="bold" stroke="#000" stroke-width="0.32" textLength="55.5" lengthAdjust="spacingAndGlyphs" x="659.6" y="1519.2" >7530.5</text>
<text font-size="14.6" text-anchor="middle" fill="#000" font-weight="bold" stroke="#000" stroke-width="0.32" textLength="55.5" lengthAdjust="spacingAndGlyphs" x="907.0" y="1519.2" >7629.1</text>
<text font-size="14.6" text-anchor="middle" fill="#000" font-weight="bold" stroke="#000" stroke-width="0.32" textLength="55.5" lengthAdjust="spacingAndGlyphs" x="1154.3" y="1519.2" >6938.7</text>
<text font-size="14.6" text-anchor="start" fill="#000" font-weight="bold" stroke="#000" stroke-width="0.32" textLength="31.5" lengthAdjust="spacingAndGlyphs" x="41.6" y="1539.6" >Lat:</text>
<text font-size="14.6" text-anchor="middle" fill="#000" font-weight="bold" stroke="#000" stroke-width="0.32" textLength="41.2" lengthAdjust="spacingAndGlyphs" x="164.9" y="1539.6" >-70.8</text>
<text font-size="14.6" text-anchor="middle" fill="#000" font-weight="bold" stroke="#000" stroke-width="0.32" textLength="35.2" lengthAdjust="spacingAndGlyphs" x="412.2" y="1539.6" >27.9</text>
<text font-size="14.6" text-anchor="middle" fill="#000" font-weight="bold" stroke="#000" stroke-width="0.32" textLength="35.2" lengthAdjust="spacingAndGlyphs" x="659.6" y="1539.6" >60.3</text>
<text font-size="14.6" text-anchor="middle" fill="#000" font-weight="bold" stroke="#000" stroke-width="0.32" textLength="41.2" lengthAdjust="spacingAndGlyphs" x="907.0" y="1539.6" >-17.1</text>
<text font-size="14.6" text-anchor="middle" fill="#000" font-weight="bold" stroke="#000" stroke-width="0.32" textLength="41.2" lengthAdjust="spacingAndGlyphs" x="1154.3" y="1539.6" >-73.3</text>
<text font-size="14.6" text-anchor="start" fill="#000" font-weight="bold" stroke="#000" stroke-width="0.32" textLength="34.5" lengthAdjust="spacingAndGlyphs" x="41.6" y="1560.8" >Lon:</text>
<text font-size="14.6" text-anchor="middle" fill="#000" font-weight="bold" stroke="#000" stroke-width="0.32" textLength="45.4" lengthAdjust="spacingAndGlyphs" x="164.9" y="1560.8" >116.5</text>
<text font-size="14.6" text-anchor="middle" fill="#000" font-weight="bold" stroke="#000" stroke-width="0.32" textLength="45.4" lengthAdjust="spacingAndGlyphs" x="412.2" y="1560.8" >142.2</text>
<text font-size="14.6" text-anchor="middle" fill="#000" font-weight="bold" stroke="#000" stroke-width="0.32" textLength="41.2" lengthAdjust="spacingAndGlyphs" x="659.6" y="1560.8" >-65.1</text>
<text font-size="14.6" text-anchor="middle" fill="#000" font-weight="bold" stroke="#000" stroke-width="0.32" textLength="41.2" lengthAdjust="spacingAndGlyphs" x="907.0" y="1560.8" >-52.5</text>
<text font-size="14.6" text-anchor="middle" fill="#000" font-weight="bold" stroke="#000" stroke-width="0.32" textLength="35.2" lengthAdjust="spacingAndGlyphs" x="1154.3" y="1560.8" >86.5</text>
<text font-size="14.6" text-anchor="start" fill="#000" font-weight="bold" stroke="#000" stroke-width="0.32" textLength="41.5" lengthAdjust="spacingAndGlyphs" x="41.6" y="1580.8" >Mlat:</text>
<text font-size="14.6" text-anchor="middle" fill="#000" font-weight="bold" stroke="#000" stroke-width="0.32" textLength="41.2" lengthAdjust="spacingAndGlyphs" x="164.9" y="1580.8" >-80.2</text>
<text font-size="14.6" text-anchor="middle" fill="#000" font-weight="bold" stroke="#000" stroke-width="0.32" textLength="35.2" lengthAdjust="spacingAndGlyphs" x="412.2" y="1580.8" >19.9</text>
<text font-size="14.6" text-anchor="middle" fill="#000" font-weight="bold" stroke="#000" stroke-width="0.32" textLength="35.2" lengthAdjust="spacingAndGlyphs" x="659.6" y="1580.8" >69.7</text>
<text font-size="14.6" text-anchor="middle" fill="#000" font-weight="bold" stroke="#000" stroke-width="0.32" textLength="31.1" lengthAdjust="spacingAndGlyphs" x="907.0" y="1580.8" >-8.0</text>
<text font-size="14.6" text-anchor="middle" fill="#000" font-weight="bold" stroke="#000" stroke-width="0.32" textLength="41.2" lengthAdjust="spacingAndGlyphs" x="1154.3" y="1580.8" >-81.5</text>
<text font-size="14.6" text-anchor="start" fill="#000" font-weight="bold" stroke="#000" stroke-width="0.32" textLength="31.5" lengthAdjust="spacingAndGlyphs" x="41.6" y="1601.5" >Mlt:</text>
<text font-size="14.6" text-anchor="middle" fill="#000" font-weight="bold" stroke="#000" stroke-width="0.32" textLength="55.5" lengthAdjust="spacingAndGlyphs" x="164.9" y="1601.5" >12.744</text>
<text font-size="14.6" text-anchor="middle" fill="#000" font-weight="bold" stroke="#000" stroke-width="0.32" textLength="55.5" lengthAdjust="spacingAndGlyphs" x="412.2" y="1601.5" >14.122</text>
<text font-size="14.6" text-anchor="middle" fill="#000" font-weight="bold" stroke="#000" stroke-width="0.32" textLength="45.4" lengthAdjust="spacingAndGlyphs" x="659.6" y="1601.5" >1.083</text>
<text font-size="14.6" text-anchor="middle" fill="#000" font-weight="bold" stroke="#000" stroke-width="0.32" textLength="45.4" lengthAdjust="spacingAndGlyphs" x="907.0" y="1601.5" >2.062</text>
<text font-size="14.6" text-anchor="middle" fill="#000" font-weight="bold" stroke="#000" stroke-width="0.32" textLength="55.5" lengthAdjust="spacingAndGlyphs" x="1154.3" y="1601.5" >10.221</text>
<text font-size="14.6" text-anchor="middle" fill="#000" font-weight="bold" stroke="#000" stroke-width="0.32" textLength="1228.5" lengthAdjust="spacingAndGlyphs" x="636.2" y="1639.9" >MGF Quicklook using MGF_20160507_041915_060002_v2.1.0.lv2 on 19-Nov-2021 20:14:22 (calibration from cas_mgf_7day_cal_2016_05_06_v2.1.mat )</text>
</svg>
</body></html>
